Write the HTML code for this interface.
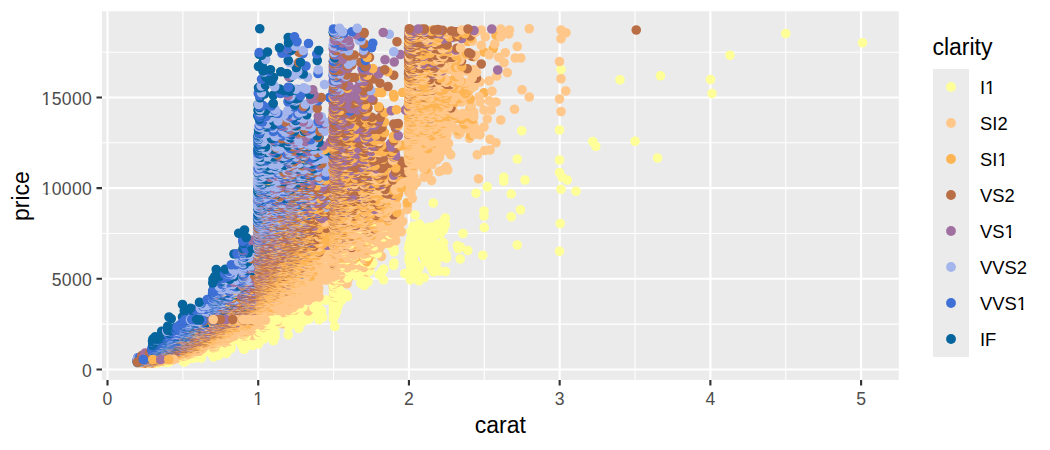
<!DOCTYPE html>
<html><head><meta charset="utf-8"><style>
html,body{margin:0;padding:0;background:#fff;width:1050px;height:450px;overflow:hidden}
svg{display:block;font-family:"Liberation Sans",sans-serif}
</style></head><body>
<svg width="1050" height="450" viewBox="0 0 1050 450">
<rect x="102.0" y="11.3" width="796.8" height="368.6" fill="#EBEBEB"/>
<path d="M182.86 11.3V379.9M333.58 11.3V379.9M484.30 11.3V379.9M635.02 11.3V379.9M785.74 11.3V379.9M102.0 324.12H898.8M102.0 233.47H898.8M102.0 142.81H898.8M102.0 52.16H898.8" stroke="#fff" stroke-width="1.07" fill="none"/>
<path d="M107.50 11.3V379.9M258.22 11.3V379.9M408.94 11.3V379.9M559.66 11.3V379.9M710.38 11.3V379.9M861.10 11.3V379.9M102.0 369.45H898.8M102.0 278.79H898.8M102.0 188.14H898.8M102.0 97.48H898.8" stroke="#fff" stroke-width="2.13" fill="none"/>
<style>.k0{stroke:#FFFF99}.k1{stroke:#FFC78A}.k2{stroke:#FDB453}.k3{stroke:#BA6E45}.k4{stroke:#A070A0}.k5{stroke:#A3B5EB}.k6{stroke:#3E70D6}.k7{stroke:#05659C}</style><g transform="scale(0.25)" stroke-width="38.4" stroke-linecap="round" fill="none"><path class="k0" d="M3143 134zm307 37zm-530 50zm-676 57zm598 40zm-200-15zm-162 16zm368 55zm-610 146zm-151 3zm284 43zm12 19zm157-20zm90 67zm-561 4zm169 4zm10 69zm-10-19zm-223 19zm-66 38zm66-22zm85-5zm144 37zm25-37zm35 45zm-259 11zm-141-3zm-171 39zm349 27zm-37 28zm-109-23zm0 20zm-155 8zm-121-12zm-7 45zm2 1zm4 12zm17-22zm4 5zm28 11zm12-4zm17-1zm14-10zm23 22zm2-36zm6 16zm155 11zm304-16zm-389 40zm-91 3zm-4-11zm-26 18zm-22-20zm-7 35zm0-39zm-1 27zm-1-23zm-3 5zm-6 16zm-13-1zm-10 8zm-4-10zm-5 9zm-11-1zm-5 5zm-67 41zm58-1zm3-11zm0-9zm11-2zm12 16zm7 1zm5-22zm1 28zm0-22zm0-7zm1 10zm15 10zm3-21zm5 10zm12 6zm5-22zm5 37zm3-34zm10-3zm8 15zm3 15zm31 7zm0-26zm56 12zm3 11zm8-6zm228-8zm169 25zm-307 16zm-60-19zm-30 34zm-55-3zm0-12zm-10 6zm-7 0zm-14-17zm-9 25zm-24-34zm-1 25zm0-19zm-5 16zm-3-16zm-6 21zm-1-28zm-8 33zm-1-13zm-9-7zm-17-11zm0-1zm-18 30zm0-26zm-10 25zm0-2zm-2 1zm0-3zm-5 5zm0-3zm-60-21zm-41 69zm39-15zm2-9zm60-10zm6 21zm1-18zm9 0zm1 21zm1-26zm12 21zm1 8zm10 3zm26-24zm6-3zm16 26zm0-15zm20-1zm37 31zm-24-2zm-24 3zm-37 23zm-26-11zm-1-17zm-28 3zm-1 34zm-22-25zm-85 25zm-6-34zm-11 14zm-49-10zm-6 23zm0-9zm-6-12zm-2 16zm-1 9zm-10-15zm0 32zm13-9zm1 18zm15-15zm204-4zm-286 63zm-6-9zm-33 13zm-3 5zm-3-4zm-3 8zm-2-1zm0-1zm0-8zm-1 4zm0 0zm-3 0zm-1 3zm0-5zm-2-2zm-64 28zm9 18zm21-35zm7 0zm27 18zm0 0zm0-11zm0-3zm1 32zm0-3zm0-1zm0-21zm0-10zm1 24zm0-13zm0-6zm1 17zm0-1zm0-8zm0-10zm3 17zm0 0zm0-5zm0-5zm0-4zm1 25zm0-1zm0-3zm0-26zm1 24zm0-15zm0-1zm1 19zm3 4zm0-12zm0-3zm0-3zm2 1zm1 7zm0-13zm4 16zm1-23zm12 0zm-19 43zm-5 13zm-1-8zm0-7zm-1 13zm-3-15zm-1 26zm0-4zm0-3zm0-21zm-1 6zm-1 29zm0-21zm-42 15zm-5-26zm-6 11zm0-2zm-4 27zm-16-25zm-24 22zm-16-3zm0-4zm-8-12zm-18 3zm-118 50zm17 1zm20-15zm40 12zm1-8zm10-3zm31 16zm12-23zm132 16zm-186 33zm-52-8zm-1 17zm-5-20zm-8 14zm-19 1zm-11 12zm-13-7zm-4 6zm0-3zm-1-7zm-5 12zm-54 1zm0-8zm-2 10zm-6-2zm-1-6zm-119 44zm1 4zm4 0zm0-2zm0-2zm0 0zm0-1zm2 5zm1-1zm22-2zm0-3zm0-2zm5 6zm1 2zm2 0zm6-2zm10-3zm5 2zm0-2zm1 4zm0-14zm1 13zm5-15zm6 12zm1-4zm40-12zm6 6zm0-11zm0-11zm1 28zm0-17zm1 10zm0-2zm0-5zm0 0zm0-3zm0-2zm0-5zm0-4zm1 34zm0-10zm0-2zm0-5zm0-3zm3 21zm0-10zm2-18zm0-3zm1 23zm6-14zm10-5zm14 12zm24-6zm0-6zm0-6zm7-3zm53 2zm-188 50zm-13-12zm-5 3zm-13 17zm0-18zm-4 10zm0-10zm-6 17zm0-14zm-1 6zm0-3zm-1-1zm-3-5zm0-2zm-1 10zm0-5zm0-6zm-1 8zm0-3zm-1 14zm0-5zm-1-13zm-2 27zm0-14zm0-14zm-1 19zm0-6zm0-4zm0-2zm0-1zm0-5zm-1 13zm0-2zm0-1zm0-3zm0-4zm-1 14zm0-9zm0-2zm-5 6zm-41 19zm0-3zm-1-4zm-7-8zm-12 10zm-5 4zm0-1zm0-4zm-11 7zm-6-8zm-7 8zm-1-1zm-10 3zm0-2zm-1 4zm-7 2zm-7-5zm-142 20zm6-1zm30 0zm47-3zm8-3zm52-4zm1 2zm0-3zm5 6zm0-3zm2-3zm4 2z"/><path class="k3" d="M2545 120zm-620 136zm-350 45z"/><path class="k2" d="M1984 141zm-11 54zm-37 13zm-41 19zm41 144zm-360 17zm-2-10zm-47-7zm-556 876zm-5 0z"/><path class="k1" d="M2003 116zm114-1zm147 16zm-20-11zm0 35zm-206-35zm-3 16zm-32 11zm-62 0zm-16-27zm0 61zm54-5zm90 10zm14 46zm-22 0zm-40-21zm-26 18zm-38-10zm59 32zm222-5zm6 69zm-215-25zm-42 14zm-121-20zm54 44zm37-5zm131 36zm175 5zm-25 32zm-121-8zm-149-23zm-51 22zm3 21zm37-5zm27 5zm74 29zm186 9zm-279-6zm-16 36zm-13-36zm0 68zm67-28zm-43 77zm-40-18zm-42 14zm-37-21zm-7 6zm-5-9zm-41 9zm-20 10zm-61 47zm9 1zm4 3zm49 0zm5 0zm6-30zm6 19zm0-24zm1 1zm7 9zm190-3zm-24 29zm-21 2zm-30 17zm-106 0zm-12-15zm-27 2zm-2 4zm-4 19zm-9 10zm-5-19zm-16 0zm-33 9zm-1-25zm-9 26zm100 37zm129 48zm-123-35zm-24 2zm-6 2zm-4 2zm-44 8zm-5-6zm-12 21zm-41-3zm-19-2zm-2 11zm0-1zm0 41zm20-10zm12-15zm60-8zm-85 46zm-12 70zm1-13zm-31 75zm7-10zm5-5zm-5 42zm-25 13zm-55 86zm-212 43zm154 19zm-175 18zm-14 13zm-4-2zm-1-7zm-8 5zm-4-1zm-24 39zm0-12zm0-6zm2 0zm4 8zm0-14zm4 15zm1-1zm1-6zm5 14zm11-5zm7-7zm0-7zm0-8zm1 3zm1 25zm4-32zm61 69zm-64-1zm-2-24zm-1 6zm-15 13zm-15-17zm-4 1zm-7-5zm-5 23zm-2-15zm-1 1zm-2 15zm-1-9zm-1-5zm-1 1zm-5 3zm-8 8zm0-9zm0-8zm-3 9zm-1-7zm-2-2zm-3 8zm0-1zm-1 5zm-7-11zm44 76zm-79 8zm-2-4zm-21 5zm-2-2zm-6-2zm-13 0zm-4-4zm-13 1zm-1-3zm-5-2zm-5 1zm-6 4zm-8 0zm-1-1zm-246 9zm308 41zm-541 158z"/><path class="k4" d="M1967 116zm-390 132zm414 32zm-603 89z"/><path class="k6" d="M1272 294zm-662 1092zm-59 45z"/><path class="k7" d="M1039 115zm54 266zm-354 879zm-3 6zm-6 2zm-45 7zm-9-7z"/><path class="k6" d="M755 1247zm-12 7z"/><path class="k5" d="M1273 279zm-43 30zm-401 941z"/><path class="k7" d="M1269 242zm-539 976zm121 30zm-78-4zm-36 0z"/><path class="k0" d="M1643 926zm-199 151zm35 8zm-25-4zm-91 108zm-15-3zm0-3zm-1-5zm-5 8zm-1-4zm0-9zm-1 14zm0-8zm-1 3zm-5-8zm-79 56zm-82 14zm-3 4zm-16-2zm-1 0zm-43 43zm7 2zm0-3zm23-1zm8 5zm4 1zm0-2zm1-1zm1 2zm5-1zm1-4zm10-2zm49-5z"/><path class="k5" d="M851 1246z"/><path class="k6" d="M1267 216zm-415 1030z"/><path class="k5" d="M817 1245z"/><path class="k7" d="M1275 202zm-424 1043zm0-1zm-47 0z"/><path class="k5" d="M852 1242zm-1 1zm0-2zm-34 2zm-24 1z"/><path class="k1" d="M1484 1060zm-150 113zm-83 17zm-110 49zm18 0zm5 0zm1 0zm14 1zm-26 2zm-1 0zm-22-2zm-1 3zm0-2zm-7 2zm-5 1z"/><path class="k3" d="M1888 225zm-336 121zm-603 897zm-373 210z"/><path class="k4" d="M971 1243zm-46-1z"/><path class="k2" d="M1883 542zm-50-19zm-130 153zm-74 135zm-604 432z"/><path class="k1" d="M1902 221zm-86 291zm26 6zm28-4zm35 3zm-6 18zm-3 3zm-186 98zm-16 38zm8-12zm7-8zm19 4zm-79 136zm-5-21zm-640 469z"/><path class="k3" d="M997 1242zm-102-1z"/><path class="k6" d="M875 1240zm-4 0zm-78 2z"/><path class="k2" d="M1859 497zm-146 97zm-681 648zm-61 0z"/><path class="k1" d="M1888 491zm6 5zm-138 95zm-685 651zm-6-1zm-3 0zm-4 0zm-7 1z"/><path class="k5" d="M823 1242z"/><path class="k6" d="M787 1242zm-2 0z"/><path class="k2" d="M1853 490zm-843 752z"/><path class="k3" d="M1025 1241zm-88 0z"/><path class="k4" d="M971 1241z"/><path class="k3" d="M932 1241z"/><path class="k6" d="M895 1241z"/><path class="k5" d="M992 1241zm-195-1z"/><path class="k1" d="M1852 482zm25 7zm-831 751z"/><path class="k2" d="M1891 477zm-14-8zm-803 771zm-139 0z"/><path class="k5" d="M1009 1240z"/><path class="k2" d="M1032 1239zm-35 1z"/><path class="k3" d="M986 1240z"/><path class="k4" d="M911 1240z"/><path class="k7" d="M890 1240z"/><path class="k5" d="M877 1239zm-13 1zm-13 0z"/><path class="k2" d="M1015 1240zm-5 0zm-18 0z"/><path class="k3" d="M942 1240z"/><path class="k1" d="M1879 436zm5-9zm11 39zm0-17zm-977 790zm140 0zm11 0z"/><path class="k4" d="M943 1239z"/><path class="k2" d="M971 1239zm74 0z"/><path class="k3" d="M974 1239zm17 0z"/><path class="k6" d="M781 1237zm11-2zm4 0zm3 3zm53 1z"/><path class="k1" d="M1052 1239z"/><path class="k4" d="M864 1239zm116 0zm5 0z"/><path class="k2" d="M1033 1239z"/><path class="k1" d="M971 1239zm61 0zm6 0zm15 0zm2 0z"/><path class="k3" d="M973 1239z"/><path class="k4" d="M1015 1239z"/><path class="k6" d="M852 1239zm24-1z"/><path class="k2" d="M995 1239z"/><path class="k4" d="M962 1238z"/><path class="k0" d="M1335 1155zm5-1zm11 1zm12 16zm-9-5zm-2 3zm-4 0zm-6 4zm-3-5zm-3 0zm0-8zm-1 2zm-1 8zm-235 68zm74-1zm-2 44zm-560 172zm6-1z"/><path class="k5" d="M863 1238z"/><path class="k4" d="M896 1238z"/><path class="k5" d="M869 1238zm37 0z"/><path class="k3" d="M889 1238zm42 0zm54 0z"/><path class="k1" d="M1339 1152zm-308 86zm15 0zm67 0zm5-5zm22-8zm1 4zm5 8zm12-2zm0 0zm1-2zm-589 219zm40 0z"/><path class="k2" d="M992 1238z"/><path class="k3" d="M1014 1238zm-405 213z"/><path class="k1" d="M1044 1238zm-428 213z"/><path class="k2" d="M1032 1238z"/><path class="k4" d="M979 1238zm1 0z"/><path class="k6" d="M883 1238z"/><path class="k5" d="M841 1238zm22 0zm50 0zm60 0zm-422 213z"/><path class="k1" d="M1040 1238zm-472 213z"/><path class="k4" d="M908 1238z"/><path class="k1" d="M912 1238z"/><path class="k3" d="M919 1238zm12-1zm7 0zm27 0z"/><path class="k6" d="M803 1236zm19 1z"/><path class="k2" d="M912 1237zm144 0zm12 0zm-518 214zm17-1zm33 1z"/><path class="k1" d="M858 1237zm132 0zm41 0zm2 0zm48 0zm8 0zm6-4zm5 2zm10-1z"/><path class="k4" d="M907 1237z"/><path class="k3" d="M892 1237zm3-1zm5 1zm86 0z"/><path class="k5" d="M804 1234zm47 3z"/><path class="k2" d="M931 1236zm103 1z"/><path class="k1" d="M1010 1237zm34 0zm9 0zm15 0z"/><path class="k6" d="M851 1237z"/><path class="k4" d="M971 1236z"/><path class="k2" d="M1039 1236z"/><path class="k5" d="M864 1236z"/><path class="k3" d="M908 1236zm10 0zm30 0zm25 0zm7 0z"/><path class="k6" d="M851 1236zm12 0z"/><path class="k1" d="M991 1236zm43 0zm12 0zm24 0z"/><path class="k3" d="M899 1236z"/><path class="k7" d="M762 1233zm143 3z"/><path class="k4" d="M990 1236z"/><path class="k5" d="M802 1232zm6 2zm61 2z"/><path class="k2" d="M950 1235zm16 0zm78 1z"/><path class="k6" d="M852 1235zm11 0z"/><path class="k3" d="M986 1235z"/><path class="k1" d="M971 1235zm60 0zm0-1zm2 0zm5 0zm5 1zm12-1zm2 1zm0 0zm10 0zm15 0zm4-2z"/><path class="k5" d="M851 1235zm6 0zm90 0z"/><path class="k3" d="M926 1235zm47 0z"/><path class="k2" d="M912 1235zm126-1z"/><path class="k4" d="M857 1235zm13 0z"/><path class="k1" d="M925 1235zm119-1zm7 0z"/><path class="k3" d="M967 1235z"/><path class="k4" d="M971 1235z"/><path class="k7" d="M853 1235zm31-1z"/><path class="k2" d="M899 1234zm73 0zm11 0zm49-1zm30 0z"/><path class="k3" d="M924 1234zm13 0z"/><path class="k7" d="M859 1234z"/><path class="k1" d="M869 1234zm183-1zm16 0zm7-1z"/><path class="k3" d="M900 1234z"/><path class="k2" d="M919 1234zm53 0z"/><path class="k6" d="M858 1234z"/><path class="k5" d="M852 1234zm1-1zm78 1z"/><path class="k4" d="M851 1233zm129 1z"/><path class="k2" d="M990 1234z"/><path class="k3" d="M924 1234z"/><path class="k4" d="M972 1233z"/><path class="k2" d="M911 1233z"/><path class="k6" d="M850 1233zm1 0zm7 0zm1 0z"/><path class="k3" d="M973 1233zm12 0zm6 0zm12 0z"/><path class="k4" d="M906 1233z"/><path class="k2" d="M974 1232zm4 0zm38 0z"/><path class="k5" d="M851 1232zm2 0z"/><path class="k1" d="M920 1232zm111 0zm7 0zm8 0z"/><path class="k2" d="M1031 1232z"/><path class="k1" d="M991 1232zm18 0zm30 0zm7 0zm18 0zm6 0z"/><path class="k4" d="M874 1232zm31 0z"/><path class="k0" d="M1333 1151zm7 0zm5-4zm1 4zm2-2zm6-1zm5 1zm-175 83zm-548 218z"/><path class="k5" d="M864 1232zm17 0z"/><path class="k2" d="M1095 1232z"/><path class="k1" d="M1333 1146zm-422 86zm145-1zm8 0zm23 0zm42-1zm1 0zm12-8zm13 5zm3-3zm2 1zm1 3zm0-2zm4 3zm6 2zm0 0zm-573 219zm19 0z"/><path class="k2" d="M919 1231zm96 0zm-442 219z"/><path class="k3" d="M983 1231z"/><path class="k2" d="M990 1231z"/><path class="k1" d="M956 1231zm34 0zm54 0zm-435 219z"/><path class="k4" d="M864 1231zm48 0z"/><path class="k5" d="M857 1231zm-308 219z"/><path class="k6" d="M851 1231z"/><path class="k3" d="M887 1231zm56 0zm31 0zm4 0zm25 0zm-392 219z"/><path class="k1" d="M1031 1231zm-412 218zm2 0zm9 0z"/><path class="k4" d="M911 1231zm0 0z"/><path class="k2" d="M1040 1231zm-482 219z"/><path class="k6" d="M864 1231z"/><path class="k5" d="M858 1231z"/><path class="k3" d="M989 1231zm-414 218z"/><path class="k4" d="M968 1231z"/><path class="k1" d="M971 1231zm87-1zm24 0z"/><path class="k2" d="M929 1231zm63-1zm9 1zm43-1zm25 0z"/><path class="k5" d="M894 1231zm6-1z"/><path class="k3" d="M944 1230z"/><path class="k7" d="M852 1230z"/><path class="k5" d="M853 1229zm5 1zm62 0z"/><path class="k1" d="M991 1230zm31 0zm40 0z"/><path class="k2" d="M971 1230zm78 0zm40 0z"/><path class="k1" d="M985 1230zm46 0zm1-1zm1 1zm6 0zm12-1zm1 1zm7-1zm5 0zm30 0zm19 0zm16 0z"/><path class="k3" d="M947 1230z"/><path class="k2" d="M971 1230zm2 0zm5 0zm5 0z"/><path class="k4" d="M917 1230z"/><path class="k3" d="M971 1229zm9 0z"/><path class="k4" d="M992 1229z"/><path class="k2" d="M884 1229zm33 0z"/><path class="k3" d="M1008 1229z"/><path class="k4" d="M971 1229z"/><path class="k5" d="M869 1229z"/><path class="k1" d="M985 1229zm47 0zm13-1z"/><path class="k2" d="M971 1229zm37-1zm78 0z"/><path class="k6" d="M851 1229zm-284 220zm1 0z"/><path class="k3" d="M894 1229z"/><path class="k7" d="M863 1229z"/><path class="k4" d="M883 1228zm23 0zm74 0z"/><path class="k1" d="M1033 1228zm74-1zm-525 221z"/><path class="k3" d="M908 1228z"/><path class="k5" d="M834 1228zm137 0z"/><path class="k2" d="M920 1228zm112 0zm5 0zm15 0zm-440 220z"/><path class="k3" d="M937 1228zm41 0z"/><path class="k6" d="M850 1228zm14 0z"/><path class="k2" d="M991 1228z"/><path class="k0" d="M1335 1144zm0-3zm17 2zm1 0zm-141 85zm-552 220zm10-1zm0 0z"/><path class="k3" d="M971 1228z"/><path class="k7" d="M852 1228z"/><path class="k1" d="M1341 1137zm-116 56zm-16-5zm-1-3zm-2 9zm-138 34zm102-3zm2-1zm7-1zm54-21z"/><path class="k2" d="M1009 1228zm38-1zm15 0zm18 0z"/><path class="k4" d="M913 1227z"/><path class="k1" d="M911 1227zm108 0zm39 0zm52-1zm2 1zm7-3z"/><path class="k5" d="M857 1227zm1 0zm14 0zm-281 221z"/><path class="k2" d="M985 1227zm46 0zm10 0zm10 0zm-481 221zm5 0z"/><path class="k7" d="M906 1227z"/><path class="k3" d="M972 1227zm6 0zm14 0zm-376 221z"/><path class="k5" d="M894 1227zm19 0z"/><path class="k2" d="M979 1227zm55 0z"/><path class="k3" d="M973 1227z"/><path class="k2" d="M1010 1227z"/><path class="k1" d="M1056 1227zm2 0zm34-1zm1-1zm-489 223z"/><path class="k4" d="M917 1227zm-336 221z"/><path class="k6" d="M875 1227z"/><path class="k5" d="M851 1226z"/><path class="k3" d="M1016 1226zm3 0z"/><path class="k6" d="M811 1225zm17 0zm30 1z"/><path class="k4" d="M894 1226zm12 0z"/><path class="k2" d="M984 1226zm54 0z"/><path class="k1" d="M1032 1226z"/><path class="k4" d="M978 1226z"/><path class="k3" d="M926 1226zm46 0zm2 0zm9 0zm14 0zm4 0z"/><path class="k1" d="M1031 1226z"/><path class="k2" d="M1044 1226z"/><path class="k3" d="M991 1226z"/><path class="k1" d="M1044 1226z"/><path class="k4" d="M900 1225zm23 1zm44-1z"/><path class="k6" d="M851 1225z"/><path class="k3" d="M979 1225zm13 0zm15 0z"/><path class="k5" d="M890 1225zm63 0z"/><path class="k3" d="M882 1225z"/><path class="k5" d="M851 1225zm5 0z"/><path class="k6" d="M853 1224zm11 0zm49 1z"/><path class="k3" d="M924 1225z"/><path class="k2" d="M918 1224zm91 1z"/><path class="k1" d="M1045 1225z"/><path class="k3" d="M971 1224zm27 0zm28 0z"/><path class="k1" d="M1037 1224z"/><path class="k2" d="M1020 1224z"/><path class="k1" d="M1041 1224zm12 0z"/><path class="k3" d="M977 1224zm2 0zm53 0z"/><path class="k5" d="M814 1223zm19 0zm17 1zm1 0zm13 0z"/><path class="k1" d="M1064 1224z"/><path class="k4" d="M895 1224zm19 0zm15 0zm3 0zm9 0z"/><path class="k2" d="M949 1224zm10-1zm36 1zm57 0zm24 0zm12 0z"/><path class="k3" d="M972 1223zm25 0zm10 1zm7 0z"/><path class="k1" d="M1045 1224zm17-1zm36 0zm9-1zm5 1zm5-4zm11 5z"/><path class="k5" d="M859 1223zm7 0zm39 1z"/><path class="k2" d="M974 1223zm41 0z"/><path class="k1" d="M1001 1223zm33 0zm10 0z"/><path class="k4" d="M871 1223z"/><path class="k2" d="M1026 1223z"/><path class="k6" d="M850 1223zm6 0z"/><path class="k1" d="M1031 1223zm9 0zm28 0z"/><path class="k3" d="M920 1223zm59 0z"/><path class="k2" d="M985 1223zm72 0z"/><path class="k3" d="M973 1223z"/><path class="k1" d="M908 1223zm22 0zm121-1z"/><path class="k7" d="M980 1223zm-431 225z"/><path class="k0" d="M1346 1136zm-174 86zm-548 226zm29-1zm4 1z"/><path class="k4" d="M913 1222zm78 0zm-424 225z"/><path class="k1" d="M1336 1135zm52 0zm-476 87zm120 0zm98-7zm0-1zm0-3zm4 7zm0 0zm3-3zm0-3zm3-2zm9 10zm3 2zm1-3zm0-8zm0-1zm0-2zm0 0zm5 2zm1 5zm1-1zm0-9zm1 0zm4 14zm0-2zm1-1zm0-9zm1 14zm4-17zm2 14zm3 4zm0 0zm2-7zm4-11zm8 2zm7 0zm3 9z"/><path class="k5" d="M859 1222zm-253 225z"/><path class="k7" d="M851 1222z"/><path class="k3" d="M906 1222zm59 0z"/><path class="k4" d="M971 1222z"/><path class="k1" d="M1009 1222zm-415 225zm5 0zm25 0z"/><path class="k5" d="M859 1222z"/><path class="k3" d="M1003 1222z"/><path class="k4" d="M888 1221zm84 1zm7 0zm-406 225zm14 0z"/><path class="k2" d="M971 1222zm49 0zm17 0zm8 0zm22 0zm-449 225z"/><path class="k1" d="M997 1221zm43 1zm60-1z"/><path class="k2" d="M977 1221z"/><path class="k6" d="M911 1221z"/><path class="k4" d="M1025 1221z"/><path class="k1" d="M1063 1221z"/><path class="k3" d="M920 1221zm83 0z"/><path class="k7" d="M853 1221z"/><path class="k6" d="M850 1221z"/><path class="k1" d="M974 1221z"/><path class="k4" d="M936 1220zm35 1zm2 0zm0-1z"/><path class="k2" d="M1057 1221z"/><path class="k1" d="M1038 1221zm2-1zm5 1zm17 0zm32-1z"/><path class="k5" d="M851 1219zm3 1zm0-1zm9 1zm18 0zm-312 227zm29 0z"/><path class="k4" d="M919 1220z"/><path class="k3" d="M924 1220zm47 0zm-390 227z"/><path class="k2" d="M986 1220zm5 0zm40 0zm7 0zm6 0zm7 0zm12 0zm-471 227z"/><path class="k7" d="M899 1220zm-342 226z"/><path class="k1" d="M1081 1220zm7 0zm12-1z"/><path class="k5" d="M1009 1220z"/><path class="k1" d="M1032 1219zm18 1z"/><path class="k3" d="M923 1220zm57 0z"/><path class="k5" d="M889 1220z"/><path class="k4" d="M971 1219zm3 1z"/><path class="k3" d="M1015 1219z"/><path class="k6" d="M911 1219z"/><path class="k4" d="M948 1219z"/><path class="k1" d="M1040 1219zm0 0zm6 0z"/><path class="k5" d="M869 1219z"/><path class="k2" d="M984 1219zm50 0zm46 0zm-513 227z"/><path class="k3" d="M947 1219zm42 0z"/><path class="k7" d="M920 1219z"/><path class="k2" d="M972 1219zm60 0z"/><path class="k5" d="M973 1219z"/><path class="k6" d="M852 1219zm17 0z"/><path class="k3" d="M1026 1219z"/><path class="k4" d="M906 1219z"/><path class="k1" d="M1032 1219zm11-1zm9 0zm6 0zm6 0zm18-1zm4 1zm12 0zm8-1zm7-3zm3 1z"/><path class="k5" d="M817 1217zm24 1zm17 0zm12 0zm25 1zm4-1z"/><path class="k2" d="M971 1218zm21 0z"/><path class="k1" d="M1031 1218z"/><path class="k3" d="M977 1218z"/><path class="k6" d="M869 1218zm9-1z"/><path class="k2" d="M1038 1218z"/><path class="k1" d="M984 1218zm56 0z"/><path class="k3" d="M973 1218zm61 0z"/><path class="k4" d="M971 1217z"/><path class="k3" d="M1008 1217z"/><path class="k2" d="M972 1217zm91 0z"/><path class="k5" d="M851 1217zm2 0zm13 0z"/><path class="k1" d="M1047 1217zm10 0zm14 0zm22 0z"/><path class="k7" d="M913 1217z"/><path class="k2" d="M923 1217zm127 0z"/><path class="k4" d="M992 1217z"/><path class="k3" d="M984 1217z"/><path class="k2" d="M1032 1217z"/><path class="k4" d="M972 1216z"/><path class="k1" d="M1039 1216zm13 0z"/><path class="k6" d="M857 1216zm73 0z"/><path class="k3" d="M990 1216z"/><path class="k2" d="M1037 1216zm32 0z"/><path class="k4" d="M978 1216z"/><path class="k1" d="M1003 1216zm85 0z"/><path class="k2" d="M973 1216zm61 0zm35 0z"/><path class="k5" d="M851 1216z"/><path class="k4" d="M936 1216zm1 0zm49 0z"/><path class="k5" d="M943 1216z"/><path class="k2" d="M1026 1216z"/><path class="k4" d="M1004 1216z"/><path class="k2" d="M984 1216z"/><path class="k6" d="M851 1215zm20 1z"/><path class="k1" d="M1053 1215zm5 1zm11-1zm37 1zm5-2zm1 1z"/><path class="k3" d="M920 1215zm51 0zm36 0z"/><path class="k5" d="M863 1215z"/><path class="k4" d="M980 1215z"/><path class="k3" d="M974 1215z"/><path class="k1" d="M893 1215zm145 0z"/><path class="k6" d="M852 1215zm13 0z"/><path class="k3" d="M906 1215z"/><path class="k4" d="M900 1215zm17-1z"/><path class="k2" d="M1053 1215z"/><path class="k3" d="M1017 1215z"/><path class="k5" d="M839 1215zm30 0z"/><path class="k4" d="M896 1214zm88 1z"/><path class="k2" d="M1015 1215z"/><path class="k1" d="M1032 1215zm12 0zm25 0z"/><path class="k2" d="M1034 1215zm6 0z"/><path class="k1" d="M1046 1214zm5 0zm11 1zm19-1z"/><path class="k5" d="M857 1214zm129 1z"/><path class="k4" d="M996 1214zm12 0z"/><path class="k3" d="M971 1214zm13 0zm49 0z"/><path class="k4" d="M978 1214z"/><path class="k2" d="M971 1214z"/><path class="k1" d="M1058 1214zm16 0z"/><path class="k2" d="M1043 1214z"/><path class="k3" d="M1069 1214z"/><path class="k2" d="M1035 1214z"/><path class="k3" d="M1040 1214z"/><path class="k6" d="M805 1214zm54 0zm58-1z"/><path class="k7" d="M851 1214zm165-1z"/><path class="k5" d="M798 1213zm53 0zm0-1zm6 1zm55 0z"/><path class="k2" d="M1073 1213z"/><path class="k1" d="M1087 1213zm8 0zm6-1z"/><path class="k4" d="M899 1212zm48 1zm38 0z"/><path class="k2" d="M1010 1213z"/><path class="k3" d="M1031 1213z"/><path class="k4" d="M1002 1213z"/><path class="k1" d="M1025 1212zm38 0z"/><path class="k2" d="M1032 1212z"/><path class="k1" d="M1046 1212z"/><path class="k3" d="M961 1212zm13 0z"/><path class="k6" d="M858 1212zm0 0zm36 0z"/><path class="k2" d="M1032 1212zm6 0z"/><path class="k1" d="M1032 1212z"/><path class="k2" d="M1071 1212z"/><path class="k4" d="M992 1212z"/><path class="k3" d="M971 1212zm1-1zm78 0z"/><path class="k1" d="M1087 1211zm24 1z"/><path class="k7" d="M798 1209zm56 2zm22 0z"/><path class="k2" d="M984 1211z"/><path class="k4" d="M1034 1211z"/><path class="k1" d="M918 1211zm55 0zm66 0z"/><path class="k2" d="M1008 1211zm29 0z"/><path class="k1" d="M977 1211zm12 0zm69 0zm7-1zm3 1z"/><path class="k5" d="M852 1211z"/><path class="k7" d="M914 1211zm17-1z"/><path class="k6" d="M851 1211zm12 0z"/><path class="k4" d="M1009 1211zm0 0z"/><path class="k3" d="M913 1210zm72 0z"/><path class="k5" d="M853 1210zm4 0zm25-1zm6 0zm11 0zm8 0zm76 1z"/><path class="k3" d="M1021 1210z"/><path class="k2" d="M996 1210zm53 0z"/><path class="k3" d="M980 1210z"/><path class="k1" d="M1082 1210z"/><path class="k4" d="M923 1209zm87 1z"/><path class="k2" d="M1075 1210z"/><path class="k1" d="M1031 1210zm9 0zm4 0zm19 0zm41-2zm2 1z"/><path class="k3" d="M977 1210zm61 0z"/><path class="k2" d="M980 1210z"/><path class="k4" d="M971 1210z"/><path class="k1" d="M1039 1210zm23-1z"/><path class="k2" d="M1031 1209z"/><path class="k1" d="M1070 1209z"/><path class="k2" d="M1055 1209zm4 0z"/><path class="k1" d="M1062 1209zm0-1zm25 1z"/><path class="k7" d="M911 1209z"/><path class="k3" d="M966 1209z"/><path class="k2" d="M991 1209zm103-1z"/><path class="k6" d="M866 1209z"/><path class="k3" d="M973 1209z"/><path class="k5" d="M858 1208zm11 0zm7 1z"/><path class="k4" d="M980 1209z"/><path class="k2" d="M1003 1209z"/><path class="k1" d="M1032 1208zm68 0zm17 0zm11-3zm8-1z"/><path class="k5" d="M973 1208z"/><path class="k4" d="M980 1208z"/><path class="k2" d="M1016 1208zm17 0zm13 0zm114-4z"/><path class="k1" d="M1195 1179zm-6 15zm0-8zm0-4zm-4 5zm0-4zm-1-7zm-2 18zm0-4zm-4-9zm-1 9zm0-14zm0-3zm0-1zm-1 19zm0-22zm0-2zm-3 31zm-3-2zm0-4zm-3 3zm-6 3zm-130 10zm0 0zm1-1zm5 1zm14 0zm19 0zm60-5zm19 0zm5 0zm4-1zm3-1zm6 0zm5 1zm1 0zm4 1zm13-2zm7-1z"/><path class="k5" d="M979 1208z"/><path class="k6" d="M851 1207zm68 1z"/><path class="k3" d="M972 1208z"/><path class="k1" d="M912 1208z"/><path class="k2" d="M1081 1207z"/><path class="k5" d="M858 1207zm1-1zm16 1z"/><path class="k1" d="M1062 1207zm35 0zm3 0zm0-1z"/><path class="k2" d="M1034 1207z"/><path class="k1" d="M1038 1207zm8 0zm28 0z"/><path class="k4" d="M977 1207z"/><path class="k3" d="M919 1205zm53 2zm20 0z"/><path class="k2" d="M980 1207zm73 0z"/><path class="k7" d="M973 1207z"/><path class="k1" d="M1057 1207zm5-1zm18 0zm2 1z"/><path class="k2" d="M991 1207z"/><path class="k3" d="M936 1207zm79-1z"/><path class="k6" d="M850 1206zm19 0z"/><path class="k1" d="M1032 1206zm2 0zm10 0z"/><path class="k7" d="M876 1206z"/><path class="k3" d="M1013 1206z"/><path class="k2" d="M1038 1206z"/><path class="k4" d="M984 1206z"/><path class="k3" d="M972 1206zm31 0z"/><path class="k4" d="M991 1206z"/><path class="k1" d="M1057 1206z"/><path class="k2" d="M978 1206zm74 0z"/><path class="k1" d="M1014 1206zm23 0z"/><path class="k4" d="M973 1206zm35-1z"/><path class="k2" d="M955 1205zm36 0zm67 0zm17 0z"/><path class="k5" d="M870 1205z"/><path class="k1" d="M1049 1205zm64 0z"/><path class="k2" d="M1040 1205zm23 0zm23 0z"/><path class="k4" d="M979 1205z"/><path class="k6" d="M850 1204zm32 0zm102 0z"/><path class="k1" d="M1033 1204zm1 0zm47 0zm25 0z"/><path class="k3" d="M971 1204zm3 0z"/><path class="k2" d="M986 1204zm53 0z"/><path class="k5" d="M851 1204zm43 0z"/><path class="k1" d="M1050 1204zm18 0z"/><path class="k4" d="M864 1204zm108 0z"/><path class="k2" d="M911 1204zm156-1z"/><path class="k7" d="M859 1204z"/><path class="k1" d="M1051 1203zm8 0zm18 0zm17 0z"/><path class="k2" d="M1032 1203z"/><path class="k3" d="M971 1203zm51 0z"/><path class="k1" d="M978 1203zm79 0z"/><path class="k2" d="M1040 1203z"/><path class="k3" d="M1035 1203zm21 0z"/><path class="k1" d="M1087 1203zm11 0z"/><path class="k6" d="M881 1203z"/><path class="k2" d="M1037 1203zm8 0z"/><path class="k7" d="M862 1203z"/><path class="k5" d="M883 1203z"/><path class="k1" d="M1040 1203zm37 0z"/><path class="k2" d="M1031 1203zm62-1z"/><path class="k3" d="M991 1203z"/><path class="k7" d="M853 1203z"/><path class="k2" d="M1011 1202z"/><path class="k5" d="M857 1202z"/><path class="k4" d="M919 1202z"/><path class="k3" d="M983 1202z"/><path class="k2" d="M972 1202zm23 0z"/><path class="k1" d="M1058 1202zm42-1zm23 1z"/><path class="k2" d="M1031 1202zm67-1z"/><path class="k4" d="M943 1202zm37 0zm30 0z"/><path class="k2" d="M972 1202zm60 0zm12 0zm6 0z"/><path class="k6" d="M863 1202zm54-1z"/><path class="k4" d="M972 1202z"/><path class="k1" d="M1040 1202zm16-1zm15 0zm23-1zm19 1z"/><path class="k4" d="M1007 1202z"/><path class="k2" d="M971 1201zm26 1zm91-2z"/><path class="k5" d="M851 1201zm2 1z"/><path class="k6" d="M859 1201zm36 0z"/><path class="k1" d="M996 1201zm19 0zm80-1zm12 0zm11 0z"/><path class="k5" d="M883 1201zm43 0z"/><path class="k2" d="M998 1201z"/><path class="k6" d="M851 1201z"/><path class="k4" d="M924 1201z"/><path class="k3" d="M980 1201z"/><path class="k7" d="M876 1201z"/><path class="k5" d="M935 1200z"/><path class="k6" d="M857 1200zm1 0z"/><path class="k2" d="M996 1200z"/><path class="k4" d="M1028 1200z"/><path class="k1" d="M971 1200zm0 0z"/><path class="k3" d="M1035 1200z"/><path class="k2" d="M986 1200zm60 0z"/><path class="k5" d="M864 1199zm-6 0zm11 1zm2 0z"/><path class="k1" d="M1039 1200z"/><path class="k2" d="M1033 1200zm19 0z"/><path class="k1" d="M1069 1199zm-5 1z"/><path class="k2" d="M1088 1199zm-38 0z"/><path class="k4" d="M971 1199z"/><path class="k2" d="M984 1199z"/><path class="k6" d="M870 1199z"/><path class="k4" d="M998 1199zm-27 0z"/><path class="k1" d="M1128 1199z"/><path class="k2" d="M1110 1199z"/><path class="k5" d="M1008 1199zm-28 0zm-7 0zm-122 0z"/><path class="k3" d="M1040 1199z"/><path class="k2" d="M1046 1199z"/><path class="k1" d="M1153 1197zm-1 2zm-17-3zm-1 2zm-6-1zm-9 2zm-7-2zm0 0zm0-1zm-6 2zm-1 1zm-7-1zm0-1zm-45 2z"/><path class="k2" d="M1034 1199z"/><path class="k7" d="M932 1199z"/><path class="k1" d="M1064 1198zm-31 1z"/><path class="k2" d="M1052 1198zm-6 0zm-8 0zm-34 1z"/><path class="k6" d="M851 1199z"/><path class="k5" d="M875 1198zm-6 0zm-16 0z"/><path class="k4" d="M971 1198z"/><path class="k2" d="M986 1198z"/><path class="k6" d="M852 1198zm-23 0z"/><path class="k3" d="M1032 1198zm-47 0zm-5 0z"/><path class="k5" d="M930 1198zm-60-1zm-7 1zm0 0zm-4-1zm-6 1z"/><path class="k6" d="M983 1198zm-130-1z"/><path class="k4" d="M972 1198z"/><path class="k2" d="M1046 1198z"/><path class="k3" d="M986 1197zm-9 0zm-6 0z"/><path class="k5" d="M942 1197zm-91 0z"/><path class="k1" d="M1088 1197z"/><path class="k3" d="M1056 1197zm-5 0zm-80 0z"/><path class="k1" d="M1067 1196zm-27 0zm-3 0zm-58 1z"/><path class="k4" d="M983 1196z"/><path class="k3" d="M1033 1196zm-1 0z"/><path class="k2" d="M1122 1196zm-148 0z"/><path class="k6" d="M881 1196zm-29 0zm-1 0z"/><path class="k1" d="M1160 1191zm-1 4zm0-2zm-6 1zm-1-3zm-4 2zm-8-2zm-10 3zm-26 2zm-6-1zm-16 1zm-20 0zm-24 0z"/><path class="k4" d="M979 1196z"/><path class="k3" d="M1021 1196z"/><path class="k5" d="M1026 1196zm-163 0z"/><path class="k4" d="M991 1196z"/><path class="k3" d="M972 1196z"/><path class="k4" d="M1002 1196z"/><path class="k2" d="M1052 1196z"/><path class="k1" d="M1083 1195zm-15 0zm-5 0zm-31 1zm-47 0z"/><path class="k6" d="M875 1196z"/><path class="k4" d="M900 1195z"/><path class="k5" d="M851 1195z"/><path class="k6" d="M889 1195z"/><path class="k2" d="M1075 1195zm-29 0zm-8 0zm-6 0z"/><path class="k1" d="M1116 1195zm0 0zm-18 0z"/><path class="k4" d="M926 1195z"/><path class="k3" d="M973 1195zm-1 0zm-61 0z"/><path class="k2" d="M1009 1195z"/><path class="k4" d="M978 1195z"/><path class="k2" d="M990 1195zm-18 0z"/><path class="k3" d="M1044 1195zm-59 0zm-6-1zm-8 0z"/><path class="k1" d="M1082 1195zm-19-1z"/><path class="k6" d="M870 1194z"/><path class="k5" d="M882 1194zm-30 0z"/><path class="k3" d="M1031 1194z"/><path class="k2" d="M1075 1194zm-23 0z"/><path class="k3" d="M1014 1194z"/><path class="k7" d="M859 1194z"/><path class="k4" d="M973 1194z"/><path class="k1" d="M1099 1194zm-37 0zm-15 0zm-8 0z"/><path class="k3" d="M1079 1193zm-89 1z"/><path class="k5" d="M974 1194zm-123 0z"/><path class="k2" d="M1034 1194zm-3 0z"/><path class="k1" d="M1119 1193zm-27 0zm-36 0z"/><path class="k4" d="M1032 1193zm-17 0z"/><path class="k6" d="M911 1193z"/><path class="k7" d="M881 1193z"/><path class="k1" d="M1064 1193zm-79 0z"/><path class="k6" d="M859 1193zm-8 0z"/><path class="k2" d="M1061 1193zm-9 0z"/><path class="k1" d="M1100 1193zm-55 0z"/><path class="k5" d="M971 1193zm-59-1zm-12 0zm-42 0zm-1 1z"/><path class="k4" d="M1093 1192z"/><path class="k1" d="M1125 1191zm-15 1z"/><path class="k2" d="M1077 1192zm-19 0zm-80 0z"/><path class="k1" d="M1117 1191zm-30 1zm-14 0zm-2 0zm-13 0zm-2 0zm-22 0zm-2 0z"/><path class="k3" d="M1003 1192zm-73 0z"/><path class="k4" d="M990 1192zm-67 0z"/><path class="k2" d="M1067 1192zm-95-1z"/><path class="k1" d="M1105 1191zm-1 1zm-16-1z"/><path class="k6" d="M877 1192zm-24 0z"/><path class="k2" d="M1136 1190zm-89 1z"/><path class="k1" d="M1177 1184zm0-2zm-1-1zm-3 3zm0-1zm0-1zm-7 3zm0-1zm-2 6zm0 0zm-10 0zm0-1zm-12 1zm-79 1zm0 0z"/><path class="k5" d="M882 1191zm-19 0z"/><path class="k4" d="M991 1191zm-13 0zm-7 0z"/><path class="k3" d="M1032 1191z"/><path class="k1" d="M1053 1191zm-10 0z"/><path class="k2" d="M1082 1190zm-5 1zm-33 0zm-12 0zm-59 0z"/><path class="k1" d="M1039 1191z"/><path class="k2" d="M1081 1191zm-14 0zm-42-1z"/><path class="k4" d="M1013 1190z"/><path class="k6" d="M1003 1190zm-152 0z"/><path class="k1" d="M1033 1190zm-1 0zm-41 0z"/><path class="k7" d="M864 1190z"/><path class="k2" d="M1061 1190z"/><path class="k5" d="M1009 1190zm-110-1zm-10 0zm-31 1zm-1-1z"/><path class="k3" d="M997 1190zm-19 0zm-7 0z"/><path class="k2" d="M1050 1190z"/><path class="k3" d="M1034 1190z"/><path class="k1" d="M1039 1190z"/><path class="k2" d="M1068 1190zm-10 0z"/><path class="k4" d="M971 1190z"/><path class="k2" d="M979 1190z"/><path class="k1" d="M1056 1190z"/><path class="k2" d="M1074 1189zm-22 0zm-8 1z"/><path class="k4" d="M1032 1189zm-60 0z"/><path class="k2" d="M959 1189z"/><path class="k4" d="M997 1189z"/><path class="k5" d="M985 1189zm-14 0zm-48 0z"/><path class="k1" d="M1056 1189z"/><path class="k2" d="M1088 1189zm-1-1zm-19 1zm-90 0zm-47-1z"/><path class="k1" d="M1039 1189z"/><path class="k3" d="M979 1188z"/><path class="k4" d="M1004 1188z"/><path class="k2" d="M1046 1188zm-8 0zm-7 0zm-23 0z"/><path class="k6" d="M857 1188z"/><path class="k1" d="M1069 1188zm-98 0z"/><path class="k2" d="M1093 1188zm-60 0z"/><path class="k1" d="M1128 1188zm-24 0zm-6 0zm-22 0z"/><path class="k5" d="M859 1188z"/><path class="k4" d="M991 1188zm-103 0z"/><path class="k6" d="M920 1188z"/><path class="k2" d="M1122 1187zm-6 1zm-58 0z"/><path class="k3" d="M1063 1188zm-56 0z"/><path class="k7" d="M870 1188z"/><path class="k1" d="M1165 1182zm-5 0zm-2 1zm-4 3zm0-1zm-2-2zm-12 3zm-94 1z"/><path class="k4" d="M1003 1187zm-23 0zm-8 0zm-1 0z"/><path class="k6" d="M907 1187z"/><path class="k2" d="M1075 1187zm-30 0z"/><path class="k4" d="M1031 1187z"/><path class="k3" d="M974 1187zm-19 0z"/><path class="k2" d="M1032 1187z"/><path class="k3" d="M1039 1187z"/><path class="k1" d="M1118 1187zm-75 0z"/><path class="k2" d="M1087 1187zm-53 0z"/><path class="k3" d="M1013 1187z"/><path class="k7" d="M888 1187z"/><path class="k4" d="M974 1186z"/><path class="k5" d="M989 1186z"/><path class="k1" d="M1119 1186zm-43 0z"/><path class="k2" d="M1057 1186zm-25 0zm-60 0z"/><path class="k6" d="M850 1186z"/><path class="k7" d="M858 1186z"/><path class="k3" d="M1046 1186zm-74 0z"/><path class="k2" d="M1081 1186z"/><path class="k5" d="M872 1186z"/><path class="k1" d="M1068 1186zm-25 0z"/><path class="k4" d="M990 1186zm-16 0z"/><path class="k6" d="M888 1185zm-23 0zm-8 0zm-4 0zm-2 1zm0-1z"/><path class="k2" d="M1105 1186zm-50 0z"/><path class="k4" d="M1015 1186z"/><path class="k2" d="M1051 1186zm-7 0zm-12 0z"/><path class="k7" d="M973 1185zm-71 0z"/><path class="k1" d="M1147 1185zm-22 0zm-1 0zm-37 0zm-17 0z"/><path class="k2" d="M1104 1185zm-6 0zm-47 0zm-19 0zm-52 0z"/><path class="k4" d="M977 1185z"/><path class="k7" d="M972 1185z"/><path class="k3" d="M1003 1185zm-31 0zm-1-2z"/><path class="k1" d="M1141 1184zm-25 0zm-4 0zm-24 0zm-19 1z"/><path class="k2" d="M1056 1184z"/><path class="k1" d="M1063 1184z"/><path class="k2" d="M1033 1184z"/><path class="k3" d="M1052 1184z"/><path class="k2" d="M1040 1184z"/><path class="k5" d="M881 1184z"/><path class="k3" d="M1031 1184zm-15 0z"/><path class="k1" d="M1068 1184z"/><path class="k6" d="M893 1184z"/><path class="k2" d="M1071 1184z"/><path class="k4" d="M1028 1184zm-36-1zm-7 0z"/><path class="k5" d="M919 1182zm-68 2z"/><path class="k1" d="M1106 1183zm-17 1zm-30 0z"/><path class="k3" d="M1044 1184zm-64-1z"/><path class="k4" d="M1031 1184z"/><path class="k2" d="M1097 1183zm-34 0zm-25 0z"/><path class="k1" d="M1116 1183zm0 0zm-65 0zm-11 0z"/><path class="k6" d="M853 1183zm-2 0z"/><path class="k7" d="M857 1183z"/><path class="k3" d="M1040 1183zm-49 0z"/><path class="k5" d="M986 1183zm-93-1zm-22 1z"/><path class="k2" d="M1094 1183zm-24 0zm-73 0z"/><path class="k3" d="M1058 1182zm-27 1z"/><path class="k6" d="M978 1182zm-114 0zm-7 0z"/><path class="k2" d="M1063 1182zm-31 0z"/><path class="k5" d="M905 1182z"/><path class="k1" d="M1087 1182z"/><path class="k4" d="M972 1182zm0 0z"/><path class="k5" d="M973 1182z"/><path class="k2" d="M1111 1182z"/><path class="k1" d="M1152 1182zm-76 0z"/><path class="k2" d="M1130 1181zm-84 1zm-6 0z"/><path class="k3" d="M1003 1181zm-5 0zm-18 0zm-1 1zm-6-1z"/><path class="k1" d="M1172 1174zm-2 6zm-3-3zm-1 2zm-2-5zm-4 5zm-1 2zm-1-2zm0-1zm-3 0zm-2 1zm0-2zm-5 0zm-6 3zm-30 1zm-44 1zm-16 0z"/><path class="k3" d="M1033 1182z"/><path class="k6" d="M907 1181z"/><path class="k7" d="M893 1181z"/><path class="k5" d="M931 1181zm-73 0z"/><path class="k2" d="M1091 1181zm-35 0zm-24 0z"/><path class="k7" d="M876 1181zm-5 0z"/><path class="k1" d="M1123 1181zm-7 0zm-12-1zm-4 0zm-21 1zm-9 0zm-8 0z"/><path class="k4" d="M991 1181z"/><path class="k2" d="M1038 1180zm-5 1z"/><path class="k1" d="M986 1181z"/><path class="k4" d="M1052 1180zm-81 0z"/><path class="k1" d="M1082 1180zm-37 0z"/><path class="k5" d="M870 1180z"/><path class="k6" d="M865 1180zm0 0zm-13 0z"/><path class="k3" d="M991 1180z"/><path class="k2" d="M1094 1180z"/><path class="k1" d="M1128 1180zm0-1z"/><path class="k3" d="M1057 1179z"/><path class="k2" d="M1079 1179zm-64 0z"/><path class="k5" d="M859 1179z"/><path class="k7" d="M935 1179z"/><path class="k1" d="M1117 1179z"/><path class="k3" d="M1098 1179zm-66 0z"/><path class="k5" d="M973 1179zm-60 0z"/><path class="k1" d="M1131 1178zm0 0zm-127 1z"/><path class="k4" d="M974 1179z"/><path class="k2" d="M1051 1179z"/><path class="k3" d="M1044 1179z"/><path class="k6" d="M852 1179z"/><path class="k2" d="M1015 1179z"/><path class="k1" d="M1039 1179zm-5 0z"/><path class="k4" d="M984 1179z"/><path class="k5" d="M863 1179zm-1-1z"/><path class="k3" d="M1001 1179z"/><path class="k2" d="M1082 1179zm-14-1z"/><path class="k4" d="M983 1178zm-22 0z"/><path class="k1" d="M1113 1178zm-6 0zm-2 0z"/><path class="k5" d="M973 1178zm-1 0zm-53-1z"/><path class="k3" d="M1032 1178z"/><path class="k2" d="M1058 1178z"/><path class="k6" d="M863 1178z"/><path class="k4" d="M1046 1178zm-33 0z"/><path class="k2" d="M1089 1178zm-117 0z"/><path class="k1" d="M1131 1177zm-7 1z"/><path class="k2" d="M1086 1178z"/><path class="k1" d="M1095 1178zm-27 0z"/><path class="k6" d="M983 1178z"/><path class="k2" d="M1044 1178z"/><path class="k3" d="M1034 1178z"/><path class="k2" d="M1069 1178zm-29 0zm-8 0z"/><path class="k1" d="M1074 1177z"/><path class="k2" d="M1083 1177z"/><path class="k3" d="M1021 1177z"/><path class="k1" d="M1106 1176zm-5 1z"/><path class="k2" d="M1058 1177z"/><path class="k5" d="M974 1177zm-115 0z"/><path class="k3" d="M998 1177zm-26 0z"/><path class="k1" d="M1095 1177zm-38 0z"/><path class="k2" d="M1110 1176zm-16 0zm-6-1zm-11 0zm-27 2z"/><path class="k6" d="M966 1177zm-109 0z"/><path class="k1" d="M1147 1176zm-115 1z"/><path class="k4" d="M1023 1177zm-135-1z"/><path class="k2" d="M1118 1176zm-67 0zm-6 1zm-12 0zm-49-1z"/><path class="k5" d="M864 1176z"/><path class="k7" d="M881 1176z"/><path class="k4" d="M973 1176z"/><path class="k5" d="M984 1176zm-66-1z"/><path class="k2" d="M983 1175zm-3 0zm-44 0z"/><path class="k1" d="M1160 1174zm-2 1zm-5 0zm-18 0zm-11 0zm-55 0z"/><path class="k2" d="M1049 1175z"/><path class="k4" d="M962 1175z"/><path class="k3" d="M973 1175zm-107 0z"/><path class="k1" d="M1092 1175zm-35 0z"/><path class="k3" d="M1032 1175z"/><path class="k2" d="M1035 1175z"/><path class="k4" d="M1009 1175z"/><path class="k2" d="M1039 1175z"/><path class="k1" d="M1080 1175z"/><path class="k6" d="M895 1174zm-8 0zm-9 0zm-21 0zm-4 1zm-3 0z"/><path class="k4" d="M1010 1175z"/><path class="k3" d="M972 1175z"/><path class="k2" d="M1069 1175z"/><path class="k1" d="M1080 1175z"/><path class="k3" d="M1053 1175z"/><path class="k2" d="M1117 1175zm-71 0z"/><path class="k4" d="M973 1175z"/><path class="k1" d="M1147 1174z"/><path class="k3" d="M1031 1174z"/><path class="k2" d="M1068 1174zm-89 0z"/><path class="k1" d="M1111 1174zm-7 0zm-11 0zm-18 0zm-18 0zm-5 0z"/><path class="k7" d="M853 1174zm-2-1z"/><path class="k3" d="M1032 1174z"/><path class="k1" d="M1057 1174zm-12 0zm-12 0z"/><path class="k5" d="M974 1174zm-1 0zm-44 0zm-60-1z"/><path class="k2" d="M1116 1174zm-64 0z"/><path class="k3" d="M1110 1174zm-78-1zm-16 0z"/><path class="k1" d="M1155 1173zm-3 0zm-73 0z"/><path class="k4" d="M972 1173z"/><path class="k6" d="M986 1173zm-62 0zm-11-1zm-2 1zm-47 0zm-13 0z"/><path class="k3" d="M973 1173z"/><path class="k4" d="M978 1173zm-4 0z"/><path class="k2" d="M1124 1173zm-50 0zm-15 0z"/><path class="k1" d="M1166 1172zm0-1zm-6 1zm0-1zm0-1zm-1 0zm-1 2zm0-3zm-4 1zm-1 2zm-7-2zm-11 3zm-7 0zm-79-1zm-17 0z"/><path class="k4" d="M1032 1172z"/><path class="k1" d="M1069 1172zm-25 0z"/><path class="k2" d="M1099 1172zm-17 0zm-24 0z"/><path class="k3" d="M1032 1172z"/><path class="k5" d="M923 1171zm-34-1zm-31 2z"/><path class="k2" d="M1064 1172zm-13-1zm-6 0zm-7 1z"/><path class="k1" d="M1134 1171zm-5 1zm-12 0z"/><path class="k4" d="M996 1172z"/><path class="k2" d="M1081 1172z"/><path class="k1" d="M1106 1171z"/><path class="k3" d="M992 1171zm-21 0z"/><path class="k2" d="M1093 1171zm-62 0z"/><path class="k3" d="M1039 1171z"/><path class="k2" d="M1076 1171zm-43 0z"/><path class="k1" d="M1098 1171zm-18 0z"/><path class="k2" d="M1112 1170zm-35 1z"/><path class="k4" d="M979 1171z"/><path class="k1" d="M1149 1169zm-1 1zm-85 1z"/><path class="k7" d="M973 1171zm-41-1zm-18 0z"/><path class="k2" d="M1039 1171z"/><path class="k3" d="M1014 1171zm-30 0z"/><path class="k4" d="M1052 1170zm-75 1zm-4-1zm-2 0z"/><path class="k1" d="M1032 1170z"/><path class="k3" d="M1051 1170z"/><path class="k2" d="M1075 1170zm-14 0z"/><path class="k3" d="M1032 1170z"/><path class="k2" d="M1045 1170z"/><path class="k3" d="M1008 1170z"/><path class="k1" d="M1095 1170zm-3 0zm0-1zm-22 1z"/><path class="k3" d="M1033 1170z"/><path class="k4" d="M974 1169zm-3 0z"/><path class="k3" d="M972 1169zm0 0z"/><path class="k1" d="M1056 1169z"/><path class="k2" d="M1131 1169zm-63 0zm-16 0zm-20 0z"/><path class="k1" d="M1167 1168zm-2 1zm-4-1zm-3-1zm-4 1zm-55 1z"/><path class="k5" d="M930 1169z"/><path class="k6" d="M883 1169zm-26-1z"/><path class="k2" d="M1184 1167zm-110 2z"/><path class="k1" d="M1226 1160zm-5 2zm-7 0zm-17 4zm0-2zm-1 2zm-8 1zm0-1zm-82 3zm-18-1z"/><path class="k4" d="M974 1168zm-2 0z"/><path class="k3" d="M1086 1168z"/><path class="k2" d="M1045 1168z"/><path class="k1" d="M1081 1168z"/><path class="k3" d="M1033 1168z"/><path class="k2" d="M1111 1168zm-1 0zm-69 0z"/><path class="k1" d="M1141 1168zm-5-1zm-13 0zm-85 1z"/><path class="k5" d="M875 1168z"/><path class="k2" d="M1074 1168zm-6 0z"/><path class="k6" d="M938 1167zm-82 1z"/><path class="k3" d="M1022 1168z"/><path class="k4" d="M1002 1168z"/><path class="k1" d="M1099 1167zm-17 0zm-51 0z"/><path class="k5" d="M869 1167z"/><path class="k7" d="M901 1167zm-50 0z"/><path class="k3" d="M1040 1167z"/><path class="k4" d="M1032 1167zm-43-1z"/><path class="k2" d="M1062 1167zm-10 0z"/><path class="k6" d="M875 1167zm-23 0z"/><path class="k3" d="M1104 1167z"/><path class="k1" d="M1052 1167zm-7 0zm-151 0z"/><path class="k2" d="M1106 1167zm-38 0zm-30 0z"/><path class="k3" d="M1035 1167z"/><path class="k5" d="M937 1167zm-73-1z"/><path class="k1" d="M1119 1167zm-34 0zm-68-1z"/><path class="k2" d="M1140 1166zm-17 0zm-22 0z"/><path class="k4" d="M971 1166z"/><path class="k6" d="M984 1166zm-65 0zm-32-2zm-24 1zm0-2zm-12 2z"/><path class="k5" d="M973 1166z"/><path class="k1" d="M1179 1163zm0 0zm-1 1zm-7 1zm-5-1zm-5 2zm0-2zm-2-1zm-1 2zm-4 1zm-31 0zm-11 0zm-5 0zm-33 0zm-7 0z"/><path class="k2" d="M1002 1166z"/><path class="k4" d="M1050 1166zm-133-3z"/><path class="k2" d="M1062 1166zm-6 0zm-16 0zm0 0z"/><path class="k1" d="M1092 1166z"/><path class="k5" d="M972 1166zm-76-3z"/><path class="k3" d="M1058 1165zm-27 1zm-53 0z"/><path class="k6" d="M973 1165zm-62-4zm-30 1zm-13-2z"/><path class="k2" d="M1112 1165z"/><path class="k4" d="M1014 1165z"/><path class="k3" d="M985 1165z"/><path class="k1" d="M1099 1165zm-67 0z"/><path class="k3" d="M1052 1165z"/><path class="k4" d="M974 1165zm-1-1zm-2 0z"/><path class="k2" d="M1104 1165zm-12 0zm-12 0zm-12 0z"/><path class="k3" d="M1112 1164z"/><path class="k1" d="M1155 1163zm-6 0zm-2 1zm-13 0zm-12 0zm-72 0zm-64 0z"/><path class="k2" d="M1159 1163zm-114 1z"/><path class="k3" d="M1031 1164z"/><path class="k1" d="M1160 1163zm-91 1z"/><path class="k2" d="M1099 1164zm-61 0zm-5 0z"/><path class="k4" d="M978 1164z"/><path class="k7" d="M973 1164z"/><path class="k1" d="M1082 1163z"/><path class="k2" d="M1075 1163zm-18 0z"/><path class="k5" d="M1015 1163z"/><path class="k3" d="M1069 1163z"/><path class="k2" d="M1092 1163z"/><path class="k1" d="M1106 1163z"/><path class="k4" d="M1046 1163zm-72 0z"/><path class="k2" d="M1050 1163z"/><path class="k3" d="M1040 1163zm-69 0z"/><path class="k2" d="M1043 1163zm-9 0z"/><path class="k5" d="M1016 1163z"/><path class="k1" d="M1064 1163z"/><path class="k2" d="M1106 1163zm-8 0z"/><path class="k1" d="M1057 1163z"/><path class="k6" d="M983 1163z"/><path class="k2" d="M1088 1163z"/><path class="k4" d="M1025 1163z"/><path class="k3" d="M1032 1163zm-61-1z"/><path class="k1" d="M1130 1163z"/><path class="k3" d="M1146 1163z"/><path class="k1" d="M1172 1162zm-57 0z"/><path class="k2" d="M1128 1162zm-51 0zm-13 0zm-7 0z"/><path class="k6" d="M974 1162z"/><path class="k1" d="M1170 1162zm-70 0z"/><path class="k5" d="M991 1162zm-11 0z"/><path class="k2" d="M1155 1161zm-2 0zm-121 1z"/><path class="k3" d="M1046 1162zm-66 0z"/><path class="k4" d="M1051 1162zm-11 0zm-69-1z"/><path class="k1" d="M1160 1159zm1 0zm3 0zm8 0zm13 0zm6 2zm-1 0zm-120 1zm-30 0z"/><path class="k4" d="M1002 1161z"/><path class="k3" d="M1058 1161zm-27 0z"/><path class="k2" d="M1100 1161zm-20 0zm-139-1z"/><path class="k3" d="M1088 1161zm-47-1zm-4 0z"/><path class="k1" d="M1134 1160zm-6 0zm-148 0z"/><path class="k2" d="M1117 1160zm-17 0zm-17 0zm-33 0z"/><path class="k5" d="M971 1160z"/><path class="k1" d="M1122 1159zm14-1zm18 1zm-30 1zm-31 0zm-62 0z"/><path class="k3" d="M1046 1160z"/><path class="k4" d="M973 1160z"/><path class="k1" d="M983 1159zm98 1z"/><path class="k6" d="M920 1159z"/><path class="k2" d="M980 1159zm64 0zm30 0zm121-1z"/><path class="k1" d="M1031 1159zm142-1zm0 0zm6 0zm11 0zm34-1zm0-22zm1 20zm1-1zm5-18z"/><path class="k3" d="M1034 1159z"/><path class="k4" d="M1020 1159zm19 0z"/><path class="k2" d="M1070 1159z"/><path class="k3" d="M1064 1159z"/><path class="k1" d="M1073 1159zm14 0zm11 0z"/><path class="k5" d="M888 1159zm56-2z"/><path class="k2" d="M1058 1159zm7 0z"/><path class="k1" d="M1093 1159zm10 0z"/><path class="k2" d="M1055 1159zm56-1z"/><path class="k3" d="M1039 1159z"/><path class="k1" d="M1033 1159zm121-1z"/><path class="k4" d="M1059 1159z"/><path class="k2" d="M1004 1158zm173 0z"/><path class="k4" d="M1032 1158z"/><path class="k6" d="M863 1158zm18 0z"/><path class="k2" d="M1045 1158z"/><path class="k3" d="M1031 1158zm0 0zm8 0zm24 0zm18 0z"/><path class="k2" d="M1031 1157zm3 1zm61 0z"/><path class="k1" d="M1112 1158zm7 0zm23 0zm10-1zm3-1zm33 1zm1-1zm19-1zm10 2z"/><path class="k4" d="M1092 1158z"/><path class="k1" d="M1086 1158zm37-1z"/><path class="k7" d="M990 1157z"/><path class="k2" d="M1080 1157zm17 0zm63-2z"/><path class="k5" d="M887 1157zm26-2zm5 1zm6 1z"/><path class="k7" d="M854 1157z"/><path class="k5" d="M881 1157zm2 0z"/><path class="k3" d="M1053 1157z"/><path class="k1" d="M1086 1157zm73-2zm13-1zm17 0z"/><path class="k4" d="M973 1156zm17 1z"/><path class="k2" d="M1032 1156zm37 1z"/><path class="k6" d="M854 1157zm11-1zm113 0z"/><path class="k1" d="M1046 1156zm17 0zm26 0z"/><path class="k3" d="M1110 1156z"/><path class="k4" d="M1056 1156z"/><path class="k1" d="M1034 1156zm70 0z"/><path class="k3" d="M1038 1156zm2 0z"/><path class="k5" d="M884 1156zm22-4zm79 4z"/><path class="k2" d="M1031 1156zm33 0z"/><path class="k3" d="M1049 1156z"/><path class="k6" d="M857 1155zm115 1z"/><path class="k4" d="M1070 1155z"/><path class="k2" d="M1081 1155z"/><path class="k1" d="M1074 1155z"/><path class="k2" d="M1077 1155z"/><path class="k4" d="M1045 1155z"/><path class="k3" d="M1112 1155z"/><path class="k5" d="M887 1151zm75 4z"/><path class="k4" d="M980 1155z"/><path class="k2" d="M1034 1155zm24 0zm31 0z"/><path class="k1" d="M1040 1155zm100 0z"/><path class="k4" d="M1032 1155z"/><path class="k2" d="M1040 1155zm76-1zm66-1z"/><path class="k3" d="M1050 1155z"/><path class="k5" d="M973 1155z"/><path class="k1" d="M1046 1155zm24-1zm25 0zm33 0zm66-2zm9-2zm5-2zm0-8zm10 11zm3-4z"/><path class="k2" d="M1059 1154zm24 0z"/><path class="k1" d="M1112 1154z"/><path class="k3" d="M1039 1154zm13 0z"/><path class="k7" d="M973 1154z"/><path class="k2" d="M1037 1154zm110-1z"/><path class="k4" d="M978 1154zm54 0zm14 0zm11 0z"/><path class="k2" d="M1075 1154z"/><path class="k3" d="M1028 1154z"/><path class="k2" d="M1068 1154z"/><path class="k3" d="M1039 1154z"/><path class="k1" d="M971 1153zm123 1zm6-1zm10 0zm19 0zm23 0zm8-1zm12 0zm1 1zm5-1zm4-1zm6 2z"/><path class="k2" d="M1074 1153z"/><path class="k3" d="M1080 1153z"/><path class="k1" d="M1050 1153zm13 0zm37 0z"/><path class="k5" d="M977 1153z"/><path class="k3" d="M971 1153zm44 0z"/><path class="k2" d="M1031 1152zm10 1zm16-1zm55 0z"/><path class="k3" d="M989 1152zm45 0z"/><path class="k1" d="M1038 1152zm29 0zm62 0z"/><path class="k2" d="M1058 1152z"/><path class="k3" d="M998 1152z"/><path class="k1" d="M1081 1152z"/><path class="k2" d="M1077 1152z"/><path class="k1" d="M1082 1152z"/><path class="k2" d="M1093 1152zm26 0z"/><path class="k6" d="M973 1152z"/><path class="k1" d="M1063 1151zm5 1zm32-1zm7 0zm9 1zm26-1zm11 0zm8 0z"/><path class="k4" d="M978 1152z"/><path class="k3" d="M1031 1151z"/><path class="k4" d="M1045 1151z"/><path class="k2" d="M1052 1151zm40-1zm37 1zm32-1z"/><path class="k1" d="M1004 1151zm109-1zm11 0zm29 0zm2-1zm4 0zm1 1zm13-1zm4-1zm7 0zm13 1z"/><path class="k5" d="M929 1151zm0-2z"/><path class="k4" d="M978 1151z"/><path class="k2" d="M1040 1151z"/><path class="k3" d="M1032 1151z"/><path class="k1" d="M1037 1151z"/><path class="k2" d="M1069 1151z"/><path class="k6" d="M888 1149zm84 2z"/><path class="k5" d="M883 1149zm70 1zm27 1z"/><path class="k3" d="M1031 1151z"/><path class="k2" d="M1031 1150zm1 0z"/><path class="k3" d="M1045 1150zm23 0z"/><path class="k4" d="M995 1150z"/><path class="k5" d="M978 1150z"/><path class="k2" d="M1087 1150z"/><path class="k1" d="M1080 1150z"/><path class="k2" d="M1070 1150zm37 0z"/><path class="k3" d="M998 1150zm5 0zm36 0z"/><path class="k2" d="M1032 1150z"/><path class="k1" d="M1052 1150zm76-2zm7 1zm8 0z"/><path class="k4" d="M1034 1150z"/><path class="k3" d="M1074 1150z"/><path class="k1" d="M1039 1150zm5 0zm14 0zm43 0z"/><path class="k5" d="M989 1149z"/><path class="k2" d="M1032 1149zm50 0z"/><path class="k3" d="M973 1149zm102 0z"/><path class="k1" d="M1056 1149zm38 0zm11 0z"/><path class="k4" d="M983 1149z"/><path class="k2" d="M1063 1149zm62-1zm18 0z"/><path class="k3" d="M1044 1148z"/><path class="k6" d="M865 1148zm16-2zm93 2z"/><path class="k1" d="M1069 1148zm85 0z"/><path class="k2" d="M1035 1148zm14 0zm116 0z"/><path class="k4" d="M979 1148zm103 0z"/><path class="k1" d="M1031 1148zm145 0zm2-1zm24-2z"/><path class="k2" d="M1033 1148zm7 0zm34 0zm12 0zm6 0zm7 0z"/><path class="k3" d="M983 1148zm56 0z"/><path class="k1" d="M1032 1148zm66 0z"/><path class="k2" d="M1051 1147zm55 0zm12 1z"/><path class="k3" d="M1081 1147zm35 0z"/><path class="k2" d="M1063 1147zm79 0z"/><path class="k1" d="M1057 1147zm101 0z"/><path class="k4" d="M995 1147z"/><path class="k3" d="M1073 1147z"/><path class="k1" d="M1039 1147z"/><path class="k2" d="M1032 1147zm14 0zm107 0z"/><path class="k3" d="M1039 1147zm17 0zm13 0z"/><path class="k6" d="M943 1147z"/><path class="k1" d="M1107 1147zm42 0zm4-1zm6 0zm7 1z"/><path class="k2" d="M1058 1147zm35 0z"/><path class="k1" d="M1046 1146zm77 0zm8 0z"/><path class="k7" d="M972 1146z"/><path class="k2" d="M1137 1146z"/><path class="k4" d="M1031 1146zm25 0z"/><path class="k5" d="M877 1146z"/><path class="k2" d="M1094 1146z"/><path class="k1" d="M966 1145zm80 1zm29 0zm77-1zm18 1zm1-1z"/><path class="k2" d="M1032 1146zm24 0zm48 0z"/><path class="k3" d="M1039 1146zm60 0z"/><path class="k2" d="M1044 1146z"/><path class="k4" d="M1032 1145zm25 1z"/><path class="k3" d="M1100 1145z"/><path class="k2" d="M1105 1145zm8 0z"/><path class="k1" d="M1045 1145zm78 0zm11 0z"/><path class="k2" d="M1069 1145zm91 0z"/><path class="k6" d="M977 1145z"/><path class="k4" d="M1041 1145z"/><path class="k2" d="M1033 1144zm7 0zm18 1zm4 0zm14 0zm7-1z"/><path class="k3" d="M980 1144zm51 0z"/><path class="k1" d="M1155 1144zm4-1zm2 1zm16-1zm8 1zm4-3zm8 0z"/><path class="k2" d="M1116 1144z"/><path class="k1" d="M1081 1144z"/><path class="k4" d="M1051 1144z"/><path class="k2" d="M1062 1144zm24 0zm25 0z"/><path class="k7" d="M955 1144z"/><path class="k4" d="M1032 1144z"/><path class="k1" d="M1106 1144zm23 0z"/><path class="k2" d="M1064 1143zm28 0zm30 0z"/><path class="k5" d="M914 1143z"/><path class="k1" d="M1098 1143zm20-1zm25 1zm6 0zm6 0zm3 0zm1-1zm1 0zm1 1zm3 0z"/><path class="k6" d="M920 1142zm52 1z"/><path class="k4" d="M972 1143zm44 0z"/><path class="k3" d="M1032 1143zm13 0z"/><path class="k2" d="M1068 1143z"/><path class="k3" d="M1040 1143z"/><path class="k2" d="M1074 1143z"/><path class="k7" d="M979 1143z"/><path class="k3" d="M1037 1143zm13 0z"/><path class="k1" d="M1094 1143z"/><path class="k2" d="M972 1142zm97 0zm30 0z"/><path class="k3" d="M1040 1142zm36 0z"/><path class="k2" d="M1031 1142z"/><path class="k3" d="M1050 1142z"/><path class="k4" d="M980 1142z"/><path class="k2" d="M1081 1142z"/><path class="k1" d="M1134 1142z"/><path class="k3" d="M1010 1142z"/><path class="k1" d="M1040 1142zm13 0z"/><path class="k2" d="M1105 1142zm25 0z"/><path class="k3" d="M1033 1142z"/><path class="k2" d="M1062 1142z"/><path class="k3" d="M1057 1142z"/><path class="k5" d="M911 1141z"/><path class="k2" d="M1049 1141zm9 0zm36 0z"/><path class="k1" d="M1105 1141zm12 0zm38 0zm15 0z"/><path class="k2" d="M1069 1141zm41 0z"/><path class="k4" d="M967 1141zm65 0z"/><path class="k2" d="M973 1141zm59-1zm42 1z"/><path class="k1" d="M1088 1140zm53 1zm8 0z"/><path class="k3" d="M972 1140z"/><path class="k2" d="M1050 1140zm7 0zm26 0zm4 0zm35 0z"/><path class="k5" d="M931 1138zm59 2z"/><path class="k3" d="M1038 1140z"/><path class="k2" d="M1071 1140z"/><path class="k1" d="M1044 1140zm99 0z"/><path class="k3" d="M1013 1140zm18-1z"/><path class="k2" d="M1082 1140zm30 0zm40 0zm7 0z"/><path class="k3" d="M1068 1139zm32 1zm55 0z"/><path class="k6" d="M887 1137zm0-2zm9 1zm6-2zm83 5z"/><path class="k1" d="M1074 1139zm97 0z"/><path class="k2" d="M1070 1139zm23 0zm85 0z"/><path class="k1" d="M1122 1139zm31 0zm13 0zm13 0zm6-1zm10 1zm18-2z"/><path class="k4" d="M1035 1139z"/><path class="k2" d="M1046 1139zm59 0zm8 0z"/><path class="k3" d="M1039 1139zm10 0zm7 0z"/><path class="k1" d="M1117 1139z"/><path class="k2" d="M1052 1139zm22 0zm66 0z"/><path class="k3" d="M1016 1139zm43 0z"/><path class="k4" d="M1032 1139zm1 0z"/><path class="k1" d="M1082 1138zm43 0zm47 0zm5 0z"/><path class="k3" d="M1033 1138z"/><path class="k2" d="M1034 1138zm130 0z"/><path class="k3" d="M1074 1138z"/><path class="k2" d="M1081 1138z"/><path class="k1" d="M1062 1138zm36 0zm1 0zm73-1zm13-1zm11-1zm1 0zm4-1zm2-2zm4 6z"/><path class="k3" d="M1045 1138z"/><path class="k5" d="M900 1133zm71 5z"/><path class="k2" d="M1034 1138zm78-1z"/><path class="k1" d="M1039 1138zm12 0zm6 0z"/><path class="k3" d="M973 1137zm90 1z"/><path class="k2" d="M1076 1137zm19 0zm4 0z"/><path class="k1" d="M1051 1137zm77 0z"/><path class="k4" d="M992 1137z"/><path class="k3" d="M1057 1137z"/><path class="k2" d="M1087 1137zm53 0z"/><path class="k1" d="M1031 1136zm111 0zm6 0zm5 0zm8 0zm15 0z"/><path class="k3" d="M1039 1136z"/><path class="k4" d="M1064 1136z"/><path class="k2" d="M1057 1136zm12 0zm14 0zm3 0zm14 0z"/><path class="k6" d="M918 1130zm60 6z"/><path class="k3" d="M1037 1136z"/><path class="k4" d="M979 1135zm30 1z"/><path class="k2" d="M1068 1136z"/><path class="k1" d="M1098 1136zm20 0z"/><path class="k4" d="M1152 1136z"/><path class="k3" d="M1064 1136z"/><path class="k2" d="M1031 1136z"/><path class="k1" d="M1050 1135zm79 0zm23 0zm1 0zm0 0zm18 0zm12 0z"/><path class="k2" d="M1044 1135zm18 0zm96-1z"/><path class="k3" d="M1031 1135z"/><path class="k1" d="M1058 1135zm119-1zm8 0zm3 0z"/><path class="k2" d="M1039 1135z"/><path class="k5" d="M1016 1135z"/><path class="k2" d="M978 1135z"/><path class="k0" d="M1333 1134zm19-3zm-719 315z"/><path class="k5" d="M973 1134z"/><path class="k4" d="M971 1134zm116 0z"/><path class="k1" d="M1297 1118zm-240 16zm65 0zm224-5zm1 1z"/><path class="k3" d="M1031 1134zm43 0z"/><path class="k2" d="M1033 1134zm-434 312z"/><path class="k1" d="M1094 1134zm-477 312z"/><path class="k2" d="M1063 1134z"/><path class="k4" d="M1034 1134zm17 0zm-448 312z"/><path class="k1" d="M1104 1134z"/><path class="k3" d="M1088 1134z"/><path class="k4" d="M1046 1134z"/><path class="k3" d="M1034 1134zm3 0zm1 0zm2 0z"/><path class="k2" d="M1128 1134zm-537 312z"/><path class="k1" d="M1166 1134z"/><path class="k2" d="M1128 1134z"/><path class="k1" d="M1117 1134zm48-1z"/><path class="k2" d="M1111 1134z"/><path class="k1" d="M1147 1133z"/><path class="k2" d="M1119 1133z"/><path class="k1" d="M1113 1133z"/><path class="k2" d="M1111 1133zm43 0z"/><path class="k6" d="M973 1133zm0 0zm-379 313z"/><path class="k1" d="M1105 1133zm56-1zm18 1zm10-1zm-558 314z"/><path class="k2" d="M1070 1133zm-494 313zm6 0z"/><path class="k4" d="M980 1132zm84 1z"/><path class="k1" d="M1063 1133zm-439 313z"/><path class="k3" d="M1044 1132zm37 1z"/><path class="k1" d="M1056 1132zm42 1z"/><path class="k2" d="M1129 1132z"/><path class="k1" d="M1136 1132zm35 0zm1 0z"/><path class="k5" d="M974 1132zm-406 314z"/><path class="k4" d="M1031 1132zm1 0z"/><path class="k2" d="M1039 1132zm59 0zm78 0z"/><path class="k1" d="M974 1132zm132 0zm46 0zm44-1z"/><path class="k4" d="M1051 1132z"/><path class="k3" d="M1031 1132zm28 0zm16 0zm-526 313zm61 1z"/><path class="k2" d="M1104 1132z"/><path class="k1" d="M1112 1132z"/><path class="k7" d="M851 1132z"/><path class="k2" d="M1086 1132z"/><path class="k3" d="M1057 1131zm78 1z"/><path class="k1" d="M1153 1132zm2-1zm4 0zm1 0zm1 0z"/><path class="k6" d="M890 1129zm82 2z"/><path class="k2" d="M1051 1131zm40 0zm7 0zm13 0zm44-1zm10 0zm24 0z"/><path class="k4" d="M936 1129zm38 2zm70 0z"/><path class="k1" d="M1063 1131zm23 0zm9 0zm90-2zm3-1zm20 0zm5 0zm7-1z"/><path class="k5" d="M894 1126zm1 1zm91 4zm-419 314z"/><path class="k4" d="M1034 1131z"/><path class="k2" d="M1038 1131zm180-7z"/><path class="k1" d="M1046 1131zm173-8zm14-1zm22-2z"/><path class="k3" d="M1100 1131z"/><path class="k5" d="M997 1130z"/><path class="k2" d="M1074 1130zm3 0zm27 0zm13 0zm2 0zm16 0z"/><path class="k3" d="M1015 1130z"/><path class="k2" d="M1052 1130z"/><path class="k1" d="M1058 1130zm9 0zm58 0zm24 0zm5 0zm4-1zm1 0z"/><path class="k4" d="M1040 1130z"/><path class="k3" d="M1031 1130zm7 0zm8 0zm34 0z"/><path class="k1" d="M1032 1130z"/><path class="k2" d="M1067 1129zm43 0z"/><path class="k1" d="M1104 1129zm13 0zm5 0zm19 0zm11 0z"/><path class="k4" d="M989 1129z"/><path class="k7" d="M887 1125zm117 4z"/><path class="k3" d="M1033 1129z"/><path class="k1" d="M1074 1129z"/><path class="k2" d="M1033 1129zm24 0zm14 0zm84-1z"/><path class="k5" d="M973 1129z"/><path class="k4" d="M978 1129z"/><path class="k6" d="M883 1120zm91 8z"/><path class="k3" d="M1044 1128zm54 0zm27 0z"/><path class="k2" d="M1053 1128z"/><path class="k3" d="M1041 1128zm51 0z"/><path class="k0" d="M1340 1128zm-697 317z"/><path class="k2" d="M1125 1127zm10 1zm-506 317z"/><path class="k5" d="M899 1119zm72 9zm-366 316z"/><path class="k4" d="M1001 1128zm26 0z"/><path class="k1" d="M1298 1119zm-241 9zm279-5zm4-2zm37 5zm0-6z"/><path class="k3" d="M1070 1128zm-473 316z"/><path class="k2" d="M1032 1127zm67 0zm8 1z"/><path class="k7" d="M852 1117zm122 11z"/><path class="k1" d="M1079 1127zm61 0z"/><path class="k2" d="M1057 1127zm31 0z"/><path class="k3" d="M1032 1127z"/><path class="k4" d="M979 1127zm65 0zm86 0zm-507 317z"/><path class="k3" d="M1158 1127z"/><path class="k1" d="M1147 1127zm17 0zm-512 317z"/><path class="k2" d="M1034 1127zm94 0z"/><path class="k4" d="M1038 1127z"/><path class="k1" d="M1116 1126zm36 0zm2 0zm4 1zm3 0zm0-1zm9-1z"/><path class="k6" d="M971 1127z"/><path class="k2" d="M1031 1127zm36-1zm40 0z"/><path class="k4" d="M990 1126z"/><path class="k1" d="M979 1126z"/><path class="k3" d="M1057 1126z"/><path class="k4" d="M1033 1126z"/><path class="k3" d="M1063 1126z"/><path class="k2" d="M974 1125zm113 1z"/><path class="k1" d="M1039 1126zm35 0z"/><path class="k3" d="M1099 1126z"/><path class="k1" d="M1122 1126z"/><path class="k2" d="M1079 1126zm28 0zm4 0z"/><path class="k3" d="M1046 1126zm16 0z"/><path class="k4" d="M1032 1125zm7 1zm10-1z"/><path class="k1" d="M1153 1125z"/><path class="k3" d="M1069 1125zm7 0z"/><path class="k2" d="M1170 1125z"/><path class="k6" d="M959 1125z"/><path class="k1" d="M1142 1125zm17 0zm5-1z"/><path class="k2" d="M1117 1125z"/><path class="k1" d="M1092 1125zm19 0zm23 0zm19-1z"/><path class="k3" d="M1076 1124zm34 1z"/><path class="k1" d="M1064 1124z"/><path class="k2" d="M1057 1124zm84 0zm20 0z"/><path class="k3" d="M1033 1124z"/><path class="k1" d="M1044 1124zm157 0z"/><path class="k2" d="M992 1124zm57 0z"/><path class="k3" d="M1087 1124z"/><path class="k2" d="M1110 1124z"/><path class="k4" d="M1038 1124z"/><path class="k1" d="M1051 1124z"/><path class="k4" d="M1056 1124z"/><path class="k3" d="M1081 1124zm71 0z"/><path class="k2" d="M1031 1124zm40 0z"/><path class="k4" d="M1003 1124z"/><path class="k1" d="M1140 1124zm45 0zm4-1z"/><path class="k3" d="M1057 1124z"/><path class="k2" d="M1098 1123zm2 1zm28 0z"/><path class="k1" d="M1171 1124z"/><path class="k6" d="M979 1123z"/><path class="k5" d="M998 1123zm-431 321z"/><path class="k2" d="M1161 1123zm6 0z"/><path class="k4" d="M1070 1123z"/><path class="k1" d="M1064 1123zm46 0zm97 0z"/><path class="k6" d="M973 1123z"/><path class="k3" d="M1034 1123zm-435 321z"/><path class="k1" d="M1041 1123zm-404 321z"/><path class="k4" d="M1062 1123z"/><path class="k1" d="M1064 1123z"/><path class="k2" d="M1045 1123zm5 0zm66 0zm73-1z"/><path class="k1" d="M1073 1123zm38 0zm78-1zm8 0zm18-1z"/><path class="k3" d="M1031 1123zm0-1zm9 1z"/><path class="k2" d="M1117 1122zm2 1zm10 0z"/><path class="k4" d="M1032 1122z"/><path class="k5" d="M973 1122z"/><path class="k1" d="M1153 1122zm8 0zm4 0z"/><path class="k3" d="M1098 1122z"/><path class="k2" d="M1070 1122z"/><path class="k1" d="M1051 1122z"/><path class="k2" d="M1033 1122zm6 0zm7 0zm11 0zm6 0z"/><path class="k6" d="M971 1122zm-396 322z"/><path class="k3" d="M1043 1122z"/><path class="k1" d="M1087 1122z"/><path class="k4" d="M1031 1122z"/><path class="k2" d="M1065 1122zm-477 322z"/><path class="k1" d="M1106 1122zm-478 322z"/><path class="k2" d="M1086 1121zm14 1zm-476 322z"/><path class="k3" d="M1041 1122zm15-1zm90 0z"/><path class="k5" d="M980 1119zm0-2zm-3 0zm-5 1zm-1 0zm-39 1zm12 2z"/><path class="k1" d="M1141 1121zm11 0zm25-1zm1 1z"/><path class="k2" d="M1031 1121zm68 0zm6 0zm23 0zm74-1z"/><path class="k1" d="M1243 1117zm-6 2zm-11-2zm-5 1zm-1 1zm-74 2zm39-1z"/><path class="k2" d="M1116 1121z"/><path class="k1" d="M1128 1121z"/><path class="k4" d="M973 1116zm89 5zm13 0z"/><path class="k2" d="M1070 1121zm18-1zm11 0zm67 0z"/><path class="k4" d="M1032 1120z"/><path class="k2" d="M1034 1120z"/><path class="k4" d="M1045 1120z"/><path class="k1" d="M1155 1119zm-7 0zm-49 0zm-61 1zm18 0zm53 0zm8 0zm60 0z"/><path class="k3" d="M1032 1120z"/><path class="k0" d="M1345 1120z"/><path class="k1" d="M1348 1119zm-296 1zm254 0z"/><path class="k4" d="M1050 1120z"/><path class="k2" d="M1172 1119zm-60 0zm-23 0z"/><path class="k4" d="M1062 1119z"/><path class="k3" d="M1045 1119z"/><path class="k2" d="M1034 1119z"/><path class="k1" d="M1212 1118zm-3 0zm0-1zm-7 1zm-12 0zm-8 0zm-9 0zm-2 0zm-6 0zm-12 1zm-88 0z"/><path class="k2" d="M1101 1119zm-31 0z"/><path class="k1" d="M1124 1119zm-84 0z"/><path class="k2" d="M1117 1119zm-17 0zm-26 0z"/><path class="k1" d="M1049 1119z"/><path class="k3" d="M1070 1119z"/><path class="k2" d="M1098 1119zm-17-1zm-46 1zm-3 0z"/><path class="k1" d="M1135 1118zm-22 0z"/><path class="k3" d="M1058 1118z"/><path class="k6" d="M972 1116zm-59 2z"/><path class="k5" d="M979 1114zm-6 0zm-67 4z"/><path class="k1" d="M1075 1118z"/><path class="k4" d="M1065 1118zm-14 0z"/><path class="k0" d="M1366 1118z"/><path class="k2" d="M1158 1118zm-4 0zm-122 0z"/><path class="k3" d="M1079 1118zm-35 0z"/><path class="k2" d="M1039 1118z"/><path class="k1" d="M1348 1117zm-13 0zm-151 0zm-23 0zm-1-1zm-5 1zm-6-1zm-13 1zm-49 1z"/><path class="k7" d="M919 1117zm-43-4zm-306 331z"/><path class="k2" d="M1201 1116zm-30 0zm-83 1z"/><path class="k1" d="M1227 1115zm-1 0zm-102 2zm-18 0z"/><path class="k2" d="M1158 1116zm-6 0zm-69 1zm-19 0z"/><path class="k3" d="M1074 1117zm-43 0z"/><path class="k4" d="M1052 1117zm-470 327z"/><path class="k3" d="M1044 1117z"/><path class="k2" d="M1113 1116zm-20 0zm-23 0zm-490 328z"/><path class="k4" d="M1039 1116z"/><path class="k3" d="M1043 1116zm-10 0zm-441 328z"/><path class="k1" d="M1200 1116zm-6-1zm-11 0zm-4 0zm-12 0zm-1 0zm-1 0zm-46 0zm-20 1z"/><path class="k2" d="M1215 1115zm-103 0zm-75 1zm-451 328z"/><path class="k3" d="M1031 1116z"/><path class="k2" d="M1051 1116z"/><path class="k1" d="M1244 1112zm-6 2zm-6-2zm-8 2zm-168 2zm-440 328z"/><path class="k4" d="M1032 1116z"/><path class="k0" d="M1388 1113zm-30 2zm-16 1z"/><path class="k1" d="M1394 1113zm-22 0zm-9-1zm-30-4zm-265 8z"/><path class="k2" d="M1100 1115zm-37 1z"/><path class="k3" d="M1033 1115zm-398 329z"/><path class="k1" d="M1056 1115z"/><path class="k2" d="M1082 1115zm-479 328zm9 1zm34 0z"/><path class="k3" d="M1087 1115zm-11 0zm-43 0z"/><path class="k2" d="M1110 1115zm-60 0zm-4 0zm-7 0z"/><path class="k3" d="M1095 1115z"/><path class="k1" d="M1099 1115zm-469 328zm10 0z"/><path class="k4" d="M1044 1115zm-477 328z"/><path class="k2" d="M1123 1115z"/><path class="k1" d="M1143 1114zm-87 0z"/><path class="k2" d="M1134 1114zm-24 0zm-31 0z"/><path class="k3" d="M1068 1114zm-444 329z"/><path class="k2" d="M1101 1114zm-9 0zm-60 0zm-398 329z"/><path class="k4" d="M1159 1114z"/><path class="k5" d="M1004 1114z"/><path class="k2" d="M1173 1114zm-55 0zm-85 0z"/><path class="k1" d="M1202 1113zm-26 0zm-12 0zm-12 1zm-34 0z"/><path class="k3" d="M1049 1114z"/><path class="k4" d="M1040 1114z"/><path class="k2" d="M1117 1114zm-65 0z"/><path class="k3" d="M1034 1114z"/><path class="k4" d="M1055 1114zm-45 0z"/><path class="k2" d="M1068 1114zm-28 0z"/><path class="k1" d="M1155 1113zm-66 0z"/><path class="k5" d="M991 1113z"/><path class="k3" d="M1074 1113zm-23 0z"/><path class="k2" d="M1117 1113zm-5 0z"/><path class="k6" d="M971 1113zm-60-6zm-18 6zm-6 0z"/><path class="k1" d="M1158 1113zm-112 0z"/><path class="k2" d="M1141 1112zm-1 1zm-59 0zm-49 0z"/><path class="k4" d="M1058 1113z"/><path class="k3" d="M1068 1113z"/><path class="k4" d="M1034 1112z"/><path class="k3" d="M1040 1112z"/><path class="k2" d="M1045 1112z"/><path class="k1" d="M1183 1112zm-72 0zm-24 0zm-49 0z"/><path class="k5" d="M973 1112z"/><path class="k3" d="M1119 1112zm-26 0z"/><path class="k4" d="M1022 1112z"/><path class="k2" d="M1153 1112zm-58 0z"/><path class="k3" d="M1052 1112zm-19-1zm-5 1z"/><path class="k1" d="M1172 1111zm-8 1z"/><path class="k2" d="M1080 1111z"/><path class="k1" d="M1105 1111z"/><path class="k3" d="M1177 1111zm-107 0z"/><path class="k2" d="M1173 1111zm-18 0zm-44 0zm-53 0z"/><path class="k3" d="M1092 1111zm-46 0z"/><path class="k2" d="M1106 1111z"/><path class="k4" d="M1080 1111z"/><path class="k3" d="M1044 1111zm-4 0z"/><path class="k1" d="M1184 1111zm-30 0zm-56 0z"/><path class="k0" d="M1425 1103zm-35 8zm-43-5z"/><path class="k6" d="M977 1111z"/><path class="k2" d="M1154 1111zm-123 0z"/><path class="k3" d="M1073 1111zm-12-1z"/><path class="k2" d="M1110 1110z"/><path class="k1" d="M1363 1100zm-12-10zm-9 6zm0-9zm-2 17zm0-5zm0-4zm-5 1zm-1 10zm0-9zm0-10zm-1 17zm0-13zm-23-4zm-119 23zm-30 0zm0 0z"/><path class="k4" d="M1041 1110z"/><path class="k3" d="M1093 1110z"/><path class="k1" d="M1124 1110z"/><path class="k2" d="M1209 1110zm-12 0zm-31 0zm-38 0zm-94 0z"/><path class="k4" d="M1064 1110zm-2 0z"/><path class="k3" d="M1052 1110z"/><path class="k7" d="M977 1110zm-100-4zm-18 0zm-290 337z"/><path class="k2" d="M1039 1110z"/><path class="k4" d="M1049 1110z"/><path class="k2" d="M1083 1110z"/><path class="k5" d="M983 1109z"/><path class="k1" d="M1238 1108zm-74 1zm-21 0zm-12 0zm-159-1zm-363 335z"/><path class="k3" d="M1093 1109z"/><path class="k1" d="M1123 1109zm-54 0zm-12 0z"/><path class="k2" d="M1173 1108zm-55 1zm-6 0zm-11 0zm-14 0zm-11 0zm-30 0zm-2 0zm-422 334z"/><path class="k3" d="M1117 1109zm-13-1z"/><path class="k1" d="M1040 1108zm-404 335z"/><path class="k3" d="M1069 1108zm-34 0zm-3 0zm-432 335z"/><path class="k2" d="M1159 1108zm-19 0zm-33 0zm-75 0z"/><path class="k1" d="M1173 1108zm-76 0zm-3 0zm-512 335zm46 0z"/><path class="k2" d="M1189 1108zm-36 0z"/><path class="k1" d="M1227 1108zm0-1zm-14 0zm-18 1zm-19-1zm-4 0zm-7 1zm-6 0z"/><path class="k4" d="M1104 1108z"/><path class="k5" d="M974 1107zm-2 1z"/><path class="k1" d="M1129 1108zm-67-1z"/><path class="k2" d="M1123 1107zm-11 1z"/><path class="k1" d="M1158 1107zm-89 0z"/><path class="k3" d="M1077 1107zm-25 0zm-11 0zm-424 336z"/><path class="k4" d="M1056 1107zm-464 336z"/><path class="k2" d="M1172 1106zm-14 0zm-10 0zm-1 1zm-4 0zm-43 0z"/><path class="k3" d="M1098 1107zm-40 0zm-489 336z"/><path class="k1" d="M1213 1105zm-35 1zm-134 1z"/><path class="k4" d="M1032 1107zm-420 336z"/><path class="k3" d="M1086 1107zm-52 0z"/><path class="k4" d="M1074 1106z"/><path class="k2" d="M1243 1105zm-150 1zm-60 0z"/><path class="k3" d="M1099 1106z"/><path class="k2" d="M1119 1106zm-55 0z"/><path class="k1" d="M1273 1099zm-47 5zm-5-1zm-91 3zm-78 0z"/><path class="k7" d="M937 1106z"/><path class="k2" d="M1164 1106zm-58 0zm-19 0zm-19 0zm-24 0z"/><path class="k6" d="M974 1106zm-1-2zm-59 1zm-13-6z"/><path class="k4" d="M1038 1106zm-4 0zm-55-3z"/><path class="k1" d="M1173 1106zm-13 0zm-108 0z"/><path class="k2" d="M1159 1105zm-85 1z"/><path class="k3" d="M1087 1105zm-41 1z"/><path class="k4" d="M1034 1105zm-1 0z"/><path class="k1" d="M1200 1104zm-45 1zm-3 0zm-40 0z"/><path class="k4" d="M1076 1105z"/><path class="k2" d="M1152 1105zm-47 0z"/><path class="k3" d="M1135 1105zm-85 0zm-5 0z"/><path class="k1" d="M1081 1104z"/><path class="k2" d="M1113 1104z"/><path class="k4" d="M1059 1104z"/><path class="k3" d="M1098 1104z"/><path class="k4" d="M1087 1104z"/><path class="k1" d="M1070 1104zm-7 0zm-29 0z"/><path class="k2" d="M1123 1104zm-84 0z"/><path class="k3" d="M1154 1104zm-67 0zm-55 0z"/><path class="k1" d="M1178 1104zm-8 0z"/><path class="k2" d="M1170 1104zm-76 0z"/><path class="k3" d="M1086 1104zm-22 0z"/><path class="k1" d="M1099 1104z"/><path class="k3" d="M1131 1104zm-69-1z"/><path class="k1" d="M1160 1103zm-44 0zm-17 0z"/><path class="k5" d="M1032 1103zm-61 0zm-59-6z"/><path class="k2" d="M1153 1103zm-40 0zm-33 0zm-25 0z"/><path class="k1" d="M1159 1103zm-67 0zm-18 0z"/><path class="k3" d="M1045 1103zm-10 0z"/><path class="k2" d="M1185 1103zm-68 0zm-6 0z"/><path class="k1" d="M1214 1103zm-26-1zm-18 1zm-3-1zm-8 0zm-10 0zm-112 1z"/><path class="k2" d="M1037 1103z"/><path class="k5" d="M1064 1103z"/><path class="k1" d="M1056 1103z"/><path class="k4" d="M1046 1103zm-15 0z"/><path class="k3" d="M1063 1102zm-30 1z"/><path class="k4" d="M1069 1102z"/><path class="k1" d="M1087 1102z"/><path class="k3" d="M1113 1102zm-15 0z"/><path class="k4" d="M1044 1102z"/><path class="k6" d="M1039 1102z"/><path class="k2" d="M1155 1102zm-88 0zm-34 0z"/><path class="k7" d="M973 1102z"/><path class="k4" d="M1104 1102z"/><path class="k3" d="M1080 1102zm-43 0zm-4-1z"/><path class="k1" d="M1196 1102zm-12-1zm-19 1zm-78 0z"/><path class="k2" d="M1185 1101zm-19 0zm-79 1z"/><path class="k3" d="M1093 1101z"/><path class="k2" d="M1100 1101z"/><path class="k1" d="M1227 1098zm-6 2zm-68 1zm-85 0z"/><path class="k3" d="M1050 1101z"/><path class="k2" d="M1158 1101zm-78 0zm-21 0z"/><path class="k3" d="M1075 1101z"/><path class="k5" d="M977 1101z"/><path class="k6" d="M973 1101z"/><path class="k4" d="M1111 1100zm-73 0z"/><path class="k1" d="M1195 1100zm-36 0zm-44 0zm-10 0zm-59 0zm-15 0z"/><path class="k5" d="M998 1100z"/><path class="k3" d="M1055 1100z"/><path class="k2" d="M1153 1100zm-37 0zm-27 0zm-51 0z"/><path class="k4" d="M1044 1100z"/><path class="k2" d="M1075 1100z"/><path class="k1" d="M1158 1100z"/><path class="k2" d="M1184 1099zm-62 1z"/><path class="k6" d="M977 1099zm-4 0z"/><path class="k1" d="M1225 1099zm-1-3zm-89 3z"/><path class="k2" d="M1170 1099z"/><path class="k5" d="M1031 1099zm-52 0zm-49 0z"/><path class="k4" d="M1044 1099z"/><path class="k3" d="M1099 1099z"/><path class="k2" d="M1124 1099zm-72 0zm-2 0z"/><path class="k3" d="M1082 1099zm-12 0z"/><path class="k2" d="M1101 1099zm-63 0z"/><path class="k1" d="M1202 1098zm-1 1zm-13 0zm-47 0zm-35 0z"/><path class="k4" d="M1057 1099z"/><path class="k3" d="M1065 1099z"/><path class="k2" d="M1154 1099zm-44 0z"/><path class="k4" d="M1098 1099zm-39 0z"/><path class="k2" d="M1129 1099zm-12 0zm-86 0z"/><path class="k4" d="M1034 1099z"/><path class="k3" d="M1049 1099zm-33 0z"/><path class="k1" d="M1196 1098zm-6 0zm-11 0zm-6 0zm0 0zm-7 0zm-103 0zm-31 1z"/><path class="k4" d="M1074 1098z"/><path class="k1" d="M1086 1098zm-16 0z"/><path class="k2" d="M1092 1098z"/><path class="k3" d="M1057 1098z"/><path class="k5" d="M1032 1098z"/><path class="k1" d="M1128 1098z"/><path class="k7" d="M979 1098z"/><path class="k3" d="M1111 1098zm-71 0z"/><path class="k2" d="M1093 1097zm-58 1z"/><path class="k3" d="M1050 1098zm-5 0zm-8 0z"/><path class="k1" d="M1146 1098z"/><path class="k4" d="M980 1098z"/><path class="k2" d="M1165 1097zm-6 0zm-23 0zm-18 0zm-60 1z"/><path class="k3" d="M1101 1097zm-55 0zm-14 0z"/><path class="k2" d="M1057 1097zm-24 0z"/><path class="k4" d="M1082 1097z"/><path class="k2" d="M1112 1097z"/><path class="k1" d="M1178 1097z"/><path class="k7" d="M972 1097z"/><path class="k3" d="M1076 1097zm-42 0z"/><path class="k1" d="M1068 1097zm-23-1zm-6 0zm-1 1z"/><path class="k2" d="M1155 1097z"/><path class="k6" d="M1208 1095zm-235 2zm-47-2zm-13 1z"/><path class="k1" d="M1239 1094zm-80 2zm-12 0zm-13 0z"/><path class="k4" d="M1080 1096zm-35 0zm-68-1z"/><path class="k2" d="M1164 1096zm-53 0zm-37 0z"/><path class="k3" d="M1094 1096z"/><path class="k4" d="M1055 1096zm-24 0z"/><path class="k1" d="M1112 1096zm-12 0z"/><path class="k2" d="M1118 1096z"/><path class="k4" d="M1098 1096z"/><path class="k1" d="M1153 1096zm-1-1z"/><path class="k0" d="M1396 1096zm-748 346zm30 0z"/><path class="k2" d="M1179 1095zm-32 0zm-60 0zm-22 0z"/><path class="k3" d="M1031 1095z"/><path class="k1" d="M1358 1087zm-164 8zm-161 0zm-398 347zm10 0zm39-1z"/><path class="k4" d="M1046 1095zm-6 0zm-8-1z"/><path class="k2" d="M1170 1095zm-85 0z"/><path class="k4" d="M1131 1095z"/><path class="k2" d="M1130 1095zm-5 0zm-24 0z"/><path class="k5" d="M984 1095zm-53-2zm-331 349z"/><path class="k1" d="M1195 1095zm-17 0zm-24 0zm-535 347zm15 0z"/><path class="k3" d="M1082 1094zm-17 0zm-13 0z"/><path class="k2" d="M1194 1094zm-64 0zm-19 0zm-537 348z"/><path class="k1" d="M1226 1094zm-8 0zm-42 0zm-11 0zm-5 0zm-568 348z"/><path class="k3" d="M1110 1094zm-29 0z"/><path class="k4" d="M1046 1094zm-467 348zm2 0z"/><path class="k3" d="M1031 1094z"/><path class="k1" d="M1055 1094z"/><path class="k4" d="M1063 1094z"/><path class="k6" d="M978 1094zm-1-1zm-54-1zm-25-1z"/><path class="k3" d="M1075 1094zm-37 0z"/><path class="k2" d="M1239 1093zm-54 0zm-6 0zm-109 1zm-27 0zm-426 348zm11 0z"/><path class="k4" d="M1100 1094z"/><path class="k1" d="M1233 1093zm-114 1zm-489 348z"/><path class="k2" d="M1143 1094z"/><path class="k3" d="M1119 1093zm-86 1zm-409 348z"/><path class="k4" d="M1064 1093z"/><path class="k3" d="M1032 1093z"/><path class="k1" d="M1164 1093zm-51 0zm-468 348z"/><path class="k2" d="M1098 1093zm-10 0zm-1 0zm-434 347z"/><path class="k1" d="M1140 1093zm-46 0zm-459 347z"/><path class="k2" d="M1142 1093zm-86 0z"/><path class="k3" d="M1034 1093z"/><path class="k1" d="M1172 1093zm-25 0zm-76-1zm-8 0z"/><path class="k2" d="M1206 1092zm-41 0zm-11 0zm-6 0zm-31 0zm-41 0z"/><path class="k3" d="M1106 1092zm-61 0z"/><path class="k2" d="M1034 1092z"/><path class="k3" d="M1038 1092z"/><path class="k2" d="M1046 1092z"/><path class="k1" d="M1113 1092z"/><path class="k3" d="M1153 1092zm-61 0z"/><path class="k2" d="M1155 1092zm-80 0zm-24 0z"/><path class="k3" d="M1143 1091zm-27 0zm-16 0zm-29 0zm-33 0zm-7 0z"/><path class="k2" d="M1161 1091z"/><path class="k3" d="M1172 1091z"/><path class="k4" d="M1047 1091z"/><path class="k2" d="M1208 1091zm-25 0zm-28 0z"/><path class="k3" d="M1040 1091z"/><path class="k2" d="M1064 1091z"/><path class="k3" d="M1069 1091z"/><path class="k6" d="M1039 1091z"/><path class="k3" d="M1061 1091z"/><path class="k1" d="M1226 1087zm-11 3zm-1 0zm-14-1zm-82 1z"/><path class="k2" d="M1257 1086zm-104 4zm-59 0z"/><path class="k5" d="M973 1090zm-54 0zm-351 352z"/><path class="k3" d="M1074 1090zm-486 352z"/><path class="k1" d="M1285 1081zm-106 8zm-8 1z"/><path class="k2" d="M1164 1089zm-59 1zm-37 0z"/><path class="k4" d="M1062 1090z"/><path class="k3" d="M1111 1090z"/><path class="k2" d="M1152 1089zm-22 1zm-41 0z"/><path class="k3" d="M1099 1090zm-17 0zm-31 0z"/><path class="k4" d="M1033 1090z"/><path class="k2" d="M1092 1090zm-48 0z"/><path class="k3" d="M1094 1089zm-54 1z"/><path class="k6" d="M980 1090zm-9-1zm-54-4z"/><path class="k2" d="M1033 1090zm-1-1z"/><path class="k4" d="M1104 1089z"/><path class="k2" d="M1135 1089zm-7 0zm-54 0z"/><path class="k3" d="M1131 1089z"/><path class="k4" d="M1047 1089z"/><path class="k1" d="M1189 1088zm-132 0z"/><path class="k2" d="M1110 1088z"/><path class="k3" d="M1068 1088zm-18 0z"/><path class="k1" d="M1153 1088z"/><path class="k5" d="M973 1088zm-369 352z"/><path class="k2" d="M1146 1088zm-4 0zm-86 0z"/><path class="k3" d="M1176 1088zm-135 0zm-4 0zm-444 352z"/><path class="k1" d="M1213 1088zm-5-1zm-5 1zm-31 0zm-42 0zm-81 0zm-78 0z"/><path class="k4" d="M1070 1088zm-482 352z"/><path class="k3" d="M1153 1088zm-61 0z"/><path class="k2" d="M1233 1086zm-2-1zm-11 1zm-24 0zm-38 1zm-3 0zm-2 0zm-12 0zm-30 0zm-11 0zm-43 1zm-460 352z"/><path class="k1" d="M1274 1080zm-12 2zm-7 1zm-174 4z"/><path class="k4" d="M1032 1087z"/><path class="k3" d="M1070 1087zm-482 353zm31 0z"/><path class="k2" d="M1122 1087zm-518 353zm23 0z"/><path class="k4" d="M1045 1087z"/><path class="k1" d="M1052 1087z"/><path class="k4" d="M1068 1087zm-9 0zm-9 0zm-11 0z"/><path class="k3" d="M1109 1087zm-511 353z"/><path class="k2" d="M1152 1087zm-46 0zm-25 0z"/><path class="k3" d="M1131 1087z"/><path class="k5" d="M973 1087z"/><path class="k4" d="M1059 1087zm-485 353z"/><path class="k2" d="M1167 1086zm-45 0z"/><path class="k3" d="M1155 1086zm-73 0zm-9 0zm-41 0zm-463 354z"/><path class="k6" d="M971 1086zm-422 353z"/><path class="k2" d="M1191 1085zm-2 0zm-85 1z"/><path class="k4" d="M1033 1086z"/><path class="k3" d="M1041 1086z"/><path class="k4" d="M1075 1086z"/><path class="k2" d="M1056 1086z"/><path class="k4" d="M1043 1086z"/><path class="k2" d="M1050 1086z"/><path class="k1" d="M1182 1085zm-53 0zm-76 0zm-422 355zm4 0z"/><path class="k3" d="M1045 1085z"/><path class="k2" d="M1164 1085zm-28 0zm-62 0zm-42 0z"/><path class="k3" d="M1178 1085zm-92 0zm-23 0zm-18 0z"/><path class="k0" d="M1369 1085zm-703 355z"/><path class="k1" d="M1333 1071zm1 5zm0-5zm48 13zm-30 0zm-12-1zm-5 2zm-115-2z"/><path class="k5" d="M973 1085z"/><path class="k2" d="M1171 1084zm-12 1zm-7 0zm-83 0zm-35 0z"/><path class="k1" d="M1195 1084zm-22 0zm-20 0zm-48 0z"/><path class="k6" d="M980 1084z"/><path class="k4" d="M1071 1084zm-449 356z"/><path class="k1" d="M1039 1084zm-5 0z"/><path class="k2" d="M1219 1083zm-76 1zm-91 0z"/><path class="k3" d="M1037 1084z"/><path class="k5" d="M977 1083zm-4 0zm-1 1zm0-1zm-35-1z"/><path class="k4" d="M1050 1084z"/><path class="k1" d="M1236 1082zm-18 1zm-59 0zm-82 1z"/><path class="k2" d="M1261 1079zm-89 4zm-7 0zm-41 0zm-12 0zm-66 0zm-13 1z"/><path class="k0" d="M1419 1083zm-8 0zm-33 0z"/><path class="k1" d="M1279 1076zm13-5zm44 6zm3-7zm2 4zm0-3zm4 5zm2-5zm109-1zm-86 13zm-284 0z"/><path class="k2" d="M1099 1083z"/><path class="k3" d="M1155 1083zm-75 0zm-16 0z"/><path class="k2" d="M1158 1083zm-101 0zm-24 0z"/><path class="k4" d="M1101 1083z"/><path class="k2" d="M1123 1083zm-59 0z"/><path class="k3" d="M1040 1083zm-2 0z"/><path class="k4" d="M1070 1083z"/><path class="k1" d="M1196 1082zm-18 1zm-54 0z"/><path class="k2" d="M1152 1082zm-60 1z"/><path class="k3" d="M1058 1082z"/><path class="k7" d="M865 1078zm36-1zm109 5z"/><path class="k4" d="M1038 1082zm-6 0z"/><path class="k2" d="M1100 1082z"/><path class="k1" d="M1176 1082zm-33 0zm-8 0z"/><path class="k6" d="M984 1082zm-404 358z"/><path class="k3" d="M1154 1082zm-93 0z"/><path class="k1" d="M1197 1081zm-19 1zm-20-1zm-64 1z"/><path class="k0" d="M1394 1082z"/><path class="k2" d="M1098 1082zm-51 0zm-471 357zm-3 0zm36 1z"/><path class="k4" d="M1051 1082z"/><path class="k2" d="M1074 1081zm-42 0z"/><path class="k3" d="M1203 1081zm-135 0z"/><path class="k4" d="M1117 1081zm-60 0zm-19 0z"/><path class="k2" d="M1113 1081zm-62 0z"/><path class="k7" d="M990 1081z"/><path class="k1" d="M1354 1073zm11-3zm22-1zm3 2zm34-1zm-260 10zm-70 1zm-442 359z"/><path class="k4" d="M1046 1080z"/><path class="k2" d="M1182 1080z"/><path class="k3" d="M1177 1080zm-49 0zm-47 0z"/><path class="k2" d="M1110 1080zm-24 0zm-42 0z"/><path class="k3" d="M1040 1080z"/><path class="k4" d="M1161 1080z"/><path class="k2" d="M1195 1080zm-22 0z"/><path class="k1" d="M1149 1080zm-7 0z"/><path class="k5" d="M931 1076zm43 1zm63 3zm-65 0z"/><path class="k2" d="M1188 1080zm-36 0zm-23 0z"/><path class="k4" d="M1062 1080z"/><path class="k3" d="M1076 1080z"/><path class="k2" d="M1113 1080zm-31 0z"/><path class="k4" d="M1041 1080z"/><path class="k1" d="M1188 1079zm21 0zm-55 1z"/><path class="k3" d="M1094 1079z"/><path class="k2" d="M1041 1079zm65 0zm118 0z"/><path class="k4" d="M1110 1079z"/><path class="k1" d="M1100 1079zm29 0zm85 0zm12-1zm1-1zm4 1zm7-2zm6 0z"/><path class="k3" d="M1053 1079zm10 0z"/><path class="k2" d="M1057 1079zm98-1zm18 0z"/><path class="k3" d="M1046 1079zm40 0z"/><path class="k2" d="M1031 1078zm39 1zm5-1zm25 1zm5-1z"/><path class="k3" d="M1033 1078zm13 0zm10 0z"/><path class="k5" d="M1106 1078z"/><path class="k1" d="M1113 1078zm4 0zm48 0z"/><path class="k2" d="M1033 1078zm126 0z"/><path class="k4" d="M1081 1078z"/><path class="k3" d="M1039 1078zm5 0z"/><path class="k2" d="M1094 1077z"/><path class="k4" d="M1038 1077zm19 0z"/><path class="k1" d="M1166 1077z"/><path class="k2" d="M1134 1077z"/><path class="k3" d="M1051 1077z"/><path class="k4" d="M1033 1077z"/><path class="k1" d="M1081 1077zm71 0z"/><path class="k2" d="M1046 1077zm48 0zm60-1zm7 1zm3 0zm21-1z"/><path class="k3" d="M1034 1077zm76-1z"/><path class="k4" d="M997 1075zm66 1z"/><path class="k3" d="M1045 1076z"/><path class="k4" d="M1058 1076zm10 0z"/><path class="k2" d="M1125 1076z"/><path class="k3" d="M1051 1076zm54 0z"/><path class="k1" d="M1152 1076zm12 0z"/><path class="k2" d="M1080 1076z"/><path class="k1" d="M1110 1076z"/><path class="k3" d="M1100 1075zm35 1z"/><path class="k1" d="M1176 1075zm2 0z"/><path class="k2" d="M1105 1075z"/><path class="k5" d="M1031 1075z"/><path class="k3" d="M1093 1075zm74 0z"/><path class="k2" d="M1069 1075zm97 0zm25 0zm6-1z"/><path class="k3" d="M1040 1075zm34 0z"/><path class="k2" d="M1052 1075z"/><path class="k4" d="M1031 1075zm4 0zm12 0z"/><path class="k3" d="M1039 1075zm54 0z"/><path class="k2" d="M1044 1075zm87 0z"/><path class="k3" d="M1034 1075zm6 0z"/><path class="k4" d="M1070 1075z"/><path class="k1" d="M1113 1074zm107 0z"/><path class="k2" d="M1140 1074zm55 0z"/><path class="k3" d="M1033 1074zm1 0zm28 0z"/><path class="k4" d="M1081 1074zm7 0z"/><path class="k1" d="M1116 1074zm102 0z"/><path class="k3" d="M1040 1074zm28 0zm87 0z"/><path class="k2" d="M1185 1074zm46 0z"/><path class="k1" d="M1143 1074z"/><path class="k4" d="M1057 1074z"/><path class="k3" d="M1039 1074zm13 0zm127-1zm35 1z"/><path class="k4" d="M1056 1074z"/><path class="k1" d="M1234 1073z"/><path class="k2" d="M1046 1073zm82 0zm39 0zm22 0z"/><path class="k3" d="M1034 1073zm36 0zm28 0z"/><path class="k1" d="M1130 1073zm89 0z"/><path class="k2" d="M1052 1073zm55 0zm24 0zm24 0zm6 0zm12-1zm69 0z"/><path class="k6" d="M925 1059zm52 14zm-379 366z"/><path class="k4" d="M1081 1073zm12 0zm-525 366z"/><path class="k5" d="M974 1072zm35 1z"/><path class="k3" d="M1039 1072z"/><path class="k1" d="M1033 1072zm37 0zm17 0zm97 0zm67 0zm24-5zm7 2z"/><path class="k2" d="M1058 1072z"/><path class="k3" d="M1033 1072zm55 0z"/><path class="k1" d="M1130 1072z"/><path class="k2" d="M1173 1072z"/><path class="k3" d="M1095 1072z"/><path class="k4" d="M1013 1072zm44 0zm103 0z"/><path class="k2" d="M1044 1071zm8 0zm130 1z"/><path class="k1" d="M1104 1071zm49 0zm6 0zm62 0z"/><path class="k5" d="M971 1071zm0-3z"/><path class="k4" d="M1099 1071z"/><path class="k1" d="M1113 1071z"/><path class="k3" d="M1033 1071zm8 0zm27 0z"/><path class="k4" d="M1075 1071z"/><path class="k3" d="M1038 1071zm42 0zm15 0zm15 0z"/><path class="k2" d="M1152 1071zm51 0z"/><path class="k1" d="M1086 1071zm96 0zm56-1z"/><path class="k4" d="M1031 1071z"/><path class="k3" d="M1033 1071zm23-1zm25 0zm24 0z"/><path class="k2" d="M1117 1070zm11 0zm8 0zm17 0zm8 0z"/><path class="k5" d="M1061 1070z"/><path class="k2" d="M1074 1070z"/><path class="k4" d="M1071 1070zm21 0z"/><path class="k3" d="M1034 1070z"/><path class="k4" d="M1058 1070z"/><path class="k1" d="M1189 1070z"/><path class="k3" d="M1033 1070zm12 0zm109 0z"/><path class="k2" d="M1056 1070zm48-1zm26 0zm11 0z"/><path class="k1" d="M1179 1069z"/><path class="k3" d="M1075 1069zm23 0z"/><path class="k4" d="M1219 1069z"/><path class="k2" d="M1111 1069zm68 0z"/><path class="k1" d="M1155 1069zm72 0z"/><path class="k0" d="M1369 1069zm51-1zm-762 372z"/><path class="k5" d="M1031 1069z"/><path class="k3" d="M1069 1069zm104 0z"/><path class="k4" d="M1047 1069zm11 0zm108 0z"/><path class="k3" d="M1032 1068zm2 0zm107 1z"/><path class="k2" d="M1080 1068zm9 1zm112-1z"/><path class="k4" d="M1111 1068z"/><path class="k3" d="M1207 1068z"/><path class="k1" d="M1089 1068zm107 0zm41-1zm9 1zm3-2zm84-5zm1 6zm1-1zm5 2zm2-1zm6-1zm12 1zm3-1zm20 2zm-713 371z"/><path class="k7" d="M1033 1068z"/><path class="k6" d="M973 1067zm67 1z"/><path class="k3" d="M1125 1068z"/><path class="k2" d="M1165 1068zm83-3z"/><path class="k4" d="M1058 1068z"/><path class="k2" d="M1085 1068z"/><path class="k1" d="M1172 1068z"/><path class="k3" d="M1044 1067zm21 1z"/><path class="k2" d="M1038 1067zm68 0zm36 0zm11 0z"/><path class="k3" d="M1082 1067z"/><path class="k2" d="M1052 1067zm30 0z"/><path class="k3" d="M1031 1067zm38 0z"/><path class="k2" d="M1092 1067z"/><path class="k5" d="M973 1067zm66 0z"/><path class="k1" d="M1176 1067z"/><path class="k3" d="M1059 1067zm34 0z"/><path class="k2" d="M1032 1066zm96 1zm30-1zm8 1z"/><path class="k3" d="M1050 1066zm57 0z"/><path class="k1" d="M1088 1066zm73 0zm42 0z"/><path class="k2" d="M1032 1066zm50 0zm70 0zm61 0zm12 0z"/><path class="k1" d="M1105 1066zm126-1z"/><path class="k3" d="M1057 1066zm23 0zm60 0zm25 0z"/><path class="k2" d="M1068 1066zm57-1z"/><path class="k3" d="M1046 1066z"/><path class="k4" d="M1045 1065zm24 0zm8 1z"/><path class="k1" d="M1170 1065zm26 0z"/><path class="k2" d="M1032 1065zm69 0zm15 0zm49 0z"/><path class="k3" d="M1046 1064zm30 1z"/><path class="k1" d="M1184 1065z"/><path class="k2" d="M1098 1065zm122 0z"/><path class="k0" d="M1377 1065zm-694 374z"/><path class="k3" d="M1118 1064zm28 1zm14 0z"/><path class="k1" d="M1086 1064zm139 0zm30 0zm80 0zm0 0zm6-2zm1 0zm10 1zm2 1zm29 1zm28-3z"/><path class="k2" d="M1152 1064zm50 0zm-556 375z"/><path class="k3" d="M1052 1064zm10 0zm8 0zm46 0z"/><path class="k2" d="M1142 1064z"/><path class="k7" d="M1008 1064z"/><path class="k3" d="M1107 1064z"/><path class="k2" d="M1044 1064zm56 0zm48 0z"/><path class="k3" d="M1051 1063zm108 1z"/><path class="k1" d="M1123 1064zm-482 375z"/><path class="k3" d="M1087 1063zm10 0zm-463 376zm-30 0z"/><path class="k2" d="M1037 1063zm2 0zm113 0zm2 0zm41 0zm1 0zm4 0z"/><path class="k5" d="M972 1061zm0-1zm5 3zm2-1zm6-1zm22 2zm-378 376z"/><path class="k4" d="M1033 1063z"/><path class="k3" d="M1064 1063zm109 0z"/><path class="k5" d="M1002 1063z"/><path class="k2" d="M1056 1063zm-410 376zm-60 0z"/><path class="k1" d="M1148 1063zm79-1z"/><path class="k4" d="M1052 1063zm17-1z"/><path class="k2" d="M1124 1062zm16 0zm84 0z"/><path class="k3" d="M1049 1062zm45 0zm36 0z"/><path class="k2" d="M1080 1062zm78 0zm8 0zm5 0z"/><path class="k1" d="M1237 1062z"/><path class="k3" d="M1107 1062zm47 0z"/><path class="k2" d="M1089 1062zm131 0zm29 0z"/><path class="k3" d="M1110 1062z"/><path class="k4" d="M1031 1062zm9 0zm4 0z"/><path class="k2" d="M1034 1062zm42 0z"/><path class="k3" d="M1037 1062zm21-1zm58 1z"/><path class="k1" d="M1122 1061zm24 0zm30 0zm66 0z"/><path class="k2" d="M1034 1061zm144 0zm36 0zm18 0zm4 0z"/><path class="k4" d="M1088 1061z"/><path class="k0" d="M1370 1061zm53 0zm-747 377z"/><path class="k3" d="M1098 1061z"/><path class="k1" d="M1153 1061zm92-1zm6-1zm18 0zm10 1zm97-5zm11-9zm1 12zm18-8zm1 10zm4 0zm21-1zm17-2z"/><path class="k2" d="M1110 1061zm223-1z"/><path class="k4" d="M1165 1061z"/><path class="k1" d="M1076 1061zm245-6zm13 4zm0-1zm5 0zm1-2zm1 2zm1 1zm3 0zm0-5zm1 2zm1 4zm4-4zm7-1z"/><path class="k2" d="M1051 1061zm48-1zm6 0zm35 0zm50 1z"/><path class="k1" d="M1160 1060zm22 0zm39 0zm10 0z"/><path class="k3" d="M1063 1060zm271-6z"/><path class="k1" d="M1046 1060zm287-12zm1 0zm1 1zm1 2zm0-1zm0 0zm0-2zm3 1zm2 4zm1-3zm3 2zm2-2zm0-1zm4 2zm6 2z"/><path class="k2" d="M1153 1060zm26 0zm4 0zm14 0zm29-3zm19 2zm5-2z"/><path class="k3" d="M1039 1060zm48 0zm248-13z"/><path class="k1" d="M1119 1060zm150-7zm6 2zm47-8zm11-2zm2 2zm22-2z"/><path class="k4" d="M1062 1060z"/><path class="k2" d="M1058 1060zm16 0zm27 0zm233-15z"/><path class="k6" d="M943 1059zm30 1z"/><path class="k5" d="M1152 1060zm-564 379z"/><path class="k2" d="M1153 1060z"/><path class="k3" d="M1033 1059zm5 0zm128 0z"/><path class="k1" d="M1342 1039zm0-2zm-2 1zm-1 1zm0-3zm-4 1zm-1 1zm-1 0zm0-1zm-251 22zm100 0zm151-17zm2 0zm0-2zm5 3zm1 1zm1 0zm5 0zm4-1zm13-1z"/><path class="k3" d="M1045 1059zm13 0zm3 0zm39 0z"/><path class="k2" d="M1040 1059zm120 0zm230-17z"/><path class="k3" d="M1052 1059zm83 0zm26-1z"/><path class="k4" d="M1032 1059z"/><path class="k1" d="M1113 1058zm234-18zm13 0z"/><path class="k3" d="M1094 1058z"/><path class="k2" d="M1059 1058z"/><path class="k3" d="M1044 1058z"/><path class="k2" d="M1064 1058z"/><path class="k3" d="M1041 1058zm40 0zm17 0z"/><path class="k2" d="M1032 1058z"/><path class="k4" d="M1153 1058z"/><path class="k3" d="M1038 1058zm20 0zm11 0zm5 0z"/><path class="k1" d="M1154 1058z"/><path class="k4" d="M1080 1057zm14 1zm10 0z"/><path class="k2" d="M1068 1057zm91 1zm23-1z"/><path class="k3" d="M1152 1057z"/><path class="k4" d="M1031 1057zm45 0z"/><path class="k7" d="M974 1057z"/><path class="k3" d="M1074 1057z"/><path class="k4" d="M1034 1057zm15 0z"/><path class="k1" d="M1116 1057zm105 0z"/><path class="k4" d="M1092 1057zm19 0z"/><path class="k2" d="M1104 1057zm62 0z"/><path class="k3" d="M1098 1057z"/><path class="k1" d="M1197 1056zm5 0z"/><path class="k4" d="M1074 1056z"/><path class="k2" d="M1039 1056zm133 0zm19 0z"/><path class="k3" d="M1059 1056zm51 0zm114-1z"/><path class="k6" d="M972 1056zm8 0zm-400 383z"/><path class="k0" d="M1388 1040zm90 16z"/><path class="k4" d="M1081 1056z"/><path class="k3" d="M1062 1056zm48 0zm-488 383zm-16 0z"/><path class="k4" d="M1086 1056z"/><path class="k1" d="M1357 1038zm-6 0zm-187 18zm2 0zm23-1zm25 0zm25-1zm216 1zm-807 383z"/><path class="k4" d="M1122 1056z"/><path class="k3" d="M1070 1056z"/><path class="k7" d="M978 1055z"/><path class="k2" d="M1040 1055zm10 0zm225-5z"/><path class="k1" d="M1035 1055zm111 0zm122-5zm5-6zm3 4zm0-4z"/><path class="k3" d="M1086 1055zm26 0z"/><path class="k5" d="M971 1054zm1 1zm2-5zm-381 389z"/><path class="k2" d="M1128 1055zm54 0zm-590 383z"/><path class="k1" d="M1177 1055z"/><path class="k2" d="M1134 1055zm6 0zm2 0zm11 0zm6-1zm19 1zm13-1z"/><path class="k4" d="M1065 1055zm16 0z"/><path class="k2" d="M1069 1055zm42 0z"/><path class="k3" d="M1056 1055zm19-1zm7 0zm19 0z"/><path class="k5" d="M1031 1055zm-431 383z"/><path class="k3" d="M1032 1054zm6 0zm24 0z"/><path class="k2" d="M1130 1054z"/><path class="k1" d="M1215 1054z"/><path class="k3" d="M1129 1054zm23 0z"/><path class="k4" d="M1033 1054zm29 0z"/><path class="k3" d="M1105 1054z"/><path class="k2" d="M1050 1054zm128 0zm5 0z"/><path class="k1" d="M1092 1054zm72 0zm12 0zm24-1z"/><path class="k3" d="M1044 1054z"/><path class="k1" d="M1034 1054z"/><path class="k4" d="M1047 1053z"/><path class="k0" d="M1364 1036zm127 17zm-808 385z"/><path class="k2" d="M1148 1053zm1-1zm6 1zm4-1zm2 0zm6 1zm4 0zm50 0z"/><path class="k3" d="M1077 1053z"/><path class="k2" d="M1088 1053zm11 0zm11 0z"/><path class="k3" d="M1056 1053zm37 0z"/><path class="k5" d="M1010 1053z"/><path class="k4" d="M1031 1053z"/><path class="k2" d="M1044 1052zm72 1zm18 0z"/><path class="k3" d="M1033 1052z"/><path class="k1" d="M1376 1035zm-221 16zm65 1zm240 0zm-796 386z"/><path class="k4" d="M1034 1052z"/><path class="k3" d="M1047 1052zm10 0z"/><path class="k2" d="M1209 1052zm-550 386zm-11 0z"/><path class="k4" d="M1064 1052z"/><path class="k2" d="M1032 1052zm44 0z"/><path class="k3" d="M1050 1052z"/><path class="k1" d="M1214 1052zm-535 385zm-1 1zm-37 0zm-4 0z"/><path class="k4" d="M1111 1052zm103-1z"/><path class="k2" d="M1152 1051zm-482 386zm-36 1zm-29 0z"/><path class="k1" d="M1086 1051z"/><path class="k4" d="M1092 1051zm7 0zm68 0z"/><path class="k3" d="M1046 1051zm51 0zm58 0zm-537 387z"/><path class="k4" d="M1040 1051z"/><path class="k2" d="M1031 1051zm7 0zm19 0zm35 0zm44 0zm42-1zm5 0zm5 0zm13 0zm-574 388z"/><path class="k4" d="M1110 1051zm9 0z"/><path class="k3" d="M1032 1050zm30 1zm13 0zm5-1zm24 0z"/><path class="k2" d="M1147 1050zm11 0z"/><path class="k5" d="M1032 1050z"/><path class="k3" d="M1047 1050zm132 0z"/><path class="k1" d="M1057 1050zm-398 386z"/><path class="k2" d="M1085 1050zm93-1zm-524 387z"/><path class="k4" d="M1038 1050z"/><path class="k2" d="M1031 1050z"/><path class="k4" d="M1040 1050z"/><path class="k3" d="M1031 1050z"/><path class="k2" d="M1075 1049z"/><path class="k6" d="M971 1049zm8 0zm-392 389z"/><path class="k1" d="M1099 1049zm7 0zm76 0zm37 0z"/><path class="k5" d="M955 1047zm17 0zm5 1zm78 1zm-474 388z"/><path class="k1" d="M1033 1049z"/><path class="k3" d="M1046 1049zm-443 387z"/><path class="k1" d="M1064 1049zm-470 387z"/><path class="k4" d="M1165 1048z"/><path class="k2" d="M1135 1048zm43 0zm22 0z"/><path class="k6" d="M1041 1048zm-449 388zm-42 1z"/><path class="k1" d="M1130 1048zm101 0zm2-1z"/><path class="k2" d="M1116 1048zm12 0zm27 0zm53-1zm-574 389zm-52 0z"/><path class="k3" d="M1051 1048zm90 0zm-543 388z"/><path class="k2" d="M1159 1048zm-529 388z"/><path class="k4" d="M1035 1048z"/><path class="k3" d="M1050 1048zm67 0zm44 0z"/><path class="k2" d="M1111 1048zm35 0zm13-1zm18 1zm5-1z"/><path class="k5" d="M1032 1048z"/><path class="k2" d="M1032 1047zm8 0zm17 1zm17 0z"/><path class="k0" d="M1424 1039zm-54-4zm85 11zm6 2zm26-1zm-775 386z"/><path class="k4" d="M1086 1047zm14 1z"/><path class="k2" d="M1341 1035zm-294 12zm420-1z"/><path class="k3" d="M1038 1047zm7 0zm12 0zm24 0z"/><path class="k1" d="M1515 1014zm-167 21zm-15-1zm-217 13zm37 0zm18 0zm79-1zm-543 387zm-44 2z"/><path class="k3" d="M1185 1047z"/><path class="k2" d="M1154 1047zm16 0zm14 0zm11-1zm-541 389z"/><path class="k4" d="M1075 1047z"/><path class="k2" d="M1074 1047zm26-1z"/><path class="k1" d="M1111 1046zm35 0zm87-1zm-574 390zm-1 0z"/><path class="k2" d="M1155 1046zm6 0zm28 0zm54-2z"/><path class="k3" d="M1142 1046z"/><path class="k6" d="M1028 1046zm-442 390z"/><path class="k1" d="M1064 1046z"/><path class="k2" d="M1104 1046zm55 0zm-560 389z"/><path class="k3" d="M1051 1046zm-421 389z"/><path class="k2" d="M1088 1046z"/><path class="k4" d="M1106 1046z"/><path class="k3" d="M1062 1046z"/><path class="k4" d="M1044 1046zm37 0z"/><path class="k7" d="M974 1046zm18 0z"/><path class="k1" d="M1195 1046zm-536 388z"/><path class="k2" d="M1039 1046zm18 0zm72-1zm90-1zm2 1zm5 0zm-569 389z"/><path class="k3" d="M1038 1046zm42-1z"/><path class="k4" d="M1065 1045zm23 0zm9 0z"/><path class="k1" d="M1031 1045zm141 0z"/><path class="k2" d="M1044 1045zm103 0zm36 0z"/><path class="k6" d="M974 1045zm-388 390z"/><path class="k3" d="M1038 1045zm79 0zm42 0zm-570 390z"/><path class="k5" d="M971 1045zm2 0zm-423 390z"/><path class="k2" d="M1113 1045zm52 0z"/><path class="k4" d="M1058 1045zm-467 389z"/><path class="k1" d="M1105 1044zm23 1zm21-1z"/><path class="k2" d="M1160 1044zm-563 390z"/><path class="k3" d="M1056 1044zm55 0z"/><path class="k2" d="M1040 1044zm48 0zm11 0z"/><path class="k4" d="M1117 1044zm44 0zm-573 390z"/><path class="k3" d="M1032 1044zm36 0zm-444 389zm-31 0z"/><path class="k6" d="M1177 1044zm-578 389zm-42-1z"/><path class="k7" d="M971 1043z"/><path class="k2" d="M1033 1043zm83 0zm8 0z"/><path class="k3" d="M1172 1043zm-578 388zm-3 0z"/><path class="k1" d="M1207 1043zm-547 390z"/><path class="k4" d="M1046 1043zm-453 388z"/><path class="k2" d="M1131 1043zm40 0zm6 0zm65 0z"/><path class="k5" d="M974 1043z"/><path class="k3" d="M1031 1042zm19 1zm189-1zm-578 390z"/><path class="k2" d="M1077 1043zm154-1z"/><path class="k3" d="M1038 1043zm5 0zm32 0zm20 0z"/><path class="k1" d="M1179 1042zm57 0zm-576 389z"/><path class="k6" d="M973 1042z"/><path class="k3" d="M1161 1042z"/><path class="k1" d="M1171 1042z"/><path class="k2" d="M1075 1042zm174-1z"/><path class="k3" d="M1146 1042z"/><path class="k1" d="M1124 1042zm126-2zm34 0z"/><path class="k4" d="M1064 1042z"/><path class="k2" d="M1257 1037zm-144 5zm64 0zm98-2z"/><path class="k1" d="M1305 1030zm-23 5zm-164 7z"/><path class="k2" d="M1140 1042z"/><path class="k3" d="M1033 1042zm55 0zm18 0zm72 0z"/><path class="k4" d="M1057 1042z"/><path class="k2" d="M1190 1042z"/><path class="k3" d="M1038 1042zm120 0z"/><path class="k4" d="M1033 1042zm12 0z"/><path class="k3" d="M1067 1041zm14 1z"/><path class="k4" d="M1047 1041zm65 0z"/><path class="k2" d="M1153 1041zm1-1zm1 1zm3 0zm13 0zm14 0z"/><path class="k3" d="M1056 1041zm49 0z"/><path class="k2" d="M1086 1041zm25 0zm13 0zm6 0zm17 0z"/><path class="k0" d="M1426 1041zm-682 389zm-1 3zm0-4zm0-2zm-5-1zm-7 4zm-1-2z"/><path class="k4" d="M1034 1041z"/><path class="k3" d="M1064 1041zm106-1z"/><path class="k4" d="M1039 1041zm41 0z"/><path class="k7" d="M985 1041zm-391 389z"/><path class="k3" d="M1058 1040zm41 1z"/><path class="k6" d="M973 1040zm67 0zm-446 389zm-1-1z"/><path class="k4" d="M1032 1040zm61 0z"/><path class="k2" d="M1045 1040zm48 0zm55 0zm59 0z"/><path class="k4" d="M1153 1040z"/><path class="k3" d="M1069 1040zm-502 388z"/><path class="k1" d="M1457 1037zm-43 2zm-7-5zm-19-1zm-210 7zm-445 385zm-25-1z"/><path class="k4" d="M1040 1039zm-9 0zm51 1z"/><path class="k2" d="M1474 1034zm-117-1zm-144 6zm-34 0zm-92 1zm31 0zm76 0zm26 0z"/><path class="k1" d="M1384 1033zm-18-2zm-13 0zm-7 2zm-4-1zm-1 1zm-2 0zm0-1zm-3 1zm-2 0zm-1-2zm-73 6zm-105 2z"/><path class="k5" d="M972 1039z"/><path class="k7" d="M974 1039z"/><path class="k3" d="M1152 1039zm-47 0z"/><path class="k4" d="M1089 1039z"/><path class="k3" d="M1046 1039z"/><path class="k5" d="M1038 1039zm-65-1z"/><path class="k2" d="M1371 1031zm-153 6zm-143 2z"/><path class="k4" d="M1068 1039z"/><path class="k3" d="M1100 1038zm-2 1zm-5 0z"/><path class="k1" d="M1400 1028zm-13 3zm-28-1zm-6 0zm-7-1zm-1 1zm0-2zm-5 2zm0-2zm-1 0zm-3 2zm-2 0zm0-3zm-1 1zm-178 11z"/><path class="k6" d="M1033 1039zm-439 389z"/><path class="k2" d="M1426 1028zm-67-1zm-180 12z"/><path class="k4" d="M1122 1038zm-554 385zm0 0z"/><path class="k3" d="M1153 1038zm-59 0zm-48 0zm-478 384z"/><path class="k4" d="M1167 1038zm-587 381zm-4 3z"/><path class="k3" d="M1134 1038zm-548 379zm-5 1zm-31 30z"/><path class="k2" d="M1172 1038zm-97 0z"/><path class="k3" d="M1111 1038zm-25 0z"/><path class="k2" d="M1154 1038zm-96 0z"/><path class="k3" d="M1161 1038zm-91 0zm-14 0zm-3 0zm-14 0z"/><path class="k2" d="M1173 1038z"/><path class="k4" d="M1092 1038zm-511 374z"/><path class="k3" d="M1111 1037zm-513 374z"/><path class="k1" d="M1402 1024zm-3 1zm-46 1zm0-2zm-5 1zm-1 1zm-2-1zm-5-1zm-1 2zm-3 1zm-3 0zm0-3zm0-1zm0-1zm-167 15z"/><path class="k2" d="M1184 1037zm-32 0zm-15 0zm-15 0zm-52 0z"/><path class="k4" d="M1190 1037zm-581 372z"/><path class="k2" d="M1227 1037z"/><path class="k7" d="M1050 1037zm-441 372z"/><path class="k3" d="M1077 1037z"/><path class="k1" d="M1220 1037zm-36 0z"/><path class="k2" d="M1074 1037z"/><path class="k3" d="M1106 1037z"/><path class="k5" d="M1031 1037zm-422 371z"/><path class="k4" d="M1154 1037zm-121 0zm-424 371z"/><path class="k2" d="M1183 1036zm-19 0zm-4 0zm-61 1z"/><path class="k4" d="M1154 1036zm-78 0zm-12 0z"/><path class="k3" d="M1063 1036zm-11 0zm-8 0zm-6 0zm-410 370z"/><path class="k1" d="M1221 1036z"/><path class="k2" d="M1262 1031zm-25 3zm-18 2zm-90 0z"/><path class="k4" d="M1189 1036zm-142-1zm-13 1z"/><path class="k3" d="M1099 1036zm-5-1z"/><path class="k2" d="M1158 1035z"/><path class="k3" d="M1183 1035zm-10 0zm-19 0z"/><path class="k4" d="M1093 1035z"/><path class="k2" d="M1219 1035zm-10 0zm-33 0zm-12 0zm-9 0z"/><path class="k3" d="M1189 1035zm-96 0zm-7 0z"/><path class="k4" d="M1081 1035z"/><path class="k1" d="M1285 1030zm-5 1zm-228 4z"/><path class="k4" d="M1033 1035z"/><path class="k3" d="M1069 1035zm-62 0z"/><path class="k6" d="M971 1035zm-398 403z"/><path class="k4" d="M1087 1035zm-53-1z"/><path class="k3" d="M1113 1035z"/><path class="k2" d="M1208 1035zm-12-1zm-18 0zm-6 0zm-8 0zm-3-1zm-7 2zm-2-1zm-10 1zm-30-1z"/><path class="k1" d="M1080 1034z"/><path class="k2" d="M1045 1034z"/><path class="k1" d="M1057 1034z"/><path class="k2" d="M1087 1034z"/><path class="k5" d="M973 1033zm-1 1zm0-6zm-1 3zm-310 375zm-33-2z"/><path class="k4" d="M1111 1034zm-78 0z"/><path class="k2" d="M1129 1034zm-89 0zm-381 370z"/><path class="k4" d="M1107 1033zm-43 0z"/><path class="k2" d="M1122 1033zm-60 0z"/><path class="k5" d="M1052 1033zm-424 371z"/><path class="k3" d="M1173 1033zm-54 0zm-460 370z"/><path class="k2" d="M1215 1032zm-12-1zm-8 2zm-5-1zm-20 1zm-72-1z"/><path class="k4" d="M1044 1033zm-438 371z"/><path class="k3" d="M1128 1032zm-23 0zm-6 0zm-18 0zm-1 0zm-41 0z"/><path class="k2" d="M1161 1032zm-1 0zm-128 0z"/><path class="k4" d="M1052 1032z"/><path class="k3" d="M1082 1032zm-49 0z"/><path class="k2" d="M1089 1031zm-45 0z"/><path class="k4" d="M1077 1031zm-20 0zm-8-1zm-12 1z"/><path class="k3" d="M1113 1031z"/><path class="k1" d="M1231 1031z"/><path class="k4" d="M1117 1031zm-17 0z"/><path class="k1" d="M1160 1031z"/><path class="k3" d="M1177 1030zm-22 0zm-27 1z"/><path class="k4" d="M1136 1030zm-44 0z"/><path class="k5" d="M1046 1030zm-14 0zm-36 0z"/><path class="k4" d="M1058 1030zm-13 0z"/><path class="k2" d="M1245 1030zm-18 0zm-2-1zm-4 0zm-103 1z"/><path class="k3" d="M1165 1030zm-53 0z"/><path class="k5" d="M1039 1030z"/><path class="k1" d="M1274 1029zm-23 0zm-104 1z"/><path class="k2" d="M1194 1029zm-4 0zm-18 1zm-7-1zm-5 0zm-2 1zm-4-1z"/><path class="k4" d="M1041 1030z"/><path class="k3" d="M1243 1029zm-185 0z"/><path class="k5" d="M1045 1029z"/><path class="k3" d="M1065 1029z"/><path class="k4" d="M1094 1029zm-60 0zm-3 0z"/><path class="k1" d="M1153 1028zm-66 1z"/><path class="k2" d="M1227 1027zm-7 1zm-121 1zm-19 0z"/><path class="k4" d="M1130 1028zm-54 1zm-33 0zm-2-1z"/><path class="k3" d="M1106 1028z"/><path class="k2" d="M1165 1028zm-88 0z"/><path class="k3" d="M1135 1028zm-16 0zm-85 0z"/><path class="k6" d="M1038 1028zm-428 376z"/><path class="k7" d="M978 1028zm-351 375z"/><path class="k2" d="M1125 1028zm-20 0z"/><path class="k4" d="M1165 1028zm-12 0z"/><path class="k3" d="M1117 1028zm-65 0zm-13 0zm-378 375z"/><path class="k2" d="M1203 1027zm-31 0zm-92 1z"/><path class="k4" d="M1167 1027zm-12 0zm-55 0z"/><path class="k3" d="M1088 1027zm-18 0zm-8 0zm-25 0z"/><path class="k1" d="M1251 1027z"/><path class="k4" d="M1129 1027z"/><path class="k2" d="M1177 1027zm-88 0z"/><path class="k3" d="M1194 1027zm-28 0z"/><path class="k1" d="M1202 1027zm-43-1z"/><path class="k5" d="M1043 1027zm-433 376zm0-1z"/><path class="k2" d="M1236 1027zm-16-1zm-13-1z"/><path class="k4" d="M1111 1026zm-41 0z"/><path class="k0" d="M1469 1026zm-50-2zm-658 401zm-5-1z"/><path class="k3" d="M1146 1026z"/><path class="k2" d="M1184 1026zm-42 0zm-24 0z"/><path class="k6" d="M974 1025zm-3 1z"/><path class="k4" d="M1125 1026z"/><path class="k1" d="M1418 1022zm-11-13zm-30 14zm-122 3zm-115 0zm-84 0zm-314 397z"/><path class="k4" d="M1082 1026zm-18 0zm-24 0z"/><path class="k2" d="M1364 1022zm-125 4zm-24 0zm-57 0zm-4 0zm-62 0zm-53 0z"/><path class="k3" d="M1184 1025zm-77 0zm-2 1zm-5 0z"/><path class="k4" d="M1101 1025zm-60 0zm-9 0zm0 0z"/><path class="k2" d="M1221 1025zm0-1zm-56 1z"/><path class="k5" d="M1153 1025zm-179-1z"/><path class="k3" d="M1173 1025zm-12 0zm-6 0zm-68 0zm-18 0z"/><path class="k4" d="M1045 1024z"/><path class="k1" d="M1393 1018zm-51 3zm-3 1zm-70 1zm-175 1z"/><path class="k4" d="M1086 1024zm-35 0z"/><path class="k2" d="M1335 1020zm-67 2zm-23 1zm-79 1zm0-1z"/><path class="k3" d="M1196 1023zm-86 0z"/><path class="k4" d="M1074 1023zm-6 0z"/><path class="k3" d="M1087 1023zm-41 0zm-3 0zm-9 0z"/><path class="k2" d="M1201 1023zm-11 0zm-20 0z"/><path class="k4" d="M1064 1023z"/><path class="k3" d="M1220 1022zm-49 1zm-36 0z"/><path class="k2" d="M1244 1022zm-157 1z"/><path class="k1" d="M1378 1020zm-14-3zm-7 1zm-3-2zm-1 0zm-1 1zm-4 2zm-1-3zm-2 4zm-4-5zm0 0zm-1 3zm0-1zm-4-1zm-1 4zm-1-3zm0-1zm-1 4zm0-1zm0-1zm-210 5z"/><path class="k3" d="M1159 1023zm-110 0z"/><path class="k2" d="M1336 1015zm-182 7zm-47 1zm-32-1z"/><path class="k4" d="M1057 1022z"/><path class="k1" d="M1360 1014zm-1 1zm-17 0zm-8-1zm-1 0zm-154 8z"/><path class="k2" d="M1213 1022zm-13 0zm-137 0z"/><path class="k3" d="M1341 1014zm-213 8zm-15 0zm-81 0z"/><path class="k1" d="M1381 1009zm-17 1zm-6 0zm-4 3zm-7-3zm-1 3zm0-1zm0-2zm-4 3zm-2-3zm-1-1zm-3 2zm-1-3zm-1 1zm-1 2zm-150 11z"/><path class="k2" d="M1194 1022zm-41 0zm0 0z"/><path class="k6" d="M979 1022z"/><path class="k5" d="M1044 1022z"/><path class="k4" d="M1171 1021zm-79 1zm-53 0z"/><path class="k2" d="M1113 1021zm-50 0zm-7 1z"/><path class="k1" d="M1219 1021zm-42 0z"/><path class="k3" d="M1155 1020zm-36 1zm-63 0z"/><path class="k0" d="M1456 1021zm-707 402z"/><path class="k2" d="M1261 1020zm-28 1zm-30-1z"/><path class="k4" d="M1039 1020z"/><path class="k5" d="M1146 1020z"/><path class="k3" d="M1046 1020z"/><path class="k2" d="M1164 1020zm-12 0zm-5 0zm-31 0zm-84 0z"/><path class="k3" d="M1158 1020zm-5-1zm-108 1z"/><path class="k4" d="M1081 1020z"/><path class="k1" d="M1497 1015zm-41 2zm0-6zm0-1zm-1 6zm-18-7zm-1 1zm-6-4zm-4 11zm-7-5zm-146 2zm-73 6zm-142 0zm-325 402z"/><path class="k5" d="M1033 1019z"/><path class="k6" d="M1045 1019zm-53 0z"/><path class="k3" d="M1202 1019zm-132 0z"/><path class="k4" d="M1177 1019zm-84 0zm-55 0z"/><path class="k2" d="M1184 1019z"/><path class="k3" d="M1106 1019zm-72 0z"/><path class="k2" d="M1112 1019z"/><path class="k4" d="M1110 1019zm-6 0zm-11 0z"/><path class="k1" d="M1164 1019zm-24-1z"/><path class="k5" d="M1038 1018zm-64 1zm-1-1z"/><path class="k4" d="M1201 1019z"/><path class="k2" d="M1191 1018zm-90 0zm-6 0zm-7 0zm-31 0z"/><path class="k1" d="M1159 1018z"/><path class="k3" d="M1183 1018zm-151 0z"/><path class="k2" d="M1215 1017zm-66 1zm-81 0zm-22 0z"/><path class="k4" d="M1034 1018z"/><path class="k3" d="M1160 1018zm-80 0z"/><path class="k5" d="M997 1018z"/><path class="k2" d="M1195 1017zm-144 1z"/><path class="k4" d="M1100 1017z"/><path class="k3" d="M1131 1017zm-20 0z"/><path class="k5" d="M1058 1017z"/><path class="k2" d="M1160 1017z"/><path class="k6" d="M1046 1017z"/><path class="k3" d="M1031 1017z"/><path class="k4" d="M1117 1017zm-85 0z"/><path class="k3" d="M1160 1016zm-13 1zm-29-1zm-37 1zm-11 0z"/><path class="k5" d="M1057 1017z"/><path class="k2" d="M1185 1016zm-8 0zm-34 0zm-21 0zm-78 1zm-6-1z"/><path class="k7" d="M936 1016z"/><path class="k1" d="M1245 1015zm-44 1zm-31 0z"/><path class="k4" d="M1136 1016zm-68 0z"/><path class="k5" d="M1056 1016zm-24 0z"/><path class="k2" d="M1100 1016z"/><path class="k6" d="M948 1015z"/><path class="k1" d="M1098 1015z"/><path class="k3" d="M1207 1015zm-58 0zm-87 0zm-16 0zm-6 0z"/><path class="k1" d="M1154 1015z"/><path class="k2" d="M1178 1015zm-8 0zm-11 0zm-7-1zm-118 1z"/><path class="k6" d="M1046 1015z"/><path class="k4" d="M1219 1015z"/><path class="k3" d="M1069 1014zm-35 0z"/><path class="k0" d="M1509 1014zm-125-5zm-645 413z"/><path class="k2" d="M1214 1014z"/><path class="k4" d="M1101 1014z"/><path class="k7" d="M1040 1014z"/><path class="k2" d="M1143 1014z"/><path class="k4" d="M1135 1014z"/><path class="k3" d="M1107 1014zm-50 0z"/><path class="k4" d="M1117 1014zm-82 0z"/><path class="k5" d="M971 1014z"/><path class="k3" d="M1128 1014z"/><path class="k2" d="M1155 1014zm-66 0z"/><path class="k4" d="M1068 1014z"/><path class="k5" d="M1119 1014z"/><path class="k3" d="M1196 1014zm-111 0z"/><path class="k2" d="M1212 1013zm-4 1zm-32 0zm-5-1zm-18 1zm-121 0z"/><path class="k5" d="M1026 1013z"/><path class="k4" d="M1057 1013z"/><path class="k3" d="M1185 1013zm-57 0zm-46 0zm-7 0z"/><path class="k6" d="M971 1013z"/><path class="k2" d="M1226 1013zm-54 0z"/><path class="k3" d="M1146 1013zm-5 0z"/><path class="k5" d="M985 1013z"/><path class="k4" d="M1050 1013zm-5 0z"/><path class="k2" d="M1088 1013zm-54 0z"/><path class="k1" d="M1473 1012zm-79-4zm-1-1zm-51 2zm-75 4zm-113 0zm-417 409zm-6-1zm-17 0z"/><path class="k4" d="M1040 1012z"/><path class="k2" d="M1334 1008zm-55 1zm-5 0zm-1 2zm-106 1zm-434 409z"/><path class="k3" d="M1173 1012zm-45 0zm-84 0zm-4-1z"/><path class="k2" d="M1098 1012z"/><path class="k3" d="M1135 1012zm-62 0z"/><path class="k4" d="M1159 1012zm-5-1zm-60 1z"/><path class="k6" d="M984 1012z"/><path class="k1" d="M1353 1007zm-14 0zm-5 0zm0 0zm-47 1zm-85 4zm-464 409z"/><path class="k3" d="M1278 1008zm-125 3zm-89 0z"/><path class="k7" d="M992 1011z"/><path class="k5" d="M1107 1011z"/><path class="k2" d="M1384 1007zm-141 0zm-10 4zm-51 0zm-9-1zm-12 0zm-51 1z"/><path class="k4" d="M1062 1011zm-23 0z"/><path class="k2" d="M1089 1011z"/><path class="k3" d="M1166 1010zm-92 1zm-36 0z"/><path class="k2" d="M1164 1010zm-130 1z"/><path class="k1" d="M1414 1001zm-9 4zm-3 1zm-2-6zm-1 3zm-4 3zm-13-1zm-1-4zm-28 6zm-270 4z"/><path class="k2" d="M1333 1006zm-215 5zm-30-1z"/><path class="k6" d="M1038 1010zm-64-1z"/><path class="k3" d="M1088 1010zm-31 0z"/><path class="k2" d="M1033 1010z"/><path class="k1" d="M1370 1005zm-1-2zm-22 2zm-5 0zm-6-1zm-1 2zm-2-2zm-270 6z"/><path class="k2" d="M1324 1004zm-225 6zm-38-1zm-17 0z"/><path class="k3" d="M1112 1010z"/><path class="k1" d="M1359 1001zm-1 3zm-12-1zm0-2zm-7 2zm-3-1zm-2 1zm0-1zm-1 1zm-22 0zm-187 6z"/><path class="k4" d="M1189 1009zm-97 0zm-36 0z"/><path class="k2" d="M1339 1001zm-112 8zm-5 0z"/><path class="k6" d="M1033 1009z"/><path class="k3" d="M1184 1009zm-14 0zm-95 0z"/><path class="k2" d="M1209 1008zm-44 1z"/><path class="k4" d="M1147 1009zm-110 0z"/><path class="k2" d="M1153 1009zm-103 0z"/><path class="k5" d="M972 1009z"/><path class="k3" d="M1110 1009z"/><path class="k4" d="M1079 1009z"/><path class="k2" d="M1152 1009zm-30-1z"/><path class="k4" d="M1117 1008zm-10 0z"/><path class="k3" d="M1159 1008zm-120 0z"/><path class="k2" d="M1155 1008z"/><path class="k3" d="M1116 1008z"/><path class="k4" d="M1050 1008z"/><path class="k1" d="M1377 1001zm0-1zm-30 0zm-1 1zm-1-1zm-6 0zm-6 1zm-178 7z"/><path class="k2" d="M1184 1008zm-49 0zm-47 0z"/><path class="k4" d="M1153 1008zm-67 0z"/><path class="k2" d="M1182 1008zm-71 0z"/><path class="k3" d="M1088 1007zm-14 1zm-36-1zm-7 0z"/><path class="k0" d="M1493 1008zm-121-8zm-627 421z"/><path class="k5" d="M1178 1008z"/><path class="k2" d="M1209 1007z"/><path class="k3" d="M1218 1007zm-54 0z"/><path class="k6" d="M1045 1007z"/><path class="k1" d="M1333 999zm0 0zm0-1zm2 0zm5 0zm6 1zm0-1zm1 1zm16 0zm97 5zm0 0zm-5 3zm-210 0zm-93 0zm-102 0zm-302 413z"/><path class="k2" d="M1244 1005zm-48 2z"/><path class="k7" d="M973 1007z"/><path class="k3" d="M1346 997zm-216 10zm-97-1z"/><path class="k2" d="M1123 1007z"/><path class="k4" d="M1170 1006zm-107 0zm-12 0z"/><path class="k3" d="M1161 1006zm-21 0z"/><path class="k2" d="M1153 1006z"/><path class="k3" d="M1159 1006z"/><path class="k1" d="M1357 997zm21 0zm4 0zm-252 9zm-42 0z"/><path class="k3" d="M1146 1006zm-28 0zm-13 0zm-22 0zm-33 0z"/><path class="k2" d="M1171 1006zm-30-1z"/><path class="k4" d="M1038 1006z"/><path class="k5" d="M1040 1006z"/><path class="k3" d="M1173 1005zm-49 0zm-61 0z"/><path class="k2" d="M1209 1005z"/><path class="k4" d="M1106 1005z"/><path class="k3" d="M1086 1005z"/><path class="k1" d="M1219 1005zm-137 0z"/><path class="k2" d="M1231 1004zm-10 0zm-81 1z"/><path class="k6" d="M974 1001zm-1 4zm0-2z"/><path class="k4" d="M1155 1005zm-15-1zm-168-4z"/><path class="k3" d="M1069 1005z"/><path class="k4" d="M1033 1005z"/><path class="k2" d="M1190 1004zm-12 0zm-20 0zm-112 1zm-6-1z"/><path class="k3" d="M1065 1004z"/><path class="k4" d="M1146 1004zm-17 0zm-66 0zm-19 0z"/><path class="k3" d="M1155 1003zm-85 1z"/><path class="k4" d="M1164 1003zm-126 1z"/><path class="k1" d="M1273 1004zm-178-1z"/><path class="k2" d="M1088 1003zm-39 1z"/><path class="k3" d="M1234 1003zm-61 0zm-133 0z"/><path class="k5" d="M1136 1003z"/><path class="k2" d="M1153 1003zm-52 0zm-18 0z"/><path class="k6" d="M1032 1003z"/><path class="k3" d="M1080 1003z"/><path class="k5" d="M1104 1003z"/><path class="k1" d="M1274 1003z"/><path class="k3" d="M1147 1002z"/><path class="k2" d="M1286 996zm-6 6zm-34-1zm-212 1z"/><path class="k0" d="M1383 997zm114 5zm-711 416zm0-1zm-54 3z"/><path class="k4" d="M1188 1002zm-93 0zm-49 0z"/><path class="k2" d="M1111 1002z"/><path class="k3" d="M1153 1002zm-113 0z"/><path class="k1" d="M1340 997zm55-1zm125-5zm-48 10zm-270 1zm-38 0zm-433 418z"/><path class="k2" d="M1466 1000zm-251 2zm-7 0zm-37 0zm-17 0z"/><path class="k4" d="M1152 1001zm-71 1z"/><path class="k3" d="M1342 996zm-290 6z"/><path class="k1" d="M1333 996zm0-1zm0-2zm12 3zm7 0zm97-5zm6 5zm0-3zm0-4zm1 4zm5 1zm0-3zm6 4zm19 4zm0-5zm11 3zm-288 4zm-109 0z"/><path class="k3" d="M1065 1001zm-8 0z"/><path class="k2" d="M1377 995zm-127 5zm-54 1z"/><path class="k3" d="M1183 1001zm-7 0z"/><path class="k4" d="M1164 1001zm-114 0z"/><path class="k5" d="M1105 1001z"/><path class="k2" d="M1226 1001zm-47 0zm-15-1zm-15 1zm-26 0zm-66 0z"/><path class="k3" d="M1046 1000z"/><path class="k5" d="M1043 1000z"/><path class="k1" d="M1334 994zm0 0zm1-1zm6 1zm46 0zm-173 6z"/><path class="k2" d="M1218 999zm-16 1zm-125 0z"/><path class="k4" d="M1035 1000z"/><path class="k3" d="M1339 993zm-245 7z"/><path class="k4" d="M1135 1000zm-11 0z"/><path class="k5" d="M1236 999zm-204 1zm-7 0z"/><path class="k2" d="M1255 998zm6-1zm13-4zm-207 7z"/><path class="k5" d="M1034 1000z"/><path class="k3" d="M1167 1000z"/><path class="k2" d="M1047 999zm112 0zm12 0z"/><path class="k4" d="M1074 999z"/><path class="k2" d="M1112 999z"/><path class="k5" d="M1033 999z"/><path class="k3" d="M1035 999zm4 0zm114 0z"/><path class="k2" d="M1116 999zm69 0z"/><path class="k3" d="M1098 999z"/><path class="k4" d="M1043 999zm14 0zm73 0zm23 0z"/><path class="k2" d="M1153 999zm19 0zm7 0z"/><path class="k3" d="M1046 999zm70 0zm26-1zm18 0zm25 0z"/><path class="k4" d="M1094 998zm18 0zm4 0zm39 0z"/><path class="k5" d="M1038 998z"/><path class="k3" d="M1063 998z"/><path class="k2" d="M1056 998zm60 0zm75 0zm24-1z"/><path class="k5" d="M1033 998zm61 0z"/><path class="k2" d="M1046 998z"/><path class="k4" d="M1037 998zm7-1z"/><path class="k3" d="M1064 997zm48 1zm49 0z"/><path class="k2" d="M1195 997z"/><path class="k4" d="M1113 997z"/><path class="k3" d="M1147 997zm23 0zm38 0z"/><path class="k7" d="M972 995zm59 2z"/><path class="k5" d="M1038 997z"/><path class="k2" d="M1178 997zm65 0z"/><path class="k4" d="M1033 997zm19 0z"/><path class="k1" d="M1183 997zm38 0zm127-5z"/><path class="k2" d="M1152 997zm189-5zm35 0z"/><path class="k3" d="M1185 996zm42 0z"/><path class="k5" d="M1075 996z"/><path class="k2" d="M1190 996zm36 0zm29 0z"/><path class="k4" d="M1040 996z"/><path class="k3" d="M1159 996z"/><path class="k4" d="M1119 996z"/><path class="k2" d="M1074 996zm6 0zm15 0zm33 0zm62 0z"/><path class="k3" d="M1045 996zm6 0zm78 0zm49 0z"/><path class="k2" d="M1105 996zm90 0zm8 0z"/><path class="k3" d="M1141 995z"/><path class="k2" d="M1153 995zm25 0z"/><path class="k1" d="M1034 995zm191 0zm109-3zm13 0zm4 0zm7 0zm13 0zm30-1zm10-1z"/><path class="k4" d="M1112 995z"/><path class="k3" d="M1041 995zm17 0zm59 0z"/><path class="k2" d="M1038 995zm205 0zm25-1zm72-3z"/><path class="k7" d="M1061 995z"/><path class="k6" d="M984 994zm175 1z"/><path class="k4" d="M1040 995z"/><path class="k5" d="M1154 995z"/><path class="k3" d="M1032 995zm79 0zm56 0z"/><path class="k4" d="M1124 995z"/><path class="k6" d="M1046 995z"/><path class="k5" d="M1034 994z"/><path class="k1" d="M1182 994zm195-3z"/><path class="k3" d="M1044 994zm36 0zm115 0zm159-4zm53 0z"/><path class="k4" d="M1141 994z"/><path class="k3" d="M1172 994z"/><path class="k2" d="M1159 994zm273-8z"/><path class="k5" d="M1058 994z"/><path class="k3" d="M1056 994zm102 0z"/><path class="k6" d="M1035 994z"/><path class="k4" d="M1038 994z"/><path class="k2" d="M1152 994zm36-1z"/><path class="k7" d="M1008 993z"/><path class="k4" d="M1044 993z"/><path class="k3" d="M1040 993zm17 0zm95 0zm14 0z"/><path class="k4" d="M1094 993z"/><path class="k5" d="M1106 993z"/><path class="k4" d="M1080 993zm67 0z"/><path class="k3" d="M1062 993zm111 0z"/><path class="k4" d="M1033 993zm7 0zm37 0z"/><path class="k3" d="M1068 993z"/><path class="k1" d="M1213 992zm18 0zm102-2zm1-2zm2 2zm3-2zm3 2zm4-2zm1 2zm22-2zm2 0zm18-5zm5-2zm11 4zm20-3zm6-1zm5-5zm18 0z"/><path class="k2" d="M1131 992zm202-5z"/><path class="k3" d="M1153 992zm62 0z"/><path class="k5" d="M1031 992zm3 0zm9 0zm51 0z"/><path class="k2" d="M1141 992z"/><path class="k4" d="M1064 992zm90 0z"/><path class="k2" d="M1116 992z"/><path class="k3" d="M1034 991zm6 0zm17 0zm36 1zm5-1zm69 1z"/><path class="k1" d="M1158 991zm19 0zm157-5zm7 1zm0-1zm0-1zm6 2zm22-1zm1 0zm0-1z"/><path class="k4" d="M1220 991z"/><path class="k3" d="M1153 991z"/><path class="k5" d="M1039 991zm66 0z"/><path class="k3" d="M1034 991zm12 0zm29-1zm67 1z"/><path class="k2" d="M1088 990zm107 0zm150-6z"/><path class="k1" d="M1148 990zm90 0zm19 0zm77-6zm5-1zm1 1zm1-2zm5 1zm0-1zm8 1zm9-1zm1 1zm2 1zm0-1zm18 1z"/><path class="k3" d="M1105 990z"/><path class="k1" d="M1086 990z"/><path class="k5" d="M1068 990z"/><path class="k2" d="M1185 990zm83-1zm17 0zm50-7z"/><path class="k4" d="M1051 990z"/><path class="k2" d="M1056 990z"/><path class="k1" d="M1161 990zm113-1zm97-8zm6 1z"/><path class="k3" d="M1081 990zm91 0zm19 0z"/><path class="k4" d="M1037 990zm272-9z"/><path class="k2" d="M1160 990z"/><path class="k1" d="M1088 990z"/><path class="k6" d="M974 978zm94 12z"/><path class="k3" d="M1101 989zm53 0zm179-8z"/><path class="k4" d="M1051 989z"/><path class="k2" d="M1070 989zm103 0z"/><path class="k4" d="M1040 989zm28 0z"/><path class="k2" d="M1097 989z"/><path class="k5" d="M1141 989z"/><path class="k3" d="M1067 989zm20 0zm103 0z"/><path class="k2" d="M1188 989z"/><path class="k3" d="M1153 989zm30 0z"/><path class="k2" d="M1171 989zm55 0z"/><path class="k6" d="M1065 989z"/><path class="k1" d="M1117 989zm217-8zm18 0z"/><path class="k4" d="M1038 988zm18 1zm280-8z"/><path class="k5" d="M1032 988z"/><path class="k3" d="M1051 988zm78 0zm32 0zm223-7z"/><path class="k2" d="M1044 988zm129 0z"/><path class="k3" d="M1209 988z"/><path class="k2" d="M1176 987zm12 1zm33-1z"/><path class="k4" d="M1067 988zm19-1z"/><path class="k2" d="M1104 987z"/><path class="k3" d="M1037 987zm15 0zm124 0zm51 0z"/><path class="k1" d="M1099 987zm234-7zm0-1zm8 1zm5 0zm41 0zm8-1zm6-3zm1 4zm6-4zm17 1z"/><path class="k3" d="M1057 987z"/><path class="k5" d="M1033 987z"/><path class="k3" d="M1068 987z"/><path class="k4" d="M1099 987zm91-1z"/><path class="k5" d="M1032 986z"/><path class="k3" d="M1040 986zm143 0z"/><path class="k1" d="M1149 986zm76 0z"/><path class="k2" d="M1161 986zm52 0zm30 0zm90-7zm7 0z"/><path class="k5" d="M1033 985zm91 1z"/><path class="k4" d="M1034 985zm47 1z"/><path class="k2" d="M1094 986z"/><path class="k4" d="M1101 986zm16 0z"/><path class="k2" d="M1155 986z"/><path class="k3" d="M1045 985zm61 1zm119-1zm32 0z"/><path class="k2" d="M1190 985zm6 0zm0 0zm13 0zm22 0zm2-1zm5-1zm49-9z"/><path class="k4" d="M1095 985z"/><path class="k2" d="M1098 985z"/><path class="k3" d="M1064 985zm97 0z"/><path class="k4" d="M1100 985z"/><path class="k5" d="M1130 985z"/><path class="k1" d="M1116 985zm218-6zm8 0z"/><path class="k6" d="M1104 985z"/><path class="k5" d="M1153 985z"/><path class="k2" d="M1070 984zm12 1zm209-9zm63 3z"/><path class="k3" d="M1147 984zm20 0zm10 0z"/><path class="k0" d="M1496 984zm66-1zm-824 436z"/><path class="k1" d="M1335 978zm4 0zm26 0zm89-1zm1 7zm14-2zm4-2zm0-3zm4 3zm16-9zm29 4zm18-1zm17-2zm26-9zm-863 456z"/><path class="k5" d="M1136 984z"/><path class="k4" d="M1041 983zm17 1zm79 0z"/><path class="k3" d="M1037 983zm98 1zm18 0zm0-1zm7 0zm7 1z"/><path class="k4" d="M1057 983zm41 0z"/><path class="k5" d="M1107 983z"/><path class="k1" d="M1202 983z"/><path class="k4" d="M1074 983z"/><path class="k3" d="M1082 983zm24 0zm25 0zm3 0zm26 0zm12-1zm19 0zm28 1zm25-2z"/><path class="k5" d="M1038 983z"/><path class="k3" d="M1034 982zm6 0zm3 0zm7 0zm26 1z"/><path class="k2" d="M1111 983zm80-1zm59-2zm101-2zm69-2zm-705 442z"/><path class="k3" d="M1070 983z"/><path class="k4" d="M1095 983z"/><path class="k3" d="M1063 982zm1 0z"/><path class="k1" d="M1129 982zm206-5zm6-1zm16 1zm8 0zm18-1zm71 0zm2-1zm3 0zm-720 443zm-3 0zm-4 0zm-2-1zm-4 1zm-12-1z"/><path class="k5" d="M1113 982zm65 0z"/><path class="k3" d="M1086 982zm67 0z"/><path class="k1" d="M1191 982z"/><path class="k2" d="M1111 982zm122-2zm103-4z"/><path class="k3" d="M1155 981z"/><path class="k5" d="M1056 981z"/><path class="k3" d="M1076 981z"/><path class="k2" d="M1155 981zm6 0z"/><path class="k6" d="M1038 981z"/><path class="k5" d="M1062 981zm27 0z"/><path class="k6" d="M1113 981z"/><path class="k3" d="M1098 981z"/><path class="k4" d="M1038 980zm7 1zm127 0z"/><path class="k1" d="M1082 980zm257-4zm0-1zm7 1z"/><path class="k4" d="M1040 980zm0-1zm6 1zm54 0zm12 0zm13 0z"/><path class="k3" d="M1107 980zm48 0zm30 0z"/><path class="k2" d="M1173 980zm163-5z"/><path class="k3" d="M1177 980z"/><path class="k2" d="M1208 979z"/><path class="k3" d="M1190 979z"/><path class="k4" d="M1159 979z"/><path class="k5" d="M1033 979zm90 0z"/><path class="k3" d="M1051 979zm140 0z"/><path class="k2" d="M1032 978zm110 1zm11 0z"/><path class="k1" d="M1206 979zm127-4zm1 0z"/><path class="k4" d="M1119 979zm100 0z"/><path class="k3" d="M1135 978zm18 0zm68 1z"/><path class="k2" d="M1202 978zm19-2zm11 0zm5 2zm18-3zm86-1z"/><path class="k5" d="M1080 978z"/><path class="k3" d="M1044 978zm14 0zm10 0zm1 0zm47 0zm51 0zm11 0z"/><path class="k2" d="M1143 978zm59-1zm18 0z"/><path class="k4" d="M1061 978zm93 0z"/><path class="k5" d="M1106 978z"/><path class="k4" d="M1069 977z"/><path class="k3" d="M1087 977zm6 0zm37 0zm41 0zm85-3z"/><path class="k7" d="M974 974zm0-4zm58 7z"/><path class="k3" d="M1035 977z"/><path class="k5" d="M1050 977zm6-1zm48 1z"/><path class="k3" d="M1039 976zm5 0zm9 0zm89 1z"/><path class="k2" d="M1146 976zm14 0z"/><path class="k3" d="M1154 976z"/><path class="k4" d="M1110 976z"/><path class="k3" d="M1074 976z"/><path class="k2" d="M1159 976z"/><path class="k4" d="M1094 976z"/><path class="k1" d="M1045 975zm107 1z"/><path class="k4" d="M1183 976z"/><path class="k0" d="M1402 976zm-627 441z"/><path class="k1" d="M1370 974zm19 2zm4-3zm13-3zm25 2zm-634 445zm-46 0z"/><path class="k2" d="M1178 976zm156-2z"/><path class="k5" d="M1032 975zm81 0z"/><path class="k4" d="M1089 975zm33 0z"/><path class="k3" d="M1040 975zm40 0zm87 0zm28 0zm5 0zm25 0z"/><path class="k2" d="M1131 975zm81 0z"/><path class="k5" d="M1111 975z"/><path class="k3" d="M1095 975zm40-1zm31 1zm73-1z"/><path class="k5" d="M1080 975z"/><path class="k3" d="M1069 975z"/><path class="k5" d="M1031 975z"/><path class="k4" d="M1045 974zm74 0z"/><path class="k2" d="M1176 974z"/><path class="k1" d="M1189 974zm86-1zm61 1z"/><path class="k5" d="M1068 974z"/><path class="k2" d="M1106 974zm59 0zm111-1zm2 0zm68 1z"/><path class="k4" d="M1044 974zm110 0zm24 0z"/><path class="k3" d="M1147 974zm12 0zm6 0zm31 0z"/><path class="k2" d="M1080 974zm30 0zm92-1z"/><path class="k5" d="M1034 974z"/><path class="k3" d="M1039 974zm155-1z"/><path class="k1" d="M1333 974z"/><path class="k2" d="M1184 973zm36-1zm119 1z"/><path class="k7" d="M1033 973z"/><path class="k1" d="M1233 972zm107 1zm1-1zm1-1zm11 1zm1 0zm3 1zm2-2zm10 2zm8 0z"/><path class="k2" d="M1076 973zm272-2z"/><path class="k4" d="M1165 973z"/><path class="k3" d="M1074 973zm152-1z"/><path class="k4" d="M1053 973z"/><path class="k5" d="M1038 973z"/><path class="k3" d="M1064 973z"/><path class="k2" d="M1143 973z"/><path class="k4" d="M1088 973z"/><path class="k3" d="M1047 972zm84 1zm22 0zm2 0zm11 0z"/><path class="k4" d="M1044 972zm73 1z"/><path class="k5" d="M1116 972z"/><path class="k3" d="M1037 972z"/><path class="k2" d="M1064 972zm91 0zm24 0z"/><path class="k4" d="M1031 972zm37 0z"/><path class="k3" d="M1159 972zm11 0z"/><path class="k1" d="M1178 972zm157-1zm23-1zm12 0zm12 1z"/><path class="k3" d="M1143 972zm39 0zm151-2z"/><path class="k4" d="M1123 971zm13 0z"/><path class="k2" d="M1154 971zm48 0z"/><path class="k7" d="M1082 971z"/><path class="k3" d="M1214 971zm12 0z"/><path class="k5" d="M1032 971z"/><path class="k4" d="M1068 971zm105 0zm70 0z"/><path class="k5" d="M1040 971z"/><path class="k2" d="M1034 971zm85 0z"/><path class="k3" d="M1075 971zm48-1zm30 0zm6 0zm61 0z"/><path class="k0" d="M1474 971zm-677 445zm-61 1z"/><path class="k2" d="M1033 971z"/><path class="k5" d="M1038 970zm26 1z"/><path class="k4" d="M1050 970zm144 0z"/><path class="k1" d="M1279 968zm60 2zm3 0zm119 0zm6 0zm13-1zm5 1zm-725 445zm-16 1zm0 0zm-7 0z"/><path class="k3" d="M1098 970z"/><path class="k2" d="M1225 970zm115-1zm8 1zm27-1zm-661 447z"/><path class="k4" d="M1086 970z"/><path class="k2" d="M1128 970z"/><path class="k5" d="M1070 970z"/><path class="k3" d="M1170 970zm14 0z"/><path class="k5" d="M1165 970z"/><path class="k4" d="M1094 970zm66 0z"/><path class="k2" d="M1124 969z"/><path class="k3" d="M1106 969zm71 0z"/><path class="k4" d="M1129 969z"/><path class="k1" d="M1233 969zm101 0zm14-1zm-616 447zm-1 0z"/><path class="k3" d="M1153 969zm43 0zm143-1z"/><path class="k4" d="M1128 969z"/><path class="k2" d="M1111 969z"/><path class="k3" d="M1147 969zm14 0z"/><path class="k6" d="M974 967zm17 0zm41 2z"/><path class="k0" d="M1413 969zm-610 446zm-12 0zm-49 0z"/><path class="k4" d="M1088 969z"/><path class="k5" d="M1170 969z"/><path class="k3" d="M1046 969zm60-1zm53 1z"/><path class="k6" d="M1039 969z"/><path class="k1" d="M1413 958zm-352 10zm272 0zm56 0zm1-1zm0-1zm17-1zm5-1zm2-1zm10 5zm19 0zm11 0zm-676 446zm-21 0zm-7 0zm-14 0zm-3 1zm-2 0zm-17-1z"/><path class="k2" d="M1171 968zm31 0zm145 0zm115-2zm-731 448zm-18 0z"/><path class="k3" d="M1080 968zm55 0zm25 0z"/><path class="k6" d="M1031 968zm208 0z"/><path class="k5" d="M1201 968z"/><path class="k2" d="M1099 967zm32 1zm82 0z"/><path class="k1" d="M1177 968zm157-1zm5 0zm6 0zm75-3zm-671 450zm-6 0z"/><path class="k3" d="M1148 967zm49 0zm11 0zm31 0zm-527 446z"/><path class="k4" d="M1034 967z"/><path class="k3" d="M1049 967z"/><path class="k2" d="M1045 967zm114 0zm151 0zm23-1zm6 0zm7 1z"/><path class="k1" d="M1176 967zm212-1z"/><path class="k5" d="M1149 967z"/><path class="k4" d="M1052 967zm58-1zm42 1z"/><path class="k2" d="M1183 967zm32 0zm131-1z"/><path class="k5" d="M1045 967z"/><path class="k6" d="M1041 966z"/><path class="k5" d="M1064 966z"/><path class="k3" d="M1154 966zm66 0z"/><path class="k2" d="M1031 966zm232-1z"/><path class="k5" d="M1038 966z"/><path class="k4" d="M1071 966z"/><path class="k2" d="M1105 966z"/><path class="k5" d="M1086 966z"/><path class="k3" d="M1051 966zm95 0z"/><path class="k1" d="M1351 966zm12-1zm12 0z"/><path class="k2" d="M1167 966z"/><path class="k4" d="M1159 966z"/><path class="k3" d="M1148 966zm4 0zm199-1z"/><path class="k5" d="M1069 965zm138 1z"/><path class="k2" d="M1160 965zm71 0z"/><path class="k4" d="M1045 965zm54 0z"/><path class="k1" d="M1203 965zm132 0z"/><path class="k7" d="M978 964zm62 1z"/><path class="k0" d="M1496 965zm-711 449z"/><path class="k4" d="M1075 965zm90-1zm66 0z"/><path class="k3" d="M1033 965zm20-1zm101 0zm12 0zm4 0zm2 0zm174 1z"/><path class="k2" d="M1167 964zm66-1zm109 2z"/><path class="k5" d="M1097 965z"/><path class="k3" d="M1073 965zm15 0zm101-1zm43-2z"/><path class="k1" d="M1336 964zm27 0zm105-1zm0-1zm4 1zm32 2zm-719 445zm-29 3zm-1 0zm-13 0z"/><path class="k5" d="M1058 964z"/><path class="k2" d="M1058 964zm108-1zm84-1zm11-1zm78 3zm128-2z"/><path class="k4" d="M1069 964zm7 0z"/><path class="k6" d="M971 964zm3-3z"/><path class="k5" d="M1032 964z"/><path class="k3" d="M1243 959zm-198 4zm6 1zm5-1zm62 1z"/><path class="k2" d="M1038 963zm66 1z"/><path class="k5" d="M1113 964z"/><path class="k1" d="M1335 964zm19 0zm102-3z"/><path class="k2" d="M1148 963z"/><path class="k3" d="M1155 963zm30 0zm151 0z"/><path class="k1" d="M1345 963zm7 0z"/><path class="k4" d="M1255 959zm-216 4zm60 0zm25 0zm36 0z"/><path class="k3" d="M1063 963zm97 0zm6 0zm12 0zm23-1z"/><path class="k2" d="M1134 963zm18 0zm2 0zm180-1zm5 0zm1 1zm26-1z"/><path class="k3" d="M1110 962zm20 0zm28 0zm13 0zm7 0z"/><path class="k5" d="M1039 962z"/><path class="k3" d="M1081 962z"/><path class="k2" d="M1119 962z"/><path class="k6" d="M1098 962z"/><path class="k4" d="M1050 962zm73 0zm61 0z"/><path class="k1" d="M1408 959zm-66 3zm48-1zm4 1zm14-1z"/><path class="k2" d="M1101 961zm57 0zm175 1z"/><path class="k1" d="M1348 959zm-202 2zm187 0zm0-1zm1 1zm2-1zm9 1zm0-1zm2 0zm5 0zm5 1zm15 0z"/><path class="k3" d="M1070 961z"/><path class="k2" d="M1353 959zm-62-2zm-178 4zm64 0z"/><path class="k7" d="M1043 961z"/><path class="k3" d="M1278 955zm-10 2zm-151 4zm24-1zm12 0zm30 1z"/><path class="k4" d="M1007 961zm51 0z"/><path class="k5" d="M1034 961zm58 0z"/><path class="k1" d="M1348 959zm-8-1zm-4 0zm-255 3zm85-1z"/><path class="k4" d="M1086 961z"/><path class="k3" d="M1074 961zm25 0zm50-1z"/><path class="k6" d="M972 953zm7 7zm66 0z"/><path class="k5" d="M1032 960zm13 0z"/><path class="k2" d="M1387 958zm-51 0zm-202 2zm26 0z"/><path class="k4" d="M1094 960zm5 0z"/><path class="k3" d="M1201 960z"/><path class="k6" d="M1031 960z"/><path class="k5" d="M1039 959zm157 1z"/><path class="k0" d="M1468 960zm-646 447zm-86 6z"/><path class="k1" d="M1473 955zm-11 0zm-6 2zm-85 0zm-17 1zm-6-1zm106 3z"/><path class="k2" d="M1412 957zm-66 0zm-13-1zm-167 3zm-8 1zm-427 453zm-5-1z"/><path class="k3" d="M1184 959zm-107 0z"/><path class="k2" d="M1154 959zm-2 0zm-33 0zm-20 0z"/><path class="k4" d="M1045 959zm-7 0z"/><path class="k3" d="M1152 959zm-105 0z"/><path class="k2" d="M1111 959z"/><path class="k6" d="M1046 959z"/><path class="k4" d="M1165 958zm-132 0zm0 0z"/><path class="k3" d="M1183 958zm-4 0zm-1 0zm-18 0z"/><path class="k2" d="M1086 958z"/><path class="k4" d="M1111 958zm-53 0z"/><path class="k3" d="M1152 958z"/><path class="k1" d="M1426 949zm-18 2zm-69 5zm-118 2zm-485 453zm-16 0z"/><path class="k4" d="M1183 957z"/><path class="k5" d="M1093 957zm-24 0z"/><path class="k3" d="M1250 955zm-38 2zm-40 0z"/><path class="k4" d="M1179 957zm-2 0zm-70 0zm-19 0z"/><path class="k5" d="M1051 957z"/><path class="k2" d="M1365 956zm-114-2zm-5 0zm-44 2zm-18 0zm-23 1zm-447 454z"/><path class="k4" d="M1195 956zm-107 0zm-49 0z"/><path class="k5" d="M1044 956zm-11 0z"/><path class="k3" d="M1158 956zm-6 0z"/><path class="k1" d="M1400 956zm-10-2zm-48 2zm-611 455zm0 0z"/><path class="k4" d="M1080 956z"/><path class="k6" d="M1056 956z"/><path class="k2" d="M1196 955zm-73 1zm-399 455z"/><path class="k4" d="M1113 956zm-43-1z"/><path class="k5" d="M1087 955z"/><path class="k3" d="M1342 955zm-160 0zm-142 0z"/><path class="k1" d="M1342 955zm-3 0zm0 0zm-588 456z"/><path class="k4" d="M1188 955zm-33 0zm-26 0z"/><path class="k5" d="M1038 955z"/><path class="k2" d="M1334 955zm-107 0zm-14 0zm-492 456z"/><path class="k3" d="M1269 953zm-68 1zm-25 0zm-4 0zm-61 1zm-31 0zm-337 455z"/><path class="k5" d="M1094 955zm-20 0z"/><path class="k1" d="M1341 955zm-566 455zm-36 0zm-1 0zm-24 0z"/><path class="k0" d="M1475 955zm-682 455z"/><path class="k4" d="M1100 955z"/><path class="k2" d="M1481 955zm-195-2zm-79 1zm-18 0zm-119 1zm-340 455zm-12 0z"/><path class="k3" d="M1339 954zm-244 0z"/><path class="k4" d="M1219 954zm-119 0zm-60 0z"/><path class="k5" d="M1032 954z"/><path class="k7" d="M1159 954zm-174-4zm-7-30zm-23 13z"/><path class="k1" d="M1491 951zm-7 3zm-40-1zm-68 1zm-620 455zm-12 0zm-6 0zm-6 0z"/><path class="k4" d="M1363 954zm-197 0z"/><path class="k2" d="M1462 949zm-123 5zm-121-1zm-35 1z"/><path class="k1" d="M1484 946zm-23 3zm-1-3zm-1 1zm-39 0zm-39 6zm-22 0zm-17 1z"/><path class="k4" d="M1161 953z"/><path class="k2" d="M1334 953zm-156 0z"/><path class="k3" d="M1233 952zm-69 1zm-42 0zm-65 0z"/><path class="k1" d="M1345 953zm-70-6z"/><path class="k4" d="M1088 953z"/><path class="k2" d="M1340 953zm-167 0z"/><path class="k3" d="M1207 952zm-31 0zm-51 1z"/><path class="k5" d="M1063 953z"/><path class="k3" d="M1033 953z"/><path class="k2" d="M1231 952zm-120 1z"/><path class="k5" d="M1037 953z"/><path class="k4" d="M1149 952zm-103 1z"/><path class="k5" d="M1040 953zm-6-1z"/><path class="k1" d="M1358 952z"/><path class="k3" d="M1128 952z"/><path class="k6" d="M1074 952z"/><path class="k4" d="M1140 952z"/><path class="k3" d="M1154 952z"/><path class="k2" d="M1353 952zm-8 0zm-162 0zm-7 0zm-96 0z"/><path class="k5" d="M1034 952z"/><path class="k4" d="M1164 952z"/><path class="k1" d="M1394 950zm-4-1zm-37 2zm-2-1zm-10 1zm-1 0zm-6 1zm-1-1z"/><path class="k3" d="M1191 951zm-135 0z"/><path class="k6" d="M1117 951z"/><path class="k1" d="M1220 951z"/><path class="k5" d="M1107 951z"/><path class="k4" d="M1044 951zm-9 0z"/><path class="k3" d="M1110 951z"/><path class="k5" d="M1137 951zm-44 0z"/><path class="k6" d="M1039 951z"/><path class="k3" d="M1057 951z"/><path class="k2" d="M1321 950zm-126 0zm-12 1zm-18 0z"/><path class="k5" d="M1041 950z"/><path class="k3" d="M1202 950zm-170 0z"/><path class="k4" d="M1197 949zm-105 1z"/><path class="k3" d="M1064 950z"/><path class="k5" d="M1068 950z"/><path class="k6" d="M1038 950z"/><path class="k2" d="M1227 949zm-105 1z"/><path class="k5" d="M1033 950z"/><path class="k1" d="M1346 950zm-10 0z"/><path class="k3" d="M1092 950z"/><path class="k6" d="M1076 950z"/><path class="k2" d="M1340 950z"/><path class="k4" d="M1134 949zm-45 0zm-37 0z"/><path class="k3" d="M1167 949zm-103 0z"/><path class="k2" d="M1177 949z"/><path class="k1" d="M1358 949zm-18 0zm-7 0z"/><path class="k6" d="M1159 949z"/><path class="k4" d="M1203 948zm-80 1zm-5 0zm-43 0z"/><path class="k5" d="M1076 949z"/><path class="k2" d="M1336 949zm-177-1z"/><path class="k1" d="M1364 948zm-30 0z"/><path class="k4" d="M1165 948zm-18 0zm-107 0z"/><path class="k5" d="M1052 948z"/><path class="k1" d="M1161 948z"/><path class="k3" d="M1376 948zm-203 0zm-86 0zm-29 0z"/><path class="k2" d="M1197 948zm-26 0zm-53 0zm-6 0z"/><path class="k4" d="M1220 948zm-121-1z"/><path class="k0" d="M1534 948zm-765 461z"/><path class="k5" d="M1202 948z"/><path class="k1" d="M1576 942zm-19 5zm-17-9zm-25 7zm-24 1zm-79 0zm0-1zm-5 2zm-13 0zm-54 1zm-7-1zm-571 461z"/><path class="k4" d="M1166 948z"/><path class="k6" d="M1033 948z"/><path class="k3" d="M1341 947zm-188 0z"/><path class="k4" d="M1166 947zm-42 0zm-78 0z"/><path class="k2" d="M1456 945zm-219 2zm-36 0zm-469 461z"/><path class="k1" d="M1492 943zm-3 1zm-10-1zm-18 2zm-126 2z"/><path class="k2" d="M1486 942zm-138 5z"/><path class="k1" d="M1479 940zm-5 1zm-18 0zm-99 6z"/><path class="k3" d="M1183 947zm-42 0zm-426 461z"/><path class="k5" d="M1116 947zm-40 0z"/><path class="k6" d="M1037 947z"/><path class="k2" d="M1346 946zm-12 1zm-113 0zm-494 461z"/><path class="k3" d="M1137 947zm-45-1z"/><path class="k4" d="M1159 946zm-6 0zm-108 1z"/><path class="k3" d="M1056 946z"/><path class="k2" d="M1178 946z"/><path class="k4" d="M1166 946z"/><path class="k3" d="M1195 946z"/><path class="k5" d="M1068 946z"/><path class="k1" d="M1388 945zm-40 1zm-8 0zm-1 0zm-6 0zm-601 462z"/><path class="k4" d="M1236 945zm-47 1zm-95 0zm-30 0zm-18 0z"/><path class="k3" d="M1160 945zm-445 463z"/><path class="k2" d="M1341 945zm-42-1zm-62 1zm-40 0z"/><path class="k5" d="M1067 945z"/><path class="k3" d="M1188 945zm-155 0z"/><path class="k4" d="M1118 945zm-85 0z"/><path class="k3" d="M1086 945zm-4-1zm-1 1zm-36-1z"/><path class="k1" d="M1360 944zm-169 1zm-446 463z"/><path class="k2" d="M1396 944zm-54 0zm0-1zm-127 1zm-496 463z"/><path class="k3" d="M1244 944zm0-2zm-67 2z"/><path class="k2" d="M1166 944z"/><path class="k3" d="M1165 944z"/><path class="k4" d="M1117 944z"/><path class="k3" d="M1112 944z"/><path class="k5" d="M1046 944z"/><path class="k2" d="M1087 944z"/><path class="k1" d="M1389 944z"/><path class="k3" d="M1406 944zm-294 0z"/><path class="k4" d="M1152 944zm-47 0zm-30 0zm-30-1zm-12 1z"/><path class="k1" d="M1375 943z"/><path class="k3" d="M1098 943zm-29 0zm-11 0z"/><path class="k2" d="M1424 940zm-91 3zm-166 0z"/><path class="k3" d="M1130 943z"/><path class="k5" d="M1161 943z"/><path class="k6" d="M1040 943z"/><path class="k1" d="M1457 939zm-1 0zm-14 1zm-18 0zm-84 3zm-182 0z"/><path class="k2" d="M1339 943zm-5 0zm-1 0zm-12-1z"/><path class="k5" d="M1039 943z"/><path class="k4" d="M1196 943zm-55 0z"/><path class="k3" d="M1238 942zm-36 1z"/><path class="k2" d="M1182 942zm-69 0z"/><path class="k5" d="M1071 942z"/><path class="k4" d="M1045 942zm-6 0zm-6 0zm0 0z"/><path class="k5" d="M1088 942zm-50-1z"/><path class="k3" d="M1189 942zm-42 0z"/><path class="k1" d="M1371 942zm-25 0zm-12 0zm-248 0z"/><path class="k2" d="M1370 942zm-11-1zm-20 1zm-118-1zm-51 1z"/><path class="k3" d="M1376 941zm-31 0zm-187 1zm-4 0z"/><path class="k5" d="M1077 941z"/><path class="k4" d="M1160 941z"/><path class="k1" d="M1395 940zm-60 0zm-2 0zm-88 1z"/><path class="k2" d="M1348 940zm-14-1zm-54 2zm0-1zm-98 1z"/><path class="k3" d="M1402 940zm-286 1zm-65 0z"/><path class="k5" d="M1155 941zm-115-1zm-8 1z"/><path class="k2" d="M1092 941z"/><path class="k4" d="M1136 941z"/><path class="k3" d="M1178 940zm-71 0zm-20 1z"/><path class="k2" d="M1171 940zm-4 0zm-13 0z"/><path class="k1" d="M1394 939zm-13 0zm-5 0zm-19 0zm-4 0zm-13-1zm-5 1zm-90 1z"/><path class="k5" d="M1106 940z"/><path class="k3" d="M1249 939zm-95 1zm-90 0z"/><path class="k5" d="M1050 939z"/><path class="k2" d="M1431 939zm-23 0zm-279 0z"/><path class="k3" d="M1161 939zm-123 0z"/><path class="k4" d="M1100 939z"/><path class="k2" d="M1184 939z"/><path class="k3" d="M1219 939zm-53 0zm-13 0z"/><path class="k5" d="M1104 939zm-40 0z"/><path class="k4" d="M1040 939z"/><path class="k2" d="M1233 939zm-37 0zm-29 0zm-80 0z"/><path class="k4" d="M1093 939z"/><path class="k1" d="M1462 938zm-45 0zm-35 1zm-11-1zm-156 0z"/><path class="k5" d="M1052 938zm-7 0zm-11 0z"/><path class="k3" d="M1345 938zm-3 0zm-177 0z"/><path class="k4" d="M1178 938zm-132-1zm-8 1zm-4 0z"/><path class="k2" d="M1436 937zm-47 0zm-49 1zm-186 0zm-38 0z"/><path class="k1" d="M1462 937zm-37-3zm-7 1zm-7 1zm-77 1zm-150 1z"/><path class="k4" d="M1075 938z"/><path class="k3" d="M1141 938zm-47-1z"/><path class="k2" d="M1449 934zm-90 2zm-20 1zm-5 0zm-126 1zm-30-1zm-121 0z"/><path class="k0" d="M1559 937zm-766 471z"/><path class="k5" d="M1154 937z"/><path class="k1" d="M1569 934zm-28-9zm-24 11zm-32-5zm-11 2zm-14-1zm-3 1zm-1 1zm-1-2zm-1 2zm-4-5zm-12 1zm0-1zm-19 3zm-84 4zm-104 1zm-463 471z"/><path class="k2" d="M1498 930zm-150 6zm-2-1zm-7 0zm-5 0zm-79 2zm-95 0zm-403 470zm-12 0z"/><path class="k3" d="M1281 936zm-139 1z"/><path class="k2" d="M1173 937z"/><path class="k7" d="M1194 937zm-160 0z"/><path class="k4" d="M1064 936z"/><path class="k3" d="M1154 936zm-115 0z"/><path class="k2" d="M1208 936zm-163 0z"/><path class="k5" d="M1106 936z"/><path class="k6" d="M1055 936zm-15 0z"/><path class="k3" d="M1214 935zm-17 1zm-86 0z"/><path class="k2" d="M1251 934zm-84 1zm-2 0z"/><path class="k6" d="M1086 935z"/><path class="k4" d="M1034 935z"/><path class="k3" d="M1230 934zm-45 1zm-7 0zm-90-1zm-54 1z"/><path class="k5" d="M1040 935z"/><path class="k2" d="M1176 934zm-60 0z"/><path class="k3" d="M1166 934zm-98 0z"/><path class="k1" d="M1515 929zm-18 0zm-157 5zm-598 473z"/><path class="k2" d="M1370 934zm-28 0zm-1 0zm-37 0zm-95 0zm-32 0zm-19 0zm-6 0zm-439 473z"/><path class="k3" d="M1472 928zm-307 6z"/><path class="k1" d="M1467 928zm-5-4zm-6 3zm0 0zm-57 3zm-5 3zm-1-3zm-3 2zm-14 2zm-22-1zm-8 0zm-4 0zm-7-1zm-2 2zm-71 0zm-524 473zm-7 0z"/><path class="k5" d="M1160 934zm-68 0zm-35 0zm-1-1zm-5 0zm-14 0z"/><path class="k2" d="M1484 923zm-11 0zm-137 9zm-55 2zm-7-1zm-41 0zm-81 0zm-36 1zm-367 472z"/><path class="k4" d="M1209 933z"/><path class="k3" d="M1281 933zm-63 0zm-28 0zm-156 0zm-322 473z"/><path class="k5" d="M1116 933z"/><path class="k2" d="M1286 933zm-54-2zm-481 475zm-25 0zm-17 0z"/><path class="k4" d="M1166 933z"/><path class="k3" d="M1251 930zm-86 2zm-1 1zm-10-1z"/><path class="k7" d="M1057 933z"/><path class="k1" d="M1472 919zm36-4zm-24 6zm-10 1zm-31-1zm-90 11zm-2 0zm-620 474z"/><path class="k3" d="M1093 932z"/><path class="k4" d="M1111 932zm-35 0zm-14 0z"/><path class="k5" d="M1159 932zm-91-1zm-23 0zm-12 0z"/><path class="k2" d="M1334 931zm0 0zm-1 1z"/><path class="k4" d="M1154 932zm-120-1z"/><path class="k3" d="M1188 931z"/><path class="k1" d="M1341 931zm-6 0zm0 0z"/><path class="k5" d="M1153 931zm-96-1zm-6 0zm-6 0zm0 0zm-13 0zm0 0z"/><path class="k4" d="M1155 931zm-43 0z"/><path class="k5" d="M1177 931zm-85 0zm0-1z"/><path class="k4" d="M1153 931z"/><path class="k3" d="M1218 931zm-156-2z"/><path class="k2" d="M1335 931zm-135-1zm-29 0z"/><path class="k1" d="M1371 930zm-26 0zm-3 0zm-6 0z"/><path class="k3" d="M1213 930zm-42 0z"/><path class="k2" d="M1365 930zm-126 0zm-26-1zm-19 1zm-10-1zm-7 1zm-35 0z"/><path class="k1" d="M1358 930zm-12 0z"/><path class="k3" d="M1375 929zm-101-1z"/><path class="k2" d="M1357 929zm-11 0z"/><path class="k5" d="M1134 929zm-84 0z"/><path class="k3" d="M1106 929zm-67 0z"/><path class="k2" d="M1152 929z"/><path class="k6" d="M1177 929z"/><path class="k2" d="M1154 929z"/><path class="k1" d="M1402 928zm-49 1zm-68-3z"/><path class="k4" d="M1063 929z"/><path class="k2" d="M1382 928zm-49 1zm-52-4z"/><path class="k7" d="M1100 928z"/><path class="k1" d="M1420 926zm-12-1zm-69 3z"/><path class="k6" d="M1037 928z"/><path class="k2" d="M1365 928zm-24 0z"/><path class="k4" d="M1093 928zm-54 0z"/><path class="k3" d="M1131 928zm-92 0z"/><path class="k6" d="M1074 928z"/><path class="k5" d="M1197 928zm-57 0zm-47 0zm-25 0zm-22-1zm-12 1z"/><path class="k2" d="M1208 928zm-32 0z"/><path class="k3" d="M1212 928zm-76 0zm-72-1zm-24 0z"/><path class="k4" d="M1152 928z"/><path class="k1" d="M1351 927zm-11 0zm-5 1z"/><path class="k2" d="M1365 927zm-5 0zm-26 0zm0 0zm-151 0z"/><path class="k3" d="M1348 926zm-193 1z"/><path class="k5" d="M1213 927zm-46 0zm-39 0zm-23 0zm-54 0z"/><path class="k4" d="M1039 927z"/><path class="k3" d="M1134 927z"/><path class="k4" d="M1176 927zm-23-1z"/><path class="k5" d="M1037 927z"/><path class="k2" d="M1194 926zm-41 0z"/><path class="k1" d="M1395 925zm-47 1z"/><path class="k7" d="M1118 926z"/><path class="k3" d="M1233 926zm-201 0z"/><path class="k1" d="M1155 926z"/><path class="k4" d="M1183 925zm-96 1z"/><path class="k5" d="M1034 925z"/><path class="k2" d="M1345 925zm-229 0z"/><path class="k4" d="M1057 925zm-14 0z"/><path class="k1" d="M1342 925z"/><path class="k5" d="M1154 925zm-47 0z"/><path class="k2" d="M1333 925zm-160 0z"/><path class="k3" d="M1221 925zm-116 0zm-31-1zm-11 1zm-30 0z"/><path class="k1" d="M1339 925z"/><path class="k4" d="M1159 925z"/><path class="k2" d="M1333 925z"/><path class="k1" d="M1363 925zm-28-1z"/><path class="k3" d="M1201 924zm-34 1z"/><path class="k5" d="M1034 924z"/><path class="k2" d="M1394 924zm-29 0zm-30 0zm0 0zm-121 0zm-31 0z"/><path class="k3" d="M1200 924zm-137 0zm-11 0z"/><path class="k4" d="M1143 924z"/><path class="k2" d="M1190 924z"/><path class="k6" d="M1046 924z"/><path class="k3" d="M1104 924z"/><path class="k1" d="M1425 919zm-83 5zm-1-1z"/><path class="k5" d="M1153 924zm-109-1z"/><path class="k3" d="M1147 924z"/><path class="k4" d="M1179 923zm-80 0zm-35 0z"/><path class="k1" d="M1202 923z"/><path class="k4" d="M1170 923z"/><path class="k2" d="M1371 923zm-211 0z"/><path class="k3" d="M1213 923z"/><path class="k5" d="M1213 923zm-151 0zm-9-1zm-9 0z"/><path class="k6" d="M1202 923z"/><path class="k4" d="M1166 923zm-114-1zm-18 0z"/><path class="k2" d="M1233 922zm-75 1z"/><path class="k4" d="M1183 922z"/><path class="k5" d="M1130 922z"/><path class="k1" d="M1408 922zm-74 0z"/><path class="k2" d="M1377 922zm-193 0z"/><path class="k1" d="M1358 922zm-4 0zm-12 0z"/><path class="k4" d="M1147 922z"/><path class="k3" d="M1243 922zm-65-1zm-17 0zm-1 0zm-19 1zm-12 0zm0-1zm-66 1zm-24 0z"/><path class="k2" d="M1360 921zm-2 1zm-79-1z"/><path class="k4" d="M1370 921zm-125 0zm-99-1z"/><path class="k5" d="M1218 921zm-173 0z"/><path class="k2" d="M1197 921zm-120 0z"/><path class="k4" d="M1111 921zm-77 0z"/><path class="k1" d="M1348 921zm-75-1z"/><path class="k4" d="M1333 921z"/><path class="k2" d="M1382 921zm-149-1zm-90 0z"/><path class="k1" d="M1335 921z"/><path class="k3" d="M1209 919zm169 1zm-38 0zm-127 0z"/><path class="k5" d="M1080 920zm-16 0zm-12 0zm-8 0z"/><path class="k1" d="M1402 920zm-6 0zm-61 0zm0 0zm-296 0z"/><path class="k2" d="M1233 919zm191 0zm-89 1z"/><path class="k5" d="M1052 920zm-21 0z"/><path class="k6" d="M1076 920z"/><path class="k3" d="M1274 919zm-188 1z"/><path class="k5" d="M1105 920zm-58 0z"/><path class="k4" d="M1093 919zm68 0zm23 0zm-84 1z"/><path class="k1" d="M1366 919zm59 0z"/><path class="k2" d="M1353 919z"/><path class="k3" d="M1034 919zm428-1z"/><path class="k1" d="M1333 919zm3 0zm27 0zm121-2z"/><path class="k4" d="M1050 919z"/><path class="k5" d="M1037 919zm50 0z"/><path class="k4" d="M1124 919z"/><path class="k5" d="M1166 919z"/><path class="k4" d="M1171 919zm24 0z"/><path class="k2" d="M1161 918zm184 1zm115-3z"/><path class="k1" d="M1351 919zm109-4zm1 0zm25 0zm6 0z"/><path class="k2" d="M1347 919z"/><path class="k3" d="M1213 919zm140-1zm143-3z"/><path class="k6" d="M1052 919z"/><path class="k4" d="M1166 918zm71 0zm6 0z"/><path class="k5" d="M1035 918zm4 0z"/><path class="k2" d="M1143 918zm24 0zm28 0zm151 0zm110-4z"/><path class="k3" d="M1051 918zm167 0z"/><path class="k1" d="M1366 918zm23 0zm55-4zm60-1z"/><path class="k3" d="M1336 918z"/><path class="k2" d="M1333 918z"/><path class="k5" d="M1063 918z"/><path class="k4" d="M1038 918zm187 0z"/><path class="k2" d="M1104 918zm108-1z"/><path class="k5" d="M1039 917zm13 1zm0-1zm24 1z"/><path class="k1" d="M1341 917zm17 1zm13-1z"/><path class="k3" d="M1068 917zm129 0z"/><path class="k4" d="M1038 917zm98 0z"/><path class="k5" d="M1152 917z"/><path class="k2" d="M1153 917zm37 0zm146 0z"/><path class="k3" d="M1160 917z"/><path class="k1" d="M1206 917zm136-1zm16 1z"/><path class="k2" d="M1154 917zm145-2zm55 1z"/><path class="k6" d="M1064 916z"/><path class="k5" d="M1040 916zm136 0z"/><path class="k1" d="M1366 916z"/><path class="k2" d="M1160 916zm173 0zm0-2zm19 2zm30 0z"/><path class="k4" d="M1057 916zm98 0zm22 0zm31 0z"/><path class="k3" d="M1106 915zm73 0zm64 1zm2-1zm31-2z"/><path class="k5" d="M1041 916zm16-1z"/><path class="k1" d="M1407 916z"/><path class="k2" d="M1104 915zm54 0zm63 0zm156 1zm6-2z"/><path class="k6" d="M1034 915z"/><path class="k5" d="M1032 915zm18 0zm31 0z"/><path class="k3" d="M1104 915zm56 0z"/><path class="k2" d="M1123 915zm48-1z"/><path class="k6" d="M1070 914z"/><path class="k5" d="M1037 914zm4 0zm108 0zm48 0z"/><path class="k1" d="M1340 914zm8 0z"/><path class="k3" d="M1033 914zm116-1zm184 1z"/><path class="k1" d="M1333 913zm2 1z"/><path class="k0" d="M1441 914zm-643 492z"/><path class="k2" d="M1098 914zm283 0z"/><path class="k4" d="M1209 914z"/><path class="k5" d="M1041 913zm47 1zm11-1zm60 0z"/><path class="k1" d="M1360 913zm51 1zm42-2zm1 1zm1-2zm5 0zm1-2zm1 3zm10 0zm-712 494z"/><path class="k3" d="M1149 913zm76-1zm80 1z"/><path class="k2" d="M1227 912zm48 1zm64 0zm67 0zm98-2z"/><path class="k6" d="M1040 913z"/><path class="k1" d="M1357 912zm57-2zm24 0zm36 0z"/><path class="k3" d="M1032 912zm223 0z"/><path class="k4" d="M1154 912zm4 0z"/><path class="k2" d="M1147 912zm74-1zm126 1zm118-4z"/><path class="k6" d="M1051 912z"/><path class="k3" d="M1134 912zm81-1zm144 0z"/><path class="k5" d="M1041 912z"/><path class="k4" d="M1043 911zm32 0zm91 1z"/><path class="k5" d="M1069 911zm24 0zm66 1z"/><path class="k1" d="M1341 911zm54 0zm60-3zm6-1zm6-1zm12 0zm7 0z"/><path class="k2" d="M1152 911zm3 0zm102-1zm79 1zm10 0zm2 0z"/><path class="k4" d="M1082 911zm25-1z"/><path class="k5" d="M1044 911zm54-1z"/><path class="k1" d="M1334 910z"/><path class="k3" d="M1153 910zm23 0z"/><path class="k2" d="M1179 910zm5 0zm29 0zm122 0zm4 0zm36 0z"/><path class="k5" d="M1125 910z"/><path class="k1" d="M1354 910zm15 0zm26 0zm22-5z"/><path class="k6" d="M1116 910z"/><path class="k4" d="M1064 910zm130 0z"/><path class="k2" d="M1334 910zm26 0zm5 0z"/><path class="k5" d="M1040 910zm9 0zm115 0z"/><path class="k3" d="M1033 910zm18 0zm62 0zm114 0zm229-5z"/><path class="k1" d="M1334 909zm6 1zm7 0zm16-1zm31-1zm37-3z"/><path class="k4" d="M1098 909zm18 0z"/><path class="k6" d="M1039 909z"/><path class="k2" d="M1195 909zm146 0zm114-5z"/><path class="k5" d="M1058 909z"/><path class="k3" d="M1112 909z"/><path class="k7" d="M1039 909z"/><path class="k5" d="M1037 908zm100 1z"/><path class="k0" d="M1539 909zm-752 497z"/><path class="k2" d="M1104 909zm54 0z"/><path class="k4" d="M1188 909z"/><path class="k2" d="M1183 909z"/><path class="k6" d="M1111 909z"/><path class="k3" d="M1142 909zm30 0zm7 0zm47 0z"/><path class="k5" d="M1160 909z"/><path class="k2" d="M1228 909zm39-2z"/><path class="k3" d="M1202 909zm13-1z"/><path class="k4" d="M1068 908zm102 1z"/><path class="k5" d="M1044 908zm97 0z"/><path class="k1" d="M1334 908zm187-1zm1 1zm16 0zm19-4zm1-5zm17 8zm1-14zm0-5zm-779 517zm-10 1z"/><path class="k4" d="M1063 908zm279 0z"/><path class="k2" d="M1164 908zm93-1zm94 1zm139-4zm-740 502z"/><path class="k3" d="M1231 905zm12 1zm111 2zm3 0z"/><path class="k5" d="M1040 906zm0 0zm6 2zm21-1zm3 1zm1-1z"/><path class="k1" d="M1333 907zm6 1zm3 0zm16-1zm11 0zm13 0zm90-5zm24 1zm2-3zm11 3zm12-4zm-754 507z"/><path class="k4" d="M1160 907zm97-3zm96 2z"/><path class="k2" d="M1152 907zm-415 499z"/><path class="k5" d="M1183 907z"/><path class="k4" d="M1155 907z"/><path class="k3" d="M1134 907zm48 0zm14 0zm17-1zm-470 500z"/><path class="k5" d="M1116 907z"/><path class="k2" d="M1152 907zm-403 498z"/><path class="k4" d="M1158 906z"/><path class="k2" d="M1134 906zm44 0zm7 0z"/><path class="k1" d="M1351 906zm-595 499z"/><path class="k5" d="M1129 906z"/><path class="k2" d="M1334 906zm-620 498z"/><path class="k1" d="M1342 906z"/><path class="k3" d="M1087 906zm261 0zm-605 498z"/><path class="k1" d="M1390 906z"/><path class="k2" d="M1339 906zm0-1zm0 0zm2 0zm23 0zm44-1zm11 0z"/><path class="k6" d="M1033 905z"/><path class="k4" d="M1159 905zm19 0zm17-1z"/><path class="k5" d="M1062 905zm43 0zm42 0zm-422 499z"/><path class="k7" d="M1039 905z"/><path class="k3" d="M1034 904zm64 0zm2 1z"/><path class="k1" d="M1339 904zm2 0zm6 0zm46-1zm9 0zm12-2zm34 2zm-688 501z"/><path class="k4" d="M1153 904zm13 0zm259-3z"/><path class="k5" d="M1032 904zm7-1zm8 1zm3-1zm2 1zm60 0z"/><path class="k2" d="M1197 904zm138-1z"/><path class="k3" d="M1160 904zm31-1zm28 0zm17 0zm-503 501z"/><path class="k5" d="M1147 904z"/><path class="k6" d="M1074 903zm24 1z"/><path class="k3" d="M1040 902zm113 1zm32 0z"/><path class="k1" d="M1347 903zm4 0zm2 0z"/><path class="k4" d="M1164 903zm43 0z"/><path class="k2" d="M1333 903zm-596 501z"/><path class="k3" d="M1152 902zm36 1zm-457 501z"/><path class="k5" d="M1053 902zm46 0zm-381 502z"/><path class="k3" d="M1116 902zm-407 502z"/><path class="k2" d="M1130 902z"/><path class="k6" d="M1032 902zm120 0z"/><path class="k4" d="M1167 902zm175 0z"/><path class="k2" d="M1346 902z"/><path class="k5" d="M1046 902zm0-1zm42 1zm84 0z"/><path class="k1" d="M1333 902zm32 0zm-596 502zm-2 0z"/><path class="k2" d="M1137 902zm202-1zm14 0zm7 1zm-604 501zm-11 0z"/><path class="k3" d="M1075 901zm36 1zm8-1zm51-1zm2 1zm25-1zm138 0z"/><path class="k5" d="M1038 901z"/><path class="k4" d="M1069 901zm56 0zm-383 502zm-36 0z"/><path class="k1" d="M1351 900zm-612 503zm-9 0z"/><path class="k3" d="M1129 900zm219 0z"/><path class="k1" d="M1339 900z"/><path class="k2" d="M1173 900zm48 0zm126-1zm5 0zm25 1zm-626 503zm-19 0z"/><path class="k5" d="M1035 899zm11 1zm52 0zm55 0z"/><path class="k3" d="M1333 899zm14 0zm71 1z"/><path class="k2" d="M1087 900zm273-1z"/><path class="k1" d="M1365 899zm94 1zm-691 503z"/><path class="k3" d="M1130 899zm295 0z"/><path class="k4" d="M1155 899z"/><path class="k5" d="M1098 899zm72 0z"/><path class="k3" d="M1055 899zm55 0zm55 0z"/><path class="k2" d="M1340 899zm6-1zm125 1zm-714 504zm-21 0z"/><path class="k1" d="M1400 899zm2-1zm18-1z"/><path class="k5" d="M1172 899z"/><path class="k3" d="M1153 899zm0-1zm321 1zm-761 503zm-4 0z"/><path class="k2" d="M1208 899zm150 0zm31-2zm-663 505z"/><path class="k3" d="M1166 898zm18 0zm36 0z"/><path class="k1" d="M1333 898zm122 0zm7 0zm-696 504zm-16 0z"/><path class="k6" d="M1039 898zm37 0z"/><path class="k2" d="M1105 898zm380 0zm-734 504z"/><path class="k5" d="M1095 898z"/><path class="k3" d="M1031 898zm68-1z"/><path class="k4" d="M1040 897zm7 1zm165 0zm128 0zm-634 504z"/><path class="k2" d="M1365 898z"/><path class="k3" d="M1231 897zm103 1z"/><path class="k5" d="M1052 897zm124 1z"/><path class="k3" d="M1218 898z"/><path class="k2" d="M1154 898z"/><path class="k5" d="M1152 898z"/><path class="k6" d="M1165 898zm-499 504z"/><path class="k3" d="M1147 897zm49 0zm-541 505z"/><path class="k1" d="M1336 897zm52 0zm20 0zm45 0zm-678 504zm-19 0zm-13 0zm-7 1zm-4-1zm-2 0z"/><path class="k4" d="M1033 897zm122 0zm16 0z"/><path class="k3" d="M1152 896zm181 1zm15 0zm-616 504zm-17 0zm-8-1z"/><path class="k2" d="M1074 896zm224 1zm65 0zm133 0z"/><path class="k1" d="M1335 897zm12 0zm18 0zm12-1zm89 1zm-698 504z"/><path class="k6" d="M1068 896z"/><path class="k2" d="M1364 896zm25 0zm-627 505z"/><path class="k5" d="M1034 896zm6 0zm156 0zm-572 506z"/><path class="k3" d="M1106 896zm83 0zm44 0zm233 0z"/><path class="k1" d="M1378 896zm35-1zm48 0zm1 0zm-671 505zm-16 0zm-55 0z"/><path class="k4" d="M1220 896z"/><path class="k5" d="M1165 896z"/><path class="k3" d="M1347 896z"/><path class="k2" d="M1086 896zm177-1zm71 0zm20 1zm100-1zm-709 505z"/><path class="k4" d="M1179 895z"/><path class="k5" d="M1091 895zm141 0z"/><path class="k4" d="M1094 895z"/><path class="k5" d="M1100 895z"/><path class="k3" d="M1153 895zm-423 505z"/><path class="k6" d="M1038 895zm13 0zm-421 507zm-20-1zm-1 0z"/><path class="k1" d="M1333 895zm48 0zm108-1zm-739 506z"/><path class="k4" d="M1070 895z"/><path class="k6" d="M1107 895z"/><path class="k2" d="M1171 895zm162-1zm32 1zm41-1z"/><path class="k3" d="M1112 895zm22 0zm329-2zm-803 509z"/><path class="k5" d="M1033 894zm5 0zm2 0zm23 0zm19 1z"/><path class="k7" d="M1116 894z"/><path class="k1" d="M1377 894z"/><path class="k2" d="M1165 894zm266-1zm54 0zm-803 507zm-29 1z"/><path class="k3" d="M1158 894zm218 0z"/><path class="k4" d="M1040 894zm168 0zm-548 506zm-30 0z"/><path class="k2" d="M1116 894zm63 0zm162 0zm6 0zm23-1zm36-1z"/><path class="k3" d="M1231 894zm13 0zm89-1z"/><path class="k2" d="M1196 894z"/><path class="k4" d="M1201 894z"/><path class="k5" d="M1085 893zm76 1z"/><path class="k3" d="M1047 893zm113 0z"/><path class="k1" d="M1237 893zm104 0zm119-1zm44-1z"/><path class="k3" d="M1213 893zm42 0z"/><path class="k2" d="M1148 893zm122 0zm65-1zm16 0zm135-1z"/><path class="k5" d="M1034 892zm7 0zm77 1z"/><path class="k4" d="M1129 893z"/><path class="k2" d="M1105 893z"/><path class="k4" d="M1113 893z"/><path class="k3" d="M1260 893zm13-3zm2-1z"/><path class="k5" d="M1125 892zm10 0zm30 0z"/><path class="k6" d="M1037 892zm34 0zm-407 508z"/><path class="k3" d="M1154 892zm-448 508z"/><path class="k4" d="M1081 892zm42 0zm-434 508z"/><path class="k1" d="M1354 892zm102-1zm23-1z"/><path class="k2" d="M1185 892zm148 0zm31 0zm13 0zm90-3z"/><path class="k5" d="M1038 892zm183 0zm-599 508z"/><path class="k2" d="M1201 892z"/><path class="k3" d="M1083 891zm23 0zm47 0zm25 0zm28 0zm33 0zm13 0zm-539 509zm-89 0z"/><path class="k1" d="M1333 891zm7 0zm13 0zm37 0zm10 0zm13-1z"/><path class="k5" d="M1050 890zm109 1z"/><path class="k3" d="M1171 891z"/><path class="k2" d="M1213 891zm127 0zm80-1zm35-2zm-717 512z"/><path class="k4" d="M1112 891z"/><path class="k3" d="M1135 891zm230-1z"/><path class="k5" d="M1118 891z"/><path class="k4" d="M1178 891z"/><path class="k2" d="M1218 891zm128-1z"/><path class="k3" d="M1107 891zm0-1zm9 1zm21-1z"/><path class="k6" d="M1032 890z"/><path class="k4" d="M1220 890z"/><path class="k5" d="M1039 890zm25 0z"/><path class="k2" d="M1152 890z"/><path class="k5" d="M1123 890zm72 0z"/><path class="k7" d="M1062 890zm-426 510z"/><path class="k3" d="M1141 890zm29 0z"/><path class="k5" d="M1040 890zm3 0zm3 0zm28 0zm93 0zm12 0z"/><path class="k2" d="M1094 890z"/><path class="k4" d="M1129 890z"/><path class="k6" d="M1032 889zm69 0zm3 1zm-495 510z"/><path class="k1" d="M1298 889zm60 0zm114-2zm6-1zm3 2zm-724 511zm5 0zm17 1zm-35 0z"/><path class="k5" d="M1046 889z"/><path class="k3" d="M1152 889zm7 0z"/><path class="k2" d="M1189 889zm86 0zm73 0zm40 0z"/><path class="k1" d="M1330 889z"/><path class="k2" d="M1358 889z"/><path class="k3" d="M1166 889zm6 0z"/><path class="k4" d="M1236 889zm13-1zm-542 511zm2 1z"/><path class="k1" d="M1336 888zm5 0zm11 0zm7 1zm13-1zm11 1z"/><path class="k6" d="M1033 888z"/><path class="k5" d="M1034 888zm150 0z"/><path class="k2" d="M1154 888zm185 0zm13-1zm67 1z"/><path class="k4" d="M1116 888z"/><path class="k5" d="M1111 888zm6 0zm50 0z"/><path class="k3" d="M1215 887zm41 1zm134-1zm-689 512zm18 0z"/><path class="k2" d="M1129 888zm125-2z"/><path class="k6" d="M1044 888z"/><path class="k1" d="M1342 887zm112 1z"/><path class="k3" d="M1105 887zm308 0z"/><path class="k4" d="M1057 887zm97 0z"/><path class="k5" d="M1037 887zm160 0z"/><path class="k2" d="M1342 887z"/><path class="k3" d="M1130 887z"/><path class="k7" d="M1031 887zm-384 512zm-38 1z"/><path class="k4" d="M1182 887z"/><path class="k1" d="M1333 887zm86-1zm7 0zm29 1z"/><path class="k2" d="M1176 887z"/><path class="k5" d="M1031 886zm26 0zm56 0zm39 0zm-509 513z"/><path class="k3" d="M1191 886zm150 0zm-686 513z"/><path class="k0" d="M1492 886z"/><path class="k2" d="M1203 886zm130 0zm13 0zm104-2zm-756 515z"/><path class="k6" d="M1050 886z"/><path class="k3" d="M1038 886zm36 0zm399-2z"/><path class="k1" d="M1370 886zm159 0zm-797 513z"/><path class="k3" d="M1333 886z"/><path class="k2" d="M1335 885zm53 1zm6-1zm61-1zm25 0zm72-1zm-809 516zm7 0z"/><path class="k5" d="M1094 886zm65 0zm-469 513z"/><path class="k4" d="M1155 885zm71 1zm6-1z"/><path class="k3" d="M1074 885zm116 0zm84 0zm-592 514zm51 0z"/><path class="k5" d="M1046 885zm22 0zm31 0z"/><path class="k2" d="M1189 885zm37 0z"/><path class="k3" d="M1135 885zm26 0zm83 0z"/><path class="k1" d="M1557 876zm-224 8zm8 0zm6 1zm1-1zm29 0zm90-1zm47-2zm-830 518zm76 0z"/><path class="k4" d="M1058 885zm60-1z"/><path class="k5" d="M1035 884zm131 0zm53 0z"/><path class="k6" d="M1110 884z"/><path class="k2" d="M1244 884zm90 0zm85 0zm41-2z"/><path class="k4" d="M1076 884zm40 0zm109 0z"/><path class="k5" d="M1040 883zm6 1zm15 0z"/><path class="k3" d="M1164 884zm69-1zm-527 516z"/><path class="k2" d="M1129 884zm-393 515z"/><path class="k3" d="M1118 884zm43-1z"/><path class="k1" d="M1279 883zm79 0zm-589 515z"/><path class="k2" d="M1166 883zm109-1zm60 1z"/><path class="k1" d="M1365 883z"/><path class="k5" d="M1119 883zm100 0z"/><path class="k2" d="M1387 883z"/><path class="k3" d="M1093 883zm139-1zm101 1zm91-1z"/><path class="k7" d="M1035 883zm-407 516z"/><path class="k4" d="M1063 883zm13-1zm78 1z"/><path class="k1" d="M1358 882zm103 0z"/><path class="k2" d="M1215 881zm27 1zm99 0zm30 0zm55 0zm54-2z"/><path class="k6" d="M1040 882zm-422 517zm6 0z"/><path class="k3" d="M1106 881zm19 1zm35 0zm101-2z"/><path class="k1" d="M1520 879zm-22-1zm-43 0zm-31 1zm-79 3zm21 0zm28-1zm0 0zm1 1zm24-1zm35-1z"/><path class="k4" d="M1056 882zm48-1zm48 0zm184 0z"/><path class="k6" d="M1056 882z"/><path class="k5" d="M1038 882zm81-1z"/><path class="k6" d="M1043 881z"/><path class="k1" d="M1375 881z"/><path class="k5" d="M1040 880zm6 1zm18 0zm6-1z"/><path class="k2" d="M1507 878zm-45-1zm-298 4zm176 0z"/><path class="k3" d="M1346 881zm31 0z"/><path class="k5" d="M1203 881z"/><path class="k4" d="M1166 881z"/><path class="k5" d="M1124 881z"/><path class="k2" d="M1354 879zm-8 0zm-204 1zm70 0zm121 0zm2 0z"/><path class="k3" d="M1165 880zm24 0z"/><path class="k5" d="M1214 880z"/><path class="k4" d="M1365 879zm-231 1zm24 0z"/><path class="k2" d="M1358 879zm-19 0zm-11 0zm-92 1z"/><path class="k4" d="M1334 878zm-102 1zm-10 1z"/><path class="k6" d="M1035 880z"/><path class="k4" d="M1051 879z"/><path class="k3" d="M1171 879z"/><path class="k5" d="M1104 879zm-58 0z"/><path class="k6" d="M1152 879zm-121-1z"/><path class="k2" d="M1220 879z"/><path class="k4" d="M1152 879z"/><path class="k3" d="M1256 878zm-77 0z"/><path class="k1" d="M1535 872zm-18 3zm-2 3zm-23-2zm-24 0zm-8 0zm-100 2z"/><path class="k5" d="M1046 878z"/><path class="k4" d="M1159 878zm-121 0z"/><path class="k3" d="M1347 878zm-8 0z"/><path class="k1" d="M1342 878z"/><path class="k7" d="M1059 877zm-8 0zm-415 522z"/><path class="k2" d="M1539 871zm-24 0zm-96 5zm-71 1zm-103 0zm-92 0z"/><path class="k6" d="M1095 877zm-486 522z"/><path class="k5" d="M1185 877zm-19 0zm-62 0zm-66 0z"/><path class="k1" d="M1442 876zm-76 0zm-9 1zm-23 0zm0-1zm-1 1z"/><path class="k4" d="M1287 874zm-48 3zm-598 522z"/><path class="k3" d="M1550 870zm-306 6zm-194 0z"/><path class="k5" d="M1087 876zm-435 523z"/><path class="k2" d="M1481 874zm-28 0zm-72 2zm-40 0zm-7 0zm-120 0zm-554 523z"/><path class="k4" d="M1130 876z"/><path class="k3" d="M1333 875zm-91 1zm-66 0z"/><path class="k6" d="M1040 876zm-431 522zm9 0zm4 1z"/><path class="k4" d="M1064 876z"/><path class="k2" d="M1166 876z"/><path class="k6" d="M1160 876z"/><path class="k2" d="M1161 876z"/><path class="k1" d="M1589 868zm0-4zm-38 4zm-80 6zm-65 1zm-19 1zm-48-1z"/><path class="k5" d="M1219 875zm-124 0zm-423 524z"/><path class="k2" d="M1516 868zm-152 7zm-29 0zm-213 0z"/><path class="k5" d="M1099 875zm-13 0z"/><path class="k3" d="M1457 873zm-109 1zm-124 0zm-167 1zm-416 523z"/><path class="k4" d="M1161 875zm-472 524z"/><path class="k2" d="M1334 874zm-170 1zm-112 0zm-349 523zm21 0z"/><path class="k5" d="M1140 875zm-100 0zm-405 523z"/><path class="k3" d="M1334 874zm-155 0zm-20 1zm-70-1zm-383 524z"/><path class="k7" d="M1046 874zm-435 524z"/><path class="k6" d="M1074 874z"/><path class="k4" d="M1184 874z"/><path class="k5" d="M1130 874zm-1-1zm-36 1z"/><path class="k2" d="M1360 873zm-148 1zm-517 524z"/><path class="k7" d="M1040 873zm-376 525z"/><path class="k1" d="M1545 866zm-97 7zm-58 0zm-37 0zm-12 0zm-581 525z"/><path class="k5" d="M1058 873zm0 0z"/><path class="k3" d="M1575 859zm-330 13zm-68 1z"/><path class="k2" d="M1479 871zm-24 0zm-42 2zm-55 0zm-25 0z"/><path class="k5" d="M1154 873z"/><path class="k7" d="M1031 873z"/><path class="k4" d="M1340 872zm-188 1zm-461 525zm23 0z"/><path class="k5" d="M1136 872z"/><path class="k3" d="M1173 872zm-455 526z"/><path class="k6" d="M1040 872zm-413 526zm22 0z"/><path class="k4" d="M1130 872z"/><path class="k3" d="M1158 872zm-12 0zm-47-1z"/><path class="k1" d="M1601 854zm-146 16zm-24-1zm-37 1zm-61 2zm-59-1z"/><path class="k2" d="M1587 850zm-107 18zm-19 0zm-125 4zm-581 526z"/><path class="k1" d="M1352 872zm-602 526z"/><path class="k2" d="M1341 871zm-5 0z"/><path class="k4" d="M1195 871zm-6 0zm-24 0zm-12-1z"/><path class="k5" d="M1131 870zm-61 1zm-440 527zm40 0z"/><path class="k6" d="M1044 870zm-432 528z"/><path class="k1" d="M1335 870zm-653 528z"/><path class="k2" d="M1366 870zm-20 0zm-5 0zm-170 0z"/><path class="k4" d="M1345 870zm-286 0zm-401 528zm48 0z"/><path class="k5" d="M1032 870zm-416 528z"/><path class="k7" d="M1071 870zm-31 0z"/><path class="k1" d="M1390 869zm-1 1zm-54 0z"/><path class="k3" d="M1467 866zm-128 3zm-60 1zm-53-2zm-1 0zm-34 2zm-504 528z"/><path class="k2" d="M1417 868zm-253 2z"/><path class="k4" d="M1086 870zm-410 528z"/><path class="k3" d="M1165 870z"/><path class="k5" d="M1155 870zm-116-1z"/><path class="k3" d="M1044 869z"/><path class="k2" d="M1087 869z"/><path class="k3" d="M1110 869z"/><path class="k1" d="M1460 866zm-107 3zm-675 529z"/><path class="k5" d="M1070 869zm-32-1z"/><path class="k2" d="M1473 866zm-30-1zm-79 4zm-240 0z"/><path class="k1" d="M1509 865zm-54 0zm-122 4z"/><path class="k4" d="M1083 869z"/><path class="k3" d="M1336 868zm-214 0zm-413 530z"/><path class="k5" d="M1082 868zm-18 0zm-20 0z"/><path class="k2" d="M1516 864zm-11 1zm-130 3zm-17 0zm-34 0zm-586 530z"/><path class="k4" d="M1281 867zm-141 1z"/><path class="k1" d="M1485 863zm-120 5zm-18 0zm-11 0z"/><path class="k5" d="M1177 868zm-13 0zm-60-1zm-5-1z"/><path class="k3" d="M1220 867zm-30 1zm-458 530z"/><path class="k6" d="M1039 868zm-1-1z"/><path class="k2" d="M1358 868zm-114-3z"/><path class="k1" d="M1396 866zm-50 2z"/><path class="k4" d="M1281 863zm-127 5zm-418 530z"/><path class="k6" d="M1176 868z"/><path class="k3" d="M1347 867zm-153 0z"/><path class="k5" d="M1172 867zm-104 0z"/><path class="k2" d="M1334 866zm-1 1zm-101-2zm-38 2zm-432 531z"/><path class="k1" d="M1381 867zm-40-1zm-598 531zm41 0z"/><path class="k7" d="M1044 867zm-410 531z"/><path class="k6" d="M1094 866z"/><path class="k3" d="M1063 866zm-391 532z"/><path class="k4" d="M1167 866zm-14 0zm-434 531z"/><path class="k2" d="M1351 866zm-584 531z"/><path class="k1" d="M1390 866z"/><path class="k5" d="M1147 866zm-94 0zm-406 532z"/><path class="k4" d="M1335 866z"/><path class="k3" d="M1414 864zm-225 2zm-126-1zm-375 532zm19 0z"/><path class="k5" d="M1167 866zm-19-1zm-110 0zm-383 532z"/><path class="k2" d="M1346 866zm-119-2zm-55 1z"/><path class="k5" d="M1154 865z"/><path class="k3" d="M1333 865zm-102-1zm-534 533z"/><path class="k2" d="M1159 865z"/><path class="k4" d="M1347 865zm-264 0zm-32-1zm-11 0z"/><path class="k3" d="M1334 865zm-161-1z"/><path class="k2" d="M1345 865z"/><path class="k4" d="M1339 865z"/><path class="k1" d="M1360 864zm-617 532z"/><path class="k3" d="M1354 864zm-18 0zm-622 532z"/><path class="k5" d="M1164 864zm-64-1zm-32 0zm-22 0zm-8 1z"/><path class="k4" d="M1302 864zm-119-1z"/><path class="k2" d="M1347 864zm-8 0zm-185-1zm-403 533z"/><path class="k1" d="M1366 864zm-610 532zm6 0z"/><path class="k2" d="M1399 863zm-24 1zm-17-1zm-4 0zm-19 0zm-611 533z"/><path class="k3" d="M1359 863zm-225 0z"/><path class="k5" d="M1207 863z"/><path class="k3" d="M1225 863zm-30-1zm-19 1zm-9 0z"/><path class="k4" d="M1233 862zm-122 1z"/><path class="k6" d="M1213 862zm-181 1z"/><path class="k1" d="M1400 862zm-55 1zm-579 533z"/><path class="k2" d="M1357 862zm-11 0zm-7 0zm-6 0zm0-1z"/><path class="k3" d="M1420 862zm-163-2zm-526 536z"/><path class="k5" d="M1158 862zm-6 0zm-35 0zm-30 0zm-49 0z"/><path class="k2" d="M1462 862zm-80 0zm-187 0z"/><path class="k3" d="M1504 862zm-279-2zm-17 1zm-24 0zm-13-1zm-13 1zm-5 0z"/><path class="k7" d="M1033 862zm-424 535z"/><path class="k3" d="M1069 862z"/><path class="k1" d="M1471 861zm-10 1zm-7-1zm-59 0z"/><path class="k5" d="M1100 861z"/><path class="k2" d="M1468 860zm-6 0zm-79 1z"/><path class="k1" d="M1430 860zm-59 1z"/><path class="k7" d="M1074 861z"/><path class="k5" d="M1099 861zm-32 0z"/><path class="k4" d="M1171 860zm-24 0zm-42 0zm-24 1z"/><path class="k2" d="M1454 859zm0-1zm-18 1zm-90 2z"/><path class="k3" d="M1324 860zm-159 0z"/><path class="k6" d="M1178 860zm-144 0zm-424 537z"/><path class="k2" d="M1357 860z"/><path class="k1" d="M1453 857zm-113 3z"/><path class="k3" d="M1352 860zm-200 0z"/><path class="k1" d="M1336 860z"/><path class="k2" d="M1472 856zm-11-1zm-97 5zm-31-1zm-150 1zm-30 0z"/><path class="k4" d="M1213 860z"/><path class="k5" d="M1124 860zm-25-1zm-489 538zm42 0z"/><path class="k6" d="M1230 860z"/><path class="k3" d="M1339 859zm-247 0z"/><path class="k7" d="M1034 859z"/><path class="k6" d="M1059 859z"/><path class="k4" d="M1272 858zm-118 1zm-495 538z"/><path class="k2" d="M1342 858zm-6 1zm-214 0z"/><path class="k4" d="M1159 859zm-41-1z"/><path class="k3" d="M1263 857zm-86 2zm-121-1zm-17 1z"/><path class="k2" d="M1274 856zm-55 3zm-55-1z"/><path class="k1" d="M1515 855zm-176 3z"/><path class="k2" d="M1485 855zm-120 3z"/><path class="k1" d="M1523 855zm-145 3z"/><path class="k3" d="M1341 858zm-182 0z"/><path class="k5" d="M1135 858zm-67 0zm-24 0zm-403 538z"/><path class="k2" d="M1498 855zm-114 3zm-45 0zm-144 0z"/><path class="k5" d="M1166 858z"/><path class="k6" d="M1039 858z"/><path class="k3" d="M1509 854zm-349 4zm-121-1z"/><path class="k1" d="M1402 857zm-1 0z"/><path class="k4" d="M1456 854zm-109 3zm-79-3zm-97 3zm-507 539z"/><path class="k2" d="M1539 852zm-20-2zm-107 6zm-77 1zm-2 0zm-651 539z"/><path class="k6" d="M1153 857zm-531 539z"/><path class="k5" d="M1208 856zm-145 1z"/><path class="k6" d="M1034 857z"/><path class="k5" d="M1064 857zm-25 0z"/><path class="k4" d="M1134 856zm-46 0z"/><path class="k3" d="M1352 856zm-173 0zm-79 0zm-424 540z"/><path class="k5" d="M1068 856zm-398 540z"/><path class="k4" d="M1213 856zm-35 0zm-30 0z"/><path class="k2" d="M1371 856zm-6-1zm-26 0zm-5 0z"/><path class="k3" d="M1074 856z"/><path class="k5" d="M1119 856z"/><path class="k6" d="M1155 855zm-110 0zm-399 541z"/><path class="k4" d="M1164 855zm-46 0z"/><path class="k1" d="M1551 847zm-102 7zm-12 0zm-56 1z"/><path class="k2" d="M1487 852zm-34-1zm-27 2zm-73 2zm-199 0z"/><path class="k5" d="M1063 855z"/><path class="k3" d="M1176 855zm-42 0zm-463 541z"/><path class="k1" d="M1521 848zm-4 1zm-171 6zm-7 0z"/><path class="k4" d="M1082 855zm-381 541zm13 0z"/><path class="k2" d="M1544 843zm-173 12zm0 0zm-632 541z"/><path class="k1" d="M1539 841zm-188 14zm-590 541z"/><path class="k5" d="M1134 855z"/><path class="k7" d="M1034 855z"/><path class="k3" d="M1521 837zm-397 18z"/><path class="k5" d="M1166 855zm-108-2zm-6 0zm-6 1zm-2-1z"/><path class="k4" d="M1335 854zm-162 0zm-473 541z"/><path class="k5" d="M1154 854z"/><path class="k3" d="M1213 854zm-162-1z"/><path class="k1" d="M1520 837zm-172 17z"/><path class="k5" d="M1200 854zm-160-2zm-1 0z"/><path class="k2" d="M1577 835zm-206 18zm-12 0zm-8 0zm-9 1zm-3 0zm-101-1zm-19-1zm-469 543zm5 0zm17 0zm15 0z"/><path class="k3" d="M1408 853zm-133 0z"/><path class="k6" d="M1272 853zm-168 0zm-470 543z"/><path class="k3" d="M1143 853z"/><path class="k4" d="M1220 851zm-55 2zm-6 0zm-5-1z"/><path class="k1" d="M1545 830zm18 2zm24-10zm-186 31zm-48 0zm-19 0zm-554 542zm30 0z"/><path class="k5" d="M1100 853zm-1 0zm-476 543zm4 0z"/><path class="k3" d="M1342 853zm-224-1z"/><path class="k2" d="M1359 852zm-8 0zm-577 543z"/><path class="k3" d="M1334 852zm-592 543z"/><path class="k1" d="M1394 852zm-53 0z"/><path class="k2" d="M1418 850zm-29 1zm-2 0zm-52 1zm-580 543z"/><path class="k6" d="M1136 852zm-526 544zm0 0zm2 0zm17 0z"/><path class="k4" d="M1118 851z"/><path class="k7" d="M1039 851zm-386 545z"/><path class="k3" d="M1456 850zm-110 1zm-10 0zm-182 0zm-37 0z"/><path class="k5" d="M1040 851z"/><path class="k1" d="M1466 850zm-4-1zm-3 0zm-117 2z"/><path class="k2" d="M1467 848zm-113 3zm-177 0zm-25 0z"/><path class="k7" d="M1191 850z"/><path class="k4" d="M1184 850zm-521 545z"/><path class="k6" d="M1095 850zm-15 0zm-16 0z"/><path class="k2" d="M1221 850zm-531 545zm6 0z"/><path class="k1" d="M1378 850zm-21 0zm-18 0zm-6 0z"/><path class="k5" d="M1093 850zm-18 0z"/><path class="k3" d="M1467 847zm-173 3zm-201-1zm-451 546zm67 0z"/><path class="k4" d="M1197 850z"/><path class="k2" d="M1336 850zm-2 0zm-65 0zm-539 545z"/><path class="k5" d="M1166 850zm-114-1z"/><path class="k1" d="M1479 847zm-145 2z"/><path class="k2" d="M1460 846zm-114 3zm-264-1z"/><path class="k4" d="M1372 849zm-208 0z"/><path class="k6" d="M1237 849zm-627 546zm19 0z"/><path class="k2" d="M1160 849z"/><path class="k1" d="M1456 846zm-45 3zm-69 0z"/><path class="k3" d="M1364 849zm-293-1z"/><path class="k1" d="M1334 849z"/><path class="k3" d="M1336 848zm-27 1z"/><path class="k4" d="M1262 848zm-157 0zm-444 547z"/><path class="k2" d="M1468 846zm-133 2zm-84 0z"/><path class="k1" d="M1466 843zm-9-1zm-115 6z"/><path class="k5" d="M1170 848zm-130 0z"/><path class="k3" d="M1354 848zm-117 0zm-146 0z"/><path class="k4" d="M1275 847zm-223 1z"/><path class="k2" d="M1462 841zm0-1zm-313 8z"/><path class="k3" d="M1183 848zm-24-1z"/><path class="k1" d="M1352 848z"/><path class="k5" d="M1076 848zm-37-2zm-1 0zm-4 2z"/><path class="k4" d="M1394 847zm-182 0z"/><path class="k2" d="M1345 847zm-6 0zm-5 0z"/><path class="k3" d="M1094 847z"/><path class="k4" d="M1106 847z"/><path class="k5" d="M1141 847zm-42 0zm-28-1zm-15 0z"/><path class="k1" d="M1405 845zm-58 2zm-14 0zm-33-1z"/><path class="k3" d="M1359 846zm-6 0zm-199 1zm-6 0z"/><path class="k4" d="M1195 846z"/><path class="k5" d="M1202 846zm-42 0z"/><path class="k4" d="M1214 846zm-55 0z"/><path class="k2" d="M1294 846zm-6-1zm-74 0z"/><path class="k1" d="M1382 845zm-48 1z"/><path class="k2" d="M1335 846zm-2-1z"/><path class="k3" d="M1131 846z"/><path class="k7" d="M1040 845z"/><path class="k1" d="M1370 845z"/><path class="k6" d="M1153 845zm-25 0zm-506 550zm11 0z"/><path class="k2" d="M1384 844zm-3 0zm-23 1z"/><path class="k5" d="M1215 845zm-141 0zm-17-1zm-1 1zm-24 0zm-374 550z"/><path class="k4" d="M1242 845zm-201-1zm-357 551z"/><path class="k5" d="M1251 843zm-30 2zm-1-2z"/><path class="k3" d="M1288 840zm-134 4zm-507 551zm26 0zm4 0z"/><path class="k1" d="M1417 843zm-77 1z"/><path class="k2" d="M1339 844zm-6 0zm-125-1zm-37 1zm-451 551z"/><path class="k1" d="M1377 844zm-616 551z"/><path class="k2" d="M1405 842zm-65 2z"/><path class="k1" d="M1357 843z"/><path class="k7" d="M1044 843z"/><path class="k5" d="M1161 843zm-3 0zm-12 0zm-18 0zm-89-1zm-1 1z"/><path class="k6" d="M1104 843zm-492 552z"/><path class="k3" d="M1414 842zm-78 1zm-164-1z"/><path class="k1" d="M1340 843z"/><path class="k4" d="M1226 842zm-41 0zm-133 0zm-364 553z"/><path class="k3" d="M1316 842zm-610 553zm7 0z"/><path class="k2" d="M1448 840zm-73 1zm-136 0zm-87 0zm-420 554zm5 0z"/><path class="k4" d="M1359 841zm-616 554z"/><path class="k2" d="M1382 841zm-40 0zm-2-1zm-7 1z"/><path class="k5" d="M1113 841zm-63 0zm-13-1z"/><path class="k3" d="M1402 840zm-68 0zm-84 0zm-85 1zm-471 554z"/><path class="k2" d="M1365 839zm47 0zm-22 1zm-211 1z"/><path class="k4" d="M1152 841z"/><path class="k3" d="M1154 841z"/><path class="k5" d="M1189 841zm-22-1zm-55 0z"/><path class="k4" d="M1154 840zm-80 0z"/><path class="k3" d="M1202 840z"/><path class="k4" d="M1173 840z"/><path class="k6" d="M1227 840zm-194 0z"/><path class="k5" d="M1122 840zm-10 0z"/><path class="k3" d="M1183 840z"/><path class="k7" d="M1035 840zm-364 555z"/><path class="k3" d="M1069 839z"/><path class="k4" d="M1177 839zm60 0zm-535 555zm6 0zm5 0z"/><path class="k5" d="M1063 839zm77 0zm20 0z"/><path class="k1" d="M1363 839zm32 0zm65 0zm-765 599z"/><path class="k3" d="M1154 839z"/><path class="k4" d="M1348 839z"/><path class="k7" d="M1051 839z"/><path class="k3" d="M1359 839z"/><path class="k1" d="M1346 839zm26-1z"/><path class="k6" d="M1098 839zm-468 556z"/><path class="k5" d="M1039 838zm-393 557zm8-1z"/><path class="k3" d="M1118 838z"/><path class="k4" d="M1113 838z"/><path class="k2" d="M1267 837zm68 1zm120-1zm6 0z"/><path class="k5" d="M1100 837zm52 1z"/><path class="k4" d="M1164 838zm334-1z"/><path class="k2" d="M1190 838z"/><path class="k5" d="M1130 838zm31 0z"/><path class="k3" d="M1333 838z"/><path class="k2" d="M1334 838zm41-1z"/><path class="k6" d="M1213 838zm-603 557z"/><path class="k7" d="M1041 838zm-352 556z"/><path class="k4" d="M1160 838zm24 0zm35 0zm-602 556z"/><path class="k5" d="M1038 837zm85 0zm29 0zm-529 557z"/><path class="k1" d="M1377 837zm53-1zm108-4z"/><path class="k6" d="M1172 837zm-561 557zm25 0zm11 0z"/><path class="k3" d="M1339 837zm14 0zm61-1z"/><path class="k5" d="M1152 837zm7 0zm20-1z"/><path class="k4" d="M1038 837z"/><path class="k3" d="M1142 836z"/><path class="k1" d="M1346 836z"/><path class="k7" d="M1118 836zm-478 558z"/><path class="k2" d="M1213 836zm153 0zm4 0zm14-1zm63 0zm24 0zm-744 559zm-116 44z"/><path class="k5" d="M1044 835zm7 1z"/><path class="k3" d="M1173 835zm9 0zm37 0zm-590 559z"/><path class="k5" d="M1135 835z"/><path class="k3" d="M1164 835z"/><path class="k4" d="M1050 835zm-331 559zm43 0zm-119 44z"/><path class="k1" d="M1340 835zm120-1z"/><path class="k2" d="M1347 835zm35 0zm-723 559zm107 0zm-91 44z"/><path class="k3" d="M1335 835z"/><path class="k6" d="M1135 835z"/><path class="k2" d="M1297 835zm57 0z"/><path class="k4" d="M1166 835z"/><path class="k1" d="M1190 835zm-416 559zm28 0z"/><path class="k3" d="M1360 834z"/><path class="k5" d="M1087 834zm91 0zm-556 560z"/><path class="k1" d="M1333 834zm66 0z"/><path class="k2" d="M1333 834zm0 0zm2 0zm7 0zm-586 560z"/><path class="k4" d="M1136 834z"/><path class="k7" d="M1033 833zm7 1zm-370 560z"/><path class="k5" d="M1040 833zm114 1zm19 0z"/><path class="k3" d="M1161 834zm59-1zm175 1z"/><path class="k4" d="M1117 834zm-435 560z"/><path class="k2" d="M1244 833zm127 1z"/><path class="k5" d="M1092 834zm79 0z"/><path class="k1" d="M1335 834zm101-1zm-691 561z"/><path class="k3" d="M1104 833zm74 0zm108-1zm47 1zm-603 561z"/><path class="k2" d="M1214 832zm66-1zm54 2zm13 0zm23-1zm83 0zm3 1z"/><path class="k6" d="M1152 833zm-542 560z"/><path class="k5" d="M1117 832zm29 0z"/><path class="k7" d="M1032 832z"/><path class="k1" d="M1381 832zm87 0zm-700 562z"/><path class="k3" d="M1334 832z"/><path class="k4" d="M1160 832zm61-1zm-525 563z"/><path class="k6" d="M1032 832zm-351 562z"/><path class="k1" d="M1348 832z"/><path class="k3" d="M1164 832zm169-1z"/><path class="k4" d="M1058 832z"/><path class="k2" d="M1335 831zm59 0zm72 0zm12 0zm-808 563zm72 0z"/><path class="k6" d="M1184 831z"/><path class="k3" d="M1045 831zm174 0zm156 0z"/><path class="k5" d="M1040 831zm12 0zm65 0zm50 0z"/><path class="k6" d="M1100 830zm37 1z"/><path class="k2" d="M1359 831zm28 0z"/><path class="k5" d="M1153 831zm12 0z"/><path class="k7" d="M1032 831zm-354 563z"/><path class="k6" d="M1041 831zm82-1z"/><path class="k3" d="M1172 831zm206 0zm39 0z"/><path class="k1" d="M1407 830zm49-1zm59 2zm-734 563z"/><path class="k2" d="M1363 830zm176 0zm-801 564zm12 0z"/><path class="k4" d="M1113 830z"/><path class="k5" d="M1062 830zm120 0zm27-1zm-574 564z"/><path class="k1" d="M1390 830zm155-1zm-813 564zm24 1z"/><path class="k3" d="M1089 830zm22 0zm42 0z"/><path class="k2" d="M1154 829zm66 0zm128 1zm45 0zm133-7zm-734 570z"/><path class="k1" d="M1335 830zm78 0zm-608 563z"/><path class="k4" d="M1080 830zm146-2zm-506 565z"/><path class="k2" d="M1366 830zm46-1zm13-1zm28 1z"/><path class="k5" d="M1041 830zm51 0zm163-3zm-542 566z"/><path class="k6" d="M1037 830zm-426 562zm18 1z"/><path class="k1" d="M1334 829z"/><path class="k3" d="M1128 829zm213 0zm113-1zm8 0zm-777 565zm11 0zm6 0zm84 0z"/><path class="k5" d="M1040 829zm265 0zm-647 563z"/><path class="k4" d="M1107 829zm52 0z"/><path class="k7" d="M1047 829zm10 0z"/><path class="k2" d="M1341 829z"/><path class="k3" d="M1375 828zm-721 564z"/><path class="k4" d="M1351 828z"/><path class="k6" d="M1032 828zm12 0zm14 0zm-447 564zm37 0z"/><path class="k1" d="M1364 828zm104-1zm-701 566z"/><path class="k2" d="M1336 828zm57 0zm76-2zm29 0zm-725 567z"/><path class="k5" d="M1067 828zm38-1zm6 1zm84 0zm-520 564z"/><path class="k4" d="M1052 828zm281 0zm37 0zm-640 565z"/><path class="k5" d="M1031 827zm2 1zm12 0z"/><path class="k3" d="M1152 828zm261 0zm-767 564zm37 0z"/><path class="k5" d="M1159 827zm-529 565z"/><path class="k2" d="M1153 827zm181 0zm-571 565z"/><path class="k4" d="M1135 827zm25 0z"/><path class="k6" d="M1092 827zm-475 565zm48 0z"/><path class="k1" d="M1342 827zm119-2zm-704 567z"/><path class="k5" d="M1161 827zm12 0z"/><path class="k4" d="M1352 827z"/><path class="k3" d="M1073 827zm260 0zm3-1z"/><path class="k2" d="M1154 826zm187 0zm25 0zm90-1zm-724 567zm23 0z"/><path class="k7" d="M1213 826zm-573 566z"/><path class="k4" d="M1158 825zm26 1zm66 0z"/><path class="k1" d="M1387 825zm15 1zm51-1zm3-1zm4-2z"/><path class="k6" d="M1040 826zm53-1zm127 0zm-610 566zm1 1zm12 0z"/><path class="k3" d="M1100 825zm10 0zm43 0zm29 0zm160 0zm-648 567zm55 0z"/><path class="k5" d="M1039 825zm12 0zm103-1zm-409 568z"/><path class="k2" d="M1364 825zm43 0z"/><path class="k3" d="M1336 825zm-604 567z"/><path class="k5" d="M1303 825z"/><path class="k1" d="M1341 825zm54 0zm-621 567z"/><path class="k6" d="M1213 825z"/><path class="k7" d="M1069 825z"/><path class="k6" d="M1064 824zm4 0zm12 0zm7 0z"/><path class="k2" d="M1292 824zm-541 568z"/><path class="k3" d="M1278 823zm68 1zm-609 568z"/><path class="k2" d="M1341 824z"/><path class="k5" d="M1035 823zm166 1z"/><path class="k3" d="M1333 824z"/><path class="k2" d="M1341 823z"/><path class="k7" d="M1039 823z"/><path class="k5" d="M1040 822zm21 1z"/><path class="k1" d="M1339 823zm20 0zm23 0zm-602 568zm6 1zm0 0z"/><path class="k4" d="M1106 822zm71 1zm67-2zm-573 571z"/><path class="k2" d="M1106 821zm227 1zm1 1zm66-1z"/><path class="k5" d="M1155 823zm4 0z"/><path class="k2" d="M1196 823z"/><path class="k7" d="M1062 822z"/><path class="k4" d="M1236 822z"/><path class="k3" d="M1206 821zm130 1zm9 0zm39 0zm40-1zm-733 571z"/><path class="k5" d="M1040 822zm113 0zm-440 570z"/><path class="k2" d="M1261 821zm92 1z"/><path class="k3" d="M1075 821zm265 1zm24 0z"/><path class="k2" d="M1364 822z"/><path class="k6" d="M1160 822zm66-3zm-574 572z"/><path class="k3" d="M1341 822zm11-1z"/><path class="k5" d="M1154 821zm-518 570zm10 0z"/><path class="k1" d="M1405 821zm51 0zm0 0z"/><path class="k4" d="M1038 821zm103 0zm192 0zm-624 570zm16 0zm1 0z"/><path class="k5" d="M1101 820zm42 0zm3 0zm7 0zm12 0zm140 1z"/><path class="k3" d="M1128 819zm213 2z"/><path class="k2" d="M1448 820zm49 1zm-747 570z"/><path class="k4" d="M1076 820zm258 0z"/><path class="k2" d="M1335 820z"/><path class="k3" d="M1310 819zm159 0zm45 1z"/><path class="k1" d="M1384 820z"/><path class="k3" d="M1341 820z"/><path class="k2" d="M1366 820zm96-2zm79-2z"/><path class="k6" d="M1190 819zm-579 572zm19 0z"/><path class="k4" d="M1342 819zm10 0z"/><path class="k1" d="M1405 819zm75-3zm4 2zm0-2zm93-2z"/><path class="k5" d="M1063 819zm-441 572z"/><path class="k7" d="M1154 819zm-472 572z"/><path class="k2" d="M1158 819zm69-1zm174 1zm13 0zm103-3zm51-2z"/><path class="k4" d="M1080 819z"/><path class="k1" d="M1394 819zm159-6zm24 0z"/><path class="k5" d="M1140 819zm18-1z"/><path class="k2" d="M1408 819zm139-8z"/><path class="k3" d="M1227 816zm118 2zm51-1zm-706 574zm13 0zm10 0z"/><path class="k2" d="M1336 818zm5 0zm-587 573z"/><path class="k6" d="M1094 818zm60 0zm-506 573z"/><path class="k1" d="M1340 818zm234-8zm7-2z"/><path class="k5" d="M1057 818zm164-3z"/><path class="k3" d="M1167 818zm9-1zm184 1zm3 0zm-618 573z"/><path class="k7" d="M1052 818z"/><path class="k2" d="M1390 817zm-725 574zm103 0z"/><path class="k5" d="M1032 817z"/><path class="k1" d="M1336 817zm69 0zm19-1z"/><path class="k4" d="M1047 817zm77 0zm13 0zm196 0z"/><path class="k5" d="M1039 816zm134 1z"/><path class="k7" d="M1106 816zm47 0z"/><path class="k2" d="M1354 816zm75-1z"/><path class="k4" d="M1336 816z"/><path class="k2" d="M1311 816zm28 0z"/><path class="k6" d="M1070 816z"/><path class="k3" d="M1154 816zm132-2zm-613 577zm65 0zm5 0zm18 0z"/><path class="k1" d="M1352 816zm107-2zm1 0zm-680 576z"/><path class="k5" d="M1044 816zm24 0zm29 0z"/><path class="k2" d="M1159 816zm182 0zm118-3z"/><path class="k5" d="M1141 816z"/><path class="k6" d="M1037 815zm-378 576z"/><path class="k3" d="M1134 815zm-367 575z"/><path class="k2" d="M1171 815z"/><path class="k3" d="M1160 815z"/><path class="k1" d="M1365 815zm121-3z"/><path class="k4" d="M1172 815zm95-1zm24-3z"/><path class="k7" d="M1075 815zm122-1zm-562 577z"/><path class="k2" d="M1341 815zm6-1zm109-4zm0 0zm29 1z"/><path class="k3" d="M1118 815zm384-5z"/><path class="k4" d="M1089 815z"/><path class="k7" d="M1082 815zm77 0z"/><path class="k5" d="M1032 814zm12 1zm-415 576zm49 0z"/><path class="k3" d="M1130 814z"/><path class="k4" d="M1080 814zm74 0zm28 0z"/><path class="k1" d="M1340 814zm31 0z"/><path class="k5" d="M1101 814zm10-4zm13 3zm11 0zm24-1z"/><path class="k2" d="M1038 814zm177-1zm10 0zm158 0zm150-4z"/><path class="k6" d="M1038 813zm7 1zm-427 577z"/><path class="k4" d="M1333 813z"/><path class="k2" d="M1334 812zm7 0zm4 1zm24 0zm7 0z"/><path class="k5" d="M1038 813zm0-1zm0 0zm1 0zm1 1zm0 0zm30-1zm106 0zm7 0zm6 0zm-573 579z"/><path class="k1" d="M1411 813zm135-5zm29-5z"/><path class="k2" d="M1375 812zm78-2zm1 0z"/><path class="k4" d="M1226 812z"/><path class="k3" d="M1202 810zm131 1zm13 0zm8 0z"/><path class="k6" d="M1033 811zm62-1zm150 1z"/><path class="k2" d="M1342 811z"/><path class="k1" d="M1336 811zm53 0zm65-2zm31 0z"/><path class="k5" d="M1033 811zm134-1zm15 0zm3 0z"/><path class="k4" d="M1051 810z"/><path class="k7" d="M1231 810zm-536 581z"/><path class="k3" d="M1172 810zm47 0zm117 0zm16 0zm-620 581z"/><path class="k2" d="M1202 810zm133 0zm6-1zm53 1zm114-4zm14 1z"/><path class="k5" d="M1050 810zm201 0zm-561 581z"/><path class="k7" d="M1040 810z"/><path class="k5" d="M1069 810z"/><path class="k4" d="M1105 809zm48 0zm-494 582zm25 0zm35-1z"/><path class="k1" d="M1406 809zm116-3zm-747 584z"/><path class="k6" d="M1196 809z"/><path class="k5" d="M1213 809z"/><path class="k2" d="M1363 809zm3 0z"/><path class="k3" d="M1046 809zm221-1zm-571 582zm6 0zm11 0z"/><path class="k6" d="M1182 809zm-467 581z"/><path class="k3" d="M1209 809z"/><path class="k5" d="M1087 808zm71 1z"/><path class="k6" d="M1191 809z"/><path class="k4" d="M1064 808zm103 1zm5 0zm89-2z"/><path class="k1" d="M1353 808zm-617 582z"/><path class="k4" d="M1335 808z"/><path class="k5" d="M1070 807zm144 1z"/><path class="k2" d="M1094 807zm239 1zm-573 582z"/><path class="k3" d="M1209 808zm65-2zm0 0zm113 2z"/><path class="k5" d="M1189 808z"/><path class="k4" d="M1088 806zm247 2z"/><path class="k2" d="M1213 807zm120 1zm61 0zm17 0z"/><path class="k3" d="M1161 808zm72-1zm106-1zm14 2zm23 0z"/><path class="k4" d="M1153 808z"/><path class="k1" d="M1448 808zm-670 582zm9 0z"/><path class="k6" d="M1038 804zm7 2zm7 0zm108 1z"/><path class="k5" d="M1033 803zm78 3zm74 1zm33-1z"/><path class="k3" d="M1417 806zm38 1zm35-1zm-728 584z"/><path class="k4" d="M1106 806z"/><path class="k2" d="M1345 806zm105-3zm5 2zm72-1z"/><path class="k6" d="M1203 806z"/><path class="k2" d="M1212 806z"/><path class="k4" d="M1176 806z"/><path class="k3" d="M1335 806zm11 0zm25 0zm156-2z"/><path class="k5" d="M1089 805zm70 0z"/><path class="k6" d="M1099 805z"/><path class="k1" d="M1364 805z"/><path class="k4" d="M1154 805zm30 0z"/><path class="k3" d="M1220 805zm115 0z"/><path class="k4" d="M1178 804zm36 1z"/><path class="k2" d="M1347 804zm5 0zm47 1zm2-3zm84 1zm67 0z"/><path class="k6" d="M1172 804z"/><path class="k3" d="M1334 804z"/><path class="k1" d="M1348 804zm106-2zm2 0zm52 0zm12 1zm56-2z"/><path class="k4" d="M1340 804z"/><path class="k5" d="M1172 804zm78 0z"/><path class="k4" d="M1184 804z"/><path class="k5" d="M1215 804zm4 0z"/><path class="k1" d="M1345 804z"/><path class="k4" d="M1256 804z"/><path class="k6" d="M1147 803z"/><path class="k4" d="M1159 803z"/><path class="k2" d="M1589 788zm-370 15zm117-1zm101 0zm72-2z"/><path class="k3" d="M1184 803zm162-1z"/><path class="k5" d="M1112 803zm18 0z"/><path class="k7" d="M1039 803zm-417 588zm19-1z"/><path class="k5" d="M1046 803zm-398 587zm4 0z"/><path class="k3" d="M1125 802zm48 1z"/><path class="k2" d="M1143 802z"/><path class="k3" d="M1111 802zm43 0zm4 0z"/><path class="k4" d="M1167 802zm71 0z"/><path class="k5" d="M1128 802zm7 0z"/><path class="k6" d="M1299 802zm-689 588z"/><path class="k7" d="M1043 802zm-372 588z"/><path class="k3" d="M1172 802zm47-1zm122 1z"/><path class="k2" d="M1357 802z"/><path class="k3" d="M1359 801z"/><path class="k1" d="M1533 799zm-200 2zm8 0z"/><path class="k5" d="M1031 801zm146 0zm96-1zm-650 590zm36 0z"/><path class="k4" d="M1220 801z"/><path class="k2" d="M1539 796zm-206 5zm55 0z"/><path class="k7" d="M1173 801z"/><path class="k6" d="M1032 801zm6 0zm109 0zm-536 588zm5 1z"/><path class="k4" d="M1130 801zm37 0z"/><path class="k3" d="M1341 801zm59 0zm-727 589z"/><path class="k2" d="M1346 799zm-48 0zm41 1zm51 1zm4-1zm37 0z"/><path class="k5" d="M1074 800zm79 0zm-492 590z"/><path class="k3" d="M1456 798zm-19-1zm-67 2zm-1 0zm-23-1zm-54 1zm-36-1zm-98 2z"/><path class="k6" d="M1038 800zm79 0zm25 0zm-512 590zm6 0z"/><path class="k3" d="M1178 799z"/><path class="k5" d="M1244 798zm-78 1zm-132-1zm-357 592z"/><path class="k3" d="M1161 799zm-8 0z"/><path class="k5" d="M1154 799z"/><path class="k4" d="M1107 799z"/><path class="k3" d="M1171 798zm-13 1zm-4-1z"/><path class="k2" d="M1333 798zm-84 0zm-70 0z"/><path class="k4" d="M1335 798z"/><path class="k3" d="M1225 797z"/><path class="k2" d="M1360 797zm-24 0z"/><path class="k3" d="M1382 797zm-49 0z"/><path class="k2" d="M1377 797z"/><path class="k6" d="M1196 797zm-42 0zm-465 593z"/><path class="k1" d="M1546 794zm-90 3zm-60 0zm-48 0z"/><path class="k2" d="M1456 796zm-122 1z"/><path class="k7" d="M1075 797z"/><path class="k4" d="M1166 797zm-132-1z"/><path class="k3" d="M1407 795zm-6 1zm-49 1zm-621 593z"/><path class="k5" d="M1233 797zm-548 593z"/><path class="k2" d="M1353 797zm-121-1zm-482 594zm6 0z"/><path class="k6" d="M1202 795zm-49 1zm-43 1z"/><path class="k1" d="M1481 795zm-24 1zm-116 1z"/><path class="k4" d="M1463 794zm-115 2zm-14 0zm-1-1zm-35 1zm-29-1zm-193 1z"/><path class="k2" d="M1281 794zm-126 2z"/><path class="k6" d="M1045 795z"/><path class="k3" d="M1492 794zm-26-2zm-4 2zm-304 1zm-40 0zm-379 594zm5 1z"/><path class="k1" d="M1520 793zm-65-4zm-121 6z"/><path class="k4" d="M1342 795z"/><path class="k2" d="M1516 792zm-169 3z"/><path class="k4" d="M1334 795z"/><path class="k6" d="M1118 795z"/><path class="k3" d="M1099 795z"/><path class="k7" d="M1221 794zm-164 1zm-375 595z"/><path class="k5" d="M1171 795zm-89 0z"/><path class="k1" d="M1532 790zm-173 5z"/><path class="k3" d="M1393 794zm-60 0zm-174 0z"/><path class="k2" d="M1514 784zm-359 10z"/><path class="k7" d="M1173 794z"/><path class="k6" d="M1069 794z"/><path class="k5" d="M1152 794z"/><path class="k7" d="M1035 794z"/><path class="k6" d="M1154 794z"/><path class="k5" d="M1045 794z"/><path class="k6" d="M1057 794z"/><path class="k4" d="M1347 794zm-114-1zm-60 0zm-479 597zm12-1z"/><path class="k1" d="M1406 793zm-12 0zm-55 1z"/><path class="k3" d="M1092 794z"/><path class="k4" d="M1341 793z"/><path class="k1" d="M1333 793z"/><path class="k4" d="M1341 793z"/><path class="k5" d="M1250 792zm-157 1zm-53-2zm-1 2zm-2-2zm-3 1z"/><path class="k7" d="M1140 793z"/><path class="k2" d="M1401 792zm-6-1zm-8 0zm-3 1zm-44 1zm0-1zm-1 0zm-5 0zm-616 597z"/><path class="k3" d="M1172 792z"/><path class="k6" d="M1088 792zm-429 598z"/><path class="k5" d="M1161 791zm-103 0z"/><path class="k4" d="M1197 791zm-37 0zm-119-1zm-371 600z"/><path class="k1" d="M1401 791zm-62 0z"/><path class="k4" d="M1334 791z"/><path class="k6" d="M1158 790z"/><path class="k2" d="M1432 788zm-25 2zm-5-1zm-19 0zm-12 1zm-19 0z"/><path class="k4" d="M1119 790z"/><path class="k5" d="M1220 790zm-14 0zm-22 0zm-146-2zm-5 2zm-396 599z"/><path class="k3" d="M1465 788zm-130 2zm-174-1zm-2 1z"/><path class="k2" d="M1431 788zm-90 2zm-225 0z"/><path class="k5" d="M1202 789zm-97 0zm0 0z"/><path class="k3" d="M1339 789z"/><path class="k4" d="M1218 789z"/><path class="k2" d="M1334 789zm-156 0z"/><path class="k6" d="M1152 789zm-55-1zm-486 601z"/><path class="k3" d="M1173 788zm-13 0z"/><path class="k5" d="M1315 788zm-97 0zm-101 0z"/><path class="k4" d="M1370 787zm-78 0zm-83 1z"/><path class="k1" d="M1467 788zm-5-1zm-24 1z"/><path class="k5" d="M1190 788z"/><path class="k4" d="M1401 787z"/><path class="k2" d="M1454 787zm-112 0z"/><path class="k4" d="M1438 787zm-91 0z"/><path class="k3" d="M1171 787zm-4 0z"/><path class="k6" d="M1075 787z"/><path class="k2" d="M1333 787zm-124 0z"/><path class="k7" d="M1040 787zm-391 602z"/><path class="k5" d="M1196 786zm-128 0z"/><path class="k1" d="M1454 786z"/><path class="k2" d="M1479 785zm-6 1zm-10 0zm-773 603z"/><path class="k3" d="M1339 785zm-5 0zm-1 0zm-36 0zm-179 1z"/><path class="k5" d="M1154 786zm-42 0z"/><path class="k7" d="M1183 786z"/><path class="k3" d="M1118 786z"/><path class="k6" d="M1158 786zm-126-2z"/><path class="k5" d="M1209 785zm-165-1z"/><path class="k1" d="M1502 783zm-36 0zm-9 2z"/><path class="k3" d="M1188 785z"/><path class="k5" d="M1224 785z"/><path class="k4" d="M1357 785zm-108-1zm-583 605z"/><path class="k1" d="M1365 785z"/><path class="k4" d="M1342 784z"/><path class="k3" d="M1333 784zm-100-1zm-539 606z"/><path class="k1" d="M1357 784z"/><path class="k6" d="M1161 783zm-1 1zm-122-1z"/><path class="k3" d="M1333 784zm-161-1zm-14 0z"/><path class="k4" d="M1303 784z"/><path class="k2" d="M1520 782zm-93 1zm-25 1zm-188-2z"/><path class="k5" d="M1068 782zm-34 1zm-2 0zm0-1z"/><path class="k3" d="M1456 783zm-49 0zm-168-1z"/><path class="k1" d="M1551 782zm-96 0zm-83 1z"/><path class="k3" d="M1381 783zm-6 0z"/><path class="k2" d="M1521 781zm-97 1zm-55 1zm-33-1zm-94-1z"/><path class="k6" d="M1123 782zm-82-1z"/><path class="k4" d="M1574 781zm-157 1zm-22 0zm-53 0zm-188 0z"/><path class="k5" d="M1154 782zm-84-2zm-24 0zm-8 0z"/><path class="k2" d="M1577 777zm-238 5z"/><path class="k3" d="M1383 782zm-6 0zm-30 0zm-19 0zm-23 0zm-80-1zm-52 0zm-48 1z"/><path class="k4" d="M1359 781z"/><path class="k5" d="M1287 780zm-187 1zm-7-1z"/><path class="k1" d="M1437 781zm-78 0z"/><path class="k2" d="M1473 780zm-97 1zm-43 0zm-65-1zm-48 0zm-41 0z"/><path class="k3" d="M1341 781z"/><path class="k2" d="M1334 780zm-1 0z"/><path class="k1" d="M1455 780zm-42-1zm-62 1z"/><path class="k6" d="M1256 779zm-222 1z"/><path class="k2" d="M1484 780zm-121-1zm-10 0zm-5 0zm-8 0z"/><path class="k1" d="M1479 779zm-13 0z"/><path class="k5" d="M1170 779zm-6 0zm-123 0z"/><path class="k2" d="M1515 779z"/><path class="k3" d="M1426 779zm-72-1zm-15 0z"/><path class="k4" d="M1348 778zm-13 0zm-117 1zm-4 0zm-114 0z"/><path class="k6" d="M1172 779z"/><path class="k2" d="M1455 779zm-109-2zm-97 0z"/><path class="k7" d="M1182 778zm-142 0zm-406 610z"/><path class="k5" d="M1105 778zm-482 610zm6 0z"/><path class="k4" d="M1414 778zm-133-1zm-102 1z"/><path class="k7" d="M1106 778z"/><path class="k4" d="M1141 778zm-77-1z"/><path class="k3" d="M1191 778zm-90-1zm-428 611z"/><path class="k4" d="M1209 777zm-14 1zm-488 610z"/><path class="k1" d="M1455 777zm-115 0z"/><path class="k6" d="M1161 777zm-549 611z"/><path class="k3" d="M1474 777zm-778 611zm24 0z"/><path class="k2" d="M1360 777zm-3 0zm-17-1zm-6 0z"/><path class="k1" d="M1514 777zm-42-2zm-4 1z"/><path class="k4" d="M1182 777z"/><path class="k5" d="M1244 775zm-25-1zm-55 3zm-99-1zm-26 0z"/><path class="k3" d="M1553 776zm-160 0zm-130-3zm-8 1zm-100 2z"/><path class="k2" d="M1594 776zm-74 0zm-57-2z"/><path class="k1" d="M1636 770zm-1-4zm-1 1zm-172 7zm-80 2z"/><path class="k6" d="M1074 776zm-35 0zm-356 612z"/><path class="k2" d="M1592 765zm-94 7zm-151 4z"/><path class="k3" d="M1544 773zm-143 3zm-315-1zm-401 613z"/><path class="k4" d="M1453 774zm-36 2zm-145-3zm-114 3zm-498 612z"/><path class="k1" d="M1544 763zm-210 13z"/><path class="k4" d="M1336 776z"/><path class="k2" d="M1569 760zm-84 12zm-25 0zm-106 3zm-193-1zm-6 1zm-3 0z"/><path class="k3" d="M1358 775zm-705 613z"/><path class="k2" d="M1387 775zm-3 0zm-48 0zm-3 0z"/><path class="k3" d="M1394 775zm-6-2zm-36 2z"/><path class="k5" d="M1159 774zm-124 0zm-4 0z"/><path class="k6" d="M1037 774zm-426 614zm7 0z"/><path class="k4" d="M1342 774zm-139 0zm-74-1zm-71 1zm-382 614z"/><path class="k2" d="M1340 774zm-151-1z"/><path class="k4" d="M1333 774zm-109-1z"/><path class="k2" d="M1341 773zm-5 0z"/><path class="k3" d="M1383 773zm-13 0zm-157-2z"/><path class="k5" d="M1161 773z"/><path class="k6" d="M1038 772z"/><path class="k4" d="M1402 772zm-8-1zm-173-1z"/><path class="k3" d="M1160 772z"/><path class="k5" d="M1154 772zm-73 0zm-35 0zm-8-1z"/><path class="k6" d="M1093 772z"/><path class="k1" d="M1520 759zm75-5zm-12 6zm-62 3zm-6-1zm-61 7zm-121 2z"/><path class="k2" d="M1605 752zm-156 17zm-102 2zm-188 0z"/><path class="k5" d="M1092 771z"/><path class="k3" d="M1540 758zm-200 13z"/><path class="k7" d="M1034 771z"/><path class="k4" d="M1372 770zm-12 0zm-15 1zm0 0zm-174 0zm-127 0z"/><path class="k7" d="M1154 771z"/><path class="k5" d="M1148 770zm-19 0zm-91 0zm-3 0zm-3 0z"/><path class="k3" d="M1191 770z"/><path class="k2" d="M1336 770zm-3 0z"/><path class="k5" d="M1208 770zm-8 0zm-48 0z"/><path class="k3" d="M1340 770zm-6-1zm-128 0z"/><path class="k6" d="M1034 770z"/><path class="k7" d="M1075 769zm-43-1z"/><path class="k2" d="M1250 769z"/><path class="k4" d="M1335 769z"/><path class="k5" d="M1226 767zm-42 2zm-80-1zm-6 1zm-47-1zm-6 0z"/><path class="k1" d="M1576 741zm25-8zm33-8zm-161 44zm-37 0zm-78 0z"/><path class="k4" d="M1154 769z"/><path class="k2" d="M1389 769zm-43 0zm-6 0zm-6 0z"/><path class="k3" d="M1467 767zm-35 0zm-93 1zm-83-3zm-5 0z"/><path class="k2" d="M1352 768zm-13 0z"/><path class="k5" d="M1172 767zm-17 1zm0 0zm-1 0zm-2 0z"/><path class="k4" d="M1321 768z"/><path class="k2" d="M1346 768z"/><path class="k7" d="M1068 768z"/><path class="k4" d="M1360 768zm-260-1zm-61 0z"/><path class="k1" d="M1493 764zm-32 0zm-6 0zm-5 1zm-60 1zm-18 2zm-18-1z"/><path class="k3" d="M1341 767zm-181 0z"/><path class="k2" d="M1477 761zm-27 1zm-145 5z"/><path class="k5" d="M1064 767z"/><path class="k6" d="M1046 767z"/><path class="k1" d="M1483 759zm-27 1zm-104 7zm-1 0z"/><path class="k5" d="M1047 767z"/><path class="k4" d="M1159 767z"/><path class="k6" d="M1069 766zm-25 1z"/><path class="k5" d="M1164 767zm-35 0zm-37-1z"/><path class="k7" d="M1141 766zm-80-1z"/><path class="k2" d="M1339 766zm-180 0z"/><path class="k3" d="M1491 757zm-126 9zm-8 0zm-78 0zm-240-1z"/><path class="k6" d="M1191 766zm-142-1z"/><path class="k5" d="M1248 764zm-72 2zm-58 0z"/><path class="k6" d="M1130 766z"/><path class="k2" d="M1369 765zm-35 0z"/><path class="k3" d="M1335 765zm-61-5zm-120 5z"/><path class="k4" d="M1396 765zm-50-1zm-276 0z"/><path class="k5" d="M1164 765zm-87-2zm-32 1zm-5 0z"/><path class="k3" d="M1402 764zm-206 0zm-155-1z"/><path class="k4" d="M1376 764zm-204 0z"/><path class="k2" d="M1333 764zm-169 0z"/><path class="k5" d="M1203 764zm-123-2zm-46-1z"/><path class="k4" d="M1195 764z"/><path class="k6" d="M1155 764z"/><path class="k3" d="M1366 763zm-32 0zm-127 1z"/><path class="k5" d="M1172 764z"/><path class="k4" d="M1219 762zm-67 2z"/><path class="k3" d="M1176 764z"/><path class="k4" d="M1208 764z"/><path class="k2" d="M1341 763zm0-1zm-8 1z"/><path class="k5" d="M1110 763z"/><path class="k6" d="M1209 762zm-57 1z"/><path class="k3" d="M1336 762zm-99 0z"/><path class="k4" d="M1257 758zm77 4zm-80-2zm-168 1z"/><path class="k2" d="M1346 761z"/><path class="k5" d="M1106 756zm5 2zm72 3zm-6 0zm-103 0z"/><path class="k3" d="M1346 761zm-167-1zm-19 0z"/><path class="k2" d="M1372 761z"/><path class="k1" d="M1474 757zm34 0zm-174 4z"/><path class="k3" d="M1371 761z"/><path class="k1" d="M1371 760z"/><path class="k7" d="M1194 760z"/><path class="k5" d="M1131 759zm66-1zm4 2zm-54 0z"/><path class="k3" d="M1215 758zm125 2z"/><path class="k1" d="M1335 759zm4-1z"/><path class="k4" d="M1062 759zm127-2zm7 1zm101 0z"/><path class="k5" d="M1075 759z"/><path class="k7" d="M1049 759z"/><path class="k2" d="M1387 758zm2 1zm64-5zm8 2zm24 0z"/><path class="k6" d="M1046 759zm10 0zm96-2z"/><path class="k7" d="M1032 759z"/><path class="k5" d="M1098 759zm60-2z"/><path class="k6" d="M1037 758z"/><path class="k3" d="M1268 758zm84 0z"/><path class="k4" d="M1099 756zm254 2z"/><path class="k2" d="M1182 756zm151 2zm54 0z"/><path class="k3" d="M1341 758zm46 0z"/><path class="k5" d="M1033 756zm7 1zm67-2zm137 3zm38-1z"/><path class="k2" d="M1339 757z"/><path class="k1" d="M1358 757zm139-2zm30-9z"/><path class="k2" d="M1342 757zm0-1zm34 0zm79-4z"/><path class="k7" d="M1167 756z"/><path class="k3" d="M1279 753zm20 2zm35 1zm6-1zm138-3z"/><path class="k6" d="M1045 756z"/><path class="k4" d="M1111 755zm77 0z"/><path class="k2" d="M1353 755zm4 0zm13 0zm92-4zm17-2z"/><path class="k3" d="M1346 755zm66-3z"/><path class="k5" d="M1194 755zm136-1z"/><path class="k7" d="M1033 754zm41 1z"/><path class="k3" d="M1154 754zm59 0zm120 0zm0 0zm6-1zm3 1z"/><path class="k4" d="M1104 754z"/><path class="k6" d="M1050 754z"/><path class="k5" d="M1040 753zm17 1zm98-1zm4 0zm47-1zm9 2zm15 0z"/><path class="k2" d="M1353 753z"/><path class="k3" d="M1209 751zm24 1zm28 0zm75 1z"/><path class="k4" d="M1207 750zm127 3z"/><path class="k3" d="M1213 748zm103 5zm18 0zm1-1z"/><path class="k2" d="M1335 752zm0 0zm28 0z"/><path class="k6" d="M1052 752zm103-1z"/><path class="k3" d="M1399 752zm7 0z"/><path class="k5" d="M1033 752zm49 0z"/><path class="k6" d="M1040 752zm78-1z"/><path class="k2" d="M1376 751zm65-1z"/><path class="k5" d="M1038 751zm12 0zm51-1z"/><path class="k3" d="M1154 750zm215 1zm93-3z"/><path class="k2" d="M1348 751zm53 0z"/><path class="k7" d="M1031 750zm9 1z"/><path class="k1" d="M1346 751zm98-4z"/><path class="k3" d="M1335 750zm30 1z"/><path class="k4" d="M1088 750zm78-1z"/><path class="k2" d="M1353 750z"/><path class="k3" d="M1128 749zm207 1z"/><path class="k4" d="M1166 749zm176 1z"/><path class="k5" d="M1038 750zm79-3z"/><path class="k2" d="M1335 749zm4 1z"/><path class="k6" d="M1040 750z"/><path class="k7" d="M1033 749z"/><path class="k1" d="M1340 749z"/><path class="k3" d="M1191 749zm155 0z"/><path class="k6" d="M1038 748zm31 1z"/><path class="k2" d="M1340 748z"/><path class="k3" d="M1359 748z"/><path class="k2" d="M1334 748z"/><path class="k5" d="M1033 748zm0-2zm5 1zm14-1zm6 0zm11 1zm25-1zm1-2zm2 1zm94 2z"/><path class="k3" d="M1155 747zm28 0zm153 1z"/><path class="k4" d="M1292 748zm97 0z"/><path class="k3" d="M1389 747z"/><path class="k2" d="M1354 747zm71 0z"/><path class="k4" d="M1342 747zm90-1zm28 0z"/><path class="k1" d="M1363 747z"/><path class="k4" d="M1334 747z"/><path class="k5" d="M1112 747z"/><path class="k2" d="M1382 747z"/><path class="k3" d="M1340 746zm121-1zm30 0z"/><path class="k2" d="M1340 746zm2 0z"/><path class="k4" d="M1155 746zm199-1zm59 1zm72-1z"/><path class="k5" d="M1161 746z"/><path class="k6" d="M1034 745zm12 1z"/><path class="k2" d="M1197 746zm202-1z"/><path class="k3" d="M1176 745zm193 0zm33 0zm52 0z"/><path class="k5" d="M1050 745zm109 0zm59 0z"/><path class="k2" d="M1340 744zm109 1z"/><path class="k6" d="M1148 745z"/><path class="k3" d="M1039 743zm331 1zm91 0z"/><path class="k4" d="M1153 744zm79 0zm186 0z"/><path class="k5" d="M1031 741zm3 1zm11 1zm8 0zm16 0zm161 1z"/><path class="k2" d="M1173 744zm186 0z"/><path class="k6" d="M1045 739zm137 5zm45 0z"/><path class="k1" d="M1504 744z"/><path class="k5" d="M1152 743zm12 1zm12-1z"/><path class="k3" d="M1208 742zm132 1zm109-1zm12 0zm54 1z"/><path class="k4" d="M1128 743zm24-2zm19-1zm230 3z"/><path class="k2" d="M1268 743zm246 0z"/><path class="k3" d="M1233 742zm131 1zm55 0zm95-1z"/><path class="k2" d="M1341 743zm133-4zm0 0zm5 3zm8 0z"/><path class="k5" d="M1094 742zm24-3zm34 0zm0 0z"/><path class="k4" d="M1136 738zm109 3zm115 1zm168-5z"/><path class="k3" d="M1188 737zm37 1zm127 4zm198-8z"/><path class="k4" d="M1159 737zm20 0zm157 5z"/><path class="k3" d="M1341 741zm7 1z"/><path class="k4" d="M1351 741z"/><path class="k1" d="M1352 740zm59 1zm45-2zm130-11z"/><path class="k3" d="M1352 740zm61 0z"/><path class="k4" d="M1340 740z"/><path class="k3" d="M1335 740z"/><path class="k1" d="M1376 740zm42-2z"/><path class="k4" d="M1334 739zm5 1zm6-1zm8 0z"/><path class="k6" d="M1058 739z"/><path class="k5" d="M1069 739z"/><path class="k3" d="M1333 738zm8 0z"/><path class="k6" d="M1037 737zm8 1z"/><path class="k2" d="M1165 736zm200 2zm98-1zm76-7z"/><path class="k3" d="M1342 737zm137-1z"/><path class="k7" d="M1231 737z"/><path class="k5" d="M1069 737z"/><path class="k2" d="M1335 737zm5-1zm1 0zm5-1z"/><path class="k6" d="M1183 736zm54 0z"/><path class="k4" d="M1167 736zm125-1z"/><path class="k5" d="M1159 736z"/><path class="k6" d="M1185 736z"/><path class="k4" d="M1154 735zm54 1z"/><path class="k7" d="M1052 735z"/><path class="k3" d="M1249 735zm86 0zm29 0z"/><path class="k1" d="M1462 735z"/><path class="k5" d="M1031 735zm51 0zm42-1zm31-1zm9 1z"/><path class="k4" d="M1118 732zm125 3zm247-1z"/><path class="k2" d="M1039 734zm300 1zm50-1zm118-1z"/><path class="k3" d="M1130 732zm107 3zm291-6z"/><path class="k1" d="M1396 734zm58 0z"/><path class="k5" d="M1032 734zm14 0zm46-4zm0-2zm114 5z"/><path class="k4" d="M1342 734zm117-3z"/><path class="k2" d="M1239 732zm40-1zm66 3zm121-4z"/><path class="k4" d="M1335 733z"/><path class="k1" d="M1346 733zm13 0z"/><path class="k6" d="M1046 733z"/><path class="k2" d="M1339 733z"/><path class="k3" d="M1194 733zm261-5z"/><path class="k5" d="M1037 732z"/><path class="k6" d="M1039 731zm180 1z"/><path class="k4" d="M1335 732zm5-1z"/><path class="k3" d="M1347 731z"/><path class="k4" d="M1346 731z"/><path class="k3" d="M1339 731z"/><path class="k4" d="M1302 730zm32 1z"/><path class="k2" d="M1369 731zm84-4zm3-1zm42 1z"/><path class="k7" d="M1125 726zm69 5z"/><path class="k5" d="M1039 730zm1 0zm1 0zm8 1zm121-3z"/><path class="k3" d="M1215 731zm162-1zm143-4z"/><path class="k2" d="M1401 730zm109-5z"/><path class="k4" d="M1245 728zm88 2z"/><path class="k3" d="M1232 727zm6-2zm114 5z"/><path class="k4" d="M1209 725zm154 5z"/><path class="k5" d="M1294 729z"/><path class="k7" d="M1037 729zm37-1zm66-1z"/><path class="k3" d="M1154 725zm4 1zm74-2zm115 5z"/><path class="k4" d="M1251 724zm82 5z"/><path class="k2" d="M1390 729z"/><path class="k4" d="M1364 729z"/><path class="k3" d="M1333 729zm57-1zm29-2z"/><path class="k2" d="M1334 729zm56-4z"/><path class="k4" d="M1335 728zm66-3zm54 0z"/><path class="k3" d="M1340 727zm1 1zm5 0z"/><path class="k5" d="M1040 727zm119-2zm0-1z"/><path class="k2" d="M1352 727z"/><path class="k7" d="M1038 727zm2 0z"/><path class="k4" d="M1165 723zm168 4z"/><path class="k3" d="M1336 726z"/><path class="k6" d="M1092 726zm139-3z"/><path class="k2" d="M1347 726z"/><path class="k4" d="M1340 726z"/><path class="k3" d="M1335 726zm12 0z"/><path class="k2" d="M1335 726z"/><path class="k5" d="M1038 725zm49 0zm11 0zm60-3zm7 1zm23-1z"/><path class="k4" d="M1197 722zm160 3zm9 0z"/><path class="k7" d="M1039 725zm47-1z"/><path class="k2" d="M1335 724zm12 1zm49-1z"/><path class="k3" d="M1297 723zm84 1z"/><path class="k2" d="M1384 724z"/><path class="k5" d="M1032 723zm6 0zm75 1zm64-2z"/><path class="k3" d="M1353 723zm12 1z"/><path class="k2" d="M1365 723z"/><path class="k1" d="M1450 723zm72-1z"/><path class="k4" d="M1339 722zm32 1z"/><path class="k3" d="M1465 723z"/><path class="k7" d="M1040 723z"/><path class="k2" d="M1436 723zm18-2zm99 1z"/><path class="k4" d="M1055 722z"/><path class="k2" d="M1070 722z"/><path class="k6" d="M1038 722zm235 0z"/><path class="k1" d="M1515 719zm-163 3zm67-2zm83 0zm39 0z"/><path class="k2" d="M1335 721zm16 0z"/><path class="k5" d="M1031 719zm2 2zm7 0zm18-1zm30 0zm25 1z"/><path class="k7" d="M1064 719zm88 2z"/><path class="k5" d="M1033 718zm127 3z"/><path class="k6" d="M1135 721z"/><path class="k4" d="M1243 719zm-91 1zm8 0zm174 1zm14-1z"/><path class="k3" d="M1480 719zm-15 0zm-100 0zm-14 1zm9 0zm211 0z"/><path class="k2" d="M1582 710zm-126 8zm-25-1zm-127 3z"/><path class="k6" d="M1153 719z"/><path class="k3" d="M1486 716zm-15 1zm-138 2z"/><path class="k5" d="M1281 718zm-109 1z"/><path class="k4" d="M1134 719z"/><path class="k1" d="M1570 708zm-193 11z"/><path class="k4" d="M1364 718zm-7 0z"/><path class="k6" d="M1172 718z"/><path class="k3" d="M1341 718zm-144-1z"/><path class="k4" d="M1236 717zm-88 1z"/><path class="k3" d="M1184 718z"/><path class="k2" d="M1589 703zm-63 13zm-4 0zm-187 1z"/><path class="k7" d="M1076 717zm-37 0z"/><path class="k5" d="M1170 717zm-60-1zm-76 0z"/><path class="k6" d="M1173 717zm-134-2z"/><path class="k4" d="M1369 717zm-35 0z"/><path class="k5" d="M1191 717zm-151-3z"/><path class="k3" d="M1521 715zm-175 1zm-168 0z"/><path class="k2" d="M1399 716zm-70 0z"/><path class="k6" d="M1227 716zm-6 0z"/><path class="k5" d="M1238 715zm-6-1zm-74 2z"/><path class="k4" d="M1432 715zm-12 1zm-75 0zm-181-1z"/><path class="k3" d="M1335 715z"/><path class="k2" d="M1466 715zm-48 0z"/><path class="k3" d="M1436 714zm-22 0zm-24 1z"/><path class="k1" d="M1514 712zm-23 3z"/><path class="k7" d="M1191 714zm-138-1z"/><path class="k3" d="M1455 714zm-235 0z"/><path class="k5" d="M1171 714zm-133-1z"/><path class="k4" d="M1341 713zm-91 0zm-98 0z"/><path class="k2" d="M1516 712zm-62 1zm-33 0zm-37-1zm-103 0z"/><path class="k7" d="M1207 713zm-158-3zm-11 1z"/><path class="k3" d="M1467 713zm-23-1zm-109 1zm-1-1zm-61-2z"/><path class="k6" d="M1131 712z"/><path class="k2" d="M1348 712zm-12 0z"/><path class="k3" d="M1336 711zm-187 0z"/><path class="k1" d="M1478 709zm-6 2zm-16-4z"/><path class="k4" d="M1339 711zm-259-1z"/><path class="k2" d="M1371 711zm-204-1z"/><path class="k5" d="M1275 706zm-79 4zm-91-2zm-55 1zm-11 0zm-5-3zm-1 4zm0-1z"/><path class="k1" d="M1364 710z"/><path class="k3" d="M1457 706zm-123 4zm-181-1z"/><path class="k4" d="M1456 706zm-1 0zm-114 4z"/><path class="k3" d="M1484 705zm-18 0zm-94 5zm-37 0zm-2 0z"/><path class="k6" d="M1220 710zm-38-1z"/><path class="k5" d="M1208 709zm-35 0zm-30 0z"/><path class="k4" d="M1363 709zm-197 0zm-14-1z"/><path class="k2" d="M1342 708zm0 0zm-1 0zm-98-2z"/><path class="k7" d="M1154 708zm-114-3z"/><path class="k6" d="M1173 708zm-135-4z"/><path class="k5" d="M1147 707zm-109-5z"/><path class="k4" d="M1334 707zm-144 0z"/><path class="k3" d="M1153 707z"/><path class="k4" d="M1166 707z"/><path class="k2" d="M1371 707zm-38 0z"/><path class="k1" d="M1498 704zm-156 3z"/><path class="k3" d="M1165 706zm-6 0z"/><path class="k4" d="M1146 706zm-24 0z"/><path class="k2" d="M1540 704zm-24-1zm0 0zm-177 3zm-6 0z"/><path class="k3" d="M1509 703zm-35 0zm-122 3zm-12 0zm-254 0z"/><path class="k5" d="M1158 705zm-64 1z"/><path class="k4" d="M1357 705z"/><path class="k7" d="M1207 705z"/><path class="k6" d="M1303 704zm-150 1zm-28-1z"/><path class="k2" d="M1540 701zm-78 1zm-80 3z"/><path class="k3" d="M1532 700zm-91 1zm-222 3z"/><path class="k2" d="M1237 704z"/><path class="k4" d="M1575 701zm-102 0zm-49-1zm-82 4zm-8 0zm-156 0zm-74 0z"/><path class="k5" d="M1203 704zm-32 0zm-53-1z"/><path class="k6" d="M1245 704z"/><path class="k7" d="M1173 704z"/><path class="k2" d="M1606 697zm-151 3zm-116 4z"/><path class="k5" d="M1215 703z"/><path class="k6" d="M1171 703zm-18 0zm-19 0z"/><path class="k4" d="M1432 698zm-350 5z"/><path class="k3" d="M1593 689zm-10 0zm-243 14z"/><path class="k4" d="M1335 703z"/><path class="k5" d="M1161 703zm-122 0z"/><path class="k2" d="M1371 702zm-11-1z"/><path class="k6" d="M1183 702zm-30 0z"/><path class="k7" d="M1044 701zm-3 1z"/><path class="k5" d="M1197 701zm-73 1zm-74-1z"/><path class="k6" d="M1129 701z"/><path class="k5" d="M1171 701zm-48-1zm-34 0z"/><path class="k3" d="M1359 700zm-13 0zm-4-1zm-2 1z"/><path class="k7" d="M1231 700z"/><path class="k5" d="M1195 700z"/><path class="k7" d="M1173 699z"/><path class="k3" d="M1232 698zm-73 1z"/><path class="k5" d="M1167 699z"/><path class="k2" d="M1378 699zm-33 0z"/><path class="k4" d="M1419 698zm-86 1zm-180-1z"/><path class="k1" d="M1643 693zm-135 3zm-169 2zm-5 1z"/><path class="k3" d="M1617 690zm-155 7zm-24-2zm-268 3z"/><path class="k6" d="M1244 695zm-32 3zm-120 0z"/><path class="k2" d="M1519 690zm-58 5zm-320 3z"/><path class="k5" d="M1158 698z"/><path class="k7" d="M1122 697z"/><path class="k4" d="M1347 697zm-243 0z"/><path class="k3" d="M1474 694zm-315 3z"/><path class="k1" d="M1641 663zm2 4zm10 13zm-5 7zm-5-6zm-1 5zm-6 2zm-48-1zm-240 10z"/><path class="k2" d="M1516 691zm-18 3zm-151 2z"/><path class="k4" d="M1522 688zm-138 8zm-24 0z"/><path class="k5" d="M1197 696zm-42 0zm-32-2z"/><path class="k7" d="M1213 695zm-143 1z"/><path class="k2" d="M1520 686zm-150 9z"/><path class="k5" d="M1106 694zm-67 1zm-1 0zm-4-2zm-1 2z"/><path class="k4" d="M1377 695zm-147-1zm-65-1zm-30-1z"/><path class="k3" d="M1600 678zm-18 8zm-164 8zm-55 1z"/><path class="k2" d="M1583 672zm-171 21zm-46 2z"/><path class="k4" d="M1333 695z"/><path class="k2" d="M1347 694z"/><path class="k4" d="M1351 692zm-4 0zm-13 2z"/><path class="k6" d="M1038 693z"/><path class="k5" d="M1222 692zm-145 0zm-14 1zm-19 0zm-4-2z"/><path class="k3" d="M1454 693zm0 0z"/><path class="k6" d="M1219 692zm-29-1zm-79 1z"/><path class="k3" d="M1256 692z"/><path class="k1" d="M1634 673zm1-2zm6 3zm0-1zm-142 13zm-73 4zm-93 2z"/><path class="k4" d="M1347 691zm-6 1z"/><path class="k2" d="M1654 662zm-114 22zm-201 7z"/><path class="k4" d="M1353 690zm-19 1z"/><path class="k7" d="M1031 690z"/><path class="k3" d="M1459 686zm-102 4z"/><path class="k4" d="M1342 690zm-6-1z"/><path class="k2" d="M1399 689z"/><path class="k4" d="M1377 689z"/><path class="k5" d="M1245 689zm-62 0zm-10 0zm-56-1zm-35 1zm-36-2zm-12 0z"/><path class="k3" d="M1419 689zm-188 0zm-40 0zm-57-2z"/><path class="k2" d="M1405 689zm-52 0zm-19-1z"/><path class="k4" d="M1280 688z"/><path class="k3" d="M1340 688z"/><path class="k5" d="M1304 688zm-126 0z"/><path class="k3" d="M1345 688z"/><path class="k6" d="M1213 688z"/><path class="k4" d="M1360 688z"/><path class="k5" d="M1242 687zm-47 1z"/><path class="k2" d="M1370 687zm-35 0z"/><path class="k7" d="M1037 687z"/><path class="k6" d="M1191 687z"/><path class="k5" d="M1061 686zm-30 0z"/><path class="k1" d="M1522 679zm113-20zm0-5zm0-1zm14 0zm0-2zm3 2zm1 1zm1 3zm17-15zm1 16zm7-6zm0-10zm11 13zm1 4zm-217 27zm-134 0z"/><path class="k7" d="M1045 686z"/><path class="k4" d="M1351 686zm-156 0z"/><path class="k1" d="M1383 686z"/><path class="k2" d="M1462 684zm-7 1zm-114 1z"/><path class="k3" d="M1619 651zm-277 35zm-153-1z"/><path class="k4" d="M1426 684zm-25-1zm-67 2z"/><path class="k1" d="M1654 638zm-20 7zm7 4zm6-1zm6-3zm2-1zm-315 41z"/><path class="k5" d="M1177 685z"/><path class="k3" d="M1462 682zm-253 3z"/><path class="k5" d="M1208 684z"/><path class="k2" d="M1333 684zm-179 0z"/><path class="k4" d="M1442 682zm-96 2z"/><path class="k3" d="M1159 684z"/><path class="k6" d="M1064 683zm-21 1z"/><path class="k5" d="M1160 684zm-8-2zm-6 1zm-59-2zm-23 1zm-25 1zm-1-1zm0 0zm-6 0zm0-2z"/><path class="k7" d="M1251 683z"/><path class="k2" d="M1448 681zm-77 2z"/><path class="k4" d="M1342 683zm-115 0zm-30-2zm-39 0z"/><path class="k2" d="M1383 683zm-42-1zm-6 0z"/><path class="k3" d="M1154 679zm206 3zm-25 0zm-66 1zm-26 0z"/><path class="k5" d="M1268 682z"/><path class="k4" d="M1425 680zm-83 2zm-136 0zm0-2z"/><path class="k2" d="M1425 679zm-92 2z"/><path class="k4" d="M1456 677zm-111 4z"/><path class="k2" d="M1485 677zm-108 4z"/><path class="k4" d="M1407 675zm-65 5z"/><path class="k6" d="M1209 679zm-111 1z"/><path class="k5" d="M1214 679zm24-4zm-180 5z"/><path class="k3" d="M1335 679z"/><path class="k2" d="M1354 679z"/><path class="k7" d="M1082 679zm6-1zm167-3z"/><path class="k3" d="M1244 669zm89 10z"/><path class="k2" d="M1345 679z"/><path class="k4" d="M1171 678zm163 0zm24 1z"/><path class="k5" d="M1040 678zm131-1zm1 0z"/><path class="k2" d="M1335 678zm13 0z"/><path class="k7" d="M1077 678zm5-1zm108-2z"/><path class="k4" d="M1155 675zm190 2z"/><path class="k3" d="M1164 675zm178 2z"/><path class="k2" d="M1333 677z"/><path class="k1" d="M1492 677z"/><path class="k3" d="M1358 676z"/><path class="k5" d="M1051 676z"/><path class="k4" d="M1176 674zm158 2zm24 0z"/><path class="k2" d="M1340 675zm23 0zm92 0zm2-2zm10 3z"/><path class="k7" d="M1064 676zm102-2z"/><path class="k6" d="M1033 676zm19-3zm54 3zm139-8z"/><path class="k5" d="M1033 672zm49 0zm22 0zm1 4zm96-5z"/><path class="k4" d="M1153 673zm192 2zm15 0zm145 0z"/><path class="k3" d="M1382 675zm41-3zm74-4zm30 6z"/><path class="k2" d="M1333 674zm120-3zm97-4z"/><path class="k3" d="M1335 673zm5 1zm216-21z"/><path class="k4" d="M1348 673zm10 0zm36-2zm50-1z"/><path class="k3" d="M1335 673zm131-5z"/><path class="k5" d="M1158 672zm13 0z"/><path class="k2" d="M1342 672zm57-2zm183-20zm6-4z"/><path class="k3" d="M1340 672zm86-3zm181-24z"/><path class="k4" d="M1153 672zm192-1zm3 0zm144-4z"/><path class="k7" d="M1122 671z"/><path class="k2" d="M1341 671z"/><path class="k4" d="M1140 670zm194 1zm2 0z"/><path class="k6" d="M1033 671z"/><path class="k3" d="M1353 670zm127-3zm54 0z"/><path class="k5" d="M1038 670zm2-2zm42 0zm36 2zm16 0zm42 0zm117 0z"/><path class="k4" d="M1154 670zm4-1z"/><path class="k2" d="M1342 669zm40 0zm78-2z"/><path class="k5" d="M1111 669z"/><path class="k6" d="M1112 668zm47 1zm116 0z"/><path class="k3" d="M1251 665zm82 4z"/><path class="k2" d="M1342 668z"/><path class="k4" d="M1353 668zm120-3z"/><path class="k7" d="M1063 668zm55-1z"/><path class="k2" d="M1334 668zm163-5z"/><path class="k4" d="M1345 668z"/><path class="k5" d="M1038 667zm12-3zm19 2zm43 0zm1 1zm160-4z"/><path class="k1" d="M1642 639zm-270 28zm264-22zm0-4zm13 2z"/><path class="k4" d="M1155 666zm187 1z"/><path class="k3" d="M1342 667zm5 0zm66-2zm115-2zm5-2z"/><path class="k5" d="M1153 666z"/><path class="k2" d="M1640 636zm-299 30zm161-6z"/><path class="k3" d="M1172 666zm361-15z"/><path class="k4" d="M1366 666z"/><path class="k2" d="M1333 666z"/><path class="k4" d="M1340 665z"/><path class="k3" d="M1364 665zm35-1zm9 1z"/><path class="k5" d="M1178 665z"/><path class="k3" d="M1153 665z"/><path class="k5" d="M1182 665z"/><path class="k7" d="M1041 662zm28 2zm30 1z"/><path class="k4" d="M1335 664zm114 1z"/><path class="k3" d="M1161 664zm48-1z"/><path class="k1" d="M1678 632zm-16 2zm-3 1zm-10 0zm-13-1zm-62 5zm-205 24zm201-22z"/><path class="k2" d="M1634 632zm-277 31zm99-3zm10 0zm12 1z"/><path class="k5" d="M1129 662zm12 1zm13 0z"/><path class="k4" d="M1582 626zm-357 36zm108 1zm12 0z"/><path class="k6" d="M1093 662z"/><path class="k5" d="M1051 661z"/><path class="k7" d="M1137 661z"/><path class="k3" d="M1334 661zm30 0zm90-2z"/><path class="k5" d="M1100 661zm203 0z"/><path class="k4" d="M1176 659zm104 1zm65 1zm33-1z"/><path class="k6" d="M1046 660zm49-2z"/><path class="k1" d="M1668 621zm-2 6zm-23 1zm-1 2zm0-2zm-1-2zm-1 0zm-5 5zm-1-1zm-299 30z"/><path class="k2" d="M1641 620zm-290 39zm104-2z"/><path class="k3" d="M1243 659zm97 0zm13 0zm5 0z"/><path class="k4" d="M1238 659zm132 0zm80-2z"/><path class="k6" d="M1251 659z"/><path class="k2" d="M1345 659z"/><path class="k5" d="M1050 658zm45-1zm3-6zm2-4zm16 10zm43 0zm5-1z"/><path class="k3" d="M1288 654zm63 4z"/><path class="k4" d="M1219 656zm117 2z"/><path class="k2" d="M1167 656zm166 2zm61 0z"/><path class="k7" d="M1051 658zm1 0zm149-3zm44-2z"/><path class="k3" d="M1399 658z"/><path class="k4" d="M1160 655zm173 2zm30 0zm13 0zm6 1z"/><path class="k5" d="M1032 656zm0-7zm19 2zm5 5zm0-5zm31 6zm1-13zm4 10zm105-1zm30-1z"/><path class="k1" d="M1635 618zm-167 39z"/><path class="k2" d="M1635 615zm-300 41z"/><path class="k3" d="M1370 656z"/><path class="k4" d="M1388 654zm74 1z"/><path class="k1" d="M1660 612zm-12-1zm-7 2zm-1-2zm-6-2zm-180 46z"/><path class="k2" d="M1634 609zm-295 46zm116-4z"/><path class="k4" d="M1371 655z"/><path class="k3" d="M1340 655z"/><path class="k4" d="M1336 654zm5 0z"/><path class="k3" d="M1333 654zm6-1z"/><path class="k6" d="M1040 648zm125 5zm65-1z"/><path class="k4" d="M1351 653zm7 0z"/><path class="k5" d="M1038 648zm1 0zm137 5zm56-3zm1 0z"/><path class="k3" d="M1341 652zm25 0z"/><path class="k4" d="M1250 645zm146 7z"/><path class="k2" d="M1333 652z"/><path class="k4" d="M1352 652z"/><path class="k3" d="M1334 652zm102-1z"/><path class="k7" d="M1040 645zm15-2zm100 8zm114-7z"/><path class="k2" d="M1346 651z"/><path class="k4" d="M1334 651zm144-1z"/><path class="k5" d="M1281 637zm-159 13zm141-7z"/><path class="k4" d="M1226 639zm-71 11z"/><path class="k3" d="M1334 650zm120-1zm1 0z"/><path class="k4" d="M1335 650z"/><path class="k5" d="M1173 650z"/><path class="k2" d="M1346 650zm128-2z"/><path class="k1" d="M1637 597zm3-2zm1 4zm6-2zm13 9zm-5-2zm-2-1zm-5 1zm-2 4zm-3-2zm-1 1zm-1-7zm-6 7zm-1-3zm-264 45z"/><path class="k4" d="M1158 649zm307-2z"/><path class="k6" d="M1068 643zm81 5z"/><path class="k2" d="M1640 594zm-293 54zm34 0z"/><path class="k3" d="M1176 647zm177 1zm106-2zm1 0z"/><path class="k2" d="M1340 648zm42 0zm97-2zm19-1z"/><path class="k4" d="M1347 648zm145-3z"/><path class="k3" d="M1523 637zm-154 11z"/><path class="k4" d="M1334 646zm74 1z"/><path class="k3" d="M1346 646zm50 1z"/><path class="k4" d="M1414 646z"/><path class="k2" d="M1370 646zm32 0zm65-2z"/><path class="k5" d="M1043 640zm43 2zm32 4zm43-1z"/><path class="k4" d="M1153 645zm198 1zm67-1zm26-2z"/><path class="k2" d="M1352 645zm36-1z"/><path class="k3" d="M1179 644zm154 0zm103-1zm55 0zm12-2z"/><path class="k4" d="M1341 644zm19 0z"/><path class="k2" d="M1532 637zm-196 7z"/><path class="k3" d="M1534 631zm-12 3zm-182 9zm13 0z"/><path class="k4" d="M1574 627zm-234 16zm37 0z"/><path class="k3" d="M1580 625zm-240 18zm59-2z"/><path class="k4" d="M1334 639zm1 4zm4-1zm3-2zm79 0z"/><path class="k7" d="M1220 639zm-66 3z"/><path class="k5" d="M1122 640zm33 1zm9-1z"/><path class="k2" d="M1575 625zm-121 14z"/><path class="k7" d="M1173 639z"/><path class="k1" d="M1636 594zm0-10zm4 10zm2-3zm1 1zm0-7zm6 8zm5-3zm5-5zm9 8zm-256 46z"/><path class="k4" d="M1582 622zm-157 17zm-230-2zm-42 1z"/><path class="k2" d="M1708 593zm-265 46z"/><path class="k3" d="M1342 639z"/><path class="k4" d="M1462 638zm-7-2zm-6 1zm-20-3zm-64 5zm-18-2z"/><path class="k5" d="M1153 637z"/><path class="k2" d="M1474 631zm-140 6z"/><path class="k4" d="M1372 636zm-7 1zm-25 0z"/><path class="k6" d="M1239 636zm-105 1zm-66 0z"/><path class="k7" d="M1143 637z"/><path class="k2" d="M1358 636z"/><path class="k5" d="M1299 635zm-141-1zm-6 1zm-18 1zm-89 0zm-13-1z"/><path class="k7" d="M1100 635zm-25 1z"/><path class="k1" d="M1666 593zm6-2zm5-5zm14 2zm5-1zm43-3zm10 5zm-403 46z"/><path class="k4" d="M1346 632zm0-1zm-7 4zm-97 0z"/><path class="k2" d="M1716 578zm-495 57z"/><path class="k3" d="M1487 631zm-82 3zm-71-3z"/><path class="k2" d="M1491 630zm-79 4z"/><path class="k5" d="M1116 634zm-4 0zm-79-4z"/><path class="k6" d="M1255 630zm-3 2zm-9-4zm-17 5zm-43 0z"/><path class="k3" d="M1396 633zm0-1z"/><path class="k7" d="M1263 625zm-78 5zm-32 1zm-23 2zm-90-5zm-6 0z"/><path class="k6" d="M1152 630zm-52 2z"/><path class="k5" d="M1093 632zm-7-3z"/><path class="k4" d="M1394 630zm-7 0zm-10 1zm-36 0zm-229-3z"/><path class="k2" d="M1352 630z"/><path class="k3" d="M1369 630zm-179-1z"/><path class="k2" d="M1407 628zm-60 1z"/><path class="k4" d="M1400 627zm-60 2z"/><path class="k1" d="M1713 577zm3-2zm21 0zm-277 54z"/><path class="k3" d="M1456 629zm-6-1zm-105 1z"/><path class="k4" d="M1359 629z"/><path class="k7" d="M1094 628zm-50 1z"/><path class="k5" d="M1183 628zm-47-2zm-68 1z"/><path class="k3" d="M1214 628z"/><path class="k2" d="M1732 573zm-278 55zm-114 0z"/><path class="k3" d="M1333 628z"/><path class="k2" d="M1346 627z"/><path class="k4" d="M1388 627zm-48-1z"/><path class="k7" d="M1164 620zm-58 2zm-67 5zm-4 0z"/><path class="k5" d="M1212 626zm-166-10zm-8 7zm0 0zm-4-3zm-1 2zm-1 5zm0-6z"/><path class="k1" d="M1768 559zm-12 0zm-19-9zm-15 23zm28-4zm1-5zm6 4zm12 4zm-283 55z"/><path class="k2" d="M1477 626zm-124-1zm-11 0zm-2 0z"/><path class="k4" d="M1521 625zm-164-2zm-12 1zm0-3zm-12 2zm-221-3z"/><path class="k7" d="M1213 625z"/><path class="k3" d="M1521 625zm-37-1zm-29-1zm-2 0zm0-1zm-54 1zm-5 0zm-284-4z"/><path class="k4" d="M1562 616zm-205 5zm-138 2z"/><path class="k2" d="M1563 615zm-109 6zm-61 0z"/><path class="k5" d="M1256 621zm-43 0zm-60-3zm-53-5zm-24 4zm-6 1z"/><path class="k4" d="M1577 609zm-219 12zm-162-3z"/><path class="k3" d="M1461 620zm-127 0z"/><path class="k4" d="M1474 618zm-20 0zm-115 2z"/><path class="k2" d="M1497 611zm-115 9z"/><path class="k4" d="M1538 610zm-17 1zm-139 8zm-29 0zm-8 0zm-4 1z"/><path class="k3" d="M1426 618zm-85 1zm-6-1z"/><path class="k6" d="M1329 617zm-53 1zm-128-1zm-44-6z"/><path class="k2" d="M1522 610zm-61 7zm-5 1z"/><path class="k3" d="M1564 609zm-211 7zm-200-1z"/><path class="k4" d="M1388 616z"/><path class="k2" d="M1413 616z"/><path class="k3" d="M1357 616z"/><path class="k4" d="M1429 616zm-84 0zm-3-1zm-3 0zm-5 1zm0-1z"/><path class="k7" d="M1106 611zm-66 5z"/><path class="k2" d="M1472 610zm-12 3zm-70 2z"/><path class="k3" d="M1348 615z"/><path class="k5" d="M1218 614zm-48 0z"/><path class="k6" d="M1152 612zm-66-2zm-54 4z"/><path class="k4" d="M1413 614z"/><path class="k7" d="M1038 614z"/><path class="k6" d="M1045 614z"/><path class="k2" d="M1453 613zm-95 1z"/><path class="k3" d="M1462 609zm-73 5zm-54 0zm-110-2zm-11 0z"/><path class="k2" d="M1336 613z"/><path class="k3" d="M1340 613z"/><path class="k4" d="M1346 613z"/><path class="k3" d="M1369 611zm-28 1zm-6 0zm-1 0z"/><path class="k5" d="M1233 610zm-72-1zm-6 2zm0-1z"/><path class="k4" d="M1376 611zm-17-1z"/><path class="k3" d="M1341 610zm-7 0zm-65 0z"/><path class="k4" d="M1382 610z"/><path class="k7" d="M1069 610z"/><path class="k2" d="M1382 610z"/><path class="k1" d="M1514 610zm-29-2z"/><path class="k6" d="M1220 608zm-31 0zm-152 1z"/><path class="k4" d="M1383 609zm-146-3z"/><path class="k3" d="M1538 609zm-83-2zm-104 1z"/><path class="k2" d="M1535 606zm-133 1zm-9 1z"/><path class="k4" d="M1580 607zm-95-1zm-145 2z"/><path class="k5" d="M1293 608zm-37-8zm-78 5zm-98 3zm-35-1z"/><path class="k4" d="M1333 608zm-151-3z"/><path class="k3" d="M1453 603zm-11 0zm-103 4z"/><path class="k2" d="M1577 595zm-7 11zm-56-2zm-161 3z"/><path class="k4" d="M1358 607zm-18-1zm-1 0zm-5 0z"/><path class="k6" d="M1140 604zm-48 2zm-60-2z"/><path class="k2" d="M1378 606z"/><path class="k3" d="M1478 599zm68-10zm35 4zm-235 12z"/><path class="k2" d="M1387 604zm-48 0z"/><path class="k4" d="M1425 599zm43 0zm4 0zm93-11zm-244 16z"/><path class="k7" d="M1032 598zm12 0zm266 6zm-113-1zm-152 1zm-13-2z"/><path class="k1" d="M1381 604z"/><path class="k5" d="M1155 603z"/><path class="k3" d="M1347 603zm-176 0z"/><path class="k4" d="M1215 595zm192 6zm-55 1zm-1-1zm-198 0zm-65 1z"/><path class="k2" d="M1605 584zm-265 17z"/><path class="k5" d="M1161 601z"/><path class="k4" d="M1339 600z"/><path class="k2" d="M1333 600z"/><path class="k3" d="M1388 598zm-52 2z"/><path class="k2" d="M1297 599zm103-2zm12 1z"/><path class="k6" d="M1119 599z"/><path class="k4" d="M1339 599z"/><path class="k5" d="M1154 599zm113-6zm17 0z"/><path class="k2" d="M1333 598z"/><path class="k4" d="M1353 598z"/><path class="k3" d="M1172 598zm161-1zm1-3zm1 1zm11 2zm14 0zm95-1z"/><path class="k7" d="M1093 597z"/><path class="k5" d="M1058 597zm61-1zm39-1z"/><path class="k6" d="M1032 596zm132-2z"/><path class="k5" d="M1069 596zm131-2z"/><path class="k2" d="M1335 594zm4 0zm42 2z"/><path class="k4" d="M1190 593zm37-1zm199 3zm40 0z"/><path class="k2" d="M1444 595zm10-1zm2 1z"/><path class="k4" d="M1405 595z"/><path class="k7" d="M1034 595z"/><path class="k3" d="M1105 591zm115 1zm122 1zm117 1z"/><path class="k2" d="M1305 593zm120 1z"/><path class="k4" d="M1382 593zm50 0z"/><path class="k3" d="M1387 592zm75-1z"/><path class="k4" d="M1364 592z"/><path class="k6" d="M1159 592zm14-2zm60 1z"/><path class="k5" d="M1038 592zm1 0zm65-20zm1 16zm2-4zm17 6zm145-3zm1 1z"/><path class="k3" d="M1171 587zm6 0zm55-1zm103 5zm5-2zm2 2zm4 1zm0-2z"/><path class="k6" d="M1037 590z"/><path class="k1" d="M1485 590zm151-6z"/><path class="k7" d="M1038 589zm24-1zm156-2zm37-1zm20-1z"/><path class="k4" d="M1189 585zm150 4z"/><path class="k2" d="M1334 588zm67 0zm235-5z"/><path class="k5" d="M1045 587z"/><path class="k3" d="M1340 587zm6 0zm158-2z"/><path class="k4" d="M1370 587z"/><path class="k2" d="M1333 587zm128-2z"/><path class="k3" d="M1346 586zm54 0z"/><path class="k2" d="M1334 584zm8 2z"/><path class="k4" d="M1291 583zm56-4zm29 5zm116 1z"/><path class="k7" d="M1152 583zm74 1z"/><path class="k3" d="M1221 583zm169-1zm64 1z"/><path class="k5" d="M1214 582zm25-2zm16 2z"/><path class="k6" d="M1033 582zm5-2z"/><path class="k2" d="M1527 582z"/><path class="k4" d="M1353 582zm6-1z"/><path class="k1" d="M1401 581zm235 1zm1 0z"/><path class="k2" d="M1413 576zm199 4z"/><path class="k1" d="M1587 574zm56 6z"/><path class="k7" d="M1191 580z"/><path class="k3" d="M1340 578zm26 0zm124 2z"/><path class="k5" d="M1039 579zm137 0z"/><path class="k4" d="M1462 579zm9 0zm27 0zm65-5z"/><path class="k3" d="M1203 579zm312-4zm60-12z"/><path class="k7" d="M1033 576zm2 3zm9-3zm12 2z"/><path class="k2" d="M1583 553zm-9 0zm0-7zm-228 30zm37 1zm77 1zm0-2zm183 2z"/><path class="k1" d="M1642 578z"/><path class="k2" d="M1634 578z"/><path class="k4" d="M1189 577zm194-1zm6-1zm67-1z"/><path class="k1" d="M1635 575zm2-1zm3-1zm1 1zm8-1zm0 0zm11 4zm13-1z"/><path class="k6" d="M1039 575zm146 2z"/><path class="k5" d="M1178 573zm65 4z"/><path class="k3" d="M1339 575zm92-3z"/><path class="k4" d="M1333 575z"/><path class="k6" d="M1227 575z"/><path class="k5" d="M1201 574zm30 1z"/><path class="k2" d="M1333 574zm156-3zm147 0zm62 1z"/><path class="k4" d="M1171 573zm170-1zm16 0zm7 2z"/><path class="k7" d="M1046 573zm229-3z"/><path class="k5" d="M1171 572zm84-5z"/><path class="k2" d="M1383 571z"/><path class="k1" d="M1731 551zm-11 4zm-5 0zm-1-1zm-5 2zm-19 1zm-54 11zm1-2zm5 2zm31 3zm5-6zm25 0zm10 6zm0-5zm0-5zm1 4z"/><path class="k7" d="M1136 571z"/><path class="k4" d="M1222 566zm132 5z"/><path class="k5" d="M1153 571z"/><path class="k4" d="M1166 571z"/><path class="k2" d="M1348 570zm34 1zm260-6z"/><path class="k3" d="M1044 569zm404 2z"/><path class="k4" d="M1335 569zm22 0z"/><path class="k5" d="M1161 569zm5 0z"/><path class="k3" d="M1340 569z"/><path class="k7" d="M1044 569zm81-1z"/><path class="k5" d="M1039 567zm13 1zm45 0z"/><path class="k2" d="M1357 568z"/><path class="k1" d="M1661 557zm-18 2zm-1-1zm0-1zm-177 11zm170-6zm0-2zm17 1zm3 3zm9-1zm0-2z"/><path class="k3" d="M1376 568zm17-2zm79 0zm20 1z"/><path class="k4" d="M1183 567zm138 1zm24 0z"/><path class="k2" d="M1646 557zm-305 10zm70-2z"/><path class="k7" d="M1101 567zm52-1z"/><path class="k4" d="M1333 567z"/><path class="k6" d="M1243 559zm-211 8zm0-5z"/><path class="k2" d="M1341 566z"/><path class="k1" d="M1637 556zm-120 10z"/><path class="k4" d="M1340 565z"/><path class="k3" d="M1347 564zm10 0zm62 0z"/><path class="k5" d="M1040 561zm65 2zm55-1zm19 0zm15 2z"/><path class="k2" d="M1658 556zm-137 1zm-187 6zm165 0z"/><path class="k3" d="M1370 563z"/><path class="k2" d="M1396 562zm12 1z"/><path class="k6" d="M1099 562zm53-2zm2 1z"/><path class="k4" d="M1467 556zm-8 3zm-288 0zm-79 2zm249 1z"/><path class="k3" d="M1330 561z"/><path class="k2" d="M1487 555zm-152 6z"/><path class="k4" d="M1340 560zm7 0z"/><path class="k3" d="M1528 547zm-69 7zm-12 0zm-88 6z"/><path class="k6" d="M1111 559z"/><path class="k5" d="M1191 559zm-84-2z"/><path class="k4" d="M1511 544zm-44 8zm-127 6zm-115-8z"/><path class="k7" d="M1276 550zm-243 8z"/><path class="k3" d="M1273 549zm-121 8z"/><path class="k2" d="M1384 555zm-49 2z"/><path class="k4" d="M1160 557z"/><path class="k6" d="M1101 556z"/><path class="k5" d="M1071 556zm-38-1z"/><path class="k1" d="M1698 549zm-3 6zm-4-4zm-37 4zm-13 0zm0 0zm0-1zm-6 0z"/><path class="k3" d="M1420 554zm-30 0zm-49 1zm-8-1zm-205 1z"/><path class="k7" d="M1269 543zm-109 10zm-72-2zm-2 3z"/><path class="k4" d="M1430 551zm-90 2zm-6 0zm-1-1z"/><path class="k5" d="M1239 535zm-87 18zm-48-8z"/><path class="k2" d="M1647 552zm-187-1z"/><path class="k1" d="M1655 552zm-15 0zm-5 0z"/><path class="k3" d="M1377 551zm-37-2zm-6-1z"/><path class="k2" d="M1649 551zm-243-7zm-24 4z"/><path class="k1" d="M1689 551zm-16 0zm-6-1zm-15 1zm-4-4zm-2 4zm-6-4zm-3 0zm-3 4z"/><path class="k6" d="M1032 550zm0 0z"/><path class="k7" d="M1161 550z"/><path class="k4" d="M1593 543zm-113 5zm-17-3zm-130 2z"/><path class="k5" d="M1177 543zm-144 4z"/><path class="k2" d="M1649 546zm-6 0zm-176-6zm-6-3zm-127 9z"/><path class="k4" d="M1334 546z"/><path class="k1" d="M1679 545zm-36 0z"/><path class="k3" d="M1582 512zm-66 29zm-56-7zm-126 11z"/><path class="k4" d="M1588 505zm-247 39z"/><path class="k3" d="M1347 544z"/><path class="k2" d="M1593 502zm74 42zm-8 0zm-17 0zm-104-13zm-35 10zm-41-7z"/><path class="k7" d="M1032 544z"/><path class="k6" d="M1164 542zm-36 2zm-95-2z"/><path class="k5" d="M1154 540zm-37-3zm-18 7z"/><path class="k4" d="M1381 544zm0-1z"/><path class="k1" d="M1691 543zm-44 0zm-6 0z"/><path class="k2" d="M1728 543zm-87-1zm-221-9z"/><path class="k1" d="M1768 534zm-1 5zm-9-1zm-48-2zm-7-1zm0-1zm-5-1zm-1-1zm-1 1zm-5 8zm-2 1zm-5 0zm-12-3zm-1 1zm-5 2zm-13-2zm-3 0zm-2-2zm-6 4zm-2 0zm0-1zm-3-1zm0-2zm-2 4z"/><path class="k3" d="M1516 518zm12-8zm47-14zm18-2zm41 43zm-178-5zm-105 10zm-12 0z"/><path class="k4" d="M1347 541z"/><path class="k7" d="M1165 538zm-125 2zm-2 1z"/><path class="k5" d="M1050 539zm-6 1zm-5-5z"/><path class="k2" d="M1538 488zm231 45zm-295-2zm-115 9z"/><path class="k3" d="M1400 533zm-52 6z"/><path class="k4" d="M1454 531zm-119 6zm-141-1z"/><path class="k1" d="M1746 533zm-98 2zm0-1zm0-3zm-5 5zm-1-4zm0-2zm-5 1zm-1 1zm-1-2zm-1 5z"/><path class="k2" d="M1714 530zm-80 0zm-173 0zm-109 6z"/><path class="k3" d="M1346 535zm-5 0z"/><path class="k7" d="M1038 535z"/><path class="k5" d="M1203 533zm-135 1zm-35 1z"/><path class="k4" d="M1471 530zm-126 5z"/><path class="k3" d="M1457 528zm-80 5zm-36 1zm-133-3zm-8 0z"/><path class="k6" d="M1154 534zm-26-2zm-35-6z"/><path class="k7" d="M1039 534zm-4-1z"/><path class="k6" d="M1038 532z"/><path class="k4" d="M1454 528zm-59 2zm-49 2z"/><path class="k3" d="M1454 527zm-118 4z"/><path class="k4" d="M1342 531z"/><path class="k3" d="M1375 530zm-35 0z"/><path class="k4" d="M1336 529z"/><path class="k1" d="M1757 529zm-80 0zm-4 0zm-37-1z"/><path class="k5" d="M1045 519zm205 8zm-101 2z"/><path class="k3" d="M1353 529zm-68-4zm-5 1z"/><path class="k4" d="M1340 528zm-181 0z"/><path class="k3" d="M1359 528zm-6-2zm-7 1zm-4 1z"/><path class="k2" d="M1776 528zm-103 0zm-211-8zm-60 7z"/><path class="k6" d="M1173 528z"/><path class="k5" d="M1212 525zm-65-1zm-7 4z"/><path class="k1" d="M1798 509zm-16 16zm-14 3zm-25-1zm-34-1zm0-2zm-6 4zm-14 0zm-49 0z"/><path class="k2" d="M1756 525zm-55-3zm-46 4zm-2 1zm-1 0z"/><path class="k3" d="M1387 527z"/><path class="k4" d="M1455 520zm-120 6z"/><path class="k2" d="M1394 525zm-43 0z"/><path class="k1" d="M1746 524zm-91 1zm-12-3zm-1 3zm0-2z"/><path class="k5" d="M1299 525z"/><path class="k2" d="M1732 522zm-43-1zm-35 0zm-313 4zm-8 0z"/><path class="k7" d="M1034 518zm184 7zm-40-1z"/><path class="k4" d="M1231 524z"/><path class="k3" d="M1469 519zm-63 2zm-59 2zm-12 0zm-115-3z"/><path class="k5" d="M1044 511zm111 10zm-1 0zm-1 1zm-1 1z"/><path class="k4" d="M1226 519zm120 3z"/><path class="k3" d="M1388 521zm-37 0zm-6 1zm-181-2z"/><path class="k1" d="M1650 519zm53-1zm59 1zm-12 1zm-1 0zm-22 0zm-80 1zm-6 0z"/><path class="k4" d="M1341 516zm13-2zm4 1zm-24 5z"/><path class="k2" d="M1461 519zm180-1zm102-1z"/><path class="k6" d="M1099 518zm146-2z"/><path class="k5" d="M1063 509zm30 2zm37 7z"/><path class="k1" d="M1634 518zm3 0zm30-1zm35-1zm11-5zm3-2zm3 1zm44-2zm13 6z"/><path class="k4" d="M1158 516zm268 1z"/><path class="k3" d="M1282 516zm202 1zm14 0z"/><path class="k4" d="M1451 517zm15 0z"/><path class="k2" d="M1413 516zm222 0zm8 1z"/><path class="k5" d="M1291 516zm0-9z"/><path class="k1" d="M1635 514zm6 1zm1 0zm1-1z"/><path class="k7" d="M1067 508zm146 7z"/><path class="k4" d="M1384 515zm41 0z"/><path class="k3" d="M1218 514z"/><path class="k2" d="M1334 514zm122-3zm180 3z"/><path class="k4" d="M1335 514zm4-1zm103-2zm55-8z"/><path class="k1" d="M1659 513z"/><path class="k2" d="M1342 513zm300 0z"/><path class="k3" d="M1363 512zm90-3z"/><path class="k1" d="M1636 512zm7 0zm4 0zm8 0zm4 0zm2 0z"/><path class="k4" d="M1340 512z"/><path class="k5" d="M1034 507zm150 4zm47-6zm14 3zm0-7z"/><path class="k2" d="M1413 507zm222 4z"/><path class="k1" d="M1641 511zm21 0z"/><path class="k3" d="M1345 510zm60-4z"/><path class="k7" d="M1148 510z"/><path class="k2" d="M1641 510zm61-1z"/><path class="k4" d="M1351 510zm90-5z"/><path class="k1" d="M1636 509zm0 0zm4 0zm3-1zm5 1zm5 0zm9 0zm38-1zm2 1zm36 0z"/><path class="k3" d="M1334 509z"/><path class="k5" d="M1152 508zm37 0z"/><path class="k2" d="M1388 505zm78-7zm177 10zm9 0zm56-1z"/><path class="k1" d="M1636 507zm1-3zm4 2zm1 0zm0-2zm6 0zm12 3zm5 0zm39-1zm14 1z"/><path class="k4" d="M1136 506zm47-3zm152 2z"/><path class="k2" d="M1357 505zm284-2zm8 0zm5-1zm107 2z"/><path class="k3" d="M1195 503zm139 1zm5 0zm43 0z"/><path class="k6" d="M1088 504zm36 0z"/><path class="k4" d="M1122 501zm212 3z"/><path class="k5" d="M1051 503z"/><path class="k6" d="M1038 503zm50-3z"/><path class="k7" d="M1061 499zm33-1zm22-2zm66 7z"/><path class="k1" d="M1667 501zm16 1zm48-1zm12 0zm20-3zm12 5zm1-7z"/><path class="k5" d="M1040 497zm172 5z"/><path class="k3" d="M1345 502z"/><path class="k4" d="M1233 497zm106 5zm45-1z"/><path class="k2" d="M1402 501zm18 0zm223 0zm64-1z"/><path class="k1" d="M1644 501zm64-4z"/><path class="k2" d="M1641 501zm13-1zm71-3z"/><path class="k3" d="M1339 500zm114-3z"/><path class="k4" d="M1358 500zm6 0zm35-3z"/><path class="k1" d="M1634 494zm6-2zm2 4zm1 1zm5-5zm1 4zm4 4zm1-1zm19-6zm3 0zm15 1zm7 2zm18-2zm5 2zm30 0zm17 0z"/><path class="k3" d="M1347 500zm0-1z"/><path class="k7" d="M1189 499z"/><path class="k4" d="M1359 499z"/><path class="k3" d="M1341 498z"/><path class="k5" d="M1164 498zm67-9z"/><path class="k4" d="M1173 497zm186 1z"/><path class="k3" d="M1339 496zm1-1zm1 2z"/><path class="k6" d="M1058 496zm65 0z"/><path class="k5" d="M1040 493zm25 0zm3 2zm90 0zm8 0zm48-2z"/><path class="k4" d="M1297 495zm49-2z"/><path class="k6" d="M1046 478zm-6 7zm10 3zm1-3zm134 7zm94 2z"/><path class="k2" d="M1465 491zm26 2zm149-2zm135 3z"/><path class="k1" d="M1635 490zm2-1zm3 1zm3 1zm15-1zm2 0zm74 2zm23-1zm7-2zm23 2zm19-1z"/><path class="k3" d="M1333 491zm2 0zm5 0zm31 0z"/><path class="k4" d="M1171 491zm182-1zm126 0z"/><path class="k5" d="M1178 491zm10-2zm80 1zm35-1z"/><path class="k2" d="M1846 477zm-17-4zm-366 17zm257 0z"/><path class="k1" d="M1875 455zm0-8zm-59 23zm-138 20zm73-1z"/><path class="k2" d="M1829 469zm-176 20zm32-1zm22 2zm0-1z"/><path class="k3" d="M1141 487zm192 0zm51-2zm9-1zm86 4zm158 0z"/><path class="k2" d="M1480 488zm24 0zm133 0z"/><path class="k4" d="M1213 488zm158-4zm143 4z"/><path class="k6" d="M1273 487z"/><path class="k1" d="M1845 464zm-30 3zm-179 20zm6 0zm1 0zm0-1zm29 0zm18 0zm37 0z"/><path class="k2" d="M1365 482zm282 4zm92 0z"/><path class="k1" d="M1775 474zm-8 5zm-6 0zm-5 0zm-23-2zm-72 9zm70-2zm20-4zm5 4zm12-3zm2 4zm12 0z"/><path class="k7" d="M1038 477zm0-2zm56 10zm89-3z"/><path class="k2" d="M1659 485z"/><path class="k5" d="M1077 472zm35 12z"/><path class="k3" d="M1438 484zm47 0zm6-2zm14-1zm9 2z"/><path class="k1" d="M1641 483zm3 0zm32 1zm21-3z"/><path class="k2" d="M1460 473zm-47 2zm229 8zm2-1z"/><path class="k1" d="M1671 482z"/><path class="k3" d="M1417 470zm224 12z"/><path class="k2" d="M1653 481z"/><path class="k1" d="M1635 481zm2 0zm4 0z"/><path class="k6" d="M1183 476zm156 5z"/><path class="k4" d="M1517 478zm-176 1zm-62 2zm85-1z"/><path class="k2" d="M1492 475zm143 5z"/><path class="k1" d="M1673 479zm-18-1z"/><path class="k2" d="M1684 478zm-41-1z"/><path class="k3" d="M1521 470zm-174 8z"/><path class="k1" d="M1697 474zm-36 3zm-15 0z"/><path class="k4" d="M1333 477z"/><path class="k2" d="M1649 477zm-110-27zm-58 19z"/><path class="k1" d="M1680 476zm-1-1zm-13 0zm-7-1zm-11 1zm-1-1zm0 0zm-6 2zm-7 1z"/><path class="k3" d="M1517 432zm203 42zm-233-5zm-19-4zm-8 1zm-6-5zm-115 15z"/><path class="k4" d="M1565 443zm-106 17zm-120 15z"/><path class="k5" d="M1285 467zm-71 7z"/><path class="k3" d="M1357 473zm-21 1z"/><path class="k1" d="M1761 470zm-12 4z"/><path class="k2" d="M1792 466zm-29 3zm-68 4zm-59 0z"/><path class="k1" d="M1720 472zm-12-3zm-6 2zm-1 0zm-64 2z"/><path class="k4" d="M1341 473zm-68-8z"/><path class="k2" d="M1751 470zm-96 2zm-13 0zm-1 0zm-276 1z"/><path class="k7" d="M1173 473zm-134-4z"/><path class="k5" d="M1203 470zm-48 3zm-6-2z"/><path class="k1" d="M1781 466zm-71 3zm-51 2zm-22 1z"/><path class="k3" d="M1402 472z"/><path class="k2" d="M1787 465zm-17-1zm-115 6z"/><path class="k1" d="M1810 462zm-113 6zm-56 2z"/><path class="k4" d="M1375 470zm-9 0zm-33 0z"/><path class="k3" d="M1649 470z"/><path class="k1" d="M1655 469zm-8 1z"/><path class="k6" d="M1170 466zm-5 3zm-101-3zm-26 3z"/><path class="k2" d="M1818 461zm-104 5zm-78 3zm-230-2zm-12-3zm-34 5z"/><path class="k1" d="M1858 456zm-6-2zm-28 1zm-67 7zm-2-5zm-28 8zm-61 4zm-18 0z"/><path class="k3" d="M1441 453zm-99 15zm-9 1z"/><path class="k2" d="M1882 423zm-83 31zm-150 15zm-13-1zm-170-21zm-131 21z"/><path class="k1" d="M1883 422zm-216 46zm-12-1zm-5 0zm-7 1z"/><path class="k4" d="M1341 468zm-183-3z"/><path class="k2" d="M1665 466zm-24 0zm-6 0z"/><path class="k3" d="M1472 432zm-124 34zm-9-2z"/><path class="k1" d="M1684 464zm-42 1z"/><path class="k2" d="M1515 427zm133 37zm-309 0z"/><path class="k1" d="M1648 464z"/><path class="k2" d="M1685 464zm-43-1zm-7 1z"/><path class="k4" d="M1370 463zm-29-2zm-5 3zm-2-3z"/><path class="k5" d="M1116 463z"/><path class="k1" d="M1714 461zm-28 2zm-13-3zm-1 1zm-20 2zm-9-1zm-1 0zm-1 0z"/><path class="k7" d="M1227 459zm-37 3zm-159 1z"/><path class="k6" d="M1035 462z"/><path class="k7" d="M1044 461z"/><path class="k5" d="M1176 461z"/><path class="k3" d="M1406 460z"/><path class="k6" d="M1152 459zm-112 1zm0-8zm-3 4z"/><path class="k2" d="M1739 457zm-12 0zm-66 1zm-13 0zm-7 1zm-301 0zm-1 1z"/><path class="k3" d="M1335 459z"/><path class="k5" d="M1191 457zm-55 2zm-97-11z"/><path class="k4" d="M1387 455zm-40 1zm-8 2zm-5-2z"/><path class="k1" d="M1752 455zm-32 0zm-35 1zm-31 2zm-7-1z"/><path class="k6" d="M1191 457zm-80-3z"/><path class="k2" d="M1794 454zm-18 0zm-69-2zm-3 2zm-67 3zm-304-1z"/><path class="k3" d="M1643 455zm-266-1z"/><path class="k1" d="M1817 450zm-13-3zm-29 4zm-36-4zm-8 4zm-18-3zm-65 7z"/><path class="k2" d="M1792 443zm-42 2zm-91 9zm-17-1zm-294 1z"/><path class="k1" d="M1770 436zm4 3zm8-4zm29 5zm-17 0zm-37 3zm-30-2zm-29 5zm-7 4zm-14-1zm-30 4zm-7-1z"/><path class="k3" d="M1804 432zm-462 20z"/><path class="k4" d="M1371 452z"/><path class="k3" d="M1339 452z"/><path class="k5" d="M1213 446zm-16 5zm-45-9z"/><path class="k4" d="M1346 450zm-6 0z"/><path class="k7" d="M1087 450zm-49-8zm-6-1z"/><path class="k3" d="M1375 448zm-18 2z"/><path class="k2" d="M1637 449z"/><path class="k1" d="M1655 449z"/><path class="k2" d="M1642 449z"/><path class="k4" d="M1395 445zm-55 3z"/><path class="k5" d="M1104 448zm-22-3z"/><path class="k1" d="M1667 447z"/><path class="k3" d="M1334 447z"/><path class="k2" d="M1643 447z"/><path class="k1" d="M1643 447zm0-1z"/><path class="k4" d="M1335 447z"/><path class="k2" d="M1642 446zm-7 0z"/><path class="k1" d="M1635 445z"/><path class="k3" d="M1365 445zm-26 0z"/><path class="k2" d="M1636 445zm-1 0z"/><path class="k1" d="M1642 444z"/><path class="k2" d="M1671 444z"/><path class="k3" d="M1648 444z"/><path class="k2" d="M1680 444zm-9 0zm-36 0z"/><path class="k6" d="M1178 428zm31 8zm10 0zm181 8z"/><path class="k4" d="M1430 440zm-95 4z"/><path class="k1" d="M1703 442zm-36 2z"/><path class="k3" d="M1455 438zm-90 5zm-29 1z"/><path class="k2" d="M1456 431zm264 9zm-85 3zm-300 0z"/><path class="k7" d="M1062 443z"/><path class="k4" d="M1406 435zm49-5zm0-5zm-107 18z"/><path class="k1" d="M1641 443z"/><path class="k2" d="M1462 420zm192 22zm-294 0zm-19-1z"/><path class="k1" d="M1648 442z"/><path class="k2" d="M1689 440zm-30 1zm-6 0zm-18 0z"/><path class="k6" d="M1098 440z"/><path class="k4" d="M1333 439zm289 1z"/><path class="k1" d="M1690 439zm24-1zm-80 2z"/><path class="k2" d="M1586 439zm139-3zm-85 4z"/><path class="k3" d="M1335 439zm54-6zm103-32z"/><path class="k2" d="M1341 439z"/><path class="k1" d="M1635 439zm0 0zm6 0zm24-1zm36-3zm6 1zm49-9z"/><path class="k5" d="M1040 438zm46-13zm14 13zm61-17zm82 14z"/><path class="k4" d="M1334 437zm8 1zm59-6zm0-2z"/><path class="k2" d="M1654 438z"/><path class="k1" d="M1636 437zm1-2zm3 0zm1 1zm0-2zm1 3zm7-1zm12 0zm24-1zm12 0z"/><path class="k3" d="M1269 433zm73 3zm72-21z"/><path class="k2" d="M1688 434z"/><path class="k1" d="M1648 434zm56-2zm16-1zm2 2z"/><path class="k2" d="M1655 432zm54-5zm52 0z"/><path class="k1" d="M1640 431zm1 1zm15 0zm138-5z"/><path class="k4" d="M1348 432zm84-18z"/><path class="k2" d="M1636 431zm1-1zm4 0zm6-1zm7 0zm6 0zm97-5z"/><path class="k3" d="M1334 429zm5 1zm85-20z"/><path class="k7" d="M1038 430zm183-2z"/><path class="k1" d="M1636 428zm7 1zm22-1z"/><path class="k2" d="M1340 428zm1-2zm294 1z"/><path class="k4" d="M1213 427zm126-2zm2-2zm1 1zm18-1zm3 2z"/><path class="k1" d="M1640 427z"/><path class="k2" d="M1643 426z"/><path class="k3" d="M1214 424zm151-3zm307 5z"/><path class="k1" d="M1649 426zm23 0z"/><path class="k2" d="M1636 426zm43-1z"/><path class="k1" d="M1634 426zm63-1zm11-1z"/><path class="k2" d="M1636 426zm0-1zm5 0zm92-1z"/><path class="k6" d="M1037 425zm15-3zm34 2zm187-21z"/><path class="k1" d="M1642 424zm55-1zm61 0zm9-1zm6 1z"/><path class="k3" d="M1634 424z"/><path class="k1" d="M1642 423z"/><path class="k2" d="M1666 421zm32 1zm63-2z"/><path class="k1" d="M1654 420zm71 0zm66-4z"/><path class="k4" d="M1341 419zm293 1z"/><path class="k7" d="M1032 419zm61-5zm85 6z"/><path class="k2" d="M1666 419zm24 0zm5-2zm13 1zm29-2zm1-1zm83-6z"/><path class="k3" d="M1345 416zm15 3z"/><path class="k1" d="M1636 418zm138-4zm72-6z"/><path class="k2" d="M1881 397zm-240 21zm5 0zm26 0zm62-4zm54-1z"/><path class="k5" d="M1034 418zm187-1zm35-17z"/><path class="k1" d="M1642 415zm4 2zm12 0zm6-1zm130-9z"/><path class="k4" d="M1263 394zm-18 4zm-2-5zm91 22zm17 0zm0-4zm8 0zm6 2zm13 1zm18-5z"/><path class="k2" d="M1636 415zm6 0zm121-10z"/><path class="k1" d="M1649 414zm36-1zm78-9zm5-1z"/><path class="k2" d="M1641 413zm123-11zm29 0zm13 0z"/><path class="k3" d="M1333 409zm14 1zm23-1zm278 4z"/><path class="k2" d="M1673 412z"/><path class="k1" d="M1635 412zm5 0zm37 0zm133-12z"/><path class="k2" d="M1836 395zm-195 17zm66-1z"/><path class="k1" d="M1870 377zm-16 10zm-205 25z"/><path class="k2" d="M1636 411zm16 0zm19 0z"/><path class="k1" d="M1636 409zm7 1zm6-1zm5 1zm30-1z"/><path class="k4" d="M1381 409z"/><path class="k3" d="M1341 409zm78-3z"/><path class="k2" d="M1359 409zm71-6zm207 6zm60-1zm18-2z"/><path class="k1" d="M1642 409z"/><path class="k4" d="M1345 409zm96-7zm3-1z"/><path class="k2" d="M1661 408z"/><path class="k3" d="M1462 398zm-12 0zm-85 10z"/><path class="k4" d="M1485 391zm-152 16zm0-2zm1 3zm0-1zm5-2zm6 3z"/><path class="k6" d="M1152 407z"/><path class="k1" d="M1658 407z"/><path class="k2" d="M1510 370zm174 36z"/><path class="k1" d="M1642 406zm37-1zm24-2z"/><path class="k3" d="M1520 333zm-179 72z"/><path class="k2" d="M1359 404zm276 1zm109-4z"/><path class="k1" d="M1756 396zm-24 0zm-91 8zm138-3z"/><path class="k2" d="M1787 393zm-6 2zm-5-1zm-140 10z"/><path class="k5" d="M1183 404z"/><path class="k1" d="M1818 388zm-177 15zm2 0z"/><path class="k2" d="M1636 403zm30 0z"/><path class="k4" d="M1395 396zm-53 4zm9 0zm1 3zm7-3z"/><path class="k1" d="M1637 402zm47 0z"/><path class="k6" d="M1171 402z"/><path class="k2" d="M1647 401zm30 0z"/><path class="k1" d="M1653 399zm-10 0zm-2 1zm6 0zm43 0zm18 1z"/><path class="k5" d="M1171 400z"/><path class="k3" d="M1425 396zm-79 2zm-7 0zm-6 1z"/><path class="k2" d="M1733 392zm-25 1zm-72 6z"/><path class="k1" d="M1750 390zm-89 9zm-20 0z"/><path class="k7" d="M1185 395zm-6-1zm-20 0zm-1 3zm-118-6z"/><path class="k4" d="M1437 395zm-6-6zm-17-5zm-74 13z"/><path class="k2" d="M1764 388zm-123 9zm-299-1z"/><path class="k3" d="M1642 396zm-188-13z"/><path class="k2" d="M1660 395zm-7 1zm-198-14z"/><path class="k1" d="M1786 387zm-137 7z"/><path class="k2" d="M1788 383zm-112 11z"/><path class="k4" d="M1455 373zm-23 2zm-84 18z"/><path class="k3" d="M1334 393z"/><path class="k6" d="M1159 392zm-121-9z"/><path class="k7" d="M1195 392zm-137-16z"/><path class="k1" d="M1829 375zm-110 15zm-77 2z"/><path class="k3" d="M1635 392z"/><path class="k2" d="M1863 374zm-150 14zm-76 3zm-183-19z"/><path class="k1" d="M1858 366zm-209 24zm-6 0zm-8 1z"/><path class="k4" d="M1455 370zm-101 20z"/><path class="k6" d="M1318 390zm-160-6zm-118-11zm-7 0z"/><path class="k2" d="M1878 359zm-24 6zm-163 25z"/><path class="k3" d="M1642 390zm-188-27zm-169 27z"/><path class="k2" d="M1683 388zm-12 2zm-34-2z"/><path class="k4" d="M1342 389zm-9 1zm-77-11z"/><path class="k2" d="M1347 389zm-14-1z"/><path class="k3" d="M1695 388z"/><path class="k1" d="M1877 352zm8 1zm-153 33zm-22 1zm-56 1z"/><path class="k2" d="M1876 351zm-103 34zm-24 1zm-53-1zm-35 2zm-18 1z"/><path class="k1" d="M1887 346zm2-5zm8 4zm-139 35zm-112 7zm-11 0z"/><path class="k4" d="M1360 385zm-21 1z"/><path class="k2" d="M1665 385zm-25 0zm-2 0z"/><path class="k1" d="M1684 385z"/><path class="k3" d="M1637 384zm-298-2z"/><path class="k1" d="M1677 384zm-18 0zm-24-1z"/><path class="k3" d="M1689 384z"/><path class="k5" d="M1483 362zm-319 22zm-118-13zm0 0z"/><path class="k1" d="M1660 384z"/><path class="k2" d="M1689 383zm-36-1z"/><path class="k6" d="M1038 351zm164 32z"/><path class="k4" d="M1345 377zm-10 4zm-183 2z"/><path class="k1" d="M1726 382z"/><path class="k2" d="M1708 382z"/><path class="k1" d="M1720 381zm-17-4zm-2 1zm-5 2zm-19 0z"/><path class="k2" d="M1751 380zm-104-1zm-6 1z"/><path class="k3" d="M1454 357zm20-11zm169 32zm-304-5z"/><path class="k1" d="M1761 378zm-34 0zm-17 0zm-2 0zm-55 0z"/><path class="k3" d="M1641 378z"/><path class="k1" d="M1660 378z"/><path class="k2" d="M1749 377zm-100 1z"/><path class="k1" d="M1779 377zm-60 0zm-9 0zm-63 0z"/><path class="k7" d="M1034 351zm3 0zm201 26z"/><path class="k3" d="M1638 377zm-3 0z"/><path class="k2" d="M1767 373zm-57 3zm-61 0zm-12 0z"/><path class="k1" d="M1726 372zm-22 2zm-63 2z"/><path class="k3" d="M1647 374z"/><path class="k2" d="M1758 372zm-99 2z"/><path class="k6" d="M1038 349zm169 17zm-85 8z"/><path class="k1" d="M1755 372zm-108 1z"/><path class="k2" d="M1788 369zm-132 4zm-2-1z"/><path class="k4" d="M1251 359zm175-4zm3 1zm-77 15zm-16-1zm-184 2z"/><path class="k1" d="M1821 363zm-27 5zm-13-2zm-13-1zm-83 6zm-45 0z"/><path class="k2" d="M1818 353zm17-1zm-73 12zm-11-3zm-96 10z"/><path class="k3" d="M1455 339zm194 32zm-289-2z"/><path class="k1" d="M1866 339zm-92 21zm-84 10zm-12 0z"/><path class="k6" d="M1148 370z"/><path class="k2" d="M1454 331zm157 39z"/><path class="k1" d="M1649 369zm-3 0zm-4-1z"/><path class="k4" d="M1345 369z"/><path class="k5" d="M1334 369z"/><path class="k4" d="M1341 368zm-7 0z"/><path class="k3" d="M1461 327zm-115 41z"/><path class="k2" d="M1647 367z"/><path class="k4" d="M1438 326zm19-2zm-121 43zm-1-1z"/><path class="k1" d="M1643 367zm-2 0z"/><path class="k2" d="M1652 366z"/><path class="k1" d="M1668 366z"/><path class="k6" d="M1333 366z"/><path class="k2" d="M1672 365zm-12 0zm-11 0z"/><path class="k7" d="M1039 348zm1 1zm17-2zm61 9zm55 5zm-12 4zm-25-3z"/><path class="k1" d="M1636 365z"/><path class="k4" d="M1352 365z"/><path class="k3" d="M1495 316zm193 48zm-336-1z"/><path class="k2" d="M1679 364z"/><path class="k3" d="M1640 364z"/><path class="k1" d="M1649 364z"/><path class="k2" d="M1689 364z"/><path class="k3" d="M1704 364z"/><path class="k1" d="M1739 361zm-73 3z"/><path class="k2" d="M1775 359zm-122 4zm-13 0z"/><path class="k1" d="M1642 363zm-1-1z"/><path class="k4" d="M1390 361zm-51 2z"/><path class="k3" d="M1334 362z"/><path class="k2" d="M1671 362z"/><path class="k1" d="M1707 362zm-59 0z"/><path class="k5" d="M1436 312zm-391 32zm54 3zm261 13zm-21 2z"/><path class="k2" d="M1642 360zm-1 1zm0 0z"/><path class="k3" d="M1474 310zm254 51z"/><path class="k1" d="M1689 360zm-4 0zm-49 0z"/><path class="k2" d="M1647 359zm55 0zm55 1zm-37 0z"/><path class="k4" d="M1515 296zm-181 63zm6 0zm8 0z"/><path class="k1" d="M1659 359zm30-1zm0 0zm7 0zm32 0zm30-8z"/><path class="k2" d="M1551 287zm-161 66zm246 6zm49-2zm91-11zm6 2zm4 0z"/><path class="k1" d="M1641 358zm44-4zm34 2zm103-10zm6 0z"/><path class="k6" d="M1191 358zm149 0z"/><path class="k5" d="M1183 357zm32-6zm10 5z"/><path class="k2" d="M1341 357zm295-1zm96-8zm84-2zm0-1zm42-12z"/><path class="k3" d="M1339 356z"/><path class="k4" d="M1521 285zm-175 71z"/><path class="k1" d="M1640 354zm32 1zm115-12zm96-17zm5-5z"/><path class="k7" d="M1062 340zm96 11zm3 4z"/><path class="k2" d="M1649 353zm136-12z"/><path class="k1" d="M1637 351zm10 2zm13-1zm24-1zm120-10z"/><path class="k2" d="M1641 351zm60-3zm7 2zm84-9z"/><path class="k1" d="M1636 351zm17-1z"/><path class="k2" d="M1671 349zm18 1zm6-1z"/><path class="k3" d="M1539 279zm367 34zm-572 37z"/><path class="k6" d="M1153 349z"/><path class="k1" d="M1896 278zm10 12zm-13 6zm-4 15zm-252 37zm0-2zm3 0zm3 2zm3 0zm13-2zm73-1z"/><path class="k5" d="M1093 337zm260 11z"/><path class="k3" d="M1387 345zm250 1z"/><path class="k4" d="M1540 239zm-201 106zm0-4zm56 1z"/><path class="k1" d="M1661 345z"/><path class="k2" d="M1636 345zm42-1z"/><path class="k3" d="M1419 310zm242 33z"/><path class="k1" d="M1642 343z"/><path class="k4" d="M1678 343z"/><path class="k1" d="M1635 342zm1-2zm41 2z"/><path class="k6" d="M1340 340z"/><path class="k2" d="M1454 309zm-114 29zm307 2zm37 0zm10 0z"/><path class="k1" d="M1637 340zm3-1z"/><path class="k3" d="M1371 338zm351 2z"/><path class="k1" d="M1715 338zm1 2zm47-1z"/><path class="k2" d="M1649 339zm54-2z"/><path class="k1" d="M1637 338zm4 0zm97-2z"/><path class="k3" d="M1647 337zm73-7zm12 0zm55 7zm13 1z"/><path class="k5" d="M1298 338z"/><path class="k3" d="M1336 337z"/><path class="k2" d="M1335 335zm305 1zm3 1zm1-2z"/><path class="k3" d="M1335 335z"/><path class="k1" d="M1646 334zm62-7zm11 1zm38 2zm6-1zm54 3z"/><path class="k4" d="M1459 307zm-107 26zm1 0z"/><path class="k3" d="M1637 332zm138-3z"/><path class="k1" d="M1637 330zm5 1zm19 0zm103-6zm21 4z"/><path class="k2" d="M1469 301zm192 29zm46-3zm121 3z"/><path class="k5" d="M1333 330z"/><path class="k1" d="M1647 330zm6 0zm96-6zm39 3zm70 3z"/><path class="k2" d="M1637 329zm119-8zm80 8zm6-4z"/><path class="k1" d="M1637 326zm4 0zm1 3zm8-1zm12 1zm141-6zm36 2z"/><path class="k4" d="M1353 328z"/><path class="k3" d="M1453 291zm-105 36z"/><path class="k2" d="M1685 326zm107-4z"/><path class="k1" d="M1824 315zm-157 11z"/><path class="k5" d="M1340 326z"/><path class="k7" d="M1161 310zm-67 0zm-7 9zm-1 6z"/><path class="k4" d="M1448 275zm7 3zm6 1zm18 3zm-324 25zm193 18z"/><path class="k2" d="M1491 274zm332 32zm-181 19zm0 0z"/><path class="k1" d="M1654 325z"/><path class="k6" d="M1046 317zm294 7z"/><path class="k2" d="M1640 324zm43 0z"/><path class="k4" d="M1460 273zm-127 51z"/><path class="k1" d="M1635 323z"/><path class="k2" d="M1660 323zm5-1z"/><path class="k6" d="M1456 270zm-121 52z"/><path class="k3" d="M1641 322zm115-2z"/><path class="k4" d="M1465 267zm-123 54z"/><path class="k5" d="M1203 299zm-30 3zm168 19z"/><path class="k1" d="M1781 316zm-5 3zm-52-1zm-21 1zm-62 2z"/><path class="k2" d="M1823 306zm-186 13zm5 1zm7 0z"/><path class="k1" d="M1836 301zm0-13zm-8 2zm-7-9zm-4 5zm-180 33zm54 1z"/><path class="k3" d="M1442 249zm18 18zm409 8zm-149 43zm-345 2z"/><path class="k4" d="M1641 319z"/><path class="k3" d="M1640 319z"/><path class="k5" d="M1354 319z"/><path class="k2" d="M1762 313zm-119 5z"/><path class="k1" d="M1671 317z"/><path class="k2" d="M1708 315zm-73 2z"/><path class="k1" d="M1642 317z"/><path class="k3" d="M1637 317z"/><path class="k1" d="M1640 316z"/><path class="k2" d="M1660 315zm-18 1zm-5 0zm-3 0z"/><path class="k1" d="M1661 315z"/><path class="k2" d="M1643 315zm-7 0z"/><path class="k4" d="M1372 314z"/><path class="k1" d="M1638 314z"/><path class="k3" d="M1665 313zm-258-3z"/><path class="k2" d="M1647 312zm-6 1z"/><path class="k1" d="M1703 312zm-1-2zm-38 2z"/><path class="k3" d="M1719 309zm-77 2z"/><path class="k6" d="M1462 242zm-115 68z"/><path class="k7" d="M1213 296zm-5-7zm-60 5zm-25-7zm-59 22z"/><path class="k1" d="M1703 308zm-37 0z"/><path class="k2" d="M1692 306zm-39 2z"/><path class="k3" d="M1478 230zm259 74zm-102 3z"/><path class="k2" d="M1468 229zm-7-11zm206 89zm-25 0z"/><path class="k5" d="M1384 306zm-193-20zm-3-3zm-131 5z"/><path class="k1" d="M1755 300zm-19-4zm-90 10z"/><path class="k2" d="M1641 306z"/><path class="k3" d="M1454 215zm188 91zm-300-1z"/><path class="k1" d="M1643 305z"/><path class="k3" d="M1659 305zm-18-1z"/><path class="k6" d="M1339 304zm-263-19z"/><path class="k2" d="M1678 304z"/><path class="k1" d="M1707 302zm-5-1zm-36 3zm-4-1z"/><path class="k5" d="M1341 303z"/><path class="k4" d="M1461 206zm-113 96zm-15 1z"/><path class="k2" d="M1652 303zm-316-1z"/><path class="k3" d="M1462 204zm181 98zm-256-2z"/><path class="k2" d="M1654 301zm-11 0z"/><path class="k6" d="M1333 301z"/><path class="k3" d="M1660 301zm-312-1z"/><path class="k2" d="M1671 298zm-29 2zm-7 0z"/><path class="k1" d="M1691 296zm-13 2zm-13 0zm0-1z"/><path class="k2" d="M1642 296zm-5 1z"/><path class="k5" d="M1359 296zm-26 0z"/><path class="k4" d="M1727 296zm-387-7zm-1 1zm0-1zm-3 2z"/><path class="k3" d="M1634 296zm-299-8z"/><path class="k2" d="M1703 295zm-45 0zm-9 0z"/><path class="k1" d="M1643 294z"/><path class="k2" d="M1641 294z"/><path class="k1" d="M1672 293z"/><path class="k2" d="M1676 293z"/><path class="k1" d="M1660 293zm-25 0z"/><path class="k3" d="M1726 292zm-91 0z"/><path class="k2" d="M1647 292z"/><path class="k4" d="M1642 292z"/><path class="k3" d="M1649 291z"/><path class="k1" d="M1739 290zm-62-1zm-34 0z"/><path class="k2" d="M1653 289z"/><path class="k3" d="M1715 289z"/><path class="k1" d="M1689 289zm-16-1zm-29 0z"/><path class="k5" d="M1333 288z"/><path class="k2" d="M1740 287zm-92 0z"/><path class="k3" d="M1647 286zm-6 1z"/><path class="k1" d="M1770 287zm-45-1zm-82 0z"/><path class="k6" d="M1340 287z"/><path class="k3" d="M1635 286z"/><path class="k2" d="M1678 286z"/><path class="k1" d="M1701 285z"/><path class="k4" d="M1660 285zm-296 0z"/><path class="k1" d="M1647 284zm-6 1z"/><path class="k7" d="M1034 266zm16-14zm1 20zm31 7zm103-9zm-133 14z"/><path class="k3" d="M1739 283zm-90 1zm-297-2zm-18-1z"/><path class="k2" d="M1721 283z"/><path class="k4" d="M1769 283zm-410-3z"/><path class="k1" d="M1799 279zm-42 3zm-97 0zm-20-2z"/><path class="k2" d="M1822 269zm-124 13z"/><path class="k1" d="M1703 278zm37 0zm94-11zm-167 14zm-12 1z"/><path class="k3" d="M1342 278zm15 0z"/><path class="k2" d="M1640 278zm134-2zm73-9z"/><path class="k3" d="M1643 277zm10 0zm193-33z"/><path class="k1" d="M1876 217zm-235 58zm121 1zm2-1zm10 0z"/><path class="k4" d="M1334 274zm59-1z"/><path class="k3" d="M1641 272zm25 1zm17 0zm54-1z"/><path class="k6" d="M1224 264zm111 8zm1-1z"/><path class="k2" d="M1660 272zm59-1zm55 0zm49-29z"/><path class="k3" d="M1637 272z"/><path class="k2" d="M1653 271zm5 1z"/><path class="k1" d="M1719 271zm121-31z"/><path class="k3" d="M1643 270z"/><path class="k2" d="M1827 239zm-173 30zm53 1z"/><path class="k4" d="M1333 265zm1-2zm0-1zm7 5zm1-8zm34 10zm1-1z"/><path class="k3" d="M1389 264zm18-4zm254 9z"/><path class="k2" d="M1649 269z"/><path class="k1" d="M1634 265zm97 3z"/><path class="k3" d="M1707 262zm26 4z"/><path class="k2" d="M1637 265zm3 0z"/><path class="k3" d="M1637 264zm4-2z"/><path class="k1" d="M1774 263z"/><path class="k2" d="M1667 262z"/><path class="k3" d="M1641 261zm30 0zm29 0z"/><path class="k2" d="M1649 261z"/><path class="k4" d="M1346 260zm301 0zm110-2z"/><path class="k2" d="M1640 260z"/><path class="k3" d="M1636 259zm0 0z"/><path class="k1" d="M1680 259zm22-2zm62 0zm17 1z"/><path class="k6" d="M1335 258z"/><path class="k2" d="M1637 258zm6 0z"/><path class="k5" d="M1063 238zm95 13zm187 6zm49 0zm13-9z"/><path class="k3" d="M1417 220zm-222 30zm448 7zm73 0zm45-6z"/><path class="k2" d="M1799 239zm-159 18zm1-1zm2 1zm58-1z"/><path class="k4" d="M1346 256zm349 0z"/><path class="k5" d="M1454 201zm-119 55z"/><path class="k3" d="M1335 256zm302-1z"/><path class="k2" d="M1636 252zm7 3zm3-3zm3 2zm67 1z"/><path class="k4" d="M1696 253zm31-2z"/><path class="k3" d="M1641 251z"/><path class="k6" d="M1457 185zm29 6zm-134 60z"/><path class="k4" d="M1340 249zm7 1zm313 0z"/><path class="k3" d="M1456 175zm180 74zm67 0z"/><path class="k1" d="M1816 233zm-4 1zm-128 15z"/><path class="k7" d="M1046 221zm-9-4zm116 25zm49 7z"/><path class="k3" d="M1694 249z"/><path class="k2" d="M1643 249zm10 0zm86-5z"/><path class="k4" d="M1695 248z"/><path class="k1" d="M1640 247z"/><path class="k5" d="M1444 162zm-102 85z"/><path class="k3" d="M1333 246zm13 0zm303 0z"/><path class="k6" d="M1491 173zm-279 41zm-60-5zm-10 2zm-14 2zm-91-3zm297 36z"/><path class="k1" d="M1643 246z"/><path class="k2" d="M1653 246zm81-3z"/><path class="k3" d="M1196 209zm149 32zm13 0zm302 5z"/><path class="k1" d="M1750 239zm-73 5z"/><path class="k2" d="M1767 237zm-120 4zm44 2z"/><path class="k1" d="M1803 236zm-10-1zm-1 1zm-25 0zm-10 0zm-43 0zm-77 4z"/><path class="k2" d="M1649 240z"/><path class="k3" d="M1785 232zm-149 8z"/><path class="k1" d="M1655 240z"/><path class="k6" d="M1341 240z"/><path class="k3" d="M1641 239zm0 0z"/><path class="k1" d="M1637 238z"/><path class="k3" d="M1670 238z"/><path class="k4" d="M1370 238zm-28-2z"/><path class="k1" d="M1672 238z"/><path class="k3" d="M1648 237zm-11 0zm-297-2z"/><path class="k4" d="M1637 236z"/><path class="k2" d="M1768 231zm-58 4zm-68 1z"/><path class="k5" d="M1335 234zm-122-32z"/><path class="k3" d="M1810 229zm-10 0zm-45 0zm-33-1zm-1-1zm-86 7zm-1 0z"/><path class="k2" d="M1787 227zm-144 6z"/><path class="k3" d="M1792 226zm-121 7zm-25-1z"/><path class="k7" d="M1339 232zm-174-31zm-95 7z"/><path class="k2" d="M1824 224zm-170 8zm-8 0z"/><path class="k3" d="M1660 232z"/><path class="k4" d="M1153 193zm490 39zm-273 0z"/><path class="k2" d="M1673 230zm-5 1zm-26 0z"/><path class="k3" d="M1644 230zm-248-6zm0-3z"/><path class="k4" d="M1642 230z"/><path class="k2" d="M1641 229z"/><path class="k1" d="M1860 220zm-115 7zm-91 0z"/><path class="k3" d="M1883 216zm-205 10zm-12 1zm-7 0zm-10 0zm-1 0z"/><path class="k2" d="M1864 214zm-97 12z"/><path class="k1" d="M1775 226zm-17-2zm-63 2zm-55-1zm-3 1z"/><path class="k4" d="M1695 225zm-30-1z"/><path class="k3" d="M1875 211zm-130 11z"/><path class="k1" d="M1773 222z"/><path class="k2" d="M1666 222z"/><path class="k3" d="M1740 221zm-57 1zm-36 0z"/><path class="k6" d="M1154 191zm80-17zm108 48z"/><path class="k2" d="M1691 222z"/><path class="k3" d="M1654 220z"/><path class="k1" d="M1763 220zm-121 0z"/><path class="k4" d="M1359 219z"/><path class="k2" d="M1722 210zm-1 3zm-78 6z"/><path class="k3" d="M1774 218zm-387 0zm-52 0z"/><path class="k4" d="M1601 218zm-254-6zm-5 6zm-2-5z"/><path class="k1" d="M1642 218z"/><path class="k3" d="M1659 216z"/><path class="k1" d="M1637 216z"/><path class="k2" d="M1809 210zm-51-2zm-56 8z"/><path class="k3" d="M1641 216z"/><path class="k1" d="M1804 209zm-133 6z"/><path class="k3" d="M1659 211zm-17 3zm-2-2zm0 0z"/><path class="k6" d="M1339 212z"/><path class="k2" d="M1793 207zm-31 0zm-88 3zm-28 0z"/><path class="k5" d="M1182 185zm393 22zm-239 3zm0-1zm0-1z"/><path class="k3" d="M1588 167zm181 39zm-113 2zm-13-1zm-1 2zm-1 0zm-6-1zm-258-1z"/><path class="k1" d="M1823 205zm-66 0zm-117 1z"/><path class="k2" d="M1774 205zm-25-4zm-57 5z"/><path class="k4" d="M1823 200zm-162 6z"/><path class="k3" d="M1695 203zm-22 1zm-3 0zm-15-1zm-8 2zm-4-2zm-7 2z"/><path class="k5" d="M1557 137zm-163 66z"/><path class="k3" d="M1358 203z"/><path class="k6" d="M1342 202z"/><path class="k4" d="M1533 130zm-176 72z"/><path class="k3" d="M1345 202z"/><path class="k2" d="M1785 199zm-79 2zm-66 1z"/><path class="k3" d="M1641 201z"/><path class="k4" d="M1642 200z"/><path class="k2" d="M1661 200z"/><path class="k1" d="M1667 199zm72 0z"/><path class="k3" d="M1685 199zm72-1z"/><path class="k2" d="M1685 199z"/><path class="k3" d="M1649 198zm22 0z"/><path class="k1" d="M1655 197zm70-1z"/><path class="k4" d="M1647 197zm144-1z"/><path class="k1" d="M1653 197z"/><path class="k3" d="M1739 195zm89-2z"/><path class="k1" d="M1768 195zm74-3z"/><path class="k2" d="M1634 195zm76 0zm81-3zm81-26z"/><path class="k4" d="M1847 154zm-211 41z"/><path class="k5" d="M1371 195z"/><path class="k4" d="M1333 195z"/><path class="k3" d="M1677 195zm25-1z"/><path class="k2" d="M1636 190zm4 1zm1 3zm0-5zm5 4zm21-1zm24 0zm13-1z"/><path class="k1" d="M1776 192zm113-28z"/><path class="k7" d="M1118 191zm36-20z"/><path class="k3" d="M1703 190z"/><path class="k2" d="M1883 153zm-195 36zm28 0z"/><path class="k1" d="M1672 189z"/><path class="k3" d="M1881 144zm-238 45zm5 0zm41-1z"/><path class="k5" d="M1358 188z"/><path class="k4" d="M1365 187zm269 0zm63-1z"/><path class="k5" d="M1346 187z"/><path class="k2" d="M1685 185zm19 0z"/><path class="k6" d="M1188 167zm195 18z"/><path class="k4" d="M1399 182zm320 3z"/><path class="k5" d="M1345 183zm7 1z"/><path class="k3" d="M1636 183z"/><path class="k2" d="M1640 183z"/><path class="k3" d="M1652 183z"/><path class="k1" d="M1725 183z"/><path class="k6" d="M1347 183z"/><path class="k5" d="M1333 183z"/><path class="k4" d="M1649 182z"/><path class="k1" d="M1649 182zm3-1z"/><path class="k2" d="M1655 181zm88-1zm24 1z"/><path class="k3" d="M1667 181zm37-4zm84 3z"/><path class="k6" d="M1359 181z"/><path class="k4" d="M1394 175zm249 5z"/><path class="k3" d="M1667 180z"/><path class="k2" d="M1635 178zm127 0z"/><path class="k3" d="M1636 177zm7 0zm101 0zm13-1zm19-3zm4-3zm7 4z"/><path class="k5" d="M1334 177z"/><path class="k1" d="M1665 175z"/><path class="k3" d="M1636 174zm60 1zm0-1z"/><path class="k4" d="M1339 175z"/><path class="k2" d="M1661 174z"/><path class="k3" d="M1653 173z"/><path class="k2" d="M1634 173z"/><path class="k1" d="M1661 172z"/><path class="k3" d="M1635 172zm48 0z"/><path class="k2" d="M1641 172z"/><path class="k4" d="M1641 172zm56 0zm28-3z"/><path class="k6" d="M1348 172z"/><path class="k1" d="M1661 172zm77-3z"/><path class="k4" d="M1369 172z"/><path class="k2" d="M1641 172zm109-8z"/><path class="k6" d="M1339 171zm7-6z"/><path class="k3" d="M1643 171zm28 0z"/><path class="k1" d="M1641 170zm6 0z"/><path class="k3" d="M1653 169z"/><path class="k4" d="M1641 169z"/><path class="k2" d="M1642 168zm66 0z"/><path class="k3" d="M1696 167z"/><path class="k2" d="M1704 167zm6 0z"/><path class="k3" d="M1684 167z"/><path class="k5" d="M1334 163zm60 4z"/><path class="k4" d="M1395 163zm257 4z"/><path class="k2" d="M1720 166z"/><path class="k3" d="M1353 161zm323 4zm19-1zm7 2z"/><path class="k1" d="M1636 165z"/><path class="k2" d="M1641 164zm67 0zm29-2z"/><path class="k4" d="M1346 159zm-7 2zm302 2z"/><path class="k3" d="M1653 162zm31 0z"/><path class="k5" d="M1376 157zm61 5z"/><path class="k2" d="M1636 160zm1 2z"/><path class="k4" d="M1716 159zm-338-5zm-8-6z"/><path class="k1" d="M1755 159zm-52 0z"/><path class="k3" d="M1642 158z"/><path class="k2" d="M1640 157z"/><path class="k4" d="M1776 156zm-79-1zm-56 1z"/><path class="k2" d="M1755 153zm-118 2z"/><path class="k1" d="M1817 150zm-92 1zm-23 4z"/><path class="k3" d="M1641 155z"/><path class="k2" d="M1641 152z"/><path class="k3" d="M1635 152z"/><path class="k2" d="M1659 152zm-19 0z"/><path class="k7" d="M1153 150z"/><path class="k3" d="M1695 150z"/><path class="k4" d="M1809 150z"/><path class="k1" d="M1727 145zm-32 5z"/><path class="k2" d="M1798 148zm-61-5zm-58 5z"/><path class="k4" d="M1648 147z"/><path class="k6" d="M1444 147zm-266 0z"/><path class="k3" d="M1827 146zm-171 1z"/><path class="k2" d="M1835 139zm-162 8z"/><path class="k5" d="M1359 146zm-19-3z"/><path class="k1" d="M1750 139zm-95 6z"/><path class="k4" d="M1643 143zm-217-4z"/><path class="k2" d="M1757 139zm-72 4z"/><path class="k4" d="M1691 142z"/><path class="k1" d="M1688 142z"/><path class="k3" d="M1847 138zm-121 0zm-29 0zm-61 3zm-180-7zm-120 6z"/><path class="k4" d="M1767 137zm-113 3zm-8-1zm-192-8z"/><path class="k3" d="M1667 139zm-211-9z"/><path class="k1" d="M1785 136zm-124 2z"/><path class="k4" d="M1743 134zm-103 4z"/><path class="k5" d="M1341 138z"/><path class="k2" d="M1860 135zm-31-2zm-132 3zm-56 1z"/><path class="k3" d="M1732 132zm-375 3zm-10 0z"/><path class="k7" d="M1346 135z"/><path class="k5" d="M1348 134z"/><path class="k4" d="M1763 130zm-109 4zm-12-1zm-301-1zm-2 1zm-4-1z"/><path class="k2" d="M1792 128zm-36 0zm-86 5z"/><path class="k3" d="M1684 132z"/><path class="k6" d="M1375 132z"/><path class="k1" d="M1901 129zm-200 2z"/><path class="k4" d="M1896 122zm-73 5zm-181 4zm-6-1z"/><path class="k2" d="M1643 130z"/><path class="k3" d="M1824 127zm-116 3z"/><path class="k4" d="M1701 128zm-64 1z"/><path class="k7" d="M1333 129z"/><path class="k1" d="M1799 125zm-162 4z"/><path class="k2" d="M1725 125zm-82 3z"/><path class="k5" d="M1370 127zm-30 1z"/><path class="k4" d="M1666 127zm-5 1z"/><path class="k3" d="M1806 124zm-139 3z"/><path class="k6" d="M1408 127zm-73-2z"/><path class="k1" d="M1847 120zm-150 4zm-19 2z"/><path class="k4" d="M1665 124z"/><path class="k5" d="M1429 113zm-95 10z"/><path class="k2" d="M1727 122zm-50 0z"/><path class="k3" d="M1872 116zm-102 5z"/><path class="k2" d="M1731 121z"/><path class="k4" d="M1696 121z"/><path class="k3" d="M1738 120zm-60 0z"/><path class="k4" d="M1642 119zm113 1z"/><path class="k3" d="M1641 119zm111-1z"/><path class="k4" d="M1641 119z"/><path class="k1" d="M1685 117z"/><path class="k6" d="M1334 116z"/><path class="k3" d="M1690 116zm8 0z"/><path class="k4" d="M1673 116z"/><path class="k3" d="M1637 115z"/><path class="k5" d="M1358 113z"/><path class="k0" d="M851 1395z"/><path class="k1" d="M815 1389zm38 2z"/><path class="k0" d="M852 1389zm6 1zm6-1zm6 2z"/><path class="k2" d="M773 1389z"/><path class="k1" d="M798 1388zm54 0zm11 0zm1-1z"/><path class="k2" d="M802 1388z"/><path class="k1" d="M775 1388z"/><path class="k2" d="M766 1388z"/><path class="k3" d="M724 1388zm24 0z"/><path class="k2" d="M754 1388z"/><path class="k3" d="M743 1388zm18 0z"/><path class="k7" d="M700 1388z"/><path class="k3" d="M712 1388z"/><path class="k1" d="M757 1388zm23 0zm7 0zm12 0z"/><path class="k4" d="M727 1388z"/><path class="k5" d="M672 1388z"/><path class="k6" d="M642 1387zm42 1z"/><path class="k3" d="M736 1388z"/><path class="k2" d="M786 1387z"/><path class="k4" d="M720 1387z"/><path class="k1" d="M774 1387z"/><path class="k5" d="M640 1387z"/><path class="k6" d="M655 1387zm18 0zm16 0z"/><path class="k7" d="M624 1387z"/><path class="k5" d="M630 1387zm30 0z"/><path class="k7" d="M683 1387z"/><path class="k4" d="M712 1387z"/><path class="k6" d="M628 1387zm37 0z"/><path class="k4" d="M702 1387z"/><path class="k3" d="M695 1387zm61 0z"/><path class="k4" d="M707 1387zm62 0z"/><path class="k3" d="M763 1387z"/><path class="k1" d="M766 1387zm14 0z"/><path class="k7" d="M653 1387z"/><path class="k4" d="M751 1387z"/><path class="k2" d="M678 1387z"/><path class="k5" d="M649 1387z"/><path class="k3" d="M737 1387zm6 0z"/><path class="k1" d="M732 1387zm53 0z"/><path class="k3" d="M714 1387z"/><path class="k2" d="M707 1387zm72-1z"/><path class="k6" d="M611 1387z"/><path class="k2" d="M653 1386z"/><path class="k6" d="M611 1386zm1 0zm9 0zm25 0z"/><path class="k3" d="M685 1386zm45 0z"/><path class="k0" d="M853 1386zm12 0z"/><path class="k6" d="M658 1386zm12 0z"/><path class="k2" d="M769 1386z"/><path class="k4" d="M703 1386z"/><path class="k2" d="M694 1386z"/><path class="k3" d="M774 1386z"/><path class="k5" d="M682 1386zm63 0z"/><path class="k7" d="M627 1386z"/><path class="k3" d="M715 1386zm15 0z"/><path class="k6" d="M646 1386z"/><path class="k5" d="M635 1386zm43 0z"/><path class="k6" d="M622 1386z"/><path class="k7" d="M612 1386zm52 0z"/><path class="k1" d="M756 1386zm94-2zm1 1zm2-2zm1 2zm17-2z"/><path class="k2" d="M748 1386z"/><path class="k1" d="M762 1386z"/><path class="k6" d="M611 1385zm6 1zm1-1z"/><path class="k5" d="M672 1386z"/><path class="k2" d="M731 1386zm6-1zm54 1z"/><path class="k1" d="M751 1385zm17 0zm19 0z"/><path class="k6" d="M636 1385z"/><path class="k2" d="M768 1385zm5 0zm7 0zm19 0z"/><path class="k3" d="M706 1385z"/><path class="k5" d="M653 1385z"/><path class="k4" d="M721 1385zm41-1z"/><path class="k6" d="M612 1385zm4-1z"/><path class="k7" d="M667 1385zm10-1z"/><path class="k6" d="M630 1384z"/><path class="k5" d="M690 1384z"/><path class="k7" d="M682 1384z"/><path class="k3" d="M695 1384z"/><path class="k6" d="M701 1384zm12 0z"/><path class="k7" d="M659 1384z"/><path class="k4" d="M647 1384z"/><path class="k2" d="M751 1384z"/><path class="k4" d="M748 1384z"/><path class="k6" d="M623 1384zm12 0z"/><path class="k2" d="M736 1384zm39 0z"/><path class="k5" d="M670 1384z"/><path class="k3" d="M768 1384z"/><path class="k5" d="M730 1384z"/><path class="k3" d="M739 1384zm16 0z"/><path class="k2" d="M673 1384z"/><path class="k4" d="M761 1384z"/><path class="k3" d="M709 1384zm34 0z"/><path class="k5" d="M636 1384z"/><path class="k6" d="M612 1384zm4-1zm14 0zm4 0zm20 0z"/><path class="k1" d="M720 1383z"/><path class="k2" d="M791 1383zm5 0z"/><path class="k6" d="M702 1383z"/><path class="k7" d="M648 1383z"/><path class="k6" d="M621 1383zm49 0z"/><path class="k1" d="M774 1383zm29 0z"/><path class="k0" d="M889 1383z"/><path class="k1" d="M856 1383zm0-1zm1-1zm1 1zm1 0zm5 0z"/><path class="k7" d="M709 1383z"/><path class="k3" d="M676 1383zm2 0z"/><path class="k2" d="M763 1383z"/><path class="k4" d="M700 1383z"/><path class="k5" d="M684 1383z"/><path class="k3" d="M661 1383zm126 0z"/><path class="k2" d="M766 1383zm15 0z"/><path class="k4" d="M670 1383z"/><path class="k6" d="M694 1383z"/><path class="k3" d="M742 1383zm6 0z"/><path class="k2" d="M755 1383z"/><path class="k1" d="M769 1383z"/><path class="k4" d="M733 1383z"/><path class="k3" d="M780 1383z"/><path class="k5" d="M689 1383z"/><path class="k4" d="M792 1383z"/><path class="k3" d="M685 1383z"/><path class="k5" d="M646 1383zm7 0z"/><path class="k2" d="M809 1383z"/><path class="k1" d="M805 1383zm46-1zm0-1z"/><path class="k6" d="M647 1382z"/><path class="k7" d="M658 1382z"/><path class="k4" d="M679 1382zm28 0z"/><path class="k2" d="M786 1382z"/><path class="k5" d="M635 1382zm5 0zm25 0zm7 0z"/><path class="k7" d="M695 1382z"/><path class="k6" d="M617 1382zm101 0z"/><path class="k1" d="M797 1382zm1 0z"/><path class="k3" d="M709 1382zm27 0z"/><path class="k5" d="M630 1382zm55 0zm41 0z"/><path class="k3" d="M720 1382z"/><path class="k1" d="M751 1382zm16 0z"/><path class="k7" d="M634 1382z"/><path class="k6" d="M625 1382zm63 0z"/><path class="k5" d="M671 1382zm6 0z"/><path class="k3" d="M773 1382z"/><path class="k5" d="M749 1382z"/><path class="k4" d="M730 1382z"/><path class="k5" d="M742 1382z"/><path class="k2" d="M791 1382z"/><path class="k7" d="M613 1382z"/><path class="k1" d="M757 1382z"/><path class="k4" d="M706 1381zm8 0zm52 1z"/><path class="k6" d="M617 1381zm5 1z"/><path class="k3" d="M761 1381z"/><path class="k5" d="M640 1381z"/><path class="k7" d="M612 1381z"/><path class="k6" d="M615 1381z"/><path class="k1" d="M804 1381z"/><path class="k5" d="M658 1381z"/><path class="k7" d="M665 1381z"/><path class="k1" d="M685 1381z"/><path class="k4" d="M719 1381z"/><path class="k5" d="M652 1381z"/><path class="k7" d="M629 1381zm71 0z"/><path class="k6" d="M623 1381zm67 0z"/><path class="k7" d="M647 1381z"/><path class="k2" d="M774 1380z"/><path class="k5" d="M677 1380z"/><path class="k6" d="M618 1380zm52 0z"/><path class="k3" d="M779 1380z"/><path class="k2" d="M786 1380z"/><path class="k7" d="M616 1380z"/><path class="k0" d="M851 1380zm25 0z"/><path class="k6" d="M628 1380zm0 0zm6 0z"/><path class="k5" d="M679 1380z"/><path class="k4" d="M756 1380z"/><path class="k2" d="M763 1380z"/><path class="k4" d="M732 1380zm12 0z"/><path class="k3" d="M700 1380zm69 0z"/><path class="k1" d="M772 1380zm93 0z"/><path class="k0" d="M858 1380z"/><path class="k2" d="M762 1380zm34 0z"/><path class="k4" d="M739 1380z"/><path class="k3" d="M749 1380z"/><path class="k7" d="M714 1380z"/><path class="k3" d="M730 1380z"/><path class="k5" d="M712 1380z"/><path class="k1" d="M817 1380zm33 0zm0-2zm1 1zm1-2zm5 1zm8 1z"/><path class="k6" d="M636 1380z"/><path class="k4" d="M689 1380z"/><path class="k7" d="M612 1379zm89 1z"/><path class="k5" d="M659 1380z"/><path class="k2" d="M754 1379zm6 0zm27 0z"/><path class="k7" d="M666 1379z"/><path class="k6" d="M622 1379zm26 0zm40 0z"/><path class="k1" d="M774 1379zm30 0z"/><path class="k3" d="M707 1379z"/><path class="k5" d="M653 1379z"/><path class="k6" d="M624 1379zm4 0zm8 0zm35 0z"/><path class="k4" d="M709 1379z"/><path class="k2" d="M748 1379zm37 0z"/><path class="k6" d="M739 1379z"/><path class="k2" d="M768 1379z"/><path class="k1" d="M751 1379z"/><path class="k5" d="M672 1379z"/><path class="k3" d="M763 1379zm16 0z"/><path class="k6" d="M642 1379z"/><path class="k2" d="M733 1379z"/><path class="k5" d="M742 1379z"/><path class="k4" d="M730 1379z"/><path class="k3" d="M677 1379zm78 0z"/><path class="k0" d="M905 1379z"/><path class="k7" d="M616 1379zm25-1zm17 1z"/><path class="k3" d="M689 1378z"/><path class="k4" d="M708 1378z"/><path class="k7" d="M706 1378z"/><path class="k3" d="M696 1378zm6 0z"/><path class="k2" d="M793 1378z"/><path class="k5" d="M636 1378zm46 0zm12 0z"/><path class="k1" d="M808 1378zm12 0zm43 0zm2-1z"/><path class="k6" d="M622 1378zm0 0z"/><path class="k2" d="M792 1378zm11 0z"/><path class="k7" d="M648 1378z"/><path class="k4" d="M757 1378z"/><path class="k6" d="M630 1378z"/><path class="k5" d="M665 1378z"/><path class="k1" d="M736 1378zm104-1z"/><path class="k2" d="M761 1378z"/><path class="k6" d="M637 1378z"/><path class="k5" d="M661 1378z"/><path class="k6" d="M630 1378zm48 0z"/><path class="k5" d="M648 1378zm22 0zm6 0z"/><path class="k3" d="M744 1378zm40 0z"/><path class="k2" d="M678 1377zm95 1zm14 0z"/><path class="k3" d="M731 1378zm37 0z"/><path class="k2" d="M718 1378z"/><path class="k3" d="M749 1378z"/><path class="k4" d="M742 1378z"/><path class="k2" d="M780 1378z"/><path class="k3" d="M739 1377z"/><path class="k2" d="M701 1377zm7 0zm55 0z"/><path class="k1" d="M785 1377zm30 0zm2 0z"/><path class="k7" d="M684 1377z"/><path class="k3" d="M694 1377zm26 0zm10 0z"/><path class="k6" d="M647 1377zm14 0z"/><path class="k5" d="M654 1377z"/><path class="k6" d="M622 1377z"/><path class="k0" d="M864 1377z"/><path class="k7" d="M689 1377z"/><path class="k5" d="M649 1377z"/><path class="k6" d="M672 1377z"/><path class="k3" d="M636 1376z"/><path class="k7" d="M630 1376z"/><path class="k2" d="M773 1376z"/><path class="k6" d="M667 1376z"/><path class="k3" d="M737 1376z"/><path class="k5" d="M659 1376z"/><path class="k2" d="M779 1376z"/><path class="k4" d="M744 1376z"/><path class="k3" d="M672 1376zm58 0zm39 0z"/><path class="k2" d="M700 1376zm33 0z"/><path class="k4" d="M762 1376z"/><path class="k1" d="M796 1376zm8 0zm47 0zm7-1zm43-4zm4-1z"/><path class="k2" d="M736 1376zm88-1z"/><path class="k4" d="M750 1376zm6 0z"/><path class="k7" d="M622 1376z"/><path class="k5" d="M682 1376z"/><path class="k6" d="M625 1375zm12 0zm3 0zm8 0zm22 0z"/><path class="k2" d="M760 1375zm39 0z"/><path class="k7" d="M660 1375zm54 0z"/><path class="k5" d="M654 1375zm12 0zm40 0z"/><path class="k2" d="M712 1375zm33 0zm9 0z"/><path class="k5" d="M679 1375zm10 0z"/><path class="k1" d="M805 1375zm46 0zm9-1zm5 0z"/><path class="k2" d="M762 1375zm12 0zm11 0z"/><path class="k7" d="M631 1375zm71 0z"/><path class="k6" d="M712 1375z"/><path class="k7" d="M677 1375z"/><path class="k3" d="M755 1375z"/><path class="k2" d="M778 1375z"/><path class="k1" d="M790 1375zm21 0z"/><path class="k3" d="M744 1375z"/><path class="k4" d="M732 1375z"/><path class="k6" d="M655 1375z"/><path class="k3" d="M767 1375z"/><path class="k4" d="M738 1375z"/><path class="k1" d="M757 1375z"/><path class="k7" d="M618 1375z"/><path class="k2" d="M707 1374z"/><path class="k6" d="M630 1374z"/><path class="k4" d="M718 1374z"/><path class="k7" d="M616 1374zm54 0z"/><path class="k3" d="M700 1374zm91 0z"/><path class="k6" d="M653 1374zm83 0z"/><path class="k5" d="M641 1374z"/><path class="k4" d="M781 1374z"/><path class="k7" d="M683 1374z"/><path class="k5" d="M647 1374z"/><path class="k0" d="M851 1374z"/><path class="k1" d="M772 1374zm56 0zm25 0zm0-1zm4 0zm0-2zm2 1zm4-1zm2 2z"/><path class="k3" d="M762 1374z"/><path class="k2" d="M793 1374zm5 0z"/><path class="k4" d="M726 1374z"/><path class="k6" d="M660 1374z"/><path class="k7" d="M611 1374z"/><path class="k3" d="M731 1374zm14 0z"/><path class="k5" d="M671 1374z"/><path class="k6" d="M635 1374zm56 0z"/><path class="k4" d="M682 1374z"/><path class="k1" d="M802 1374z"/><path class="k2" d="M767 1374z"/><path class="k3" d="M779 1374z"/><path class="k7" d="M694 1374z"/><path class="k4" d="M755 1374z"/><path class="k3" d="M748 1374zm15 0z"/><path class="k6" d="M672 1374zm5 0zm20-1zm9 0zm14 0z"/><path class="k5" d="M641 1374zm89-2z"/><path class="k6" d="M624 1374z"/><path class="k7" d="M618 1374z"/><path class="k5" d="M647 1374z"/><path class="k2" d="M810 1373z"/><path class="k1" d="M851 1373zm0-2z"/><path class="k7" d="M618 1373z"/><path class="k5" d="M646 1373z"/><path class="k6" d="M630 1373zm4 0zm1 0zm0-1zm14 1zm4 0zm11 0zm0-1zm8 0zm12 0z"/><path class="k3" d="M805 1373zm46-2z"/><path class="k1" d="M792 1373zm11 0zm47-2z"/><path class="k2" d="M785 1373zm68-2z"/><path class="k3" d="M774 1372z"/><path class="k4" d="M749 1372zm13 0z"/><path class="k5" d="M679 1372z"/><path class="k3" d="M769 1372z"/><path class="k4" d="M737 1372zm44 0z"/><path class="k6" d="M689 1372z"/><path class="k5" d="M676 1372z"/><path class="k1" d="M791 1372zm60-2zm2 0zm0-1zm6 2zm0-1zm12 0z"/><path class="k3" d="M701 1372z"/><path class="k4" d="M712 1372zm3 0zm34 0z"/><path class="k7" d="M618 1372zm5 0zm19 0z"/><path class="k2" d="M760 1372z"/><path class="k4" d="M743 1372z"/><path class="k1" d="M784 1372zm19 0z"/><path class="k5" d="M690 1372z"/><path class="k6" d="M633 1372zm37 0zm7-1z"/><path class="k4" d="M725 1372z"/><path class="k7" d="M618 1371z"/><path class="k1" d="M731 1371z"/><path class="k6" d="M612 1370zm35 1zm8 0zm29 0z"/><path class="k3" d="M792 1371z"/><path class="k2" d="M787 1371z"/><path class="k4" d="M760 1371zm3 0z"/><path class="k5" d="M676 1371z"/><path class="k1" d="M799 1371z"/><path class="k7" d="M660 1371z"/><path class="k2" d="M779 1371z"/><path class="k4" d="M745 1371zm24 0z"/><path class="k6" d="M657 1371z"/><path class="k3" d="M732 1371z"/><path class="k4" d="M725 1371z"/><path class="k7" d="M676 1371z"/><path class="k3" d="M708 1371zm30 0zm12 0z"/><path class="k4" d="M761 1371z"/><path class="k2" d="M743 1371z"/><path class="k3" d="M773 1371z"/><path class="k2" d="M778 1371zm24-1zm2 0z"/><path class="k5" d="M748 1371z"/><path class="k6" d="M633 1371zm15 0zm11-1zm28 1zm14 0z"/><path class="k2" d="M730 1370zm55 0z"/><path class="k4" d="M646 1370z"/><path class="k6" d="M708 1370z"/><path class="k5" d="M671 1370z"/><path class="k6" d="M677 1370zm6 0zm5 0z"/><path class="k7" d="M635 1370z"/><path class="k4" d="M702 1370z"/><path class="k6" d="M633 1370zm10 0z"/><path class="k3" d="M750 1370zm29 0z"/><path class="k5" d="M658 1370zm8 0z"/><path class="k1" d="M731 1370z"/><path class="k3" d="M755 1370z"/><path class="k5" d="M733 1370z"/><path class="k4" d="M768 1370z"/><path class="k6" d="M739 1370z"/><path class="k1" d="M763 1370z"/><path class="k5" d="M784 1370z"/><path class="k1" d="M775 1370zm6 0z"/><path class="k2" d="M793 1370zm6-1z"/><path class="k3" d="M743 1370z"/><path class="k2" d="M736 1370zm19-1zm29 0z"/><path class="k7" d="M630 1369zm6 0zm17 0z"/><path class="k0" d="M865 1369z"/><path class="k5" d="M707 1369z"/><path class="k2" d="M701 1369z"/><path class="k1" d="M793 1368zm11 0zm50 0zm5 1zm18-1zm22 0z"/><path class="k6" d="M634 1368zm13 0zm12 1zm25 0zm6 0z"/><path class="k2" d="M707 1369zm122-1z"/><path class="k6" d="M665 1369z"/><path class="k4" d="M670 1368zm62 0z"/><path class="k5" d="M719 1368z"/><path class="k3" d="M779 1368z"/><path class="k1" d="M787 1368zm47 0zm17 0zm3 0zm4-1zm1 1z"/><path class="k2" d="M768 1368z"/><path class="k1" d="M809 1368z"/><path class="k6" d="M676 1368z"/><path class="k4" d="M756 1368z"/><path class="k3" d="M775 1368z"/><path class="k4" d="M761 1368z"/><path class="k2" d="M744 1368z"/><path class="k3" d="M750 1368zm24 0z"/><path class="k2" d="M754 1368z"/><path class="k7" d="M618 1368zm46 0zm20 0z"/><path class="k4" d="M737 1368z"/><path class="k3" d="M708 1368z"/><path class="k0" d="M912 1368z"/><path class="k6" d="M730 1368z"/><path class="k5" d="M706 1367z"/><path class="k6" d="M665 1367z"/><path class="k5" d="M652 1367z"/><path class="k7" d="M768 1367z"/><path class="k2" d="M810 1367z"/><path class="k4" d="M678 1367z"/><path class="k3" d="M750 1367z"/><path class="k6" d="M641 1367zm59 0z"/><path class="k4" d="M730 1367z"/><path class="k1" d="M775 1367z"/><path class="k2" d="M796 1367zm15 0z"/><path class="k1" d="M787 1367zm64 0zm3 0z"/><path class="k2" d="M803 1367z"/><path class="k7" d="M676 1367zm7 0z"/><path class="k3" d="M736 1367z"/><path class="k4" d="M769 1367z"/><path class="k2" d="M792 1367z"/><path class="k5" d="M671 1367zm71 0z"/><path class="k3" d="M779 1367zm44 0z"/><path class="k5" d="M745 1367zm11 0z"/><path class="k3" d="M781 1367z"/><path class="k6" d="M637 1366zm24 0zm16 1zm14 0z"/><path class="k1" d="M763 1367z"/><path class="k3" d="M725 1366zm74 0z"/><path class="k0" d="M876 1366z"/><path class="k4" d="M708 1366z"/><path class="k1" d="M852 1366zm48 0z"/><path class="k3" d="M730 1366zm80 0z"/><path class="k5" d="M670 1366zm9 0zm11 0zm40 0z"/><path class="k2" d="M822 1366zm1 0z"/><path class="k7" d="M611 1366zm12 0z"/><path class="k1" d="M792 1366zm62 0zm8 0z"/><path class="k2" d="M806 1366z"/><path class="k6" d="M642 1366zm12 0zm4 0zm19 0z"/><path class="k3" d="M756 1366z"/><path class="k6" d="M733 1366z"/><path class="k7" d="M628 1366zm21 0z"/><path class="k4" d="M766 1366z"/><path class="k3" d="M748 1366zm15 0z"/><path class="k2" d="M793 1366z"/><path class="k0" d="M876 1366z"/><path class="k3" d="M786 1366z"/><path class="k4" d="M756 1366z"/><path class="k2" d="M732 1366z"/><path class="k3" d="M779 1366z"/><path class="k1" d="M856 1366zm62-2z"/><path class="k5" d="M677 1366z"/><path class="k2" d="M737 1366zm114-1z"/><path class="k4" d="M742 1366zm2-1z"/><path class="k3" d="M688 1365zm85 0z"/><path class="k1" d="M863 1365zm31 0z"/><path class="k2" d="M799 1365zm5 0zm5 0zm7 0z"/><path class="k5" d="M654 1365z"/><path class="k6" d="M679 1365zm8 0z"/><path class="k5" d="M672 1365z"/><path class="k6" d="M646 1365z"/><path class="k5" d="M664 1365z"/><path class="k1" d="M858 1365z"/><path class="k3" d="M780 1365zm11 0z"/><path class="k6" d="M642 1365zm24-1z"/><path class="k1" d="M757 1364z"/><path class="k2" d="M797 1364zm60 0z"/><path class="k6" d="M775 1364z"/><path class="k7" d="M749 1364z"/><path class="k4" d="M761 1364z"/><path class="k1" d="M787 1364zm64 0zm19 0z"/><path class="k3" d="M732 1364z"/><path class="k5" d="M652 1364zm85 0z"/><path class="k4" d="M742 1364zm27 0z"/><path class="k1" d="M774 1364z"/><path class="k4" d="M745 1364z"/><path class="k6" d="M641 1364zm19-1zm12 0zm10 0zm1 0zm35 1z"/><path class="k2" d="M768 1364z"/><path class="k4" d="M730 1364zm69 0z"/><path class="k3" d="M817 1364z"/><path class="k2" d="M853 1364z"/><path class="k7" d="M610 1364zm126 0z"/><path class="k1" d="M797 1363zm54 0zm1 0zm11 1zm17 0z"/><path class="k6" d="M641 1363zm59 1z"/><path class="k5" d="M731 1364z"/><path class="k6" d="M689 1364z"/><path class="k0" d="M896 1363z"/><path class="k3" d="M754 1363zm7 0zm7 0zm23 0z"/><path class="k1" d="M853 1363zm0-1zm3 1zm3 0zm0-1zm1 1zm2 0zm6-3zm1 2zm0-1zm2 1zm1 0zm4 0zm7 1zm5 0zm13 0z"/><path class="k2" d="M784 1363z"/><path class="k3" d="M780 1363zm26 0z"/><path class="k1" d="M810 1363z"/><path class="k2" d="M763 1363z"/><path class="k3" d="M737 1363z"/><path class="k4" d="M732 1363z"/><path class="k3" d="M772 1363z"/><path class="k2" d="M775 1363z"/><path class="k4" d="M745 1363zm51 0z"/><path class="k3" d="M739 1363zm3 0zm6 0zm42 0z"/><path class="k5" d="M677 1363z"/><path class="k4" d="M679 1363zm52 0z"/><path class="k6" d="M640 1363zm66 0z"/><path class="k7" d="M617 1363z"/><path class="k5" d="M726 1362z"/><path class="k6" d="M654 1362z"/><path class="k2" d="M810 1362z"/><path class="k4" d="M785 1362z"/><path class="k2" d="M779 1362z"/><path class="k7" d="M640 1362zm75 0z"/><path class="k3" d="M748 1362z"/><path class="k5" d="M683 1362z"/><path class="k7" d="M665 1362z"/><path class="k6" d="M647 1362z"/><path class="k2" d="M791 1362z"/><path class="k7" d="M755 1362z"/><path class="k1" d="M821 1362zm31 0z"/><path class="k4" d="M689 1362zm77 0z"/><path class="k3" d="M797 1362z"/><path class="k4" d="M762 1362z"/><path class="k3" d="M743 1362zm61 0z"/><path class="k4" d="M792 1362z"/><path class="k3" d="M769 1362z"/><path class="k5" d="M623 1361zm115 1z"/><path class="k6" d="M669 1362z"/><path class="k2" d="M732 1362z"/><path class="k5" d="M666 1362zm7 0z"/><path class="k6" d="M678 1362z"/><path class="k7" d="M659 1361zm71 1z"/><path class="k3" d="M769 1362z"/><path class="k4" d="M755 1362zm19 0zm17 0z"/><path class="k2" d="M737 1362zm79-1z"/><path class="k0" d="M930 1361z"/><path class="k4" d="M726 1361z"/><path class="k5" d="M670 1361zm85 0z"/><path class="k2" d="M773 1361z"/><path class="k1" d="M850 1361zm7 0z"/><path class="k4" d="M768 1361zm31 0z"/><path class="k2" d="M814 1361zm39-1z"/><path class="k4" d="M780 1361z"/><path class="k6" d="M694 1360zm9 1zm27 0z"/><path class="k2" d="M750 1361zm36-1z"/><path class="k4" d="M760 1360z"/><path class="k1" d="M895 1358zm-91 2zm5 0zm48 0zm11 0zm6 0z"/><path class="k7" d="M664 1360z"/><path class="k3" d="M744 1360zm43 0z"/><path class="k5" d="M679 1360zm10 0z"/><path class="k4" d="M767 1360zm24 0z"/><path class="k7" d="M736 1360z"/><path class="k4" d="M732 1360z"/><path class="k6" d="M684 1360z"/><path class="k7" d="M660 1360z"/><path class="k3" d="M787 1360zm15 0zm13 0zm7 0z"/><path class="k2" d="M684 1360z"/><path class="k6" d="M648 1360zm60 0zm12 0z"/><path class="k1" d="M841 1360z"/><path class="k7" d="M691 1359zm-70 1z"/><path class="k2" d="M851 1359z"/><path class="k3" d="M762 1359z"/><path class="k4" d="M799 1359zm-20 0z"/><path class="k6" d="M696 1359zm-79-3z"/><path class="k4" d="M738 1359z"/><path class="k5" d="M671 1359z"/><path class="k6" d="M679 1359zm-25 0z"/><path class="k2" d="M731 1359z"/><path class="k7" d="M757 1359zm-93 0z"/><path class="k3" d="M748 1359z"/><path class="k2" d="M792 1359z"/><path class="k4" d="M787 1359zm-19 0z"/><path class="k1" d="M859 1359zm-2 0zm-4 0zm-2 0z"/><path class="k3" d="M791 1359z"/><path class="k5" d="M736 1359z"/><path class="k6" d="M659 1359z"/><path class="k4" d="M778 1359z"/><path class="k2" d="M848 1359zm-92 0z"/><path class="k4" d="M767 1359zm-23 0zm-6 0z"/><path class="k5" d="M683 1359z"/><path class="k6" d="M670 1359z"/><path class="k5" d="M688 1359z"/><path class="k1" d="M889 1358zm-18 0zm-7 0zm-13 0z"/><path class="k4" d="M715 1358z"/><path class="k5" d="M730 1358zm-47 0z"/><path class="k3" d="M784 1358zm-36 0z"/><path class="k7" d="M677 1358z"/><path class="k1" d="M821 1358z"/><path class="k2" d="M805 1358z"/><path class="k1" d="M839 1358z"/><path class="k4" d="M739 1358z"/><path class="k5" d="M671 1358z"/><path class="k2" d="M857 1358zm-120 0z"/><path class="k3" d="M781 1358z"/><path class="k1" d="M893 1357zm-5 0zm-6 1zm-14 0z"/><path class="k6" d="M682 1358zm-31 0z"/><path class="k2" d="M766 1358zm-6 0z"/><path class="k3" d="M798 1358z"/><path class="k4" d="M769 1358zm-21 0z"/><path class="k0" d="M938 1358z"/><path class="k2" d="M828 1358zm-35 0zm-18 0zm-45 0z"/><path class="k1" d="M913 1355zm-14 0zm-41 2zm-5 0zm-68 1z"/><path class="k2" d="M840 1357zm-72 1zm-14 0z"/><path class="k5" d="M761 1357zm-66 0zm-12 0z"/><path class="k1" d="M877 1356zm-13 0zm-7 0zm0 0zm-54 1z"/><path class="k6" d="M648 1357z"/><path class="k2" d="M799 1357zm-7 0z"/><path class="k3" d="M731 1357z"/><path class="k5" d="M743 1357z"/><path class="k1" d="M816 1356zm-90 1z"/><path class="k4" d="M754 1356zm-59 0z"/><path class="k2" d="M809 1356z"/><path class="k4" d="M785 1356z"/><path class="k6" d="M678 1356zm-12 0z"/><path class="k5" d="M774 1356zm-92 0z"/><path class="k6" d="M738 1356zm-68 0z"/><path class="k5" d="M736 1356z"/><path class="k1" d="M852 1356zm-1 0z"/><path class="k3" d="M768 1356z"/><path class="k2" d="M778 1356z"/><path class="k5" d="M748 1356z"/><path class="k2" d="M784 1356z"/><path class="k3" d="M761 1356z"/><path class="k2" d="M799 1356zm-8 0z"/><path class="k5" d="M757 1356z"/><path class="k7" d="M636 1356zm-24 0z"/><path class="k1" d="M829 1356zm-21 0z"/><path class="k4" d="M720 1356z"/><path class="k5" d="M731 1356z"/><path class="k2" d="M863 1355zm-11 0zm-1 0zm-10 0zm-129 1z"/><path class="k5" d="M695 1356z"/><path class="k6" d="M666 1355zm-6 1zm-8-1z"/><path class="k3" d="M793 1355zm-24 0z"/><path class="k5" d="M673 1355z"/><path class="k6" d="M682 1355zm-11 0z"/><path class="k2" d="M785 1355z"/><path class="k3" d="M799 1355zm-2 0zm-18 0zm-6 0zm-24 0z"/><path class="k2" d="M816 1355zm-72 0z"/><path class="k7" d="M713 1355z"/><path class="k1" d="M896 1353zm-6 0zm-128 2z"/><path class="k3" d="M805 1355zm-27 0zm-46 0z"/><path class="k2" d="M845 1355zm-35-1zm-80 1z"/><path class="k1" d="M878 1354zm-2 0zm-8-1zm-3 1zm0-1zm-7 1zm-7 0zm-90 1z"/><path class="k6" d="M682 1355z"/><path class="k5" d="M696 1355zm-25 0z"/><path class="k3" d="M754 1355z"/><path class="k0" d="M950 1355z"/><path class="k4" d="M718 1354z"/><path class="k6" d="M708 1354zm-44 0z"/><path class="k2" d="M877 1353zm-92 1zm-11 0z"/><path class="k7" d="M690 1354z"/><path class="k6" d="M683 1354zm-11 0zm-5 0zm-14 0z"/><path class="k3" d="M745 1354z"/><path class="k7" d="M773 1354z"/><path class="k5" d="M768 1354z"/><path class="k4" d="M756 1354zm-26 0z"/><path class="k1" d="M978 1345zm-4 0zm-49 4zm-8 2zm-145 3z"/><path class="k4" d="M799 1354zm-38 0z"/><path class="k7" d="M748 1354zm-60 0z"/><path class="k2" d="M793 1354z"/><path class="k7" d="M769 1354z"/><path class="k5" d="M738 1354z"/><path class="k4" d="M799 1354zm-54 0zm-13 0z"/><path class="k6" d="M677 1354z"/><path class="k7" d="M648 1353z"/><path class="k6" d="M683 1353zm-23 0z"/><path class="k5" d="M730 1353z"/><path class="k2" d="M818 1353zm-153 0z"/><path class="k3" d="M719 1353z"/><path class="k7" d="M696 1353zm-72-2z"/><path class="k4" d="M787 1353z"/><path class="k6" d="M670 1353z"/><path class="k2" d="M769 1353zm-37 0z"/><path class="k3" d="M818 1353z"/><path class="k7" d="M672 1353z"/><path class="k2" d="M858 1352zm-52 1zm-25 0z"/><path class="k3" d="M707 1353z"/><path class="k1" d="M851 1352zm-40 0zm-19 0z"/><path class="k4" d="M757 1352zm-14 0z"/><path class="k2" d="M835 1352z"/><path class="k5" d="M684 1352zm-12 0z"/><path class="k3" d="M838 1352z"/><path class="k4" d="M792 1352z"/><path class="k7" d="M737 1352z"/><path class="k1" d="M767 1352z"/><path class="k2" d="M851 1352zm-53 0z"/><path class="k4" d="M754 1352z"/><path class="k3" d="M763 1352zm-14 0z"/><path class="k4" d="M775 1352z"/><path class="k6" d="M694 1352z"/><path class="k2" d="M817 1352zm-18-1z"/><path class="k1" d="M872 1352z"/><path class="k7" d="M660 1352z"/><path class="k5" d="M706 1351z"/><path class="k2" d="M870 1351z"/><path class="k1" d="M912 1351z"/><path class="k4" d="M790 1351zm-16 0zm-43 0z"/><path class="k5" d="M786 1351z"/><path class="k3" d="M803 1351zm-47 0zm-20 0z"/><path class="k6" d="M691 1351zm-16 0z"/><path class="k2" d="M841 1351zm-27 0z"/><path class="k1" d="M866 1351z"/><path class="k3" d="M808 1351z"/><path class="k5" d="M749 1351zm-66 0z"/><path class="k2" d="M864 1351zm-126 0z"/><path class="k6" d="M671 1351z"/><path class="k4" d="M761 1351z"/><path class="k3" d="M823 1351z"/><path class="k2" d="M853 1351zm-97 0zm-8 0z"/><path class="k3" d="M743 1351z"/><path class="k1" d="M858 1351z"/><path class="k5" d="M772 1351zm-59 0z"/><path class="k4" d="M767 1351z"/><path class="k3" d="M763 1351zm-2-1z"/><path class="k6" d="M678 1351zm-2 0z"/><path class="k2" d="M862 1350zm-40 0zm-13 0zm-3 0zm-26 0z"/><path class="k5" d="M751 1350zm-79 0z"/><path class="k1" d="M899 1349zm-17 1zm-11 0zm-18 0z"/><path class="k6" d="M707 1350z"/><path class="k2" d="M851 1350z"/><path class="k5" d="M731 1350zm-59 0z"/><path class="k3" d="M775 1350z"/><path class="k4" d="M793 1350z"/><path class="k5" d="M768 1350z"/><path class="k3" d="M786 1350zm-43 0z"/><path class="k1" d="M865 1350z"/><path class="k4" d="M790 1350zm-52 0zm-5 0z"/><path class="k1" d="M827 1350z"/><path class="k7" d="M691 1350z"/><path class="k5" d="M755 1350z"/><path class="k3" d="M809 1350zm-4 0z"/><path class="k2" d="M799 1350zm-32 0z"/><path class="k1" d="M851 1350z"/><path class="k4" d="M733 1350z"/><path class="k2" d="M839 1349zm-17 0zm-11 0z"/><path class="k7" d="M713 1349z"/><path class="k6" d="M702 1349z"/><path class="k7" d="M670 1349z"/><path class="k6" d="M690 1349zm-17 0zm-14 0z"/><path class="k1" d="M881 1349zm-6 0zm-6-1z"/><path class="k5" d="M719 1349z"/><path class="k6" d="M738 1349zm-53 0zm-9-1z"/><path class="k5" d="M748 1349zm-64-1z"/><path class="k2" d="M737 1349z"/><path class="k6" d="M751 1349zm-81-1z"/><path class="k3" d="M817 1349zm-15-1z"/><path class="k5" d="M756 1348z"/><path class="k4" d="M760 1348z"/><path class="k2" d="M859 1348zm-79 0z"/><path class="k3" d="M811 1348zm-18 0zm-24 0z"/><path class="k2" d="M787 1348z"/><path class="k7" d="M730 1348zm-23 0zm-86-1z"/><path class="k1" d="M866 1348z"/><path class="k2" d="M853 1348zm-2 0z"/><path class="k3" d="M773 1348zm-11 0z"/><path class="k1" d="M857 1348zm-47 0z"/><path class="k3" d="M779 1348z"/><path class="k2" d="M876 1348zm-115 0zm-12 0z"/><path class="k1" d="M875 1348zm-10 0zm-24 0z"/><path class="k2" d="M913 1347zm-17 0zm-92 1z"/><path class="k3" d="M817 1348zm-6-1z"/><path class="k6" d="M732 1348z"/><path class="k7" d="M744 1348z"/><path class="k3" d="M779 1348z"/><path class="k2" d="M774 1347zm-44 1z"/><path class="k1" d="M851 1347zm-18 0z"/><path class="k5" d="M756 1347zm-24 0zm-25 0zm-24 0z"/><path class="k4" d="M822 1347z"/><path class="k3" d="M793 1347z"/><path class="k4" d="M785 1347zm-17 0z"/><path class="k6" d="M670 1347z"/><path class="k5" d="M799 1347zm-92-1zm-1 0zm-22 1zm-6 0z"/><path class="k1" d="M860 1347zm-8 0z"/><path class="k4" d="M763 1347z"/><path class="k3" d="M767 1347z"/><path class="k5" d="M756 1347zm-24 0z"/><path class="k3" d="M793 1347z"/><path class="k2" d="M851 1347zm-19 0zm-21-1z"/><path class="k1" d="M877 1347z"/><path class="k2" d="M906 1346z"/><path class="k6" d="M793 1346zm-55 0zm-49 0zm-13 0zm-6 0z"/><path class="k1" d="M931 1345zm-12-1zm-13 1zm-12 1zm-23 0z"/><path class="k3" d="M828 1346zm-83 0z"/><path class="k4" d="M817 1346z"/><path class="k3" d="M787 1346z"/><path class="k1" d="M869 1346z"/><path class="k6" d="M755 1346z"/><path class="k2" d="M859 1346zm-8 0zm-48 0z"/><path class="k3" d="M775 1346z"/><path class="k6" d="M733 1346z"/><path class="k4" d="M769 1346z"/><path class="k7" d="M684 1346z"/><path class="k5" d="M748 1346z"/><path class="k4" d="M731 1346z"/><path class="k6" d="M707 1346z"/><path class="k3" d="M762 1346z"/><path class="k5" d="M730 1345zm-52 1z"/><path class="k2" d="M805 1346zm-27 0z"/><path class="k1" d="M857 1346z"/><path class="k3" d="M780 1346z"/><path class="k2" d="M859 1346zm-6-1z"/><path class="k4" d="M790 1346zm-23-1z"/><path class="k1" d="M851 1345zm-23 0z"/><path class="k7" d="M649 1345z"/><path class="k6" d="M670 1345z"/><path class="k3" d="M798 1345zm-59 0z"/><path class="k2" d="M871 1345zm-5 0zm-54 0zm-3 0zm-18 0z"/><path class="k7" d="M689 1345z"/><path class="k3" d="M778 1345z"/><path class="k5" d="M682 1345z"/><path class="k6" d="M743 1344zm-13 0zm-52 0zm-2 0zm-11 0z"/><path class="k0" d="M974 1344z"/><path class="k1" d="M1011 1342zm-32 0zm-1 0zm-40 2zm-26 0zm-13 0zm-49 0z"/><path class="k2" d="M859 1344zm-33 0z"/><path class="k3" d="M766 1344z"/><path class="k2" d="M785 1344z"/><path class="k3" d="M755 1344z"/><path class="k7" d="M742 1344z"/><path class="k6" d="M749 1344z"/><path class="k2" d="M774 1344z"/><path class="k1" d="M871 1344zm-86 0z"/><path class="k3" d="M761 1344z"/><path class="k5" d="M731 1344z"/><path class="k2" d="M857 1344zm-6 0zm-54 0zm-40 0z"/><path class="k1" d="M895 1344zm-18-1zm-6 1zm-8 0zm-3 0zm-25 0z"/><path class="k4" d="M725 1344z"/><path class="k6" d="M732 1344z"/><path class="k4" d="M760 1344z"/><path class="k6" d="M800 1344z"/><path class="k7" d="M708 1344z"/><path class="k6" d="M671 1343zm-1 1z"/><path class="k3" d="M786 1343zm-11 0z"/><path class="k7" d="M690 1343z"/><path class="k4" d="M803 1343z"/><path class="k2" d="M835 1343z"/><path class="k3" d="M833 1343z"/><path class="k5" d="M810 1343zm-72 0z"/><path class="k6" d="M750 1343zm-62 0zm-4 0zm-1-1zm-4 0zm-6 1zm-2-1zm-1 0z"/><path class="k3" d="M822 1343z"/><path class="k0" d="M1050 1341zm-64-1zm-6-1zm-9 1zm-58 3z"/><path class="k2" d="M805 1343z"/><path class="k1" d="M1034 1341zm-54-7zm-7 1zm-1 1zm-1 2zm0-3zm0-2zm-40 4zm-5 5zm-12 0zm-3 0zm-47 1zm-83 0z"/><path class="k6" d="M755 1343z"/><path class="k3" d="M768 1343z"/><path class="k2" d="M857 1343zm-7 0z"/><path class="k7" d="M737 1343z"/><path class="k6" d="M774 1343zm-78 0z"/><path class="k3" d="M816 1343zm-24 0zm-11 0z"/><path class="k2" d="M852 1343z"/><path class="k1" d="M900 1343zm-13-1zm-11 1z"/><path class="k3" d="M834 1343z"/><path class="k1" d="M870 1342zm-46 0z"/><path class="k2" d="M790 1342z"/><path class="k3" d="M822 1342z"/><path class="k2" d="M780 1342z"/><path class="k4" d="M814 1342z"/><path class="k7" d="M725 1342z"/><path class="k6" d="M739 1342zm-55-1zm-2 1z"/><path class="k7" d="M730 1342z"/><path class="k3" d="M774 1342z"/><path class="k5" d="M804 1342z"/><path class="k6" d="M757 1342zm-67-1z"/><path class="k2" d="M853 1342zm-57 0z"/><path class="k5" d="M799 1342z"/><path class="k2" d="M820 1342zm-35 0z"/><path class="k6" d="M767 1342z"/><path class="k1" d="M876 1342zm-11 0z"/><path class="k5" d="M737 1342z"/><path class="k4" d="M774 1342z"/><path class="k2" d="M860 1342z"/><path class="k6" d="M760 1342z"/><path class="k2" d="M787 1342z"/><path class="k1" d="M894 1341zm-56 0zm-11 0z"/><path class="k5" d="M772 1341zm-24 0z"/><path class="k4" d="M812 1341zm-37 0z"/><path class="k2" d="M852 1341z"/><path class="k3" d="M719 1341z"/><path class="k4" d="M761 1341z"/><path class="k1" d="M888 1341z"/><path class="k2" d="M869 1341zm-17 0zm-116 0z"/><path class="k0" d="M1074 1336zm-10 4zm0-3zm-8 0zm-3-7zm-8 2zm-1 5zm-5 0zm-1-7zm0-1zm-4 7zm0-7zm-1 9zm-1 3zm0-5z"/><path class="k6" d="M792 1341z"/><path class="k2" d="M804 1340z"/><path class="k5" d="M750 1340z"/><path class="k1" d="M1034 1328zm-158 12z"/><path class="k6" d="M707 1340z"/><path class="k5" d="M725 1340z"/><path class="k4" d="M820 1340zm-82 0z"/><path class="k7" d="M775 1340zm-98 0z"/><path class="k2" d="M883 1340z"/><path class="k3" d="M809 1340zm-10 0z"/><path class="k1" d="M918 1338zm-1 0zm-53 2z"/><path class="k2" d="M851 1340zm-30 0z"/><path class="k6" d="M737 1340zm-7 0zm-47-1zm-6 0zm-7 1z"/><path class="k3" d="M785 1340z"/><path class="k2" d="M781 1340z"/><path class="k1" d="M860 1340z"/><path class="k4" d="M790 1340z"/><path class="k2" d="M857 1340z"/><path class="k4" d="M830 1340z"/><path class="k2" d="M815 1340z"/><path class="k1" d="M896 1340zm-9-1zm-6 1zm-12-1z"/><path class="k4" d="M792 1340z"/><path class="k3" d="M780 1340z"/><path class="k1" d="M832 1340z"/><path class="k5" d="M743 1340z"/><path class="k3" d="M754 1339z"/><path class="k2" d="M862 1339zm-41 0z"/><path class="k5" d="M749 1339z"/><path class="k3" d="M766 1339z"/><path class="k2" d="M737 1339z"/><path class="k4" d="M797 1339zm-22 0z"/><path class="k5" d="M733 1339z"/><path class="k3" d="M779 1339z"/><path class="k1" d="M877 1339zm-69 0z"/><path class="k6" d="M707 1339z"/><path class="k7" d="M730 1339z"/><path class="k3" d="M803 1339zm-5 0z"/><path class="k5" d="M670 1339z"/><path class="k6" d="M748 1339zm-71 0z"/><path class="k2" d="M854 1339z"/><path class="k3" d="M840 1339z"/><path class="k1" d="M852 1339z"/><path class="k2" d="M804 1339z"/><path class="k3" d="M858 1339zm-25 0zm-9 0z"/><path class="k7" d="M751 1339z"/><path class="k4" d="M731 1339z"/><path class="k2" d="M850 1338zm-3 1z"/><path class="k5" d="M708 1338zm-19 1z"/><path class="k1" d="M895 1339zm-1-1zm-16 0zm-3 0z"/><path class="k3" d="M784 1338z"/><path class="k7" d="M738 1338zm-80 0z"/><path class="k2" d="M817 1338zm-15 0z"/><path class="k3" d="M772 1338z"/><path class="k2" d="M775 1338z"/><path class="k7" d="M744 1338z"/><path class="k3" d="M749 1338z"/><path class="k6" d="M683 1337zm-1 1zm-6-1zm-1 0zm-3 1z"/><path class="k2" d="M786 1338z"/><path class="k1" d="M858 1338zm-49 0z"/><path class="k3" d="M763 1338z"/><path class="k2" d="M864 1338z"/><path class="k1" d="M851 1338z"/><path class="k2" d="M870 1338z"/><path class="k6" d="M751 1338z"/><path class="k3" d="M811 1338zm-19 0z"/><path class="k1" d="M901 1337zm-44 1z"/><path class="k4" d="M833 1338z"/><path class="k5" d="M796 1338z"/><path class="k2" d="M763 1338z"/><path class="k3" d="M853 1337z"/><path class="k4" d="M802 1337zm-33 0zm-13 0z"/><path class="k2" d="M869 1337zm-55 0zm-5 0z"/><path class="k3" d="M732 1337z"/><path class="k5" d="M778 1337zm-23 0zm-22 0z"/><path class="k4" d="M733 1337z"/><path class="k3" d="M797 1337z"/><path class="k1" d="M881 1337zm-15 0zm-1 0z"/><path class="k7" d="M736 1337z"/><path class="k3" d="M773 1337z"/><path class="k6" d="M749 1337z"/><path class="k3" d="M754 1337z"/><path class="k1" d="M791 1337z"/><path class="k2" d="M896 1336zm-8 0zm-30 0z"/><path class="k4" d="M786 1336zm-92 0z"/><path class="k1" d="M932 1336zm-45 0z"/><path class="k2" d="M877 1336zm-23 0zm-43 0z"/><path class="k4" d="M809 1336z"/><path class="k5" d="M750 1336zm-44 0zm-9 0z"/><path class="k1" d="M864 1336zm-7 0z"/><path class="k3" d="M852 1336zm-61 0z"/><path class="k6" d="M757 1336zm-73-1zm0-1zm-7 2z"/><path class="k2" d="M839 1335zm-18 1zm-5-1zm-25 0z"/><path class="k1" d="M876 1335zm-11 0z"/><path class="k3" d="M751 1335z"/><path class="k4" d="M779 1335z"/><path class="k2" d="M888 1335z"/><path class="k3" d="M811 1335zm-7 0z"/><path class="k1" d="M871 1335z"/><path class="k2" d="M859 1335zm-9 0z"/><path class="k5" d="M731 1335z"/><path class="k1" d="M876 1335z"/><path class="k7" d="M742 1335z"/><path class="k3" d="M883 1335zm-32 0z"/><path class="k5" d="M766 1335z"/><path class="k3" d="M798 1335z"/><path class="k2" d="M859 1335z"/><path class="k5" d="M816 1335zm-23 0z"/><path class="k4" d="M760 1335z"/><path class="k3" d="M821 1335zm-10 0z"/><path class="k2" d="M862 1335z"/><path class="k1" d="M912 1334zm-18 1z"/><path class="k5" d="M792 1334zm-54 0z"/><path class="k2" d="M884 1334z"/><path class="k6" d="M694 1334z"/><path class="k3" d="M757 1334z"/><path class="k4" d="M850 1334zm-29 0zm-52 0z"/><path class="k6" d="M730 1334zm-16 0z"/><path class="k2" d="M870 1334zm-43 0zm-23 0z"/><path class="k1" d="M920 1334zm-3 0zm-42 0zm-11 0z"/><path class="k7" d="M775 1334zm-19 0zm-24 0z"/><path class="k5" d="M749 1334z"/><path class="k2" d="M914 1333zm-127 1z"/><path class="k4" d="M817 1334z"/><path class="k3" d="M858 1334z"/><path class="k1" d="M775 1334z"/><path class="k2" d="M878 1334zm-27 0z"/><path class="k3" d="M785 1334z"/><path class="k4" d="M799 1333z"/><path class="k2" d="M815 1333z"/><path class="k3" d="M797 1333z"/><path class="k6" d="M689 1333z"/><path class="k1" d="M905 1333zm-23 0z"/><path class="k0" d="M1062 1317zm5 9zm-4-2zm-4-1zm-3 2zm-11 1zm-6 0zm0-1zm-65 8zm-1-1zm-1 0z"/><path class="k2" d="M851 1333z"/><path class="k1" d="M986 1326zm-7 1zm-5 4zm-1-4zm-2 4zm-77 2zm-23 0zm-6 0z"/><path class="k5" d="M786 1333zm-31 0zm-19 0z"/><path class="k4" d="M835 1333zm-42 0z"/><path class="k6" d="M744 1333z"/><path class="k7" d="M678 1333z"/><path class="k4" d="M779 1332z"/><path class="k3" d="M767 1332zm-10 0z"/><path class="k5" d="M763 1332z"/><path class="k1" d="M856 1332z"/><path class="k2" d="M980 1325zm-116 7zm-4 0zm-122 0z"/><path class="k5" d="M775 1332z"/><path class="k1" d="M978 1318zm0-6zm1 1zm1-3zm3 3zm1 5zm1 0zm1-4zm12 10zm-19-1zm-1-1zm-6 0zm-1 2zm0-1zm-137 9z"/><path class="k4" d="M820 1332z"/><path class="k3" d="M862 1332zm-117 0z"/><path class="k2" d="M851 1332z"/><path class="k5" d="M731 1332z"/><path class="k4" d="M853 1332z"/><path class="k3" d="M883 1332zm-54 0z"/><path class="k2" d="M850 1332zm-36 0z"/><path class="k6" d="M730 1332zm-36 0z"/><path class="k4" d="M787 1332z"/><path class="k1" d="M902 1331zm-8 0zm-6 0z"/><path class="k2" d="M895 1331zm-19 0zm-11 0zm-72 0z"/><path class="k3" d="M803 1331zm-31 0zm-16 0z"/><path class="k7" d="M738 1331z"/><path class="k2" d="M751 1331z"/><path class="k4" d="M809 1331z"/><path class="k1" d="M925 1331zm-146 0z"/><path class="k5" d="M745 1331z"/><path class="k4" d="M821 1331z"/><path class="k2" d="M850 1331zm-60 0z"/><path class="k3" d="M859 1331z"/><path class="k6" d="M762 1331z"/><path class="k5" d="M739 1331zm-9 0z"/><path class="k2" d="M877 1331zm-77 0z"/><path class="k3" d="M852 1331z"/><path class="k4" d="M835 1331z"/><path class="k2" d="M895 1331zm-8 0z"/><path class="k6" d="M708 1331z"/><path class="k5" d="M744 1331zm-44-1z"/><path class="k3" d="M851 1330zm-15 0z"/><path class="k4" d="M806 1330z"/><path class="k1" d="M914 1330z"/><path class="k5" d="M766 1330z"/><path class="k7" d="M736 1330z"/><path class="k2" d="M871 1330zm-8 0z"/><path class="k5" d="M778 1330zm-71 0z"/><path class="k3" d="M810 1330zm-61 0z"/><path class="k1" d="M901 1330zm-110 0z"/><path class="k3" d="M883 1330zm-12 0z"/><path class="k6" d="M756 1330zm-66 0z"/><path class="k4" d="M815 1330z"/><path class="k3" d="M763 1330z"/><path class="k2" d="M853 1330zm-3 0z"/><path class="k7" d="M766 1330zm-90-1z"/><path class="k5" d="M785 1330z"/><path class="k3" d="M869 1330zm-12 0z"/><path class="k2" d="M860 1330z"/><path class="k1" d="M914 1329z"/><path class="k3" d="M875 1329zm-42 0z"/><path class="k4" d="M769 1329z"/><path class="k6" d="M736 1329z"/><path class="k7" d="M751 1329z"/><path class="k5" d="M768 1329zm-66 0z"/><path class="k6" d="M708 1329zm-24 0z"/><path class="k2" d="M835 1329zm-26 0z"/><path class="k1" d="M906 1329zm-25 0zm-91 0z"/><path class="k5" d="M730 1329z"/><path class="k6" d="M757 1328zm-13 0zm-1 1zm-13-1zm-40 0z"/><path class="k2" d="M895 1329z"/><path class="k3" d="M887 1328z"/><path class="k4" d="M785 1328z"/><path class="k2" d="M917 1328zm-18 0zm-16 0zm-18 0zm-11 0zm-2 0zm-43 0zm-11 0z"/><path class="k4" d="M859 1328z"/><path class="k3" d="M847 1328z"/><path class="k1" d="M924 1328z"/><path class="k5" d="M834 1328zm-30 0zm-25 0zm-29 0z"/><path class="k2" d="M881 1327zm-5 0zm-89 1z"/><path class="k7" d="M742 1327zm-95-1zm0-1z"/><path class="k5" d="M731 1327zm-64-2z"/><path class="k3" d="M857 1327zm-48 0z"/><path class="k4" d="M767 1327z"/><path class="k5" d="M762 1327z"/><path class="k6" d="M745 1327z"/><path class="k2" d="M865 1327zm-75 0z"/><path class="k5" d="M780 1327zm-19 0z"/><path class="k4" d="M797 1327z"/><path class="k5" d="M757 1327z"/><path class="k2" d="M811 1327z"/><path class="k1" d="M895 1327z"/><path class="k4" d="M876 1327zm-132 0z"/><path class="k1" d="M853 1327z"/><path class="k2" d="M870 1327z"/><path class="k6" d="M749 1327z"/><path class="k1" d="M865 1327z"/><path class="k3" d="M860 1327z"/><path class="k2" d="M894 1326zm-16 0zm-33 1z"/><path class="k5" d="M828 1326zm-84 0zm-30 0z"/><path class="k2" d="M811 1326z"/><path class="k6" d="M767 1326zm-28 0z"/><path class="k2" d="M792 1326z"/><path class="k1" d="M889 1326z"/><path class="k6" d="M763 1326z"/><path class="k1" d="M786 1326z"/><path class="k2" d="M908 1326z"/><path class="k7" d="M781 1326z"/><path class="k5" d="M756 1326zm-25 0z"/><path class="k1" d="M872 1326z"/><path class="k3" d="M814 1326z"/><path class="k6" d="M761 1326zm-30-1z"/><path class="k5" d="M818 1326zm-110-1z"/><path class="k2" d="M893 1326zm-119 0z"/><path class="k3" d="M859 1326zm-1 0zm-2 0zm-70 0z"/><path class="k5" d="M796 1326z"/><path class="k2" d="M875 1326z"/><path class="k1" d="M930 1325zm-64 1z"/><path class="k2" d="M870 1326zm-17 0z"/><path class="k3" d="M821 1326z"/><path class="k1" d="M911 1325zm-5 0z"/><path class="k6" d="M792 1325zm-38 0z"/><path class="k1" d="M810 1325z"/><path class="k3" d="M833 1325z"/><path class="k2" d="M919 1325zm-47 0z"/><path class="k4" d="M845 1325zm-47 0z"/><path class="k7" d="M767 1325z"/><path class="k6" d="M743 1325z"/><path class="k1" d="M950 1323zm-2-1zm-59 3z"/><path class="k2" d="M895 1325zm-24-1z"/><path class="k5" d="M772 1324zm-23 0z"/><path class="k1" d="M935 1324zm-4 0zm-13 0zm-54 0z"/><path class="k6" d="M732 1324z"/><path class="k2" d="M882 1324zm-22 0zm-1 0z"/><path class="k5" d="M773 1324z"/><path class="k6" d="M737 1324z"/><path class="k1" d="M899 1324zm-15 0zm-31 0z"/><path class="k2" d="M888 1323zm-11 1zm0-1zm-6 0zm-91 1z"/><path class="k7" d="M731 1324z"/><path class="k3" d="M773 1324z"/><path class="k5" d="M809 1324z"/><path class="k7" d="M745 1324z"/><path class="k3" d="M817 1324zm-18-1z"/><path class="k5" d="M709 1324z"/><path class="k6" d="M754 1323zm-21 0zm-3 0zm-35 0zm-1 0z"/><path class="k5" d="M744 1323z"/><path class="k4" d="M828 1323z"/><path class="k6" d="M756 1323zm-37 0z"/><path class="k1" d="M926 1322zm-13 0zm-36 1zm-92 0z"/><path class="k3" d="M864 1323z"/><path class="k2" d="M851 1323z"/><path class="k5" d="M860 1323zm-104 0zm-5-1z"/><path class="k3" d="M844 1323zm-66-1z"/><path class="k2" d="M852 1323z"/><path class="k0" d="M1039 1323z"/><path class="k7" d="M682 1323zm-10-1z"/><path class="k1" d="M1002 1321zm-109 2z"/><path class="k4" d="M835 1322zm-69 0z"/><path class="k6" d="M821 1322z"/><path class="k2" d="M932 1321zm-9 1zm-49 0z"/><path class="k3" d="M866 1322zm-67 0z"/><path class="k2" d="M808 1322z"/><path class="k5" d="M815 1322zm-79 0z"/><path class="k3" d="M812 1322z"/><path class="k2" d="M785 1322z"/><path class="k6" d="M745 1322zm-51 0z"/><path class="k1" d="M974 1321zm-2-1zm-1 1zm0-1zm-93 2z"/><path class="k5" d="M755 1322z"/><path class="k3" d="M767 1322z"/><path class="k4" d="M856 1322z"/><path class="k2" d="M911 1321zm-36 1zm-11 0z"/><path class="k6" d="M787 1322zm-12 0z"/><path class="k1" d="M930 1321zm-79 1z"/><path class="k3" d="M809 1322z"/><path class="k2" d="M859 1322z"/><path class="k5" d="M731 1322z"/><path class="k1" d="M839 1321z"/><path class="k4" d="M850 1321zm-87 0z"/><path class="k5" d="M805 1321zm-7 0zm-11 0zm-56 0z"/><path class="k2" d="M889 1321zm-79 0z"/><path class="k3" d="M878 1321z"/><path class="k6" d="M736 1321zm-5 0z"/><path class="k5" d="M745 1321z"/><path class="k4" d="M749 1321z"/><path class="k7" d="M683 1321z"/><path class="k1" d="M905 1321z"/><path class="k2" d="M894 1320z"/><path class="k1" d="M935 1320zm-16 0zm-5 0zm-15 0z"/><path class="k3" d="M870 1320zm-89 0z"/><path class="k1" d="M912 1320zm-22 0z"/><path class="k2" d="M785 1320zm-16 0z"/><path class="k3" d="M851 1320zm-52 0z"/><path class="k4" d="M864 1320z"/><path class="k0" d="M1034 1317zm5-2zm5 5zm-4 0zm-7 0z"/><path class="k1" d="M991 1316zm-91 4zm-23 0z"/><path class="k6" d="M754 1320zm-15 0zm-38 0z"/><path class="k2" d="M913 1319zm18 0zm-77 1zm-75 0z"/><path class="k3" d="M828 1320z"/><path class="k2" d="M833 1320z"/><path class="k1" d="M944 1319zm27 0zm0-7zm0 0zm0-1zm1 4zm1 4zm0-3zm0-1zm0 0zm0-1zm0 0zm0-3zm1 8zm-114 1z"/><path class="k7" d="M671 1319zm66 0zm38 1zm-12 0z"/><path class="k4" d="M790 1320z"/><path class="k2" d="M865 1319zm13 0zm5 0zm11 0z"/><path class="k5" d="M810 1319z"/><path class="k7" d="M749 1319z"/><path class="k2" d="M829 1319z"/><path class="k5" d="M755 1319zm5 0z"/><path class="k7" d="M805 1319z"/><path class="k5" d="M802 1319z"/><path class="k2" d="M822 1319z"/><path class="k6" d="M744 1319z"/><path class="k4" d="M853 1319z"/><path class="k2" d="M870 1319zm13 0z"/><path class="k3" d="M816 1319zm72 0z"/><path class="k1" d="M868 1319zm33 0z"/><path class="k5" d="M730 1319zm2 0zm16-1zm2 0zm13 1z"/><path class="k4" d="M796 1318zm97 1z"/><path class="k2" d="M889 1318z"/><path class="k1" d="M876 1318z"/><path class="k2" d="M844 1318zm21 0zm24 0zm24 0z"/><path class="k6" d="M702 1317zm36 1zm34 0z"/><path class="k2" d="M808 1318z"/><path class="k3" d="M785 1318zm84 0z"/><path class="k2" d="M780 1318z"/><path class="k4" d="M775 1318zm84 0z"/><path class="k6" d="M742 1318z"/><path class="k7" d="M750 1318z"/><path class="k3" d="M854 1318zm2 0z"/><path class="k6" d="M730 1318z"/><path class="k4" d="M749 1317zm101 0zm26 1z"/><path class="k3" d="M834 1317z"/><path class="k6" d="M739 1317zm3 0z"/><path class="k5" d="M756 1317zm19 0z"/><path class="k2" d="M869 1317zm32 0z"/><path class="k1" d="M894 1317zm23 0z"/><path class="k3" d="M797 1317z"/><path class="k6" d="M768 1317z"/><path class="k3" d="M785 1317z"/><path class="k4" d="M792 1316z"/><path class="k3" d="M805 1316zm10 0z"/><path class="k2" d="M878 1316zm11 0z"/><path class="k5" d="M731 1316zm26 0z"/><path class="k3" d="M851 1316zm8 0zm6 0z"/><path class="k1" d="M918 1316z"/><path class="k2" d="M827 1316z"/><path class="k1" d="M853 1316z"/><path class="k3" d="M882 1316z"/><path class="k6" d="M739 1316z"/><path class="k0" d="M1034 1316zm0-1z"/><path class="k2" d="M890 1316z"/><path class="k4" d="M815 1316zm19-1z"/><path class="k7" d="M760 1316z"/><path class="k6" d="M748 1316z"/><path class="k1" d="M912 1316zm80-3zm16 0zm8 0z"/><path class="k3" d="M790 1316zm97 0z"/><path class="k4" d="M845 1316z"/><path class="k5" d="M780 1316z"/><path class="k7" d="M744 1315z"/><path class="k2" d="M823 1315z"/><path class="k5" d="M730 1315zm44 0z"/><path class="k1" d="M919 1315z"/><path class="k6" d="M738 1315z"/><path class="k3" d="M834 1315zm25 0z"/><path class="k4" d="M769 1315zm82 0z"/><path class="k6" d="M733 1315zm4 0zm8 0zm78 0z"/><path class="k2" d="M901 1315z"/><path class="k1" d="M884 1315z"/><path class="k4" d="M863 1315z"/><path class="k1" d="M869 1315z"/><path class="k5" d="M808 1315zm7 0z"/><path class="k2" d="M893 1315z"/><path class="k1" d="M882 1315z"/><path class="k3" d="M871 1315z"/><path class="k2" d="M875 1315z"/><path class="k6" d="M769 1315z"/><path class="k5" d="M730 1315z"/><path class="k4" d="M827 1315z"/><path class="k1" d="M917 1315z"/><path class="k2" d="M787 1315zm127 0z"/><path class="k1" d="M887 1315z"/><path class="k2" d="M901 1315zm11-1z"/><path class="k6" d="M709 1314zm0 0zm21 0zm1 0z"/><path class="k1" d="M890 1314z"/><path class="k5" d="M761 1314zm7 0z"/><path class="k6" d="M756 1314z"/><path class="k2" d="M773 1314zm77 0z"/><path class="k5" d="M733 1314zm0 0zm36 0z"/><path class="k3" d="M894 1314z"/><path class="k4" d="M817 1314z"/><path class="k1" d="M877 1314zm53-1z"/><path class="k4" d="M851 1314zm9 0z"/><path class="k3" d="M856 1314zm14 0z"/><path class="k4" d="M853 1314z"/><path class="k2" d="M864 1314zm49-1z"/><path class="k6" d="M706 1313zm72 0z"/><path class="k7" d="M757 1313z"/><path class="k5" d="M829 1313z"/><path class="k1" d="M917 1313zm7-1z"/><path class="k7" d="M793 1313z"/><path class="k3" d="M793 1313zm57-1z"/><path class="k4" d="M768 1313zm36-1z"/><path class="k2" d="M896 1312z"/><path class="k3" d="M875 1312z"/><path class="k1" d="M905 1312z"/><path class="k2" d="M918 1312z"/><path class="k6" d="M750 1312z"/><path class="k5" d="M743 1312zm37 0zm29 0zm8 0z"/><path class="k3" d="M797 1312zm85 0zm11 0z"/><path class="k6" d="M736 1312z"/><path class="k2" d="M857 1312zm6 0zm25 0z"/><path class="k3" d="M852 1312zm17 0z"/><path class="k5" d="M732 1312z"/><path class="k7" d="M733 1312z"/><path class="k2" d="M872 1312zm27 0z"/><path class="k4" d="M847 1312z"/><path class="k3" d="M811 1312zm4-1zm6 1zm74 0z"/><path class="k1" d="M920 1311zm12 1z"/><path class="k6" d="M736 1312z"/><path class="k4" d="M883 1311z"/><path class="k3" d="M847 1311zm18 0z"/><path class="k7" d="M773 1311z"/><path class="k2" d="M911 1311z"/><path class="k1" d="M925 1311z"/><path class="k3" d="M757 1311z"/><path class="k2" d="M894 1311zm36 0z"/><path class="k3" d="M851 1311z"/><path class="k2" d="M869 1311z"/><path class="k3" d="M876 1311z"/><path class="k5" d="M748 1311z"/><path class="k1" d="M937 1311zm29-1zm6 1zm0-2z"/><path class="k2" d="M887 1311zm20-1zm13 1z"/><path class="k6" d="M748 1311z"/><path class="k3" d="M852 1311zm7 0z"/><path class="k4" d="M742 1311zm75 0z"/><path class="k0" d="M1045 1310zm8 1z"/><path class="k7" d="M798 1311z"/><path class="k2" d="M864 1310zm19 0zm17 0z"/><path class="k6" d="M731 1310z"/><path class="k5" d="M769 1310zm11 0zm12 0z"/><path class="k6" d="M733 1310z"/><path class="k5" d="M756 1310z"/><path class="k7" d="M701 1310z"/><path class="k6" d="M707 1310zm5 0z"/><path class="k5" d="M755 1310z"/><path class="k3" d="M886 1310z"/><path class="k2" d="M857 1310zm26 0zm22 0zm21 0z"/><path class="k1" d="M779 1310zm90 0zm183 0z"/><path class="k5" d="M751 1310zm15 0z"/><path class="k4" d="M811 1310z"/><path class="k2" d="M853 1310zm42 0z"/><path class="k1" d="M804 1309zm97 1zm23-1z"/><path class="k2" d="M871 1309zm34 0zm8 0zm4 0zm19 0zm17 0z"/><path class="k7" d="M730 1309z"/><path class="k3" d="M767 1309zm74 0z"/><path class="k0" d="M1034 1309zm11-2zm6-1zm1-1zm5 1zm4-1zm13-1z"/><path class="k5" d="M739 1309z"/><path class="k6" d="M708 1309z"/><path class="k2" d="M769 1309zm107 0z"/><path class="k4" d="M829 1309z"/><path class="k2" d="M797 1309z"/><path class="k5" d="M730 1309z"/><path class="k1" d="M973 1309zm0-1zm5 0z"/><path class="k3" d="M869 1309z"/><path class="k7" d="M671 1305zm110 4z"/><path class="k4" d="M792 1308z"/><path class="k6" d="M739 1308zm36 0zm16 0z"/><path class="k2" d="M888 1308zm11 0zm38 0z"/><path class="k3" d="M865 1308z"/><path class="k2" d="M851 1308zm30 0z"/><path class="k4" d="M798 1308zm42 0zm54 0z"/><path class="k2" d="M836 1307zm17 1zm12 0zm31 0z"/><path class="k1" d="M972 1308z"/><path class="k7" d="M749 1308z"/><path class="k3" d="M768 1308zm17-1zm98 1zm11 0zm25 0z"/><path class="k2" d="M948 1308z"/><path class="k6" d="M731 1308z"/><path class="k1" d="M929 1307zm45 0zm9 0z"/><path class="k7" d="M823 1307z"/><path class="k3" d="M906 1307z"/><path class="k2" d="M895 1307zm106 0z"/><path class="k5" d="M772 1307z"/><path class="k6" d="M739 1307zm9 0zm43 0zm2 0z"/><path class="k1" d="M882 1307zm89 0zm32 0z"/><path class="k2" d="M863 1307zm55 0z"/><path class="k1" d="M905 1307z"/><path class="k4" d="M858 1307z"/><path class="k3" d="M851 1307z"/><path class="k4" d="M812 1307zm54 0z"/><path class="k3" d="M871 1307z"/><path class="k2" d="M882 1307zm61 0z"/><path class="k3" d="M895 1307z"/><path class="k2" d="M871 1307zm36 0z"/><path class="k1" d="M852 1307zm50-1zm78 1zm0 0z"/><path class="k2" d="M856 1307zm38-1zm30 0zm30 0z"/><path class="k4" d="M826 1307z"/><path class="k7" d="M760 1307z"/><path class="k5" d="M750 1306z"/><path class="k0" d="M1045 1306zm0-2zm1-1z"/><path class="k2" d="M821 1306z"/><path class="k6" d="M730 1306zm8 0z"/><path class="k4" d="M851 1306z"/><path class="k3" d="M803 1306z"/><path class="k2" d="M883 1306z"/><path class="k6" d="M774 1306z"/><path class="k5" d="M733 1306zm11 0zm37 0zm94 0z"/><path class="k6" d="M742 1305zm3 1zm5 0z"/><path class="k2" d="M866 1306zm5 0zm40 0z"/><path class="k1" d="M823 1306zm30 0zm126-1zm1-1zm60-1z"/><path class="k3" d="M881 1306zm14 0z"/><path class="k2" d="M889 1306zm22-1zm21 0z"/><path class="k4" d="M851 1306z"/><path class="k3" d="M860 1306z"/><path class="k5" d="M731 1305zm24 0zm14 0zm42 0z"/><path class="k4" d="M779 1305zm123 0z"/><path class="k3" d="M863 1305zm12 0z"/><path class="k6" d="M737 1305zm73-1z"/><path class="k1" d="M965 1305zm9 0z"/><path class="k2" d="M918 1305zm6 0z"/><path class="k4" d="M872 1304zm28 1z"/><path class="k7" d="M739 1304z"/><path class="k5" d="M760 1304z"/><path class="k2" d="M895 1304z"/><path class="k3" d="M853 1304zm35 0z"/><path class="k1" d="M896 1304zm35 0zm11 0z"/><path class="k4" d="M858 1304z"/><path class="k3" d="M887 1304z"/><path class="k2" d="M881 1304zm30 0zm27 0zm42 0z"/><path class="k1" d="M917 1303zm31 0zm23 1zm0-1zm1 0zm2 0zm3 0zm15 0z"/><path class="k6" d="M721 1303zm33 1zm12 0z"/><path class="k3" d="M838 1304zm62-1z"/><path class="k5" d="M780 1304z"/><path class="k7" d="M774 1304z"/><path class="k4" d="M816 1303zm66 0z"/><path class="k6" d="M730 1303zm7 0zm6 0zm19 0z"/><path class="k3" d="M865 1303z"/><path class="k4" d="M850 1303zm1 0zm37 0z"/><path class="k2" d="M787 1303zm84 0zm41 0z"/><path class="k1" d="M893 1303z"/><path class="k4" d="M854 1303zm24 0z"/><path class="k2" d="M858 1303z"/><path class="k3" d="M883 1303z"/><path class="k4" d="M864 1303z"/><path class="k7" d="M738 1303z"/><path class="k6" d="M731 1302zm1 1zm18-1zm16 0zm18 1z"/><path class="k5" d="M744 1302zm72 0zm36 1z"/><path class="k1" d="M852 1302zm72 1z"/><path class="k0" d="M1037 1302z"/><path class="k1" d="M995 1302zm20 0zm31-1zm22 1z"/><path class="k2" d="M944 1302z"/><path class="k1" d="M972 1302zm0-1zm0 0zm2 0zm6 0zm0-1zm4 2z"/><path class="k6" d="M796 1302z"/><path class="k3" d="M901 1302z"/><path class="k1" d="M863 1302zm31 0z"/><path class="k4" d="M858 1302zm14 0zm9 0z"/><path class="k2" d="M791 1302zm59 0zm68 0zm5 0z"/><path class="k1" d="M905 1302z"/><path class="k2" d="M887 1302zm24 0zm7 0z"/><path class="k7" d="M742 1301z"/><path class="k4" d="M836 1301zm83 0z"/><path class="k5" d="M767 1301z"/><path class="k6" d="M730 1301z"/><path class="k2" d="M913 1301z"/><path class="k1" d="M931 1301z"/><path class="k3" d="M894 1301z"/><path class="k5" d="M757 1301z"/><path class="k2" d="M851 1301zm50 0z"/><path class="k3" d="M790 1301zm88-1zm58 1z"/><path class="k6" d="M724 1301z"/><path class="k7" d="M769 1301z"/><path class="k5" d="M742 1301z"/><path class="k4" d="M780 1301z"/><path class="k3" d="M798 1300z"/><path class="k2" d="M881 1300z"/><path class="k4" d="M894 1300z"/><path class="k3" d="M852 1300zm5 0zm27 0z"/><path class="k6" d="M719 1300zm17 0zm19 0z"/><path class="k2" d="M900 1300zm24 0z"/><path class="k3" d="M860 1300z"/><path class="k1" d="M863 1300zm7 0zm101 0z"/><path class="k3" d="M872 1300z"/><path class="k2" d="M877 1300zm101 0z"/><path class="k4" d="M773 1300zm37 0z"/><path class="k5" d="M743 1300zm17 0z"/><path class="k1" d="M902 1300zm106 0z"/><path class="k2" d="M973 1300z"/><path class="k6" d="M731 1300zm1 0zm60 0z"/><path class="k5" d="M736 1300z"/><path class="k1" d="M978 1299z"/><path class="k3" d="M893 1299z"/><path class="k2" d="M905 1299zm7 0zm20 0zm41 0z"/><path class="k3" d="M888 1299z"/><path class="k7" d="M739 1299z"/><path class="k4" d="M845 1299z"/><path class="k1" d="M943 1299zm28-1zm3 1zm3 0zm0-1z"/><path class="k2" d="M851 1299z"/><path class="k3" d="M866 1299zm17 0z"/><path class="k4" d="M852 1299z"/><path class="k2" d="M858 1299zm11 0z"/><path class="k6" d="M732 1299z"/><path class="k0" d="M1069 1299zm2-1zm16-5z"/><path class="k7" d="M768 1299zm46-1z"/><path class="k3" d="M799 1298zm51 0zm31 0z"/><path class="k5" d="M744 1298zm157 0z"/><path class="k6" d="M761 1298z"/><path class="k7" d="M737 1298z"/><path class="k4" d="M804 1298z"/><path class="k5" d="M757 1298z"/><path class="k7" d="M750 1298zm40 0z"/><path class="k2" d="M888 1298zm2 0zm4 0zm12 0zm5 0zm13 0zm6 0z"/><path class="k1" d="M973 1298zm66 0z"/><path class="k6" d="M805 1298z"/><path class="k0" d="M1037 1298z"/><path class="k4" d="M871 1298z"/><path class="k2" d="M850 1298zm86 0zm54 0z"/><path class="k1" d="M875 1298zm92-1zm7 0zm0 0zm47 0zm17 0zm5 0z"/><path class="k4" d="M851 1298z"/><path class="k3" d="M791 1298zm68 0zm24 0z"/><path class="k1" d="M863 1298zm62 0z"/><path class="k2" d="M812 1297zm56 1zm103-1z"/><path class="k4" d="M865 1298z"/><path class="k5" d="M745 1297zm5 0zm35 0zm128 0z"/><path class="k3" d="M899 1297z"/><path class="k1" d="M926 1297z"/><path class="k4" d="M913 1297z"/><path class="k2" d="M943 1297z"/><path class="k0" d="M1075 1297z"/><path class="k6" d="M760 1297z"/><path class="k1" d="M877 1297zm37 0zm18-1zm40-1zm2 1zm69 0z"/><path class="k3" d="M796 1297z"/><path class="k2" d="M895 1296z"/><path class="k3" d="M893 1296z"/><path class="k4" d="M888 1296z"/><path class="k5" d="M745 1296z"/><path class="k2" d="M866 1296z"/><path class="k3" d="M853 1296zm25 0z"/><path class="k7" d="M768 1296z"/><path class="k5" d="M737 1296zm2 0zm22 0z"/><path class="k4" d="M860 1296zm4 0zm7 0z"/><path class="k3" d="M876 1296z"/><path class="k4" d="M850 1296zm40 0z"/><path class="k0" d="M1075 1296z"/><path class="k6" d="M745 1296z"/><path class="k1" d="M935 1295zm106 1z"/><path class="k5" d="M743 1296zm170-1z"/><path class="k6" d="M738 1295zm23 0z"/><path class="k5" d="M792 1295z"/><path class="k1" d="M834 1295z"/><path class="k5" d="M810 1295z"/><path class="k2" d="M972 1295z"/><path class="k3" d="M799 1295zm101 0z"/><path class="k5" d="M785 1295z"/><path class="k1" d="M920 1295zm57 0zm13 0z"/><path class="k2" d="M906 1295zm24 0z"/><path class="k3" d="M864 1295z"/><path class="k2" d="M883 1295z"/><path class="k3" d="M887 1295z"/><path class="k4" d="M890 1295z"/><path class="k2" d="M875 1295zm39 0z"/><path class="k1" d="M948 1295zm24 0z"/><path class="k5" d="M858 1295z"/><path class="k2" d="M851 1295zm90 0zm30-1z"/><path class="k4" d="M869 1295z"/><path class="k3" d="M854 1295zm40-1z"/><path class="k6" d="M743 1295zm54 0z"/><path class="k5" d="M738 1295zm25 0z"/><path class="k6" d="M739 1294z"/><path class="k5" d="M775 1294z"/><path class="k2" d="M851 1294zm24 0zm42 0z"/><path class="k1" d="M984 1294z"/><path class="k2" d="M989 1294z"/><path class="k1" d="M971 1294zm57 0z"/><path class="k4" d="M887 1294zm18 0z"/><path class="k2" d="M872 1294zm41 0zm60 0z"/><path class="k6" d="M756 1294zm7 0zm24 0z"/><path class="k1" d="M911 1294z"/><path class="k2" d="M947 1294z"/><path class="k3" d="M851 1294z"/><path class="k4" d="M871 1294z"/><path class="k1" d="M859 1294z"/><path class="k5" d="M853 1294zm30 0z"/><path class="k3" d="M865 1294zm47 0z"/><path class="k5" d="M858 1294z"/><path class="k3" d="M863 1294zm36 0z"/><path class="k4" d="M851 1293zm67 0z"/><path class="k3" d="M836 1293z"/><path class="k0" d="M1034 1293z"/><path class="k7" d="M743 1293z"/><path class="k5" d="M794 1293z"/><path class="k1" d="M781 1293zm167 0zm84 0zm7-1zm18 0z"/><path class="k4" d="M787 1293z"/><path class="k2" d="M926 1293z"/><path class="k1" d="M944 1293z"/><path class="k2" d="M938 1293z"/><path class="k7" d="M772 1293z"/><path class="k3" d="M905 1293z"/><path class="k5" d="M804 1293z"/><path class="k7" d="M785 1293z"/><path class="k5" d="M744 1293z"/><path class="k1" d="M971 1293zm9 0z"/><path class="k6" d="M731 1293zm1-1zm6 0zm28 1zm6-1zm39 1z"/><path class="k4" d="M870 1293zm23 0z"/><path class="k2" d="M972 1292zm2 1z"/><path class="k3" d="M876 1292z"/><path class="k2" d="M889 1292zm24 0z"/><path class="k1" d="M877 1292zm97 0zm10 0z"/><path class="k2" d="M899 1292zm81 0zm12 0z"/><path class="k4" d="M863 1292z"/><path class="k3" d="M856 1292z"/><path class="k4" d="M850 1292z"/><path class="k3" d="M852 1292z"/><path class="k5" d="M761 1292zm128 0z"/><path class="k3" d="M930 1292z"/><path class="k6" d="M792 1292z"/><path class="k4" d="M827 1292zm3 0zm20 0z"/><path class="k5" d="M755 1292zm49 0zm0-1z"/><path class="k2" d="M871 1292zm37 0z"/><path class="k3" d="M924 1292z"/><path class="k1" d="M971 1292zm61-2z"/><path class="k2" d="M887 1291zm87 0zm0 0zm5 0z"/><path class="k4" d="M881 1291zm13 0zm7 0zm10 0z"/><path class="k3" d="M850 1291zm68 0z"/><path class="k4" d="M869 1291z"/><path class="k7" d="M853 1291z"/><path class="k6" d="M730 1291z"/><path class="k4" d="M857 1291z"/><path class="k2" d="M872 1291z"/><path class="k4" d="M865 1291zm18 0z"/><path class="k3" d="M859 1291zm59 0z"/><path class="k5" d="M748 1291z"/><path class="k2" d="M911 1291z"/><path class="k4" d="M917 1291zm30 0z"/><path class="k6" d="M737 1291z"/><path class="k5" d="M751 1290zm9 0zm15 0z"/><path class="k3" d="M937 1290z"/><path class="k1" d="M850 1290z"/><path class="k2" d="M972 1290z"/><path class="k1" d="M930 1290zm41 0zm2 0zm12 0z"/><path class="k3" d="M893 1290z"/><path class="k2" d="M926 1290zm65 0z"/><path class="k4" d="M872 1290z"/><path class="k6" d="M732 1289zm7 0zm6 0zm12 0zm22 1zm114 0z"/><path class="k7" d="M828 1290z"/><path class="k4" d="M883 1290z"/><path class="k3" d="M906 1290z"/><path class="k1" d="M901 1290zm70-1zm9 0z"/><path class="k5" d="M755 1288zm104 2z"/><path class="k4" d="M878 1290z"/><path class="k3" d="M854 1290zm57 0zm1 0z"/><path class="k1" d="M852 1290z"/><path class="k2" d="M865 1290z"/><path class="k3" d="M901 1290z"/><path class="k2" d="M893 1289zm7 0z"/><path class="k4" d="M871 1289zm12 0z"/><path class="k2" d="M926 1289z"/><path class="k6" d="M811 1289z"/><path class="k3" d="M912 1289z"/><path class="k2" d="M845 1289zm87 0z"/><path class="k3" d="M895 1289z"/><path class="k6" d="M851 1289z"/><path class="k2" d="M863 1289z"/><path class="k5" d="M768 1289zm17-1z"/><path class="k1" d="M900 1289zm72-1z"/><path class="k0" d="M1070 1288z"/><path class="k2" d="M978 1288zm6 0z"/><path class="k1" d="M1034 1286zm5 2zm7-2zm0-1zm64 1z"/><path class="k6" d="M774 1288z"/><path class="k3" d="M882 1288z"/><path class="k2" d="M858 1288zm13 0zm23 0zm19 0z"/><path class="k5" d="M750 1288z"/><path class="k3" d="M863 1288z"/><path class="k5" d="M850 1288z"/><path class="k6" d="M737 1288zm1 0zm48 0z"/><path class="k7" d="M774 1288z"/><path class="k4" d="M871 1288zm52 0z"/><path class="k1" d="M850 1288zm86 0z"/><path class="k2" d="M894 1288zm72 0zm6 0z"/><path class="k1" d="M973 1288zm36 0z"/><path class="k3" d="M883 1287zm17 1z"/><path class="k7" d="M827 1287z"/><path class="k3" d="M864 1287z"/><path class="k2" d="M803 1287zm120 0zm63 0z"/><path class="k4" d="M860 1287z"/><path class="k3" d="M881 1287zm31 0zm6 0z"/><path class="k6" d="M754 1287z"/><path class="k1" d="M973 1287z"/><path class="k5" d="M769 1287zm83 0z"/><path class="k2" d="M882 1287zm20 0z"/><path class="k1" d="M850 1287z"/><path class="k3" d="M877 1287zm28 0zm3 0z"/><path class="k7" d="M773 1287zm49 0z"/><path class="k2" d="M889 1286zm37 1zm15-1z"/><path class="k4" d="M899 1286zm8 0z"/><path class="k3" d="M895 1286zm17 0z"/><path class="k6" d="M736 1286zm2 0zm18 0zm17 0z"/><path class="k1" d="M971 1286zm13 0z"/><path class="k5" d="M872 1286z"/><path class="k2" d="M888 1286zm84 0zm6 0z"/><path class="k4" d="M857 1286zm61 0z"/><path class="k2" d="M852 1286zm78 0zm7 0z"/><path class="k5" d="M866 1286z"/><path class="k7" d="M750 1286zm4 0zm27-1z"/><path class="k2" d="M863 1286z"/><path class="k3" d="M871 1286z"/><path class="k4" d="M856 1286z"/><path class="k1" d="M992 1285z"/><path class="k5" d="M781 1285zm12 0zm85 0z"/><path class="k2" d="M972 1285zm38 0z"/><path class="k3" d="M882 1285zm24 0zm2 0z"/><path class="k1" d="M1031 1285zm9 0zm6-1z"/><path class="k2" d="M847 1285zm154 0z"/><path class="k1" d="M978 1285zm54 0zm2 0z"/><path class="k3" d="M852 1285zm35 0z"/><path class="k0" d="M1111 1279zm-37 5zm19 1zm2-1zm57 0z"/><path class="k6" d="M737 1285zm8 0zm17-1z"/><path class="k1" d="M917 1285zm114-1zm3-3zm4 1zm1-1zm1 2zm11-1z"/><path class="k2" d="M973 1285zm12-1z"/><path class="k3" d="M932 1284z"/><path class="k2" d="M893 1284zm3 0zm29 0z"/><path class="k5" d="M749 1284z"/><path class="k3" d="M871 1284z"/><path class="k1" d="M857 1284zm115 0z"/><path class="k2" d="M859 1284zm42 0zm28 0z"/><path class="k4" d="M896 1284z"/><path class="k2" d="M866 1284z"/><path class="k4" d="M850 1284zm4 0zm9 0z"/><path class="k1" d="M917 1284zm12 0zm43 0z"/><path class="k7" d="M851 1284z"/><path class="k6" d="M738 1284z"/><path class="k3" d="M901 1284z"/><path class="k2" d="M851 1284zm24 0zm96-1zm9 0z"/><path class="k3" d="M817 1284zm59-1zm7 0zm6 0z"/><path class="k5" d="M760 1283zm172 0z"/><path class="k6" d="M768 1283z"/><path class="k5" d="M756 1283zm17 0z"/><path class="k2" d="M863 1283zm1 0z"/><path class="k6" d="M751 1283zm61 0z"/><path class="k1" d="M978 1283zm14 0z"/><path class="k5" d="M754 1283z"/><path class="k2" d="M851 1283z"/><path class="k3" d="M857 1283zm32 0zm88 0z"/><path class="k4" d="M906 1283zm18-1z"/><path class="k2" d="M853 1283z"/><path class="k6" d="M744 1283zm108 0z"/><path class="k5" d="M763 1282zm6 1z"/><path class="k6" d="M745 1282zm5 0zm11 0z"/><path class="k5" d="M803 1282z"/><path class="k4" d="M871 1282z"/><path class="k1" d="M971 1282zm0 0zm7 0zm26 0z"/><path class="k3" d="M890 1282zm22 0z"/><path class="k1" d="M881 1282z"/><path class="k0" d="M1083 1282z"/><path class="k1" d="M1046 1282zm16-1z"/><path class="k3" d="M859 1282zm10 0zm38 0z"/><path class="k6" d="M810 1282z"/><path class="k3" d="M850 1282z"/><path class="k2" d="M902 1282zm72 0zm3 0z"/><path class="k4" d="M881 1282z"/><path class="k2" d="M864 1282z"/><path class="k3" d="M926 1282z"/><path class="k2" d="M894 1282z"/><path class="k4" d="M853 1282zm30 0zm18 0zm10 0z"/><path class="k3" d="M863 1281z"/><path class="k5" d="M803 1281z"/><path class="k6" d="M781 1281zm22 0z"/><path class="k1" d="M986 1281z"/><path class="k2" d="M851 1281zm24 0zm37 0zm30 0z"/><path class="k3" d="M889 1281z"/><path class="k6" d="M851 1281z"/><path class="k1" d="M971 1281z"/><path class="k2" d="M972 1281z"/><path class="k4" d="M894 1281z"/><path class="k1" d="M950 1281zm23 0zm6 0zm6 0z"/><path class="k5" d="M762 1281zm10 0zm3 0z"/><path class="k2" d="M851 1281z"/><path class="k4" d="M872 1281z"/><path class="k2" d="M864 1281z"/><path class="k6" d="M754 1280zm31 0z"/><path class="k5" d="M905 1280z"/><path class="k6" d="M862 1280z"/><path class="k3" d="M852 1280zm23 0zm18 0zm19 0zm66 0z"/><path class="k4" d="M857 1280z"/><path class="k2" d="M901 1280zm22 0zm13 0z"/><path class="k3" d="M851 1280z"/><path class="k1" d="M918 1280zm67 0z"/><path class="k3" d="M1003 1280z"/><path class="k7" d="M748 1280z"/><path class="k6" d="M774 1280z"/><path class="k2" d="M890 1279zm3 1z"/><path class="k1" d="M971 1279zm69 1z"/><path class="k4" d="M872 1279z"/><path class="k2" d="M983 1279zm-9 0zm-2 0zm-36 0zm-24 0zm-6 0zm-23 0z"/><path class="k7" d="M797 1279z"/><path class="k0" d="M1104 1279zm-48 0z"/><path class="k5" d="M775 1279z"/><path class="k6" d="M851 1279zm-95 0z"/><path class="k1" d="M1058 1279zm-20-1z"/><path class="k5" d="M763 1279z"/><path class="k3" d="M980 1279zm-9 0zm-118 0z"/><path class="k6" d="M742 1279z"/><path class="k1" d="M1019 1279zm-22-1zm-17 0zm-8 0zm0 0zm-113 1z"/><path class="k2" d="M881 1279z"/><path class="k3" d="M901 1279z"/><path class="k2" d="M917 1279z"/><path class="k6" d="M851 1279z"/><path class="k2" d="M874 1279z"/><path class="k4" d="M881 1279z"/><path class="k3" d="M893 1279z"/><path class="k2" d="M896 1279z"/><path class="k7" d="M870 1279z"/><path class="k5" d="M762 1279z"/><path class="k1" d="M936 1278z"/><path class="k3" d="M883 1278z"/><path class="k5" d="M880 1278z"/><path class="k4" d="M864 1278zm-11 0zm-3 0z"/><path class="k6" d="M767 1278z"/><path class="k7" d="M787 1278z"/><path class="k2" d="M912 1278z"/><path class="k3" d="M859 1278z"/><path class="k4" d="M905 1278zm-4 0zm-47 0z"/><path class="k3" d="M931 1278zm-50 0z"/><path class="k1" d="M853 1278z"/></g>
<path d="M107.50 379.9v5.5M258.22 379.9v5.5M408.94 379.9v5.5M559.66 379.9v5.5M710.38 379.9v5.5M861.10 379.9v5.5M102.0 369.45h-5.5M102.0 278.79h-5.5M102.0 188.14h-5.5M102.0 97.48h-5.5" stroke="#333" stroke-width="2.13" fill="none"/>
<g font-size="17.6" fill="#4D4D4D" text-anchor="middle">
<text x="107.50" y="404.6">0</text>
<text x="258.22" y="404.6">1</text>
<text x="408.94" y="404.6">2</text>
<text x="559.66" y="404.6">3</text>
<text x="710.38" y="404.6">4</text>
<text x="861.10" y="404.6">5</text>
</g><g font-size="17.6" fill="#4D4D4D" text-anchor="end">
<text x="92.2" y="376.55" letter-spacing="0.35">0</text>
<text x="92.2" y="285.89" letter-spacing="0.35">5000</text>
<text x="92.2" y="195.24" letter-spacing="0.35">10000</text>
<text x="92.2" y="104.58" letter-spacing="0.35">15000</text>
</g>
<text x="500.4" y="432.8" font-size="23" text-anchor="middle">carat</text>
<text transform="translate(28.5 196.1) rotate(-90)" font-size="23" text-anchor="middle">price</text>
<text x="932.4" y="54.8" font-size="23">clarity</text>
<rect x="933" y="69" width="36" height="288" fill="#EBEBEB"/>
<circle cx="951" cy="87" r="4.9" fill="#FFFF99"/>
<text x="980" y="93.9" font-size="18.4">I1</text>
<circle cx="951" cy="123" r="4.9" fill="#FFC78A"/>
<text x="980" y="129.9" font-size="18.4">SI2</text>
<circle cx="951" cy="159" r="4.9" fill="#FDB453"/>
<text x="980" y="165.9" font-size="18.4">SI1</text>
<circle cx="951" cy="195" r="4.9" fill="#BA6E45"/>
<text x="980" y="201.9" font-size="18.4">VS2</text>
<circle cx="951" cy="231" r="4.9" fill="#A070A0"/>
<text x="980" y="237.9" font-size="18.4">VS1</text>
<circle cx="951" cy="267" r="4.9" fill="#A3B5EB"/>
<text x="980" y="273.9" font-size="18.4">VVS2</text>
<circle cx="951" cy="303" r="4.9" fill="#3E70D6"/>
<text x="980" y="309.9" font-size="18.4">VVS1</text>
<circle cx="951" cy="339" r="4.9" fill="#05659C"/>
<text x="980" y="345.9" font-size="18.4">IF</text>
<rect x="253.66" y="402.79" width="3.84" height="2.91" fill="#fff"/>
<rect x="259.55" y="402.79" width="3.85" height="2.91" fill="#fff"/>
<rect x="41.85" y="193.43" width="3.84" height="2.91" fill="#fff"/>
<rect x="47.74" y="193.43" width="3.85" height="2.91" fill="#fff"/>
<rect x="41.85" y="102.77" width="3.84" height="2.91" fill="#fff"/>
<rect x="47.74" y="102.77" width="3.85" height="2.91" fill="#fff"/>
<rect x="985.51" y="92.03" width="3.98" height="2.97" fill="#fff"/>
<rect x="991.61" y="92.03" width="3.98" height="2.97" fill="#fff"/>
<rect x="997.78" y="164.03" width="3.98" height="2.97" fill="#fff"/>
<rect x="1003.88" y="164.03" width="3.98" height="2.97" fill="#fff"/>
<rect x="1004.93" y="236.03" width="3.98" height="2.97" fill="#fff"/>
<rect x="1011.03" y="236.03" width="3.98" height="2.97" fill="#fff"/>
<rect x="1017.20" y="308.03" width="3.98" height="2.97" fill="#fff"/>
<rect x="1023.30" y="308.03" width="3.98" height="2.97" fill="#fff"/>
</svg></body></html>
